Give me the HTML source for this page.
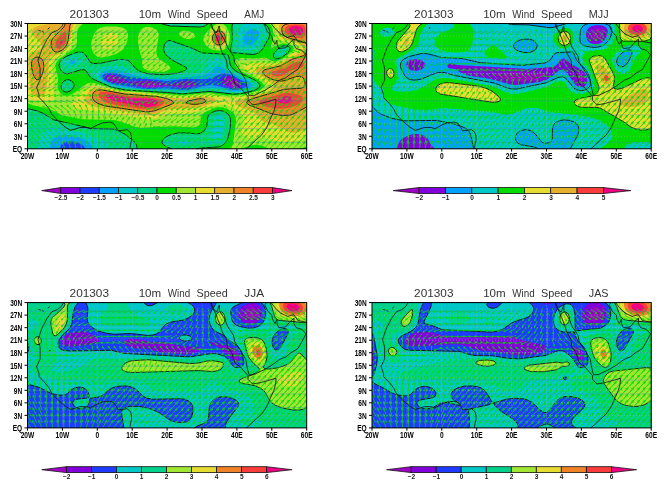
<!DOCTYPE html>
<html><head><meta charset="utf-8"><title>10m Wind Speed</title>
<style>html,body{margin:0;padding:0;background:#fff;}body{width:667px;height:490px;overflow:hidden;font-family:"Liberation Sans",sans-serif;}svg{display:block;}</style></head>
<body>
<svg width="667" height="490" viewBox="0 0 667 490" font-family="'Liberation Sans', sans-serif" shape-rendering="geometricPrecision">
<defs><filter id="gs" x="-5%" y="-5%" width="110%" height="110%" color-interpolation-filters="sRGB"><feColorMatrix type="saturate" values="0"/></filter><clipPath id="clip"><rect x="0" y="0" width="279.2" height="125.3"/></clipPath></defs>
<rect width="667" height="490" fill="#fff"/>
<g transform="translate(27.5,23.5)">
<rect x="0" y="0" width="279.2" height="125.3" fill="#a000c8"/>
<path fill="#8200dc" fill-rule="evenodd" d="M0 125.3L279.2 125.3L279.2 0L0 0L0 125.3ZM83.8 57L82 56.3L80.4 54.3L82 53.4L83.8 53.1L87.2 53.5L89.6 54.3L91.8 56.4L90.7 57.2L89 57.7L85.5 57.5L83.8 57ZM116.9 62.7L113.6 60.6L116.9 59.4L122.1 59L129.1 60.1L131 60.6L130.1 62.6L122.1 63.2L116.9 62.7ZM204.2 63.1L202.4 62.6L199.4 60.6L198.2 58.5L198.4 56.4L198.9 55.8L200.7 54.7L202.4 54.6L205.9 55.8L209.5 58.5L210.7 60.6L209.4 62.7L207.7 63.2L205.9 63.3L204.2 63.1Z"/>
<path fill="#1e3cff" fill-rule="evenodd" d="M0 125.3L279.2 125.3L279.2 0L0 0L0 125.3ZM155.3 64.8L143.2 62.6L141.3 61.8L140.2 62.6L125.6 64.6L116.9 64.2L109.1 62.6L104.7 60.8L103.5 60.6L103 59.8L101.2 59.2L92.5 59.9L87.2 59.5L83.4 58.5L79.2 56.4L77.4 54.3L78.5 52.1L80.3 51.5L83.8 51.1L87.2 51.5L94.9 54.3L98.7 56.4L99.5 57.2L101.2 58L120.4 57.1L132.6 58.7L139.6 60.3L143.1 60.4L155.3 57.7L162.3 57.6L167.5 58.5L170 60.6L167.5 62.7L158.7 64.7L155.3 64.8ZM204.2 64.8L198.1 62.6L195.2 60.6L193.8 58.5L193.9 56.4L195.4 54.1L197.2 52.9L198.9 52.3L200.7 52.2L204.2 53.1L210.1 56.4L212.9 58.6L214.6 60.6L214.4 62.6L211.1 64.4L209.4 64.9L205.9 65L204.2 64.8Z"/>
<path fill="#00a0ff" fill-rule="evenodd" d="M0 125.3L32.6 125.3L32.8 123.2L33.9 121.1L36.6 119L40.1 118L45.4 118L50.6 119.3L54.3 121.1L56.6 123.2L57.9 125.3L279.2 125.3L279.2 0L0 0L0 125.3ZM111.7 64.8L85.5 60.4L80.2 58.5L76.7 56.4L74.9 54.3L74.8 52.2L76.8 50.5L80.3 49.5L85.5 49.3L94.2 51.2L103 53.8L139.6 57.5L158.8 55.2L178 55.8L183.2 54.7L194.2 50.1L197.2 49.7L200.7 50.2L205.9 52.2L217 58.5L219.4 60.6L219.4 62.6L216.1 64.7L211.1 66.2L207.7 66.5L202.4 65.9L188.5 61.9L183.2 61.6L178 62.3L160.5 66.2L153.6 66.3L139.6 64.8L120.4 65.6L111.7 64.8Z"/>
<path fill="#00c8c8" fill-rule="evenodd" d="M0 125.3L21.9 125.3L22.7 121L24.7 116.9L26.5 114.9L29.7 112.8L33.2 111.7L38.4 111.3L48.9 112.9L55.8 115.3L59.3 117.2L61.7 119L63.4 121.1L64.6 123.7L64.9 125.3L279.2 125.3L279.2 0L0 0L0 125.3ZM41.9 39.8L41.7 39.7L42.1 37.6L43.6 36.9L45.4 36.7L47.1 37.2L47.6 37.6L47 39.7L45.4 40.4L43.6 40.5L41.9 39.8ZM144.8 66.8L109.9 65.7L89 62.6L80.3 59.8L74.3 56.4L72.3 54.3L71.6 52.2L72.5 50.1L75 48.4L80.3 46.8L87.2 46.2L92.5 47.1L108.4 52.2L137.9 55.4L176.2 52L180.9 50.1L183.5 48L187.3 43.9L188.5 43.1L190.2 42.7L191.9 43.1L221.9 58.5L224.1 60.6L224.2 62.6L221.6 64.8L214.6 67L209.4 67.8L204.2 67.7L186.7 64.5L174.5 65.2L158.8 67.7L144.8 66.8ZM219.9 21.4L218.1 20.9L215.9 18.8L215.2 16.7L215.4 14.6L216.4 11.9L219.1 8.4L222.3 6.3L225.1 5.6L226.9 5.7L228.9 6.3L230.3 7.3L231.2 8.4L231.9 10.4L231.5 12.5L230.3 15.2L227.6 18.8L224.6 20.9L223.4 21.3L221.6 21.5L219.9 21.4Z"/>
<path fill="#00d28c" fill-rule="evenodd" d="M0 125.3L8.8 125.3L14.4 112.8L15.7 110.5L17.4 108.4L20.9 106.3L26.2 105.1L34.9 105.1L55.8 109.4L79.6 119L81.2 121.1L79 123.2L76.8 124.5L76 125.3L279.2 125.3L279.2 0L226.8 0L232.5 2.1L235.7 4.2L237.4 6.3L238 8.4L238.1 10.4L236.8 14.6L232.1 21.7L230.3 23.7L228.6 25.1L226.8 26.1L223.4 27L218.1 26.9L212.9 25.5L211.1 24.6L209.4 23L208.5 20.9L208.3 16.7L209.4 9.9L211.1 6.2L212.9 3.8L214.6 2L216.4 0.6L217.6 0L167.5 0.1L151.8 0.2L0 0L0 125.3ZM38.4 43.9L36.6 42.6L36.1 41.8L35.8 39.7L36.7 37.6L39 35.5L41.9 34L45.4 33.1L48.9 33.2L50.6 33.7L52.8 35.5L53.5 37.6L53 39.7L50.6 42.2L47.1 43.9L43.6 44.6L40.1 44.5L38.4 43.9ZM153.6 121.1L151.8 119L153.6 116.9L155.3 116.4L157 116.3L161.1 116.9L163.3 119L161.2 121.1L157 121.7L153.6 121.1ZM186.7 117.1L185 116.6L183.2 114.8L183.2 112.5L185.9 102.3L186.5 96.1L187.3 94L188.5 92.8L190.2 91.9L192.7 91.9L193.7 92.2L195.9 94L196.9 96.1L197.2 98.2L196.9 104.4L195.4 110.7L193.7 113.8L191.9 115.7L190.2 116.7L188.5 117.1L186.7 117.1ZM251.3 31.5L250.9 31.3L250.9 29.2L252.4 27.1L254.8 25.6L256.6 25.1L258.3 26.3L258.5 27.1L256.5 29.6L253 31.6L251.3 31.5ZM151.8 69L92.5 64.6L83.8 62.5L76.8 59.6L71.4 56.4L69.1 54.3L67.8 52.2L67.6 50.1L68.4 48L71.5 45.5L80.3 42.6L87.2 41.5L92.5 41.9L96 43L106.4 48.7L110 50.1L134.4 53.3L167.6 50.1L172.8 48.7L174.5 47.8L176.4 45.9L177.4 43.9L178.8 39.7L180.3 37.6L184.1 35.5L188.5 34.8L191.9 35.1L193.7 35.7L195.9 37.6L200.1 43.9L202.4 46L209.4 50.6L223.4 56.7L226.2 58.5L228.2 60.6L228.5 62.6L226.5 64.7L221.6 66.8L211.1 69.1L202.4 68.9L185 66.4L155.3 69.1L151.8 69Z"/>
<path fill="#00dc00" fill-rule="evenodd" d="M109.4 125.3L144.1 125.3L138.5 123.2L135.7 121.1L134.6 119L134.8 116.9L136.5 114.9L139.6 112.8L144.8 110.6L151.8 109.3L160.5 109.5L169.3 110.3L172.8 109.8L175.1 108.6L177.2 106.5L178.4 104.4L179.3 102.3L179.8 98.2L180.1 94L181 91.9L183.2 89.6L187.4 87.7L191.9 87.1L196 87.7L199.8 89.8L201.6 91.9L202.6 94L203.1 96.1L202.8 104.4L200.4 114.9L198.1 119L195.4 121.6L191.9 123.3L172.8 124.6L169.3 125.3L279.2 125.3L279.2 0L235.3 0L239.1 2.2L240.9 4.2L241.9 6.3L242.3 8.4L242.3 10.4L241.4 14.6L235.2 25.1L233.7 27.1L231.3 29.2L228.6 30.4L225.1 31L204.9 29.2L204.2 28.9L203.2 27.1L204.8 14.6L204.4 4.2L204.6 2.1L205.2 0L180.6 0L177.9 2.1L176.2 2.9L172.8 3.5L143.1 2.5L136.1 0.9L133.7 0L0 0L0 85L10.7 87.7L15.7 89.9L26.2 96.3L64.6 105.1L85.5 105.6L90.7 107.1L97.7 110.9L105.4 116.9L107.4 119L108.8 121.1L109.4 123.2L109.4 125.3ZM139.6 69L97.7 66.5L83.8 63.6L66.3 56L63.7 54.3L61.7 52.2L59.2 48L57.6 46.6L55.8 46.2L52.3 46.6L40.1 50.4L38.4 50.1L36.6 49.6L34.6 48L32.8 45.9L31.9 43.9L31.6 41.8L31.9 39.7L33.2 37.3L34.9 35.4L38.4 33.1L45.4 30.1L50.6 28.6L52.3 28.4L54.1 28.5L55.8 29.3L58 31.3L62.8 38.7L64.6 39.7L66.3 40.1L73.3 39.6L90.7 36.1L96 35.8L99.5 36.5L101.5 37.6L104.7 40.8L107.1 43.9L109.9 46.3L113.4 48.3L120.4 50.3L136.1 51.3L147 50.1L155.3 48L159.4 45.9L158.8 43.9L146.5 37.6L140.5 33.4L137.9 30.5L137.1 29.2L136.4 27.1L136.1 25L136.4 23L137.1 20.9L138.4 18.8L139.6 17.8L141.3 17.1L143.1 17.1L165.8 25.2L174.5 29.4L198.9 30.8L200.3 31.3L200.7 31.7L201.3 33.4L202.4 39.8L203.1 41.8L204.4 43.9L206.3 45.9L209.4 48.3L227.1 56.4L230.3 58.7L232 60.6L232.5 62.6L230.9 64.7L226.9 66.9L214.6 70L205.9 70.6L181.5 67.9L155.3 70.4L139.6 69ZM246 33.6L246 31.1L246.9 29.2L250.5 25.1L254.8 22.7L256.5 22.3L258.3 22.3L261 23L261.8 23.7L262.6 25.1L261.8 27.4L260 29.5L254.8 33.4L251.3 34.9L249.5 35.2L247.8 34.9L246 33.6ZM36.6 68L34.9 66.7L33.8 64.7L33.6 62.6L34.2 60.6L34.9 59.3L36.6 57.4L38.4 56.5L40.1 56.1L41.9 56.4L43.6 57.2L45.4 58.7L46.5 60.6L46.5 62.6L45.4 64.9L43.6 66.8L41.9 67.8L40.1 68.4L38.4 68.5L36.6 68Z"/>
<path fill="#a0e632" fill-rule="evenodd" d="M201.9 125.3L213.9 125.3L219.9 122.7L225.1 121.4L230.3 121.4L235.6 122.5L241.4 125.3L273.5 125.3L279.2 122.3L279.2 0L241 0L243.6 2.1L244.8 4.2L245.7 8.4L245.8 12.5L245.2 16.7L243.5 23L244.3 24.4L253 20.7L256.5 20.1L260 20.3L262.3 20.9L265.5 23L266.2 25.1L265.2 27.1L260 31.8L253 36.2L249 37.6L246 37.8L244.3 37.4L240.5 35.5L239.1 34.4L237.3 34L226.8 35.1L214.6 34.6L211.1 35L209.4 35.8L207.9 37.6L207.4 39.7L207.8 41.8L209.4 44.4L211.1 46.1L214.6 48.3L228.6 54.9L233.9 58.5L235.8 60.6L236.5 62.6L235.2 64.7L231.9 66.8L219.9 70.5L209.4 72.1L198.9 71.8L181.5 69.6L153.6 71.7L92.5 66.7L66.3 59.6L62.8 59.3L61.1 59.5L57.6 60.9L47.1 69.2L41.9 71.6L38.4 72.1L36.6 71.8L34.8 71L33.2 69.9L31 66.8L30.2 64.7L30 62.6L30.6 54.3L28.5 45.9L28.1 43.9L28.1 41.8L28.5 39.7L29.7 37.5L31.4 35.5L45.4 26.4L47.1 24.9L48.5 23L49.2 20.9L49.5 16.7L49.4 10.4L50.6 5.5L52.3 2.9L55.8 0L0 0L0 79.7L5.2 81.8L22.7 85.7L35.3 91.9L54.1 95.7L85.5 96.5L94.2 98.2L106.4 103.1L113.4 104.2L146.6 102.7L165.8 103.9L169.3 103.2L171.1 102.3L172.8 100.1L173.1 98.2L173.4 94L174.2 91.9L176.2 89.6L179.7 87.4L186.7 84.9L191.9 84.1L195.4 84.3L200.7 85.9L204.2 88L206.1 89.8L207.7 92.5L208.2 94L208.5 98.2L205.6 119L203.9 123.2L201.9 125.3ZM122.9 48L132.6 48.6L138.3 48L142.8 45.9L142.9 43.9L141 41.8L131.8 35.5L130 33.4L129.1 30.8L128.9 27.1L131.2 12.5L131.2 10.4L130.6 8.4L128.9 6.3L125 4.2L122.1 3.5L118.7 3.5L116.1 4.2L113.2 6.3L111.7 8.9L110.7 12.5L110.5 18.8L111.9 27.1L114.5 35.5L114.6 37.6L114.5 41.8L115.4 43.9L117.5 45.9L122.9 48ZM70.6 33.4L73.3 33.9L78.5 33.4L87.2 31L91.2 29.2L94.2 27.1L96.2 25.1L98.6 20.9L100 16.7L100.5 12.5L100.4 10.4L99.5 7.8L98.5 6.3L95.4 4.2L89 2.9L78.5 3L73 4.2L71.5 4.9L69.6 6.3L67.8 8.4L65.6 12.5L64.2 16.7L63.6 20.9L63.7 23L64.8 27.1L66.3 29.9L68.1 31.9L70.6 33.4ZM188.8 27.1L193.7 27.1L195.4 26.6L197.2 25.8L198.9 24.3L201.1 20.9L201.8 18.8L202.4 14.1L202.1 10.4L201.6 8.4L200.6 6.3L198.9 3.6L197.2 1.7L195.4 0.3L190.2 0L188.5 0.7L183.2 4.5L179.4 8.4L176.5 12.5L175.8 14.6L175.9 16.7L176.6 18.8L178 21.2L179.7 23.2L182.1 25.1L185 26.3L188.8 27.1ZM156.1 14.6L158.8 15.4L162.3 15.6L166.4 14.6L167.9 12.5L166.9 10.4L164 8.4L158.8 7.2L155.3 7.3L152.1 8.4L151.4 10.4L152.8 12.5L156.1 14.6Z"/>
<path fill="#e6dc32" fill-rule="evenodd" d="M247.8 116.9L253 118.4L258.3 118.9L267 118L274 115.9L277.5 114.1L279.2 112.8L279.2 0L246.6 0L247.8 2.4L249.8 14.6L251.3 16.8L253 17.5L262.3 18.8L267.4 20.9L269.8 23L270.6 25.1L269.6 27.1L253 38.1L247.8 39.8L244.3 40L235.6 39L219.2 39.7L218.1 39.9L216.4 40.9L215.6 41.8L216.1 43.9L218.1 46L237.9 58.5L240.1 60.6L241 62.6L239.9 64.7L236.9 66.8L226.9 70.5L209.4 73.9L198.9 74.2L181.5 71.2L171 71.5L155.3 73.1L94.2 68L69.8 62.5L66.3 62.4L62.8 63.1L59.3 65L52.3 71.8L47.9 75.2L45.8 77.3L44.5 79.4L44.5 81.4L46.5 83.5L52.3 85.8L101.2 92.5L115.2 95.7L122.1 96L127.4 95.2L141.3 90.4L146.6 89.8L158.8 90.6L167.5 88.7L188.5 81.7L193.7 80.9L198.9 81.6L205.9 84.6L211.1 87.8L213.7 89.8L215.3 91.9L215.9 94L215.9 96.1L214.5 104.4L214.6 109.2L215 110.7L216.4 113.2L218.1 114.2L221.6 114.7L237.3 114.6L242.6 115.3L247.8 116.9ZM4.3 77.3L8.7 78.5L15.7 79L20.9 78.6L25 77.3L26.7 75.2L26.9 73.1L25.4 64.7L25.2 50.1L24.6 43.9L25 39.7L26.2 37.1L27.9 35.3L40.1 27.1L42.4 25.1L43.7 23L44.6 20.9L46.2 8.4L47.3 4.2L49.7 0L0 0L0 73.5L1.7 75.7L4.3 77.3ZM76.4 25.1L78.5 25.6L82 25.4L83.8 24.9L87.2 22.9L89.1 20.9L90.1 18.8L90.7 16.7L90.7 14.5L90.2 12.5L88.6 10.4L87.2 9.7L85.5 9.3L83.8 9.3L79.5 10.4L76.8 12.5L75 15L74.2 16.7L73.7 18.8L73.6 20.9L74.2 23L75 24L76.4 25.1ZM184.9 23L186.7 24.1L188.5 24.7L191.9 24.9L193.7 24.7L195.4 24L197.2 22.7L198.9 20.6L199.9 18.8L200.5 16.7L200.6 12.5L200.2 10.4L198.9 7.9L197.2 5.8L195.4 4.6L193.7 3.9L191.9 3.6L190.2 3.8L186.7 5.2L185 6.6L183.2 8.5L182 10.4L181.2 12.5L180.9 14.6L181 16.7L181.6 18.8L183.2 21.4L184.9 23Z"/>
<path fill="#e6af2d" fill-rule="evenodd" d="M261.9 108.6L265.2 109.2L268.7 109.2L272.2 108.4L275.9 106.5L279.2 103.2L279.2 0L253 0L251.6 2.1L251.4 4.2L251.6 8.4L252.1 10.4L253 12.7L254.8 14.6L258.3 16L268.7 18.9L272.9 20.9L274.9 23L275.5 25.1L274.9 27.1L273 29.2L260 35.9L253 40.1L247.8 41.8L233.8 42.8L230 43.9L228.6 45L227.8 45.9L228.3 48L230.3 50.3L246 60.8L247.4 62.6L246 64.7L242.6 66.9L226.8 72.3L208.2 77.3L207.2 79.4L209.4 81.5L216.4 85L223.8 87.7L227.7 89.8L230.3 92.2L233.8 96.7L236 98.2L246 100.8L260 108L261.9 108.6ZM108.8 89.8L116.9 91.3L122.1 91.4L127.4 90.5L143.1 85.4L167.5 84.7L176.2 82.8L185.3 79.4L188.3 77.3L187.4 75.2L179.7 73L169.3 73.2L155.3 74.9L144.8 74.2L87.2 67.6L71.5 64.6L67.3 64.7L64.6 65.7L62.7 66.8L60.9 68.9L58.5 73.1L57.6 75.6L57.6 77.4L58.7 79.4L61.8 81.4L73.3 85L108.8 89.8ZM8 73.1L10.5 73.5L14.1 73.1L15.7 72.2L17 71L18.1 68.9L20.8 50.1L21 37.6L21.4 35.5L22.7 33.4L24.4 32.6L29.7 31.3L34.9 28.6L39.3 25.1L40.7 23L42.3 18.8L44.2 6.3L45.5 2.1L46.6 0L24.4 0L10.5 2.4L6.5 4.2L5.1 6.3L4.7 8.4L5.2 10.9L6.2 12.5L12.6 18.8L13.8 20.9L14.3 23L13.6 25.1L12.2 26L8.7 27.3L5.2 28.1L3 29.2L1.6 31.3L1 37.6L2.7 64.7L3.6 68.9L5.2 71.4L7 72.7L8 73.1ZM190.1 23L192.3 23L193.7 22.7L195.4 21.8L197.2 20.2L198.1 18.8L198.9 16.7L199.2 14.6L198.9 12L198.4 10.4L197.1 8.4L195.4 6.9L193.7 6.1L191.9 5.8L190.2 5.9L188.5 6.5L185.9 8.4L184.3 10.4L183.5 12.5L183.2 14.7L183.4 16.7L184.2 18.8L185.8 20.9L186.7 21.7L188.5 22.6L190.1 23Z"/>
<path fill="#f08228" fill-rule="evenodd" d="M253.5 91.9L261.8 91.7L265.2 90.8L277.5 84.4L279.2 83.1L279.2 25.3L278.6 29.2L277.3 31.3L275.7 32.3L265.2 35.5L253 42.4L237.3 46.2L235.2 48L235.7 50.1L237.8 52.2L242.6 55L247.8 56.9L253 57.6L256.5 57.3L268.7 53L272.2 52.7L274 53.1L275.7 54.3L276.9 56.4L277.5 58.5L277.5 61.4L277.1 62.6L275.7 63.9L273.9 64.7L256.5 65.8L224.9 75.2L220.2 77.3L219.1 79.4L221.6 81.5L244.3 90.3L253.5 91.9ZM113.4 87.7L120.4 88.4L127.4 87.3L143.1 81.1L146.6 79.4L144.8 77.3L139.6 75.2L129.1 72.9L97.7 70.6L75 66.5L71.5 66.5L69.1 66.8L68.1 67.3L66 68.9L65.2 71L65 73.1L65.3 75.2L66.5 77.3L69.8 79.6L76.8 82.3L113.4 87.7ZM158.2 79.4L164 80.7L169.3 80.8L174.5 79.8L176.2 79.3L178.7 77.3L176.2 75.6L174.5 75.2L171 75.3L161.3 77.3L158.2 79.4ZM7.3 54.3L8.7 56L10.5 56.4L12.2 55.3L14.2 52.2L15.7 47.8L16.2 43.9L16 39.7L15.5 37.6L14 35.1L12.2 34L10.5 33.6L8.7 33.7L7 34.3L5.2 35.8L4.4 37.6L4 39.7L4.1 43.9L5.4 50.1L7.3 54.3ZM25.8 27.1L27.9 28.4L29.7 28.6L31.4 28.2L34.9 26.5L36.6 25L38.4 22.8L39.4 20.9L40.7 16.7L42.4 2.1L43.5 0L37.5 0L37.2 2.1L35.8 4.2L25.4 14.6L24.3 16.7L23.8 18.8L23.7 20.9L23.9 23L24.5 25.1L25.8 27.1ZM189.1 20.9L190.2 21.3L191.9 21.4L193.8 20.9L195.4 19.8L196.4 18.8L197.5 16.7L197.8 14.6L197.6 12.5L196.7 10.4L195.4 8.9L193.7 7.9L191.9 7.5L190.2 7.7L188.5 8.4L186.3 10.4L185.3 12.5L185 14.6L185.3 16.7L186.7 19.2L188.5 20.6L189.1 20.9ZM279 20.9L279.2 22.8L279.2 0L261.8 0L258.3 0.8L255.7 2.1L254.5 4.2L254.3 6.3L254.8 9L255.3 10.4L256.9 12.5L261.8 14.8L277.7 18.8L279 20.9Z"/>
<path fill="#fa3c3c" fill-rule="evenodd" d="M115.6 85.6L122.1 85.8L127.4 84.7L130.9 83.5L134.6 81.4L136.6 79.4L136.1 77.2L132.5 75.2L120.4 73.4L101.2 72.5L80.3 68.6L75 68.4L72.3 68.9L70.7 71L71.5 73.5L73.3 75.6L75.4 77.3L80.3 79.6L89 81.7L115.6 85.6ZM240.6 83.5L247.8 85.1L256.5 85.1L265.2 83.3L270.5 80.9L272.8 79.4L274.6 77.3L275.3 75.2L274.5 73.1L270.5 70.9L263.5 69.4L258.3 69.3L235.5 75.2L231.7 77.3L231.7 79.4L235.6 81.7L240.6 83.5ZM245.5 52.2L249.5 52.9L253 52.6L254.8 52.2L258.8 50.1L263.5 47L274.3 43.9L276.1 41.8L275.9 39.7L274 38.2L272.2 37.9L268.7 38.5L265.2 39.9L258.3 44.5L244.9 48L242.9 50.1L245.5 52.2ZM29.5 25.1L31.4 25.5L33.2 25.1L35.8 23L37.2 20.9L38.7 16.7L39.1 12.5L39 10.4L38.4 8.7L36.6 8.5L33.2 11.3L30.4 14.6L29.2 16.7L28.4 18.8L28 20.9L28.2 23L29.5 25.1ZM188.8 18.8L190.2 19.5L191.9 19.7L194.2 18.8L195.9 16.7L196.4 14.6L196.1 12.5L194.8 10.4L193.7 9.7L191.9 9.2L190.2 9.4L188.4 10.4L187 12.5L186.6 14.6L187.1 16.7L188.8 18.8ZM270.3 14.6L274 14.6L275.7 14L277.1 12.5L277.9 10.4L278.1 6.3L277.5 3.4L276.5 2.1L274 1.2L267 1L260.6 2.1L258 4.2L257.4 6.3L257.7 8.4L258.9 10.4L262 12.5L268.7 14.4L270.3 14.6Z"/>
<path fill="#f00082" fill-rule="evenodd" d="M118.6 83.5L122.1 83.4L125.6 82.6L128.3 81.4L130.6 79.4L130.2 77.3L124.8 75.2L101.2 74.3L85.5 71L80.3 70.8L78.8 71L78.5 73.2L80.9 75.2L85.5 77.3L116.9 83.4L118.6 83.5ZM252.3 79.4L256.5 80L260 79.9L262.1 79.4L265.2 77.1L265.6 75.2L262.8 73.1L260 72.6L256.2 73.1L251.3 75.3L249.4 77.3L252.3 79.4ZM32.4 18.8L33.2 20.7L35.1 18.8L35.5 16.7L34.9 15.3L33.1 16.7L32.4 18.8ZM189.3 16.7L190.2 17.4L191.9 17.7L193.9 16.7L194.7 14.6L194.2 12.5L193.7 11.9L191.9 11.1L190.2 11.5L189.1 12.5L188.5 14.8L189.3 16.7ZM263.7 10.4L267 11.6L270.5 12L272.2 11.7L274.4 10.4L275.5 8.4L275.6 6.3L274.6 4.2L272.2 2.9L268.7 2.5L265.2 3L262.3 4.2L261.1 6.3L261.5 8.4L263.7 10.4Z"/>
<path fill="none" stroke="#111" stroke-width="0.9" d="M144.1 125.3L138.5 123.2L135.7 121.1L134.6 119L134.8 116.9L136.5 114.9L139.6 112.8L144.8 110.6L151.8 109.3L160.5 109.5L169.3 110.3L172.8 109.8L175.1 108.6L177.2 106.5L178.4 104.4L179.3 102.3L179.8 98.2L180.1 94L181 91.9L183.2 89.6L187.4 87.7L191.9 87.1L196 87.7L199.8 89.8L201.6 91.9L202.6 94L203.1 96.1L202.8 104.4L200.4 114.9L198.1 119L195.4 121.6L191.9 123.3L172.8 124.6L168.9 125.3M0 85L10.7 87.7L15.7 89.9L26.2 96.3L64.6 105.1L85.5 105.6L90.7 107.1L97.7 110.9L105.4 116.9L107.4 119L108.8 121.1L109.4 123.2L109.4 125.3M139.6 69L97.7 66.5L83.8 63.6L66.3 56L63.7 54.3L61.7 52.2L59.2 48L57.6 46.6L55.8 46.2L52.3 46.6L40.1 50.4L38.4 50.1L36.6 49.6L34.6 48L32.8 45.9L31.9 43.9L31.6 41.8L31.9 39.7L33.2 37.3L34.9 35.4L38.4 33.1L45.4 30.1L50.6 28.6L52.3 28.4L54.1 28.5L55.8 29.3L58 31.3L62.8 38.7L64.6 39.7L66.3 40.1L73.3 39.6L90.7 36.1L96 35.8L99.5 36.5L101.5 37.6L104.7 40.8L107.1 43.9L109.9 46.3L113.4 48.3L120.4 50.3L136.1 51.3L147 50.1L155.3 48L159.4 45.9L158.8 43.9L146.5 37.6L140.5 33.4L137.9 30.5L137.1 29.2L136.4 27.1L136.1 25L136.4 23L137.1 20.9L138.4 18.8L139.6 17.8L141.3 17.1L143.1 17.1L165.8 25.2L174.5 29.4L198.9 30.8L200.3 31.3L200.7 31.7L201.3 33.4L202.4 39.8L203.1 41.8L204.4 43.9L206.3 45.9L209.4 48.3L227.1 56.4L230.3 58.7L232 60.6L232.5 62.6L230.9 64.7L226.9 66.9L214.6 70L205.9 70.6L181.5 67.9L155.3 70.4L139.6 69M36.6 68L34.9 66.7L33.8 64.7L33.6 62.6L34.2 60.6L34.9 59.3L36.6 57.4L38.4 56.5L40.1 56.1L41.9 56.4L43.6 57.2L45.4 58.7L46.5 60.6L46.5 62.6L45.4 64.9L43.6 66.8L41.9 67.8L40.1 68.4L38.4 68.5L36.6 68M246 33.6L246 31.1L246.9 29.2L250.5 25.1L254.8 22.7L256.5 22.3L258.3 22.3L261 23L261.8 23.7L262.6 25.1L261.8 27.4L260 29.5L254.8 33.4L251.3 34.9L249.5 35.2L247.8 34.9L246 33.6M180.6 0L177.9 2.1L176.2 2.9L172.8 3.5L143.1 2.5L136.1 0.9L133.7 0M235.3 0L239.1 2.2L240.9 4.2L241.9 6.3L242.3 8.4L242.3 10.4L241.4 14.6L235.2 25.1L233.7 27.1L231.3 29.2L228.6 30.4L225.1 31L204.9 29.2L204.2 28.9L203.2 27.1L204.8 14.6L204.4 4.2L204.6 2.1L205.2 0M113.4 87.7L120.4 88.4L127.4 87.3L143.1 81.1L146.6 79.4L144.8 77.3L139.6 75.2L129.1 72.9L97.7 70.6L75 66.5L71.5 66.5L69.1 66.8L68.1 67.3L66 68.9L65.2 71L65 73.1L65.3 75.2L66.5 77.3L69.8 79.6L76.8 82.3L113.4 87.7M158.2 79.4L164 80.7L169.3 80.8L174.5 79.8L176.2 79.3L178.7 77.3L176.2 75.6L174.5 75.2L171 75.3L161.3 77.3L158.2 79.4M7.3 54.3L8.7 56L10.5 56.4L12.2 55.3L14.2 52.2L15.7 47.8L16.2 43.9L16 39.7L15.5 37.6L14 35.1L12.2 34L10.5 33.6L8.7 33.7L7 34.3L5.2 35.8L4.4 37.6L4 39.7L4.1 43.9L5.4 50.1L7.3 54.3M279.2 25.3L278.6 29.2L277.3 31.3L275.7 32.3L265.2 35.5L253 42.4L237.3 46.2L235.2 48L235.7 50.1L237.8 52.2L242.6 55L247.8 56.9L253 57.6L256.5 57.3L268.7 53L272.2 52.7L274 53.1L275.7 54.3L276.9 56.4L277.5 58.5L277.5 61.4L277.1 62.6L275.7 63.9L273.9 64.7L256.5 65.8L224.9 75.2L220.2 77.3L219.1 79.4L221.6 81.5L244.3 90.3L254.8 92L261.8 91.7L265.2 90.8L277.5 84.4L279.2 83.1M189.1 20.9L190.2 21.3L191.9 21.4L193.8 20.9L195.4 19.8L196.4 18.8L197.5 16.7L197.8 14.6L197.6 12.5L196.7 10.4L195.4 8.9L193.7 7.9L191.9 7.5L190.2 7.7L188.5 8.4L186.3 10.4L185.3 12.5L185 14.6L185.3 16.7L186.7 19.2L188.5 20.6L189.1 20.9M37.5 0L37.2 2.1L35.8 4.2L25.4 14.6L24.3 16.7L23.8 18.8L23.7 20.9L23.9 23L24.5 25.1L26.2 27.5L27.9 28.4L29.7 28.6L31.4 28.2L34.9 26.5L36.6 25L38.4 22.8L39.4 20.9L40.7 16.7L42.4 2.1L43.5 0M261.8 0L258.3 0.8L255.7 2.1L254.5 4.2L254.3 6.3L254.8 9L255.3 10.4L256.9 12.5L261.8 14.8L277.7 18.8L279 20.9L279.2 22.8M279.2 0L279.2 0"/>
<path fill="none" stroke="#00dc00" stroke-width="0.8" stroke-opacity="0.92" clip-path="url(#clip)" d="M5.3 124.9l-7.7 -5.5m1.2 2.2l-1.2 -2.2l2.5 0.5M5.3 118.6l-7.7 -5.4m1.3 2.2l-1.3 -2.2l2.5 0.5M5.4 112.2l-7.7 -5.3m1.3 2.2l-1.3 -2.2l2.5 0.4M5.4 105.8l-7.8 -5m1.3 2.1l-1.3 -2.1l2.5 0.3M5.4 99.2l-7.9 -4.4m1.4 2l-1.4 -2l2.4 0.2M5.5 92.3l-8.1 -3.2m1.6 1.7l-1.6 -1.7l2.3 -0.1M5.6 85.1l-8.2 -1.4m1.9 1.3l-1.9 -1.3l2.2 -0.6M5.5 77.6l-8 0.9m2.1 0.7l-2.1 -0.7l1.9 -1.1M5.3 70.4l-7.6 2.9m2.2 0.2l-2.2 -0.2l1.5 -1.6M5 63.4l-7 4.1m2.2 -0.2l-2.2 0.2l1.2 -1.8M4.8 56.8l-6.5 4.9m2.2 -0.4l-2.2 0.4l1 -1.9M4.6 50.2l-6.1 5.3m2.1 -0.6l-2.1 0.6l0.9 -2M4.4 43.8l-5.8 5.6m2.1 -0.7l-2.1 0.7l0.8 -2M4.3 37.4l-5.6 5.8m2 -0.8l-2 0.8l0.7 -2.1M4.3 31.1l-5.5 5.9m2 -0.8l-2 0.8l0.7 -2.1M4.3 24.7l-5.5 5.9m2 -0.8l-2 0.8l0.7 -2.1M4.3 18.5l-5.6 5.9m2 -0.8l-2 0.8l0.7 -2.1M4.3 12.2l-5.7 5.8m2.1 -0.8l-2.1 0.8l0.7 -2.1M4.4 6l-5.9 5.6m2.1 -0.7l-2.1 0.7l0.8 -2M10.9 125.3l-7.1 -6.1m1 2.3l-1 -2.3l2.4 0.7M10.9 118.9l-7.1 -6m1.1 2.3l-1.1 -2.3l2.4 0.7M10.9 112.6l-7.2 -5.9m1.1 2.3l-1.1 -2.3l2.4 0.6M10.9 106.1l-7.3 -5.6m1.1 2.2l-1.1 -2.2l2.4 0.5M11 99.5l-7.4 -5.1m1.2 2.1l-1.2 -2.1l2.4 0.4M11.1 92.7l-7.7 -3.9m1.4 1.8l-1.4 -1.8l2.3 0.1M11.3 85.4l-8 -2m1.7 1.4l-1.7 -1.4l2.2 -0.4M11.3 77.9l-8 0.4m2 0.8l-2 -0.8l1.9 -1M11.1 70.5l-7.5 2.6m2.1 0.2l-2.1 -0.2l1.5 -1.5M10.8 63.5l-7 4m2.2 -0.2l-2.2 0.2l1.2 -1.8M10.5 56.8l-6.5 4.8m2.1 -0.4l-2.1 0.4l1 -1.9M10.3 50.2l-6.1 5.3m2.1 -0.6l-2.1 0.6l0.9 -2M10.2 43.8l-5.8 5.6m2.1 -0.7l-2.1 0.7l0.8 -2M10.1 37.4l-5.6 5.8m2 -0.8l-2 0.8l0.7 -2.1M10.1 31.1l-5.6 5.8m2 -0.8l-2 0.8l0.7 -2.1M10.1 24.8l-5.6 5.8m2 -0.8l-2 0.8l0.7 -2.1M10.2 18.5l-5.7 5.7m2 -0.7l-2 0.7l0.7 -2.1M10.2 12.3l-5.9 5.6m2.1 -0.7l-2.1 0.7l0.8 -2M10.3 6.1l-6.1 5.4m2.1 -0.6l-2.1 0.6l0.9 -2M16.3 125.5l-6.5 -6.7m0.8 2.4l-0.8 -2.4l2.4 0.9M16.4 119.2l-6.5 -6.6m0.8 2.4l-0.8 -2.4l2.3 0.9M16.4 112.8l-6.6 -6.5m0.9 2.3l-0.9 -2.3l2.3 0.8M16.4 106.4l-6.7 -6.2m0.9 2.3l-0.9 -2.3l2.3 0.8M16.5 99.8l-6.9 -5.7m1 2.2l-1 -2.2l2.3 0.6M16.7 93l-7.2 -4.6m1.2 2l-1.2 -2l2.3 0.3M16.9 85.8l-7.7 -2.7m1.6 1.5l-1.6 -1.5l2.2 -0.2M17 78.1l-7.8 -0.1m1.9 0.9l-1.9 -0.9l1.9 -0.9M16.8 70.6l-7.5 2.3m2.1 0.3l-2.1 -0.3l1.6 -1.4M16.6 63.5l-6.9 3.9m2.1 -0.2l-2.1 0.2l1.2 -1.8M16.3 56.8l-6.4 4.8m2.1 -0.4l-2.1 0.4l1 -1.9M16.1 50.2l-6 5.3m2.1 -0.6l-2.1 0.6l0.9 -2M16 43.8l-5.8 5.6m2.1 -0.7l-2.1 0.7l0.8 -2M15.9 37.4l-5.7 5.7m2 -0.8l-2 0.8l0.7 -2M15.9 31.1l-5.6 5.7m2 -0.8l-2 0.8l0.7 -2.1M16 24.9l-5.7 5.7m2 -0.7l-2 0.7l0.7 -2M16 18.6l-5.9 5.6m2.1 -0.7l-2.1 0.7l0.8 -2M16.1 12.4l-6 5.4m2.1 -0.6l-2.1 0.6l0.9 -2M16.2 6.2l-6.3 5.2m2.1 -0.5l-2.1 0.5l0.9 -2M21.8 125.8l-5.8 -7.2m0.6 2.4l-0.6 -2.4l2.2 1.1M21.8 119.5l-5.9 -7.1m0.6 2.4l-0.6 -2.4l2.2 1.1M21.9 113.1l-5.9 -7m0.7 2.4l-0.7 -2.4l2.2 1M21.9 106.7l-6 -6.7m0.7 2.3l-0.7 -2.3l2.2 1M22 100.1l-6.3 -6.2m0.8 2.2l-0.8 -2.2l2.2 0.8M22.2 93.3l-6.7 -5.2m1 2l-1 -2l2.2 0.5M22.5 86.1l-7.3 -3.3m1.4 1.6l-1.4 -1.6l2.2 0M22.7 78.4l-7.7 -0.6m1.8 1l-1.8 -1l1.9 -0.7M22.6 70.7l-7.4 2.1m2.1 0.3l-2.1 -0.3l1.6 -1.4M22.3 63.6l-6.9 3.8m2.1 -0.2l-2.1 0.2l1.2 -1.7M22.1 56.8l-6.4 4.8m2.1 -0.5l-2.1 0.5l1 -1.9M21.9 50.2l-6 5.3m2.1 -0.6l-2.1 0.6l0.9 -2M21.8 43.8l-5.8 5.6m2.1 -0.7l-2.1 0.7l0.8 -2M21.8 37.5l-5.7 5.7m2 -0.7l-2 0.7l0.7 -2M21.8 31.2l-5.7 5.7m2 -0.7l-2 0.7l0.8 -2M21.8 24.9l-5.8 5.6m2.1 -0.7l-2.1 0.7l0.8 -2M21.9 18.7l-6 5.4m2.1 -0.6l-2.1 0.6l0.9 -2M22 12.5l-6.2 5.2m2.1 -0.6l-2.1 0.6l0.9 -2M22.1 6.3l-6.5 4.9m2.1 -0.5l-2.1 0.5l1 -1.9M27.3 126l-5.1 -7.6m0.4 2.4l-0.4 -2.4l2.1 1.3M27.3 119.7l-5.2 -7.5m0.4 2.4l-0.4 -2.4l2.1 1.3M27.3 113.3l-5.2 -7.4m0.4 2.4l-0.4 -2.4l2.1 1.2M27.4 106.9l-5.4 -7.2m0.5 2.4l-0.5 -2.4l2.1 1.2M27.5 100.4l-5.6 -6.7m0.6 2.3l-0.6 -2.3l2.1 1M27.7 93.6l-6.1 -5.8m0.8 2.1l-0.8 -2.1l2.1 0.7M28.1 86.4l-6.8 -3.9m1.2 1.7l-1.2 -1.7l2.1 0.2M28.4 78.6l-7.4 -1m1.7 1.1l-1.7 -1.1l1.9 -0.6M28.3 70.9l-7.3 1.9m2 0.4l-2 -0.4l1.6 -1.3M28.1 63.6l-6.8 3.8m2.1 -0.2l-2.1 0.2l1.2 -1.7M27.8 56.8l-6.3 4.8m2.1 -0.5l-2.1 0.5l1 -1.9M27.7 50.2l-6 5.3m2.1 -0.6l-2.1 0.6l0.9 -2M27.6 43.8l-5.8 5.5m2.1 -0.7l-2.1 0.7l0.8 -2M27.6 37.5l-5.8 5.6m2.1 -0.7l-2.1 0.7l0.8 -2M27.6 31.2l-5.8 5.6m2.1 -0.7l-2.1 0.7l0.8 -2M27.7 25l-6 5.4m2.1 -0.6l-2.1 0.6l0.8 -2M27.8 18.8l-6.2 5.2m2.1 -0.6l-2.1 0.6l0.9 -2M27.9 12.6l-6.4 5m2.1 -0.5l-2.1 0.5l1 -2M28 6.4l-6.6 4.7m2.2 -0.4l-2.2 0.4l1.1 -1.9M32.7 126.2l-4.4 -7.9m0.2 2.4l-0.2 -2.4l2 1.4M32.7 119.8l-4.4 -7.9m0.2 2.4l-0.2 -2.4l2 1.4M32.7 113.5l-4.5 -7.8m0.2 2.4l-0.2 -2.4l2 1.4M32.8 107.1l-4.6 -7.6m0.3 2.4l-0.3 -2.4l2 1.3M32.9 100.6l-4.9 -7.2m0.4 2.3l-0.4 -2.3l2 1.2M33.2 93.8l-5.4 -6.3m0.6 2.2l-0.6 -2.2l2 0.9M33.6 86.6l-6.3 -4.5m1 1.8l-1 -1.8l2.1 0.4M34.1 78.9l-7.1 -1.5m1.6 1.2l-1.6 -1.2l1.9 -0.4M34.1 71l-7.2 1.7m1.9 0.4l-1.9 -0.4l1.6 -1.2M33.8 63.6l-6.7 3.7m2.1 -0.2l-2.1 0.2l1.2 -1.7M33.6 56.8l-6.2 4.8m2.1 -0.5l-2.1 0.5l1 -1.9M33.5 50.2l-5.9 5.3m2.1 -0.6l-2.1 0.6l0.9 -2M33.4 43.8l-5.8 5.5m2.1 -0.7l-2.1 0.7l0.8 -2M33.4 37.5l-5.8 5.5m2.1 -0.7l-2.1 0.7l0.8 -2M33.5 31.3l-6 5.4m2.1 -0.7l-2.1 0.7l0.8 -2M33.6 25.1l-6.1 5.3m2.1 -0.6l-2.1 0.6l0.9 -2M33.7 18.9l-6.3 5.1m2.1 -0.5l-2.1 0.5l1 -2M33.8 12.7l-6.6 4.8m2.2 -0.4l-2.2 0.4l1.1 -1.9M33.9 6.5l-6.8 4.5m2.2 -0.3l-2.2 0.3l1.1 -1.9M38.1 126.3l-3.6 -8.2m-0.1 2.4l0.1 -2.4l1.8 1.6M38.1 120l-3.6 -8.2m0 2.4l0 -2.4l1.8 1.6M38.2 113.6l-3.7 -8.1m0 2.4l0 -2.4l1.8 1.6M38.2 107.2l-3.8 -7.9m0 2.4l0 -2.4l1.8 1.5M38.4 100.8l-4.1 -7.5m0.2 2.3l-0.2 -2.3l1.9 1.4M38.6 94l-4.7 -6.7m0.4 2.2l-0.4 -2.2l1.9 1.1M39.1 86.9l-5.7 -5m0.8 1.9l-0.8 -1.9l2 0.6M39.7 79.1l-6.8 -2m1.4 1.3l-1.4 -1.3l1.9 -0.3M39.8 71.1l-7 1.5m1.9 0.4l-1.9 -0.4l1.5 -1.2M39.6 63.6l-6.6 3.7m2 -0.2l-2 0.2l1.2 -1.7M39.4 56.8l-6.2 4.8m2.1 -0.5l-2.1 0.5l1 -1.9M39.3 50.3l-5.9 5.3m2.1 -0.6l-2.1 0.6l0.9 -2M39.2 43.9l-5.9 5.5m2.1 -0.7l-2.1 0.7l0.8 -2M39.3 37.6l-5.9 5.5m2.1 -0.7l-2.1 0.7l0.8 -2M39.3 31.3l-6.1 5.3m2.1 -0.6l-2.1 0.6l0.9 -2M39.4 25.1l-6.3 5.1m2.1 -0.5l-2.1 0.5l1 -2M39.6 18.9l-6.5 4.9m2.2 -0.5l-2.2 0.5l1 -1.9M39.7 12.8l-6.7 4.6m2.2 -0.4l-2.2 0.4l1.1 -1.9M39.8 6.6l-6.9 4.4m2.2 -0.3l-2.2 0.3l1.2 -1.9M43.5 126.4l-2.8 -8.4m-0.3 2.4l0.3 -2.4l1.6 1.7M43.5 120.1l-2.8 -8.4m-0.3 2.4l0.3 -2.4l1.6 1.7M43.5 113.8l-2.9 -8.3m-0.2 2.4l0.2 -2.4l1.7 1.7M43.6 107.4l-3 -8.1m-0.2 2.3l0.2 -2.3l1.7 1.6M43.8 100.9l-3.3 -7.8m-0.1 2.3l0.1 -2.3l1.7 1.5M44 94.2l-3.9 -7m0.2 2.2l-0.2 -2.2l1.8 1.3M44.6 87.1l-5 -5.5m0.6 1.9l-0.6 -1.9l1.8 0.8M45.4 79.3l-6.6 -2.4m1.3 1.3l-1.3 -1.3l1.9 -0.2M45.5 71.1l-6.9 1.4m1.8 0.5l-1.8 -0.5l1.5 -1.1M45.3 63.7l-6.5 3.7m2 -0.2l-2 0.2l1.2 -1.6M45.2 56.8l-6.1 4.8m2 -0.5l-2 0.5l0.9 -1.9M45.1 50.3l-6 5.3m2.1 -0.6l-2.1 0.6l0.9 -2M45.1 43.9l-5.9 5.4m2.1 -0.6l-2.1 0.6l0.8 -2M45.1 37.6l-6 5.4m2.1 -0.6l-2.1 0.6l0.9 -2M45.2 31.4l-6.2 5.2m2.1 -0.6l-2.1 0.6l0.9 -2M45.3 25.2l-6.4 5m2.1 -0.5l-2.1 0.5l1 -2M45.4 19l-6.6 4.7m2.2 -0.4l-2.2 0.4l1.1 -1.9M45.5 12.9l-6.8 4.5m2.2 -0.3l-2.2 0.3l1.2 -1.9M45.6 6.7l-7 4.2m2.2 -0.2l-2.2 0.2l1.2 -1.8M48.9 126.5l-1.9 -8.5m-0.5 2.3l0.5 -2.3l1.4 1.9M48.9 120.2l-2 -8.5m-0.5 2.3l0.5 -2.3l1.5 1.9M48.9 113.8l-2 -8.4m-0.5 2.3l0.5 -2.3l1.5 1.8M49 107.4l-2.2 -8.3m-0.4 2.3l0.4 -2.3l1.5 1.8M49.1 101l-2.5 -8m-0.3 2.2l0.3 -2.2l1.5 1.7M49.4 94.3l-3.1 -7.3m-0.1 2.1l0.1 -2.1l1.6 1.4M50 87.3l-4.2 -5.9m0.4 1.9l-0.4 -1.9l1.7 1M51.1 79.6l-6.3 -3m1.2 1.5l-1.2 -1.5l1.9 0M51.3 71.2l-6.9 1.3m1.8 0.5l-1.8 -0.5l1.5 -1.1M51.1 63.7l-6.3 3.7m2 -0.2l-2 0.2l1.1 -1.6M50.9 56.8l-6.1 4.8m2 -0.5l-2 0.5l0.9 -1.9M50.9 50.3l-6 5.3m2.1 -0.6l-2.1 0.6l0.9 -2M50.9 43.9l-6 5.4m2.1 -0.6l-2.1 0.6l0.9 -2M51 37.7l-6.2 5.3m2.1 -0.6l-2.1 0.6l0.9 -2M51.1 31.4l-6.3 5.1m2.1 -0.5l-2.1 0.5l1 -2M51.2 25.3l-6.6 4.9m2.2 -0.4l-2.2 0.4l1 -1.9M51.3 19.1l-6.8 4.6m2.2 -0.4l-2.2 0.4l1.1 -1.9M51.4 12.9l-6.9 4.3m2.2 -0.3l-2.2 0.3l1.2 -1.9M51.4 6.7l-7.1 4.1m2.2 -0.2l-2.2 0.2l1.3 -1.8M54.2 126.5l-1 -8.6m-0.7 2.2l0.7 -2.2l1.2 2M54.2 120.2l-1.1 -8.5m-0.7 2.2l0.7 -2.2l1.2 2M54.3 113.8l-1.1 -8.5m-0.7 2.2l0.7 -2.2l1.2 1.9M54.3 107.5l-1.3 -8.3m-0.6 2.2l0.6 -2.2l1.3 1.9M54.5 101l-1.6 -8.1m-0.5 2.2l0.5 -2.2l1.3 1.8M54.8 94.4l-2.2 -7.5m-0.3 2.1l0.3 -2.1l1.4 1.6M55.4 87.5l-3.4 -6.2m0.1 1.9l-0.1 -1.9l1.5 1.1M56.7 79.9l-6 -3.6m1.1 1.6l-1.1 -1.6l1.9 0.2M57.1 71.2l-6.9 1.2m1.8 0.5l-1.8 -0.5l1.5 -1.1M56.8 63.7l-6.2 3.7m1.9 -0.2l-1.9 0.2l1.1 -1.6M56.7 56.8l-6 4.8m2 -0.5l-2 0.5l0.9 -1.9M56.7 50.3l-6 5.2m2.1 -0.6l-2.1 0.6l0.9 -2M56.7 44l-6.1 5.3m2.1 -0.6l-2.1 0.6l0.9 -2M56.8 37.7l-6.3 5.2m2.1 -0.6l-2.1 0.6l0.9 -2M56.9 31.5l-6.5 5m2.1 -0.5l-2.1 0.5l1 -2M57 25.3l-6.7 4.7m2.2 -0.4l-2.2 0.4l1.1 -1.9M57.1 19.2l-6.8 4.5m2.2 -0.3l-2.2 0.3l1.2 -1.9M57.2 13l-7 4.3m2.2 -0.2l-2.2 0.2l1.2 -1.8M57.3 6.8l-7.1 4.1m2.2 -0.2l-2.2 0.2l1.3 -1.8M59.6 126.5l-0.1 -8.5m-0.9 2.1l0.9 -2.1l1 2.1M59.6 120.1l-0.2 -8.5m-0.9 2.1l0.9 -2.1l1 2.1M59.6 113.8l-0.2 -8.4m-0.9 2.1l0.9 -2.1l1 2M59.7 107.5l-0.4 -8.3m-0.9 2.1l0.9 -2.1l1 2M59.8 101l-0.6 -8.1m-0.8 2l0.8 -2l1.1 1.9M60.1 94.5l-1.2 -7.5m-0.6 2l0.6 -2l1.2 1.7M60.7 87.7l-2.5 -6.5m-0.1 1.9l0.1 -1.9l1.4 1.3M62.3 80.2l-5.6 -4.2m0.9 1.7l-0.9 -1.7l1.9 0.4M62.9 71.2l-6.9 1.2m1.8 0.5l-1.8 -0.5l1.5 -1.1M62.5 63.6l-6 3.7m1.9 -0.2l-1.9 0.2l1.1 -1.6M62.5 56.8l-6 4.8m2 -0.5l-2 0.5l0.9 -1.9M62.5 50.3l-6 5.2m2.1 -0.6l-2.1 0.6l0.9 -2M62.6 44l-6.2 5.2m2.1 -0.6l-2.1 0.6l0.9 -2M62.7 37.8l-6.4 5.1m2.1 -0.5l-2.1 0.5l1 -2M62.8 31.6l-6.6 4.9m2.2 -0.4l-2.2 0.4l1 -1.9M62.9 25.4l-6.8 4.6m2.2 -0.4l-2.2 0.4l1.1 -1.9M63 19.2l-6.9 4.4m2.2 -0.3l-2.2 0.3l1.2 -1.9M63 13l-7 4.2m2.2 -0.2l-2.2 0.2l1.2 -1.8M63.1 6.8l-7.1 4m2.2 -0.2l-2.2 0.2l1.3 -1.8M64.9 126.4l0.8 -8.3m-1.1 2l1.1 -2l0.8 2.1M64.9 120.1l0.7 -8.3m-1.1 2l1.1 -2l0.8 2.1M65 113.7l0.7 -8.3m-1.1 1.9l1.1 -1.9l0.8 2.1M65 107.4l0.6 -8.2m-1.1 1.9l1.1 -1.9l0.8 2.1M65.1 101l0.3 -8m-1 1.9l1 -1.9l0.8 2M65.4 94.5l-0.2 -7.5m-0.8 1.9l0.8 -1.9l0.9 1.8M66.1 87.8l-1.5 -6.8m-0.4 1.8l0.4 -1.8l1.2 1.5M67.8 80.5l-5 -4.9m0.7 1.8l-0.7 -1.8l1.8 0.6M68.7 71.1l-6.9 1.3m1.8 0.5l-1.8 -0.5l1.5 -1.1M68.2 63.6l-5.9 3.8m1.9 -0.3l-1.9 0.3l1 -1.6M68.3 56.8l-5.9 4.8m2 -0.5l-2 0.5l0.9 -1.9M68.3 50.3l-6.1 5.2m2.1 -0.6l-2.1 0.6l0.9 -2M68.4 44l-6.2 5.2m2.1 -0.5l-2.1 0.5l0.9 -2M68.5 37.8l-6.4 5m2.1 -0.5l-2.1 0.5l1 -2M68.6 31.6l-6.6 4.8m2.2 -0.4l-2.2 0.4l1.1 -1.9M68.7 25.4l-6.8 4.5m2.2 -0.3l-2.2 0.3l1.2 -1.9M68.8 19.2l-7 4.3m2.2 -0.3l-2.2 0.3l1.2 -1.9M68.8 13l-7.1 4.2m2.2 -0.2l-2.2 0.2l1.3 -1.8M68.9 6.8l-7.1 4.1m2.2 -0.2l-2.2 0.2l1.3 -1.8M70.3 126.2l1.7 -8.1m-1.3 1.8l1.3 -1.8l0.5 2.2M70.3 119.9l1.6 -8.1m-1.3 1.8l1.3 -1.8l0.5 2.2M70.3 113.6l1.6 -8m-1.3 1.8l1.3 -1.8l0.5 2.1M70.4 107.3l1.5 -7.9m-1.3 1.8l1.3 -1.8l0.5 2.1M70.5 100.9l1.2 -7.7m-1.2 1.7l1.2 -1.7l0.6 2M70.7 94.4l0.7 -7.3m-1 1.7l1 -1.7l0.7 1.9M71.3 87.9l-0.4 -7m-0.7 1.8l0.7 -1.8l0.9 1.7M73.2 80.9l-4.3 -5.6m0.4 1.8l-0.4 -1.8l1.7 0.9M74.5 71l-6.8 1.5m1.8 0.4l-1.8 -0.4l1.5 -1.1M74 63.5l-5.8 3.9m1.9 -0.3l-1.9 0.3l1 -1.6M74 56.8l-5.9 4.8m2 -0.5l-2 0.5l0.9 -1.8M74.1 50.4l-6.1 5.1m2.1 -0.6l-2.1 0.6l0.9 -1.9M74.3 44.1l-6.3 5.1m2.1 -0.5l-2.1 0.5l1 -2M74.4 37.9l-6.5 4.9m2.2 -0.5l-2.2 0.5l1 -1.9M74.5 31.7l-6.7 4.7m2.2 -0.4l-2.2 0.4l1.1 -1.9M74.5 25.5l-6.9 4.5m2.2 -0.3l-2.2 0.3l1.2 -1.9M74.6 19.3l-7 4.3m2.2 -0.3l-2.2 0.3l1.2 -1.8M74.6 13l-7 4.2m2.2 -0.2l-2.2 0.2l1.2 -1.8M74.6 6.7l-7.1 4.1m2.2 -0.2l-2.2 0.2l1.3 -1.8M75.6 126l2.6 -7.7m-1.5 1.6l1.5 -1.6l0.3 2.2M75.6 119.7l2.5 -7.7m-1.5 1.6l1.5 -1.6l0.3 2.2M75.7 113.4l2.5 -7.6m-1.5 1.6l1.5 -1.6l0.3 2.2M75.7 107.1l2.4 -7.6m-1.4 1.6l1.4 -1.6l0.3 2.1M75.8 100.7l2.2 -7.4m-1.4 1.6l1.4 -1.6l0.3 2.1M76 94.2l1.7 -7.1m-1.2 1.5l1.2 -1.5l0.4 1.9M76.5 87.9l0.7 -7m-1 1.6l1 -1.6l0.6 1.8M78.5 81.2l-3.2 -6.2m0.1 1.9l-0.1 -1.9l1.5 1.2M80.3 70.9l-6.7 1.9m1.9 0.3l-1.9 -0.3l1.4 -1.2M79.7 63.5l-5.7 4.1m1.9 -0.3l-1.9 0.3l0.9 -1.6M79.8 56.8l-5.8 4.8m2 -0.5l-2 0.5l0.9 -1.8M80 50.4l-6.1 5m2.1 -0.5l-2.1 0.5l0.9 -1.9M80.1 44.1l-6.4 5m2.1 -0.5l-2.1 0.5l1 -1.9M80.2 37.9l-6.6 4.8m2.2 -0.4l-2.2 0.4l1.1 -1.9M80.3 31.7l-6.8 4.6m2.2 -0.4l-2.2 0.4l1.1 -1.9M80.3 25.5l-6.9 4.4m2.2 -0.3l-2.2 0.3l1.2 -1.9M80.4 19.3l-7 4.3m2.2 -0.3l-2.2 0.3l1.2 -1.8M80.4 13l-7 4.2m2.2 -0.2l-2.2 0.2l1.2 -1.8M80.4 6.7l-7 4.2m2.2 -0.2l-2.2 0.2l1.2 -1.8M81 125.8l3.4 -7.2m-1.7 1.4l1.7 -1.4l0 2.1M81 119.5l3.4 -7.2m-1.6 1.4l1.6 -1.4l0 2.1M81 113.2l3.3 -7.1m-1.6 1.4l1.6 -1.4l0 2.1M81.1 106.8l3.2 -7.1m-1.6 1.4l1.6 -1.4l0 2.1M81.2 100.5l3.1 -6.9m-1.5 1.3l1.5 -1.3l0 2M81.4 94l2.7 -6.6m-1.4 1.3l1.4 -1.3l0.1 1.9M81.7 87.8l1.9 -6.7m-1.2 1.4l1.2 -1.4l0.3 1.9M83.6 81.5l-1.8 -6.8m-0.3 1.9l0.3 -1.9l1.2 1.5M86 70.5l-6.5 2.5m1.9 0.1l-1.9 -0.1l1.3 -1.4M85.5 63.4l-5.6 4.2m1.8 -0.4l-1.8 0.4l0.9 -1.7M85.6 56.8l-5.8 4.8m2 -0.5l-2 0.5l0.9 -1.8M85.8 50.4l-6.1 5m2.1 -0.5l-2.1 0.5l0.9 -1.9M85.9 44.1l-6.4 4.9m2.1 -0.5l-2.1 0.5l1 -1.9M86 37.9l-6.6 4.7m2.2 -0.4l-2.2 0.4l1.1 -1.9M86.1 31.7l-6.8 4.5m2.2 -0.3l-2.2 0.3l1.1 -1.9M86.1 25.5l-6.9 4.4m2.2 -0.3l-2.2 0.3l1.2 -1.9M86.2 19.2l-6.9 4.3m2.2 -0.3l-2.2 0.3l1.2 -1.8M86.2 12.9l-6.9 4.3m2.2 -0.3l-2.2 0.3l1.2 -1.8M86.2 6.6l-6.9 4.4m2.2 -0.3l-2.2 0.3l1.2 -1.9M86.4 125.5l4.1 -6.6m-1.8 1.1l1.8 -1.1l-0.3 2.1M86.4 119.2l4.1 -6.6m-1.8 1.1l1.8 -1.1l-0.3 2.1M86.5 112.9l4.1 -6.5m-1.7 1.1l1.7 -1.1l-0.3 2.1M86.5 106.5l4 -6.5m-1.7 1.1l1.7 -1.1l-0.2 2M86.6 100.2l3.8 -6.3m-1.7 1.1l1.7 -1.1l-0.2 2M86.7 93.7l3.5 -6.1m-1.6 1.1l1.6 -1.1l-0.2 1.9M86.9 87.5l3.1 -6.3m-1.5 1.2l1.5 -1.2l0 1.9M88.5 81.6l0.1 -7m-0.8 1.7l0.8 -1.7l0.8 1.7M91.6 70.1l-6.1 3.4m1.9 -0.1l-1.9 0.1l1.1 -1.5M91.2 63.3l-5.4 4.4m1.8 -0.5l-1.8 0.5l0.8 -1.7M91.4 56.8l-5.7 4.8m2 -0.5l-2 0.5l0.9 -1.8M91.6 50.4l-6.2 4.9m2.1 -0.5l-2.1 0.5l0.9 -1.9M91.7 44.2l-6.5 4.8m2.1 -0.4l-2.1 0.4l1 -1.9M91.8 38l-6.7 4.7m2.2 -0.4l-2.2 0.4l1.1 -1.9M91.9 31.7l-6.8 4.5m2.2 -0.3l-2.2 0.3l1.1 -1.9M91.9 25.5l-6.9 4.4m2.2 -0.3l-2.2 0.3l1.2 -1.9M91.9 19.2l-6.9 4.4m2.2 -0.3l-2.2 0.3l1.2 -1.9M91.9 12.9l-6.9 4.4m2.2 -0.3l-2.2 0.3l1.2 -1.9M91.9 6.5l-6.8 4.5m2.2 -0.3l-2.2 0.3l1.1 -1.9M92.3 125.4l4 -6.4m-1.7 1.1l1.7 -1.1l-0.3 2M92.3 119.1l4 -6.4m-1.7 1.1l1.7 -1.1l-0.3 2M92.3 112.8l4 -6.3m-1.7 1.1l1.7 -1.1l-0.3 2M92.3 106.4l3.9 -6.3m-1.7 1.1l1.7 -1.1l-0.2 2M92.4 100.1l3.8 -6.1m-1.6 1.1l1.6 -1.1l-0.2 1.9M92.5 93.7l3.5 -6m-1.6 1.1l1.6 -1.1l-0.2 1.9M92.7 87.5l3.1 -6.3m-1.5 1.2l1.5 -1.2l0 1.9M94.5 81.6l-0.5 -7m-0.7 1.8l0.7 -1.8l0.9 1.7M97.3 70l-6 3.5m1.9 -0.2l-1.9 0.2l1.1 -1.6M97 63.3l-5.5 4.4m1.8 -0.5l-1.8 0.5l0.8 -1.7M97.2 56.8l-5.8 4.7m2 -0.5l-2 0.5l0.9 -1.8M97.4 50.5l-6.2 4.8m2.1 -0.5l-2.1 0.5l1 -1.9M97.6 44.2l-6.5 4.7m2.1 -0.4l-2.1 0.4l1.1 -1.9M97.6 38l-6.7 4.6m2.2 -0.4l-2.2 0.4l1.1 -1.9M97.7 31.8l-6.8 4.5m2.2 -0.3l-2.2 0.3l1.1 -1.9M97.7 25.5l-6.8 4.4m2.2 -0.3l-2.2 0.3l1.2 -1.9M97.7 19.2l-6.8 4.5m2.2 -0.3l-2.2 0.3l1.2 -1.9M97.7 12.8l-6.8 4.6m2.2 -0.3l-2.2 0.3l1.1 -1.9M97.6 6.4l-6.7 4.7m2.2 -0.4l-2.2 0.4l1.1 -1.9M98.2 125.3l3.9 -6.2m-1.7 1.1l1.7 -1.1l-0.2 2M98.2 119l3.9 -6.2m-1.6 1.1l1.6 -1.1l-0.2 1.9M98.2 112.7l3.8 -6.1m-1.6 1.1l1.6 -1.1l-0.2 1.9M98.2 106.3l3.7 -6m-1.6 1.1l1.6 -1.1l-0.2 1.9M98.3 100l3.6 -6m-1.6 1l1.6 -1l-0.2 1.9M98.4 93.7l3.5 -6.1m-1.5 1.1l1.5 -1.1l-0.2 1.9M98.6 87.6l3 -6.3m-1.5 1.2l1.5 -1.2l0 1.9M101.3 81.4l-2.5 -6.6m-0.1 1.9l0.1 -1.9l1.3 1.3M103.1 69.9l-5.9 3.7m1.9 -0.2l-1.9 0.2l1 -1.6M102.8 63.3l-5.5 4.4m1.8 -0.4l-1.8 0.4l0.8 -1.7M103 56.9l-5.9 4.7m2 -0.5l-2 0.5l0.9 -1.8M103.2 50.5l-6.3 4.8m2.1 -0.4l-2.1 0.4l1 -1.9M103.4 44.3l-6.5 4.7m2.1 -0.4l-2.1 0.4l1.1 -1.9M103.4 38l-6.7 4.6m2.2 -0.4l-2.2 0.4l1.1 -1.9M103.5 31.8l-6.8 4.5m2.2 -0.3l-2.2 0.3l1.1 -1.9M103.5 25.5l-6.8 4.5m2.2 -0.3l-2.2 0.3l1.1 -1.9M103.5 19.1l-6.7 4.6m2.2 -0.3l-2.2 0.3l1.1 -1.9M103.4 12.7l-6.7 4.7m2.2 -0.4l-2.2 0.4l1.1 -1.9M103.4 6.3l-6.5 4.9m2.2 -0.5l-2.2 0.5l1 -1.9M104.1 125.2l3.7 -6m-1.6 1l1.6 -1l-0.2 1.9M104.1 118.9l3.7 -6m-1.6 1l1.6 -1l-0.2 1.9M104.1 112.6l3.6 -6m-1.6 1l1.6 -1l-0.2 1.9M104.1 106.3l3.6 -6m-1.6 1.1l1.6 -1.1l-0.2 1.9M104.1 100l3.6 -6m-1.6 1.1l1.6 -1.1l-0.2 1.9M104.2 93.8l3.4 -6.1m-1.5 1.1l1.5 -1.1l-0.1 1.9M104.6 87.7l2.6 -6.5m-1.4 1.3l1.4 -1.3l0.1 1.9M109 79.7l-6.3 -3.1m1.2 1.5l-1.2 -1.5l1.9 0M108.8 69.9l-5.8 3.9m1.9 -0.3l-1.9 0.3l1 -1.6M108.7 63.3l-5.5 4.3m1.8 -0.4l-1.8 0.4l0.9 -1.7M108.9 56.9l-6 4.6m2 -0.5l-2 0.5l0.9 -1.8M109.1 50.6l-6.4 4.7m2.1 -0.4l-2.1 0.4l1 -1.9M109.2 44.3l-6.6 4.6m2.1 -0.4l-2.1 0.4l1.1 -1.9M109.3 38l-6.7 4.5m2.2 -0.3l-2.2 0.3l1.1 -1.9M109.3 31.7l-6.7 4.5m2.2 -0.3l-2.2 0.3l1.1 -1.9M109.3 25.4l-6.7 4.6m2.2 -0.4l-2.2 0.4l1.1 -1.9M109.2 19l-6.7 4.7m2.2 -0.4l-2.2 0.4l1.1 -1.9M109.2 12.7l-6.5 4.9m2.2 -0.5l-2.2 0.5l1 -1.9M109.1 6.2l-6.4 5.1m2.1 -0.5l-2.1 0.5l1 -2M109.9 125.2l3.5 -6.1m-1.5 1.1l1.5 -1.1l-0.2 1.9M110 118.9l3.5 -6.1m-1.5 1.1l1.5 -1.1l-0.2 1.9M110 112.6l3.5 -6.1m-1.5 1.1l1.5 -1.1l-0.2 1.9M110 106.4l3.4 -6.1m-1.5 1.1l1.5 -1.1l-0.1 1.9M110 100.1l3.3 -6.2m-1.5 1.1l1.5 -1.1l-0.1 1.9M110.2 93.9l2.9 -6.4m-1.4 1.2l1.4 -1.2l0 1.9M111.2 87.9l1.1 -6.9m-1.1 1.6l1.1 -1.6l0.5 1.8M115.1 77.4l-6.8 1.5m1.8 0.4l-1.8 -0.4l1.5 -1.1M114.6 69.8l-5.7 4m1.9 -0.3l-1.9 0.3l0.9 -1.6M114.5 63.4l-5.5 4.3m1.8 -0.4l-1.8 0.4l0.9 -1.7M114.7 56.9l-6.1 4.6m2 -0.4l-2 0.4l1 -1.8M114.9 50.6l-6.4 4.6m2.1 -0.4l-2.1 0.4l1 -1.9M115 44.3l-6.6 4.6m2.1 -0.4l-2.1 0.4l1.1 -1.9M115.1 38l-6.7 4.5m2.2 -0.3l-2.2 0.3l1.1 -1.9M115.1 31.7l-6.7 4.6m2.2 -0.4l-2.2 0.4l1.1 -1.9M115 25.4l-6.7 4.7m2.2 -0.4l-2.2 0.4l1.1 -1.9M115 19l-6.6 4.9m2.2 -0.4l-2.2 0.4l1 -1.9M114.9 12.6l-6.4 5.1m2.1 -0.5l-2.1 0.5l1 -2M114.8 6.1l-6.2 5.3m2.1 -0.6l-2.1 0.6l0.9 -2M116 125.4l3 -6.3m-1.5 1.2l1.5 -1.2l0 1.9M116 119.1l3 -6.3m-1.5 1.2l1.5 -1.2l0 1.9M116 112.8l3 -6.3m-1.4 1.2l1.4 -1.2l0 1.9M116.1 106.5l2.8 -6.4m-1.4 1.2l1.4 -1.2l0 1.9M116.2 100.3l2.5 -6.5m-1.4 1.3l1.4 -1.3l0.1 1.9M116.8 94.1l1.4 -6.9m-1.1 1.5l1.1 -1.5l0.4 1.8M120.3 86.5l-5.5 -4.3m0.9 1.7l-0.9 -1.7l1.8 0.4M120.6 76.5l-6.2 3.2m1.9 -0.1l-1.9 0.1l1.2 -1.5M120.3 69.7l-5.7 4.1m1.9 -0.4l-1.9 0.4l0.9 -1.7M120.3 63.3l-5.7 4.3m1.9 -0.4l-1.9 0.4l0.9 -1.7M120.6 56.9l-6.2 4.6m2 -0.4l-2 0.4l1 -1.8M120.7 50.6l-6.5 4.6m2.1 -0.4l-2.1 0.4l1.1 -1.9M120.8 44.3l-6.7 4.6m2.1 -0.4l-2.1 0.4l1.1 -1.9M120.8 38l-6.7 4.6m2.2 -0.4l-2.2 0.4l1.1 -1.9M120.8 31.7l-6.7 4.7m2.2 -0.4l-2.2 0.4l1.1 -1.9M120.8 25.3l-6.6 4.8m2.2 -0.4l-2.2 0.4l1.1 -1.9M120.7 18.9l-6.4 5m2.1 -0.5l-2.1 0.5l1 -2M120.6 12.5l-6.3 5.3m2.1 -0.6l-2.1 0.6l0.9 -2M120.5 6l-6 5.5m2.1 -0.7l-2.1 0.7l0.9 -2M122.8 125.7l1 -6.9m-1 1.6l1 -1.6l0.5 1.8M122.8 119.4l0.9 -6.9m-1 1.6l1 -1.6l0.6 1.8M123 113.1l0.6 -7m-1 1.6l1 -1.6l0.6 1.8M123.3 106.8l0 -7m-0.8 1.7l0.8 -1.7l0.8 1.7M124.3 100.4l-2 -6.7m-0.3 1.9l0.3 -1.9l1.3 1.4M126.5 92.1l-6.4 -2.9m1.2 1.4l-1.2 -1.4l1.9 0M126.6 83.2l-6.6 2.3m1.9 0.2l-1.9 -0.2l1.3 -1.3M126.2 76.2l-5.9 3.8m1.9 -0.3l-1.9 0.3l1 -1.6M126.1 69.7l-5.6 4.1m1.9 -0.4l-1.9 0.4l0.9 -1.7M126.2 63.3l-5.9 4.4m1.9 -0.4l-1.9 0.4l0.9 -1.7M126.5 56.9l-6.3 4.5m2.1 -0.4l-2.1 0.4l1 -1.8M126.6 50.6l-6.6 4.6m2.1 -0.4l-2.1 0.4l1.1 -1.9M126.6 44.3l-6.7 4.6m2.2 -0.4l-2.2 0.4l1.1 -1.9M126.6 38l-6.7 4.6m2.2 -0.4l-2.2 0.4l1.1 -1.9M126.6 31.6l-6.6 4.8m2.2 -0.4l-2.2 0.4l1.1 -1.9M126.6 25.2l-6.5 4.9m2.2 -0.5l-2.2 0.5l1 -2M126.5 18.8l-6.3 5.2m2.1 -0.5l-2.1 0.5l1 -2M126.4 12.4l-6.1 5.4m2.1 -0.6l-2.1 0.6l0.9 -2M126.2 6l-5.9 5.7m2.1 -0.7l-2.1 0.7l0.8 -2.1M132.6 122.6l-7 -0.7m1.6 1l-1.6 -1l1.8 -0.6M132.6 116.1l-7 -0.5m1.7 0.9l-1.7 -0.9l1.8 -0.7M132.6 109.6l-7 0m1.7 0.8l-1.7 -0.8l1.7 -0.8M132.6 102.9l-7 0.8m1.8 0.6l-1.8 -0.6l1.6 -1M132.5 96.1l-6.8 1.8m1.9 0.3l-1.9 -0.3l1.4 -1.2M132.3 89.3l-6.4 2.9m1.9 0l-1.9 0l1.2 -1.4M132.1 82.6l-6 3.6m1.9 -0.2l-1.9 0.2l1.1 -1.6M132 76.1l-5.7 4m1.9 -0.3l-1.9 0.3l0.9 -1.6M131.9 69.7l-5.7 4.1m1.9 -0.4l-1.9 0.4l0.9 -1.7M132.2 63.3l-6.1 4.4m2 -0.4l-2 0.4l1 -1.8M132.3 56.9l-6.5 4.5m2.1 -0.4l-2.1 0.4l1.1 -1.8M132.4 50.6l-6.6 4.5m2.1 -0.4l-2.1 0.4l1.1 -1.9M132.4 44.3l-6.7 4.6m2.2 -0.4l-2.2 0.4l1.1 -1.9M132.4 38l-6.7 4.7m2.2 -0.4l-2.2 0.4l1.1 -1.9M132.4 31.6l-6.6 4.9m2.2 -0.4l-2.2 0.4l1.1 -1.9M132.3 25.2l-6.4 5.1m2.1 -0.5l-2.1 0.5l1 -2M132.2 18.7l-6.2 5.3m2.1 -0.6l-2.1 0.6l0.9 -2M132.1 12.3l-6 5.6m2.1 -0.7l-2.1 0.7l0.8 -2.1M132 5.9l-5.7 5.8m2.1 -0.8l-2.1 0.8l0.7 -2.1M138 120.6l-6.2 3.2m1.9 -0.1l-1.9 0.1l1.2 -1.5M138 114.3l-6.2 3.2m1.9 -0.1l-1.9 0.1l1.2 -1.5M138 108l-6.2 3.3m1.9 -0.1l-1.9 0.1l1.1 -1.5M138 101.6l-6.1 3.4m1.9 -0.1l-1.9 0.1l1.1 -1.5M137.9 95.2l-6 3.6m1.9 -0.2l-1.9 0.2l1.1 -1.6M137.9 88.8l-5.9 3.8m1.9 -0.2l-1.9 0.2l1 -1.6M137.8 82.4l-5.8 3.9m1.9 -0.3l-1.9 0.3l1 -1.6M137.8 76.1l-5.7 4.1m1.9 -0.3l-1.9 0.3l0.9 -1.6M137.9 69.7l-5.9 4.2m1.9 -0.4l-1.9 0.4l1 -1.7M138.1 63.3l-6.3 4.4m2.1 -0.4l-2.1 0.4l1 -1.8M138.2 56.9l-6.6 4.5m2.1 -0.4l-2.1 0.4l1.1 -1.9M138.2 50.6l-6.7 4.5m2.2 -0.3l-2.2 0.3l1.1 -1.9M138.3 44.3l-6.7 4.6m2.2 -0.4l-2.2 0.4l1.1 -1.9M138.2 37.9l-6.6 4.8m2.2 -0.4l-2.2 0.4l1.1 -1.9M138.1 31.5l-6.5 5m2.2 -0.5l-2.2 0.5l1 -2M138.1 25.1l-6.3 5.2m2.1 -0.6l-2.1 0.6l1 -2M137.9 18.7l-6.1 5.5m2.1 -0.6l-2.1 0.6l0.9 -2M137.8 12.2l-5.9 5.7m2.1 -0.7l-2.1 0.7l0.8 -2.1M137.7 5.8l-5.6 6m2.1 -0.8l-2.1 0.8l0.7 -2.1M143.6 120.3l-5.9 3.8m1.9 -0.3l-1.9 0.3l1 -1.6M143.6 114l-5.9 3.8m1.9 -0.3l-1.9 0.3l1 -1.6M143.6 107.7l-5.9 3.8m1.9 -0.3l-1.9 0.3l1 -1.6M143.6 101.4l-5.8 3.9m1.9 -0.3l-1.9 0.3l1 -1.6M143.6 95.1l-5.8 3.9m1.9 -0.3l-1.9 0.3l1 -1.6M143.6 88.7l-5.8 3.9m1.9 -0.3l-1.9 0.3l1 -1.6M143.6 82.4l-5.7 4m1.9 -0.3l-1.9 0.3l1 -1.6M143.6 76.1l-5.8 4.1m1.9 -0.3l-1.9 0.3l1 -1.7M143.8 69.6l-6.2 4.3m2 -0.3l-2 0.3l1 -1.8M144 63.3l-6.5 4.4m2.1 -0.3l-2.1 0.3l1.1 -1.8M144 57l-6.7 4.5m2.1 -0.3l-2.1 0.3l1.1 -1.9M144.1 50.6l-6.7 4.5m2.2 -0.3l-2.2 0.3l1.1 -1.9M144.1 44.3l-6.7 4.7m2.2 -0.4l-2.2 0.4l1.1 -1.9M144 37.9l-6.6 4.9m2.2 -0.4l-2.2 0.4l1.1 -1.9M143.9 31.5l-6.4 5.1m2.2 -0.5l-2.2 0.5l1 -2M143.8 25l-6.2 5.3m2.1 -0.6l-2.1 0.6l0.9 -2M143.7 18.6l-6 5.6m2.1 -0.7l-2.1 0.7l0.8 -2.1M143.6 12.2l-5.7 5.8m2.1 -0.8l-2.1 0.8l0.7 -2.1M143.5 5.8l-5.5 6m2 -0.9l-2 0.9l0.7 -2.1M149.4 120.3l-5.8 3.9m1.9 -0.3l-1.9 0.3l1 -1.6M149.4 114l-5.8 3.9m1.9 -0.3l-1.9 0.3l1 -1.6M149.4 107.6l-5.8 3.9m1.9 -0.3l-1.9 0.3l1 -1.6M149.4 101.3l-5.8 3.9m1.9 -0.3l-1.9 0.3l1 -1.6M149.4 95l-5.8 3.9m1.9 -0.3l-1.9 0.3l1 -1.6M149.4 88.7l-5.8 3.9m1.9 -0.3l-1.9 0.3l1 -1.6M149.5 82.4l-6 4.1m1.9 -0.3l-1.9 0.3l1 -1.7M149.6 76l-6.2 4.2m2 -0.3l-2 0.3l1 -1.7M149.7 69.6l-6.5 4.3m2.1 -0.3l-2.1 0.3l1.1 -1.8M149.8 63.3l-6.7 4.4m2.1 -0.3l-2.1 0.3l1.1 -1.8M149.9 57l-6.8 4.5m2.2 -0.3l-2.2 0.3l1.1 -1.9M149.9 50.6l-6.8 4.6m2.2 -0.3l-2.2 0.3l1.1 -1.9M149.8 44.2l-6.7 4.7m2.2 -0.4l-2.2 0.4l1.1 -1.9M149.8 37.8l-6.5 4.9m2.2 -0.5l-2.2 0.5l1 -2M149.7 31.4l-6.3 5.2m2.1 -0.5l-2.1 0.5l1 -2M149.6 25l-6.1 5.5m2.1 -0.6l-2.1 0.6l0.9 -2M149.4 18.5l-5.9 5.7m2.1 -0.7l-2.1 0.7l0.8 -2.1M149.3 12.1l-5.6 5.9m2.1 -0.8l-2.1 0.8l0.7 -2.1M149.2 5.7l-5.4 6.1m2 -0.9l-2 0.9l0.6 -2.1M155.4 120.2l-6.1 4m1.9 -0.3l-1.9 0.3l1 -1.7M155.4 113.9l-6.1 4m1.9 -0.3l-1.9 0.3l1 -1.7M155.4 107.6l-6.1 4m2 -0.3l-2 0.3l1 -1.7M155.4 101.3l-6.1 4m2 -0.3l-2 0.3l1 -1.7M155.4 95l-6.2 4m2 -0.3l-2 0.3l1 -1.7M155.4 88.7l-6.2 4.1m2 -0.3l-2 0.3l1.1 -1.7M155.5 82.3l-6.4 4.1m2 -0.3l-2 0.3l1.1 -1.7M155.6 76l-6.5 4.2m2.1 -0.3l-2.1 0.3l1.1 -1.8M155.6 69.7l-6.7 4.3m2.1 -0.3l-2.1 0.3l1.1 -1.8M155.7 63.3l-6.8 4.3m2.2 -0.3l-2.2 0.3l1.2 -1.8M155.7 57l-6.8 4.4m2.2 -0.3l-2.2 0.3l1.2 -1.9M155.7 50.6l-6.8 4.6m2.2 -0.3l-2.2 0.3l1.1 -1.9M155.6 44.2l-6.6 4.8m2.2 -0.4l-2.2 0.4l1.1 -1.9M155.5 37.8l-6.5 5m2.2 -0.5l-2.2 0.5l1 -2M155.4 31.3l-6.2 5.3m2.1 -0.6l-2.1 0.6l0.9 -2M155.3 24.9l-6 5.6m2.1 -0.7l-2.1 0.7l0.8 -2M155.2 18.5l-5.8 5.8m2.1 -0.8l-2.1 0.8l0.7 -2.1M155.1 12.1l-5.5 6m2 -0.8l-2 0.8l0.7 -2.1M155 5.7l-5.4 6.1m2 -0.9l-2 0.9l0.6 -2.1M161.4 120.2l-6.5 4m2.1 -0.2l-2.1 0.2l1.1 -1.7M161.4 113.9l-6.5 4m2.1 -0.2l-2.1 0.2l1.1 -1.7M161.4 107.6l-6.5 4m2.1 -0.2l-2.1 0.2l1.1 -1.7M161.4 101.3l-6.5 4m2.1 -0.2l-2.1 0.2l1.1 -1.7M161.4 95l-6.6 4.1m2.1 -0.2l-2.1 0.2l1.1 -1.7M161.4 88.7l-6.6 4.1m2.1 -0.2l-2.1 0.2l1.2 -1.8M161.4 82.4l-6.7 4.1m2.1 -0.2l-2.1 0.2l1.2 -1.8M161.5 76l-6.8 4.1m2.1 -0.2l-2.1 0.2l1.2 -1.8M161.5 69.7l-6.9 4.2m2.2 -0.2l-2.2 0.2l1.2 -1.8M161.6 63.4l-6.9 4.3m2.2 -0.3l-2.2 0.3l1.2 -1.8M161.5 57l-6.9 4.4m2.2 -0.3l-2.2 0.3l1.2 -1.9M161.5 50.6l-6.8 4.6m2.2 -0.4l-2.2 0.4l1.1 -1.9M161.4 44.2l-6.6 4.9m2.2 -0.4l-2.2 0.4l1.1 -1.9M161.3 37.7l-6.4 5.1m2.1 -0.5l-2.1 0.5l1 -2M161.2 31.3l-6.1 5.4m2.1 -0.6l-2.1 0.6l0.9 -2M161 24.9l-5.9 5.6m2.1 -0.7l-2.1 0.7l0.8 -2.1M160.9 18.5l-5.7 5.9m2.1 -0.8l-2.1 0.8l0.7 -2.1M160.8 12.1l-5.5 6m2 -0.8l-2 0.8l0.7 -2.1M160.8 5.7l-5.3 6.1m2 -0.9l-2 0.9l0.6 -2.1M167.3 120.2l-6.8 3.9m2.1 -0.2l-2.1 0.2l1.2 -1.7M167.3 113.9l-6.8 3.9m2.1 -0.2l-2.1 0.2l1.2 -1.7M167.3 107.6l-6.8 3.9m2.1 -0.2l-2.1 0.2l1.2 -1.7M167.3 101.3l-6.9 3.9m2.1 -0.2l-2.1 0.2l1.2 -1.7M167.3 95l-6.9 3.9m2.1 -0.2l-2.1 0.2l1.2 -1.7M167.3 88.7l-6.9 4m2.1 -0.2l-2.1 0.2l1.2 -1.8M167.4 82.4l-6.9 4m2.1 -0.2l-2.1 0.2l1.2 -1.8M167.4 76.1l-7 4m2.2 -0.2l-2.2 0.2l1.3 -1.8M167.4 69.8l-7 4.1m2.2 -0.2l-2.2 0.2l1.2 -1.8M167.4 63.4l-7 4.2m2.2 -0.2l-2.2 0.2l1.2 -1.8M167.3 57l-6.9 4.4m2.2 -0.3l-2.2 0.3l1.2 -1.9M167.3 50.6l-6.7 4.7m2.2 -0.4l-2.2 0.4l1.1 -1.9M167.2 44.1l-6.5 4.9m2.2 -0.5l-2.2 0.5l1 -2M167 37.7l-6.3 5.2m2.1 -0.6l-2.1 0.6l0.9 -2M166.9 31.3l-6 5.5m2.1 -0.7l-2.1 0.7l0.9 -2M166.8 24.8l-5.8 5.7m2.1 -0.7l-2.1 0.7l0.8 -2.1M166.7 18.5l-5.6 5.9m2 -0.8l-2 0.8l0.7 -2.1M166.6 12.1l-5.4 6m2 -0.9l-2 0.9l0.6 -2.1M166.6 5.7l-5.3 6.1m2 -0.9l-2 0.9l0.6 -2.1M173.2 120.4l-7.1 3.7m2.1 -0.1l-2.1 0.1l1.3 -1.7M173.2 114.1l-7.1 3.7m2.1 -0.1l-2.1 0.1l1.3 -1.7M173.2 107.7l-7.1 3.7m2.2 -0.1l-2.2 0.1l1.3 -1.7M173.2 101.4l-7.1 3.7m2.2 -0.1l-2.2 0.1l1.3 -1.7M173.2 95.1l-7.1 3.7m2.2 -0.1l-2.2 0.1l1.3 -1.7M173.2 88.8l-7.1 3.7m2.2 -0.1l-2.2 0.1l1.3 -1.7M173.2 82.5l-7.1 3.7m2.2 -0.1l-2.2 0.1l1.3 -1.7M173.3 76.2l-7.1 3.8m2.2 -0.1l-2.2 0.1l1.3 -1.7M173.2 69.8l-7.1 3.9m2.2 -0.2l-2.2 0.2l1.3 -1.8M173.2 63.4l-7 4.1m2.2 -0.2l-2.2 0.2l1.2 -1.8M173.1 57l-6.9 4.4m2.2 -0.3l-2.2 0.3l1.2 -1.9M173 50.6l-6.7 4.7m2.2 -0.4l-2.2 0.4l1.1 -1.9M172.9 44.1l-6.4 5m2.1 -0.5l-2.1 0.5l1 -2M172.8 37.7l-6.2 5.3m2.1 -0.6l-2.1 0.6l0.9 -2M172.7 31.2l-5.9 5.5m2.1 -0.7l-2.1 0.7l0.8 -2M172.5 24.8l-5.7 5.8m2.1 -0.8l-2.1 0.8l0.7 -2.1M172.5 18.4l-5.5 5.9m2 -0.8l-2 0.8l0.7 -2.1M172.4 12.1l-5.4 6m2 -0.9l-2 0.9l0.6 -2.1M172.3 5.7l-5.1 6.2m2 -0.9l-2 0.9l0.6 -2.1M179.1 120.5l-7.1 3.3m2.1 0l-2.1 0l1.4 -1.6M179.1 114.2l-7.1 3.3m2.1 0l-2.1 0l1.4 -1.6M179.1 107.9l-7.1 3.3m2.1 0l-2.1 0l1.4 -1.6M179.1 101.6l-7.1 3.3m2.1 0l-2.1 0l1.4 -1.6M179.1 95.3l-7.1 3.3m2.1 0l-2.1 0l1.4 -1.6M179.1 89l-7.1 3.4m2.1 0l-2.1 0l1.4 -1.6M179.1 82.7l-7.1 3.4m2.1 0l-2.1 0l1.4 -1.7M179.1 76.3l-7.1 3.5m2.1 -0.1l-2.1 0.1l1.3 -1.7M179 69.9l-7.1 3.7m2.2 -0.1l-2.2 0.1l1.3 -1.7M179 63.5l-6.9 4m2.2 -0.2l-2.2 0.2l1.2 -1.8M178.9 57l-6.8 4.3m2.1 -0.3l-2.1 0.3l1.2 -1.8M178.8 50.6l-6.5 4.7m2.1 -0.4l-2.1 0.4l1.1 -1.9M178.6 44.1l-6.3 5m2.1 -0.5l-2.1 0.5l1 -1.9M178.5 37.6l-6 5.3m2.1 -0.6l-2.1 0.6l0.9 -2M178.4 31.2l-5.8 5.6m2.1 -0.7l-2.1 0.7l0.8 -2M178.3 24.8l-5.6 5.8m2 -0.8l-2 0.8l0.7 -2.1M178.1 18.4l-5.3 6m2 -0.9l-2 0.9l0.6 -2.1M177.9 12l-4.8 6.3m1.9 -1l-1.9 1l0.5 -2.1M177.5 5.5l-4 6.7m1.7 -1.2l-1.7 1.2l0.2 -2.1M184.8 120.9l-7 2.7m2 0.1l-2 -0.1l1.4 -1.5M184.8 114.5l-7 2.7m2 0.1l-2 -0.1l1.4 -1.5M184.8 108.2l-7 2.7m2 0.1l-2 -0.1l1.4 -1.5M184.8 101.9l-7 2.7m2 0.1l-2 -0.1l1.4 -1.5M184.8 95.6l-7 2.8m2 0.1l-2 -0.1l1.4 -1.5M184.8 89.3l-7 2.8m2 0.1l-2 -0.1l1.4 -1.5M184.8 82.9l-7 2.9m2.1 0.1l-2.1 -0.1l1.4 -1.5M184.8 76.5l-7 3.1m2.1 0l-2.1 0l1.4 -1.6M184.8 70.1l-6.9 3.4m2.1 0l-2.1 0l1.3 -1.6M184.7 63.6l-6.8 3.8m2.1 -0.1l-2.1 0.1l1.2 -1.7M184.6 57.1l-6.6 4.2m2.1 -0.3l-2.1 0.3l1.1 -1.8M184.5 50.6l-6.4 4.6m2.1 -0.4l-2.1 0.4l1 -1.9M184.3 44.1l-6.1 5m2.1 -0.5l-2.1 0.5l0.9 -1.9M184.2 37.6l-5.8 5.3m2 -0.6l-2 0.6l0.8 -2M184.1 31.2l-5.5 5.7m2 -0.8l-2 0.8l0.7 -2M183.8 24.7l-5 6m1.9 -0.9l-1.9 0.9l0.5 -2M183.4 18.1l-4.1 6.5m1.8 -1.1l-1.8 1.1l0.3 -2.1M182.7 11.6l-2.8 7.1m1.5 -1.4l-1.5 1.4l-0.1 -2.1M182 5.1l-1.5 7.5m1.2 -1.7l-1.2 1.7l-0.5 -2M190.5 121.4l-6.8 1.7m1.9 0.4l-1.9 -0.4l1.5 -1.2M190.5 115.1l-6.8 1.7m1.9 0.4l-1.9 -0.4l1.5 -1.2M190.5 108.8l-6.8 1.7m1.9 0.4l-1.9 -0.4l1.5 -1.2M190.5 102.4l-6.8 1.7m1.9 0.4l-1.9 -0.4l1.5 -1.2M190.5 96.1l-6.8 1.8m1.9 0.3l-1.9 -0.3l1.5 -1.2M190.5 89.8l-6.7 1.9m1.9 0.3l-1.9 -0.3l1.4 -1.2M190.5 83.4l-6.7 2.1m1.9 0.3l-1.9 -0.3l1.4 -1.3M190.5 76.9l-6.7 2.4m1.9 0.2l-1.9 -0.2l1.4 -1.3M190.4 70.4l-6.6 2.8m1.9 0.1l-1.9 -0.1l1.3 -1.4M190.3 63.8l-6.5 3.4m2 -0.1l-2 0.1l1.2 -1.6M190.3 57.2l-6.3 3.9m2 -0.2l-2 0.2l1.1 -1.7M190.1 50.7l-6.1 4.4m2 -0.4l-2 0.4l1 -1.8M190 44.1l-5.7 4.9m2 -0.6l-2 0.6l0.8 -1.9M189.7 37.6l-5.2 5.5m1.9 -0.7l-1.9 0.7l0.7 -1.9M189.3 30.9l-4.4 6.1m1.8 -1l-1.8 1l0.4 -2M188.6 24.3l-3 6.9m1.5 -1.3l-1.5 1.3l0 -2M187.9 17.7l-1.5 7.4m1.2 -1.6l-1.2 1.6l-0.5 -2M187.3 11.3l-0.4 7.7m1 -1.8l-1 1.8l-0.8 -1.9M187.1 4.9l0.1 7.7m0.9 -1.9l-0.9 1.9l-0.9 -1.9M196.4 122.6l-7 -0.8m1.6 1l-1.6 -1l1.8 -0.6M196.4 116.3l-7 -0.7m1.6 1l-1.6 -1l1.8 -0.6M196.4 109.9l-7 -0.7m1.6 1l-1.6 -1l1.8 -0.6M196.4 103.6l-7 -0.6m1.6 0.9l-1.6 -0.9l1.8 -0.7M196.4 97.2l-7 -0.4m1.7 0.9l-1.7 -0.9l1.8 -0.7M196.4 90.8l-7 -0.1m1.7 0.8l-1.7 -0.8l1.7 -0.8M196.4 84.2l-7 0.3m1.7 0.7l-1.7 -0.7l1.7 -0.9M196.4 77.6l-6.9 1m1.8 0.5l-1.8 -0.5l1.6 -1M196.3 70.9l-6.8 1.8m1.9 0.3l-1.9 -0.3l1.4 -1.2M196.1 64.1l-6.5 2.7m1.9 0.1l-1.9 -0.1l1.3 -1.4M195.9 57.4l-6 3.5m1.9 -0.2l-1.9 0.2l1.1 -1.6M195.6 50.7l-5.5 4.4m1.8 -0.5l-1.8 0.5l0.8 -1.7M195.2 43.9l-4.5 5.4m1.7 -0.8l-1.7 0.8l0.5 -1.8M194.4 37.1l-3.1 6.3m1.5 -1.2l-1.5 1.2l0 -1.9M193.6 30.4l-1.5 7.1m1.2 -1.6l-1.2 1.6l-0.4 -1.9M193 23.9l-0.3 7.5m0.9 -1.8l-0.9 1.8l-0.8 -1.9M192.7 17.5l0.3 7.7m0.8 -1.9l-0.8 1.9l-1 -1.8M192.7 11.2l0.4 7.7m0.8 -1.9l-0.8 1.9l-1 -1.9M193 5l-0.2 7.7m0.9 -1.9l-0.9 1.9l-0.8 -1.9M199.8 125.5l-2.2 -6.6m-0.2 1.9l0.2 -1.9l1.3 1.4M199.8 119.2l-2.3 -6.6m-0.2 1.9l0.2 -1.9l1.3 1.4M199.9 112.9l-2.4 -6.6m-0.2 1.9l0.2 -1.9l1.3 1.3M200 106.6l-2.5 -6.5m-0.1 1.9l0.1 -1.9l1.4 1.3M200.1 100.2l-2.8 -6.4m0 1.9l0 -1.9l1.4 1.3M200.3 93.8l-3.3 -6.2m0.1 1.9l-0.1 -1.9l1.5 1.1M200.8 87.2l-4.1 -5.7m0.4 1.9l-0.4 -1.9l1.7 0.9M201.4 80.4l-5.4 -4.5m0.8 1.7l-0.8 -1.7l1.8 0.5M202 72.9l-6.6 -2.3m1.4 1.3l-1.4 -1.3l1.9 -0.2M202.2 65l-6.9 1m1.8 0.6l-1.8 -0.6l1.6 -1M201.5 57.1l-5.6 4.2m1.8 -0.4l-1.8 0.4l0.9 -1.7M200.2 49.8l-3.1 6.3m1.5 -1.2l-1.5 1.2l0 -1.9M199.2 43.1l-0.9 6.9m1 -1.6l-1 1.6l-0.6 -1.8M198.6 36.8l0.3 7.1m0.7 -1.8l-0.7 1.8l-0.9 -1.7M198.3 30.3l0.8 7.4m0.6 -1.9l-0.6 1.9l-1 -1.7M198.2 23.9l0.9 7.6m0.6 -2l-0.6 2l-1.1 -1.8M198.5 17.6l0.5 7.7m0.8 -1.9l-0.8 1.9l-1 -1.8M198.9 11.3l-0.5 7.6m1 -1.8l-1 1.8l-0.8 -1.9M199.7 5.2l-1.9 7.3m1.3 -1.6l-1.3 1.6l-0.4 -2M203.1 125.5l2.8 -6.6m-1.4 1.3l1.4 -1.3l0.1 1.9M203.1 119.2l2.8 -6.6m-1.4 1.3l1.4 -1.3l0.1 1.9M203.1 112.9l2.7 -6.6m-1.4 1.3l1.4 -1.3l0.1 1.9M203.2 106.6l2.7 -6.6m-1.4 1.3l1.4 -1.3l0.1 1.9M203.2 100.3l2.6 -6.6m-1.4 1.3l1.4 -1.3l0.1 1.9M203.3 94l2.5 -6.5m-1.4 1.3l1.4 -1.3l0.1 1.9M203.3 87.7l2.3 -6.6m-1.3 1.3l1.3 -1.3l0.2 1.9M203.4 81.4l2.2 -6.7m-1.3 1.4l1.3 -1.4l0.2 1.9M203.3 75.1l2.3 -6.6m-1.3 1.3l1.3 -1.3l0.2 1.9M201.8 67.7l5.5 -4.3m-1.8 0.4l1.8 -0.4l-0.9 1.7M202.6 56.3l3.9 5.8m-0.3 -1.9l0.3 1.9l-1.6 -1M203.2 49.7l2.6 6.5m0.1 -1.9l-0.1 1.9l-1.4 -1.3M203.4 43.3l2.3 6.6m0.2 -1.9l-0.2 1.9l-1.3 -1.4M203.5 36.9l2 6.9m0.3 -1.9l-0.3 1.9l-1.3 -1.4M203.7 30.4l1.6 7.1m0.4 -1.9l-0.4 1.9l-1.2 -1.6M204.1 24l0.7 7.3m0.7 -1.9l-0.7 1.9l-1 -1.7M204.8 17.7l-0.6 7.3m1 -1.7l-1 1.7l-0.7 -1.9M205.6 11.6l-2.1 7.1m1.3 -1.5l-1.3 1.5l-0.3 -2M206.2 5.4l-3.3 6.8m1.6 -1.3l-1.6 1.3l0 -2M207.9 125.8l4.8 -7.1m-2 1.2l2 -1.2l-0.4 2.3M207.9 119.5l4.8 -7.1m-2 1.2l2 -1.2l-0.4 2.3M207.9 113.2l4.7 -7.1m-2 1.2l2 -1.2l-0.3 2.3M207.9 106.9l4.7 -7.1m-2 1.2l2 -1.2l-0.3 2.3M208 100.5l4.7 -7.1m-2 1.2l2 -1.2l-0.3 2.3M208 94.2l4.6 -7m-1.9 1.2l1.9 -1.2l-0.3 2.2M208 87.8l4.6 -6.8m-1.9 1.1l1.9 -1.1l-0.3 2.2M208 81.2l4.7 -6.2m-1.9 1l1.9 -1l-0.4 2M207.6 74l5.4 -4.4m-1.8 0.5l1.8 -0.5l-0.8 1.7M206.8 65.7l7 -0.5m-1.8 -0.7l1.8 0.7l-1.7 0.9M207.3 57.5l6.1 3.4m-1.1 -1.5l1.1 1.5l-1.9 -0.1M207.8 50.4l4.9 5m-0.6 -1.8l0.6 1.8l-1.8 -0.6M208.2 43.8l4.2 5.6m-0.4 -1.9l0.4 1.9l-1.7 -0.9M208.6 37.2l3.3 6.1m-0.1 -1.9l0.1 1.9l-1.5 -1.1M209.3 30.6l2 6.7m0.3 -1.9l-0.3 1.9l-1.3 -1.4M210.2 24.2l0.2 7m0.8 -1.7l-0.8 1.7l-0.8 -1.7M211 18l-1.3 6.9m1.1 -1.5l-1.1 1.5l-0.5 -1.8M211.4 11.6l-2.2 6.9m1.3 -1.4l-1.3 1.4l-0.3 -1.9M211.6 5.3l-2.7 7m1.5 -1.4l-1.5 1.4l-0.1 -2M213.2 126l5.9 -7.6m-2.3 1.2l2.3 -1.2l-0.6 2.5M213.2 119.7l5.9 -7.6m-2.3 1.2l2.3 -1.2l-0.6 2.5M213.2 113.4l5.9 -7.6m-2.3 1.2l2.3 -1.2l-0.6 2.5M213.2 107.1l5.9 -7.6m-2.3 1.2l2.3 -1.2l-0.6 2.5M213.2 100.8l5.8 -7.5m-2.3 1.2l2.3 -1.2l-0.6 2.5M213.2 94.4l5.8 -7.4m-2.3 1.1l2.3 -1.1l-0.6 2.5M213.1 87.8l5.9 -6.9m-2.2 1l2.2 -1l-0.7 2.4M213 80.9l6.2 -5.5m-2.2 0.6l2.2 -0.6l-0.9 2.1M212.7 73.4l6.8 -3.1m-2 0l2 0l-1.3 1.5M212.6 65.8l7 -0.5m-1.8 -0.7l1.8 0.7l-1.6 0.9M212.6 58.7l6.9 0.9m-1.6 -1l1.6 1l-1.8 0.6M212.7 52.3l6.9 1.3m-1.5 -1.1l1.5 1.1l-1.8 0.5M212.6 46.1l6.9 1.1m-1.6 -1l1.6 1l-1.8 0.5M212.7 39.6l6.8 1.5m-1.5 -1.1l1.5 1.1l-1.8 0.4M213.3 31.8l5.5 4.3m-0.9 -1.7l0.9 1.7l-1.8 -0.4M215.1 24.4l2.1 6.7m0.3 -1.9l-0.3 1.9l-1.3 -1.4M216 17.9l0.3 7m0.7 -1.7l-0.7 1.7l-0.9 -1.7M216.3 11.5l-0.5 7.2m0.9 -1.7l-0.9 1.7l-0.7 -1.8M216.6 5l-0.9 7.5m1.1 -1.7l-1.1 1.7l-0.6 -1.9M218.6 126.1l6.5 -7.9m-2.4 1.2l2.4 -1.2l-0.7 2.6M218.6 119.8l6.5 -7.9m-2.4 1.2l2.4 -1.2l-0.7 2.6M218.6 113.5l6.5 -7.9m-2.4 1.2l2.4 -1.2l-0.7 2.6M218.6 107.2l6.5 -7.9m-2.4 1.2l2.4 -1.2l-0.7 2.6M218.6 100.9l6.5 -7.8m-2.4 1.1l2.4 -1.1l-0.7 2.6M218.6 94.4l6.5 -7.4m-2.4 1.1l2.4 -1.1l-0.8 2.6M218.6 87.7l6.7 -6.5m-2.4 0.8l2.4 -0.8l-0.9 2.4M218.4 80.6l6.9 -5.1m-2.3 0.4l2.3 -0.4l-1.1 2M218.3 73.6l7.2 -3.6m-2.2 0.1l2.2 -0.1l-1.3 1.7M218.3 67l7.2 -3m-2.1 -0.1l2.1 0.1l-1.4 1.6M218.4 60.9l7 -3.4m-2.1 0l2.1 0l-1.3 1.6M218.6 55l6.6 -4.2m-2.1 0.3l2.1 -0.3l-1.1 1.8M218.8 48.8l6.2 -4.5m-2 0.4l2 -0.4l-1 1.8M218.8 42.1l6.1 -3.6m-1.9 0.2l1.9 -0.2l-1.1 1.6M218.4 34.3l7 -0.7m-1.8 -0.6l1.8 0.6l-1.6 1M219.3 25.4l5.2 4.7m-0.7 -1.7l0.7 1.7l-1.8 -0.5M220.6 18.1l2.6 6.5m0.1 -1.9l-0.1 1.9l-1.4 -1.3M221.2 11.4l1.4 7.3m0.5 -2l-0.5 2l-1.2 -1.6M221.5 4.9l0.8 7.8m0.7 -2l-0.7 2l-1.1 -1.8M224.3 126.2l6.9 -8m-2.5 1.1l2.5 -1.1l-0.7 2.6M224.3 119.9l6.9 -8m-2.5 1.1l2.5 -1.1l-0.7 2.6M224.3 113.6l6.9 -8m-2.5 1.1l2.5 -1.1l-0.7 2.6M224.3 107.3l6.9 -8m-2.5 1.1l2.5 -1.1l-0.7 2.6M224.3 100.9l6.9 -7.8m-2.5 1.1l2.5 -1.1l-0.8 2.6M224.2 94.3l6.9 -7.3m-2.5 1l2.5 -1l-0.9 2.6M224.2 87.7l7 -6.5m-2.5 0.8l2.5 -0.8l-1 2.4M224.1 81l7.1 -5.8m-2.4 0.6l2.4 -0.6l-1.1 2.2M224.1 74.6l7.1 -5.6m-2.4 0.5l2.4 -0.5l-1.1 2.2M224.2 68.5l7 -5.9m-2.4 0.7l2.4 -0.7l-1 2.2M224.3 62.4l6.8 -6.4m-2.4 0.8l2.4 -0.8l-0.9 2.3M224.4 56.2l6.6 -6.5m-2.4 0.9l2.4 -0.9l-0.9 2.3M224.5 49.6l6.4 -6m-2.3 0.7l2.3 -0.7l-0.9 2.2M224.4 42.6l6.5 -4.6m-2.1 0.4l2.1 -0.4l-1.1 1.9M224.3 34.8l6.8 -1.7m-1.9 -0.4l1.9 0.4l-1.5 1.2M224.6 26.1l6.3 3.1m-1.2 -1.5l1.2 1.5l-1.9 0M225.7 18.4l4.1 5.9m-0.3 -1.9l0.3 1.9l-1.7 -1M226.3 11.5l2.8 7.2m0.1 -2.1l-0.1 2.1l-1.5 -1.4M226.6 4.8l2.2 7.9m0.4 -2.2l-0.4 2.2l-1.4 -1.7M230 126.3l7.1 -8.1m-2.5 1.1l2.5 -1.1l-0.7 2.6M230 120l7.1 -8.1m-2.5 1.1l2.5 -1.1l-0.7 2.6M230 113.6l7.1 -8.1m-2.5 1.1l2.5 -1.1l-0.8 2.6M230 107.3l7.1 -8m-2.5 1.1l2.5 -1.1l-0.8 2.6M230 100.9l7.1 -7.7m-2.5 1l2.5 -1l-0.8 2.6M229.9 94.4l7.1 -7.4m-2.5 1l2.5 -1l-0.9 2.6M229.9 88l7.1 -7.1m-2.5 0.9l2.5 -0.9l-0.9 2.5M229.9 81.6l7.1 -7.1m-2.5 0.9l2.5 -0.9l-0.9 2.5M230 75.4l7.1 -7.3m-2.5 1l2.5 -1l-0.9 2.6M230 69.2l7 -7.5m-2.5 1l2.5 -1l-0.8 2.6M230.1 62.9l6.9 -7.5m-2.5 1l2.5 -1l-0.8 2.6M230.1 56.5l6.8 -7.1m-2.5 1l2.5 -1l-0.9 2.5M230.1 49.8l6.8 -6.4m-2.4 0.8l2.4 -0.8l-0.9 2.3M230.1 42.7l6.9 -4.8m-2.2 0.4l2.2 -0.4l-1.1 2M229.9 35l7.2 -1.9m-2 -0.4l2 0.4l-1.6 1.3M230.2 26.4l6.6 2.5m-1.3 -1.4l1.3 1.4l-1.9 0.1M231.1 18.6l4.9 5.7m-0.5 -2l0.5 2l-1.8 -0.8M231.7 11.5l3.7 7.2m-0.1 -2.2l0.1 2.2l-1.7 -1.3M232 4.8l3 8m0.2 -2.3l-0.2 2.3l-1.6 -1.6M235.7 126.3l7.2 -8.2m-2.5 1.1l2.5 -1.1l-0.8 2.6M235.7 120l7.2 -8.1m-2.5 1.1l2.5 -1.1l-0.8 2.6M235.7 113.6l7.2 -8.1m-2.5 1.1l2.5 -1.1l-0.8 2.6M235.7 107.3l7.2 -8m-2.5 1.1l2.5 -1.1l-0.8 2.6M235.7 100.9l7.2 -7.9m-2.5 1l2.5 -1l-0.8 2.6M235.7 94.6l7.2 -7.8m-2.5 1l2.5 -1l-0.8 2.6M235.7 88.3l7.2 -7.8m-2.5 1l2.5 -1l-0.8 2.6M235.7 82l7.2 -7.9m-2.5 1l2.5 -1l-0.8 2.6M235.7 75.8l7.1 -7.9m-2.5 1.1l2.5 -1.1l-0.8 2.6M235.8 69.4l7.1 -7.9m-2.5 1.1l2.5 -1.1l-0.8 2.6M235.8 63l7 -7.7m-2.5 1l2.5 -1l-0.8 2.6M235.8 56.5l7 -7.3m-2.5 1l2.5 -1l-0.9 2.6M235.8 49.8l7 -6.5m-2.4 0.8l2.4 -0.8l-1 2.4M235.7 42.7l7.2 -4.9m-2.3 0.4l2.3 -0.4l-1.2 2M235.6 35l7.5 -1.9m-2.1 -0.4l2.1 0.4l-1.6 1.3M235.8 26.5l6.9 2.4m-1.4 -1.4l1.4 1.4l-2 0.2M236.6 18.6l5.3 5.6m-0.7 -2l0.7 2l-1.9 -0.8M237.2 11.5l4.2 7.2m-0.2 -2.2l0.2 2.2l-1.8 -1.3M237.5 4.8l3.5 8m0 -2.4l0 2.4l-1.8 -1.6M241.5 126.3l7.2 -8.1m-2.5 1.1l2.5 -1.1l-0.8 2.6M241.5 120l7.3 -8.1m-2.5 1.1l2.5 -1.1l-0.8 2.6M241.5 113.6l7.3 -8.1m-2.5 1.1l2.5 -1.1l-0.8 2.6M241.5 107.3l7.3 -8.1m-2.5 1.1l2.5 -1.1l-0.8 2.6M241.5 101l7.3 -8.1m-2.5 1.1l2.5 -1.1l-0.8 2.6M241.5 94.7l7.2 -8.1m-2.5 1.1l2.5 -1.1l-0.8 2.6M241.5 88.4l7.2 -8.1m-2.5 1.1l2.5 -1.1l-0.8 2.6M241.5 82.1l7.2 -8.1m-2.5 1.1l2.5 -1.1l-0.8 2.6M241.5 75.8l7.2 -8m-2.5 1.1l2.5 -1.1l-0.8 2.6M241.5 69.5l7.2 -7.9m-2.5 1l2.5 -1l-0.8 2.6M241.5 63.1l7.1 -7.7m-2.5 1l2.5 -1l-0.8 2.6M241.5 56.6l7.1 -7.3m-2.5 1l2.5 -1l-0.9 2.5M241.5 49.8l7.1 -6.5m-2.5 0.8l2.5 -0.8l-1 2.4M241.4 42.7l7.3 -4.9m-2.3 0.4l2.3 -0.4l-1.2 2M241.3 34.9l7.7 -1.9m-2.1 -0.4l2.1 0.4l-1.7 1.3M241.5 26.5l7.1 2.5m-1.5 -1.4l1.5 1.4l-2 0.2M242.3 18.6l5.6 5.6m-0.7 -2l0.7 2l-2 -0.7M242.9 11.5l4.5 7.2m-0.3 -2.3l0.3 2.3l-1.9 -1.3M243.2 4.8l3.9 8.1m0 -2.4l0 2.4l-1.9 -1.5M247.3 126.3l7.3 -8.1m-2.5 1.1l2.5 -1.1l-0.8 2.6M247.3 120l7.3 -8.1m-2.5 1.1l2.5 -1.1l-0.8 2.6M247.3 113.7l7.3 -8.1m-2.5 1.1l2.5 -1.1l-0.8 2.6M247.3 107.4l7.3 -8.1m-2.5 1.1l2.5 -1.1l-0.8 2.6M247.3 101.1l7.3 -8.1m-2.5 1.1l2.5 -1.1l-0.8 2.6M247.3 94.8l7.3 -8.1m-2.5 1.1l2.5 -1.1l-0.8 2.6M247.3 88.5l7.3 -8.1m-2.5 1.1l2.5 -1.1l-0.8 2.6M247.3 82.1l7.3 -8.1m-2.5 1.1l2.5 -1.1l-0.8 2.6M247.3 75.8l7.3 -8m-2.5 1.1l2.5 -1.1l-0.8 2.6M247.3 69.5l7.2 -7.9m-2.5 1l2.5 -1l-0.8 2.6M247.3 63.1l7.2 -7.7m-2.5 1l2.5 -1l-0.8 2.6M247.3 56.6l7.2 -7.3m-2.5 0.9l2.5 -0.9l-0.9 2.5M247.3 49.8l7.2 -6.5m-2.5 0.8l2.5 -0.8l-1 2.4M247.2 42.7l7.4 -4.9m-2.4 0.3l2.4 -0.3l-1.3 2M247 34.9l7.8 -1.8m-2.1 -0.4l2.1 0.4l-1.7 1.3M247.3 26.4l7.2 2.5m-1.5 -1.4l1.5 1.4l-2.1 0.2M248 18.6l5.8 5.6m-0.8 -2l0.8 2l-2.1 -0.7M248.6 11.5l4.7 7.3m-0.3 -2.3l0.3 2.3l-2 -1.2M248.9 4.7l4.1 8.1m-0.1 -2.5l0.1 2.5l-1.9 -1.5M253 126.3l7.3 -8.1m-2.5 1.1l2.5 -1.1l-0.8 2.6M253 120l7.3 -8.1m-2.5 1.1l2.5 -1.1l-0.8 2.6M253 113.7l7.3 -8.1m-2.5 1.1l2.5 -1.1l-0.8 2.6M253 107.4l7.3 -8.1m-2.5 1.1l2.5 -1.1l-0.8 2.6M253 101.1l7.3 -8.1m-2.5 1.1l2.5 -1.1l-0.8 2.6M253 94.8l7.3 -8.1m-2.5 1.1l2.5 -1.1l-0.8 2.6M253 88.5l7.3 -8.1m-2.5 1.1l2.5 -1.1l-0.8 2.6M253 82.1l7.3 -8.1m-2.5 1l2.5 -1l-0.8 2.6M253 75.8l7.3 -8m-2.5 1l2.5 -1l-0.8 2.6M253.1 69.5l7.3 -7.9m-2.5 1l2.5 -1l-0.8 2.6M253.1 63.1l7.3 -7.7m-2.5 1l2.5 -1l-0.8 2.6M253.1 56.6l7.3 -7.3m-2.5 0.9l2.5 -0.9l-0.9 2.5M253 49.8l7.3 -6.5m-2.5 0.7l2.5 -0.7l-1.1 2.4M252.9 42.7l7.5 -4.8m-2.4 0.3l2.4 -0.3l-1.3 2M252.8 34.9l7.8 -1.7m-2.1 -0.5l2.1 0.5l-1.7 1.3M253.1 26.4l7.3 2.6m-1.5 -1.5l1.5 1.5l-2.1 0.2M253.8 18.6l5.9 5.7m-0.8 -2.1l0.8 2.1l-2.1 -0.7M254.3 11.5l4.8 7.3m-0.3 -2.3l0.3 2.3l-2 -1.2M254.6 4.7l4.2 8.2m-0.1 -2.5l0.1 2.5l-2 -1.5M258.8 126.3l7.4 -8.1m-2.5 1l2.5 -1l-0.8 2.6M258.8 120l7.4 -8.1m-2.5 1l2.5 -1l-0.8 2.6M258.8 113.7l7.4 -8.1m-2.5 1l2.5 -1l-0.8 2.6M258.8 107.4l7.4 -8.1m-2.5 1l2.5 -1l-0.8 2.6M258.8 101.1l7.4 -8.1m-2.5 1l2.5 -1l-0.8 2.6M258.8 94.8l7.4 -8.1m-2.5 1l2.5 -1l-0.8 2.6M258.8 88.4l7.4 -8.1m-2.5 1l2.5 -1l-0.8 2.6M258.8 82.1l7.3 -8.1m-2.5 1l2.5 -1l-0.8 2.6M258.8 75.8l7.3 -8m-2.5 1l2.5 -1l-0.8 2.6M258.8 69.5l7.3 -7.9m-2.5 1l2.5 -1l-0.8 2.6M258.8 63.1l7.3 -7.7m-2.5 1l2.5 -1l-0.9 2.6M258.8 56.6l7.3 -7.3m-2.5 0.9l2.5 -0.9l-0.9 2.5M258.8 49.8l7.4 -6.5m-2.5 0.7l2.5 -0.7l-1.1 2.4M258.7 42.7l7.6 -4.8m-2.4 0.3l2.4 -0.3l-1.3 2M258.5 34.8l7.9 -1.6m-2.1 -0.5l2.1 0.5l-1.7 1.3M258.8 26.4l7.3 2.6m-1.5 -1.5l1.5 1.5l-2.1 0.2M259.5 18.5l5.9 5.7m-0.8 -2.1l0.8 2.1l-2.1 -0.7M260.1 11.4l4.9 7.3m-0.4 -2.3l0.4 2.3l-2 -1.2M260.3 4.7l4.3 8.2m-0.1 -2.5l0.1 2.5l-2 -1.5M264.6 126.3l7.4 -8.1m-2.5 1l2.5 -1l-0.8 2.6M264.6 120l7.4 -8.1m-2.5 1l2.5 -1l-0.8 2.6M264.6 113.7l7.4 -8.1m-2.5 1l2.5 -1l-0.8 2.6M264.6 107.4l7.4 -8.1m-2.5 1l2.5 -1l-0.8 2.6M264.6 101l7.4 -8.1m-2.5 1l2.5 -1l-0.8 2.6M264.6 94.7l7.4 -8.1m-2.5 1l2.5 -1l-0.8 2.6M264.6 88.4l7.4 -8.1m-2.5 1l2.5 -1l-0.8 2.6M264.6 82.1l7.4 -8.1m-2.5 1l2.5 -1l-0.8 2.6M264.6 75.8l7.4 -8m-2.5 1l2.5 -1l-0.8 2.6M264.6 69.5l7.4 -7.9m-2.5 1l2.5 -1l-0.8 2.6M264.6 63.1l7.3 -7.7m-2.5 1l2.5 -1l-0.9 2.6M264.6 56.5l7.3 -7.3m-2.5 0.9l2.5 -0.9l-0.9 2.5M264.6 49.8l7.4 -6.4m-2.5 0.7l2.5 -0.7l-1.1 2.4M264.5 42.7l7.6 -4.7m-2.4 0.3l2.4 -0.3l-1.3 2M264.3 34.8l7.9 -1.6m-2.1 -0.5l2.1 0.5l-1.8 1.3M264.6 26.4l7.4 2.7m-1.5 -1.5l1.5 1.5l-2.1 0.2M265.3 18.5l6 5.7m-0.8 -2.1l0.8 2.1l-2.1 -0.7M265.8 11.4l5 7.3m-0.4 -2.4l0.4 2.4l-2 -1.2M266.1 4.7l4.4 8.2m-0.1 -2.5l0.1 2.5l-2 -1.5M270.4 126.2l7.4 -8.1m-2.5 1l2.5 -1l-0.8 2.6M270.4 119.9l7.4 -8.1m-2.5 1l2.5 -1l-0.8 2.6M270.4 113.6l7.4 -8.1m-2.5 1l2.5 -1l-0.8 2.6M270.4 107.3l7.4 -8.1m-2.5 1l2.5 -1l-0.8 2.6M270.4 101l7.4 -8.1m-2.5 1l2.5 -1l-0.8 2.6M270.4 94.7l7.4 -8.1m-2.5 1l2.5 -1l-0.8 2.6M270.4 88.4l7.4 -8.1m-2.5 1l2.5 -1l-0.8 2.6M270.4 82.1l7.4 -8m-2.5 1l2.5 -1l-0.8 2.6M270.4 75.8l7.4 -8m-2.5 1l2.5 -1l-0.8 2.6M270.4 69.4l7.4 -7.9m-2.5 1l2.5 -1l-0.8 2.6M270.4 63l7.4 -7.7m-2.5 1l2.5 -1l-0.9 2.6M270.4 56.5l7.4 -7.3m-2.5 0.9l2.5 -0.9l-0.9 2.5M270.4 49.8l7.4 -6.4m-2.6 0.7l2.6 -0.7l-1.1 2.4M270.3 42.7l7.7 -4.7m-2.4 0.3l2.4 -0.3l-1.3 2M270.1 34.8l8 -1.6m-2.1 -0.5l2.1 0.5l-1.8 1.3M270.4 26.3l7.4 2.7m-1.5 -1.5l1.5 1.5l-2.1 0.2M271.1 18.5l6 5.7m-0.8 -2.1l0.8 2.1l-2.1 -0.7M271.6 11.4l5 7.4m-0.4 -2.4l0.4 2.4l-2.1 -1.2M271.9 4.7l4.4 8.2m-0.1 -2.5l0.1 2.5l-2 -1.5M276.2 126.2l7.4 -8.1m-2.5 1l2.5 -1l-0.8 2.6M276.2 119.9l7.4 -8.1m-2.5 1l2.5 -1l-0.8 2.6M276.2 113.6l7.4 -8.1m-2.5 1l2.5 -1l-0.8 2.6M276.2 107.3l7.4 -8.1m-2.5 1l2.5 -1l-0.8 2.6M276.2 101l7.4 -8.1m-2.5 1l2.5 -1l-0.8 2.6M276.2 94.7l7.4 -8.1m-2.5 1l2.5 -1l-0.8 2.6M276.2 88.4l7.4 -8.1m-2.5 1l2.5 -1l-0.8 2.6M276.2 82.1l7.4 -8m-2.5 1l2.5 -1l-0.8 2.6M276.2 75.8l7.4 -8m-2.5 1l2.5 -1l-0.8 2.6M276.2 69.4l7.4 -7.9m-2.5 1l2.5 -1l-0.8 2.6M276.2 63l7.4 -7.7m-2.5 1l2.5 -1l-0.9 2.6M276.2 56.5l7.4 -7.3m-2.5 0.9l2.5 -0.9l-0.9 2.5M276.2 49.8l7.5 -6.4m-2.6 0.7l2.6 -0.7l-1.1 2.4M276.1 42.6l7.7 -4.7m-2.4 0.3l2.4 -0.3l-1.3 2M275.9 34.8l8 -1.5m-2.1 -0.5l2.1 0.5l-1.8 1.3M276.2 26.3l7.4 2.7m-1.5 -1.5l1.5 1.5l-2.1 0.2M276.9 18.5l6 5.8m-0.8 -2.1l0.8 2.1l-2.1 -0.7M277.4 11.4l5 7.4m-0.4 -2.4l0.4 2.4l-2.1 -1.2M277.7 4.7l4.4 8.2m-0.1 -2.5l0.1 2.5l-2 -1.5"/><path fill="none" stroke="#5070ff" stroke-opacity="0.35" stroke-width="0.8" d="M0 118.8H279.2M0 105H279.2M0 91.3H279.2M0 77.5H279.2M0 63.7H279.2M0 49.9H279.2M0 36.1H279.2M0 22.3H279.2M0 8.6H279.2"/>
<path fill="none" stroke="#b8b8b8" stroke-opacity="0.75" stroke-width="0.6" stroke-dasharray="1 2" d="M34.9 0V125.3M69.8 0V125.3M104.7 0V125.3M139.6 0V125.3M174.5 0V125.3M209.4 0V125.3M244.3 0V125.3M0 112.8H279.2M0 100.2H279.2M0 87.7H279.2M0 75.2H279.2M0 62.6H279.2M0 50.1H279.2M0 37.6H279.2M0 25.1H279.2M0 12.5H279.2"/>
<path fill="none" stroke="#111" stroke-width="0.8" stroke-linejoin="round" d="M35.9 0L34.2 3.3L29.7 7.1L24.4 9.2L19.5 15.9L14.7 25.1L10.5 36.8L12.6 44.7L12.6 56.4L9.1 63.9L11.5 71L11.5 73.9L16.8 79.4L21.6 85.2L24.1 90.6L29.7 96.5L37.7 103.6L43.3 106.9L52.3 104L59.3 104L62.8 105.3L69.8 101.5L75 99.4L82 98.6L85.9 99.8L88.6 103.6L90.7 107.3L94.9 106.9L99.5 106.1L103 109L104 112.8L104 116.9L103 121.1L102.3 125.3M10.8 6.7L13.3 7.5M14.7 7.9L16.4 8.8M20.2 5.8L22.3 3.8M183.2 0L183.9 3.3L187.1 8.8L189.5 14.6L193 23.8L194.7 29.2L198.9 36.8L200 44.7L204.2 50.1L207.3 60.1L212.9 64.3L218.1 70.2L220.6 73.1L220.6 76.9L225.1 81.4L232.1 80.2L240.1 78.1L248.5 75.6L248.1 81.4L246.4 87.7L242.6 96.1L239.1 104.4L233.8 111.9L228.9 116.1L222.3 122.4L218.8 125.3M183.6 0L185.7 5.8L189.2 9.6L191.6 2.5M191.9 2.5L191.9 7.9L197.5 17.1L200.3 24.2L205.9 32.6L207.3 39.3L212.9 47.6L218.1 56.4L219.9 66L221.6 72.3L226.8 71.8L237.3 66.8L244.3 62.6L252 56.8L258.3 54.3L263.5 50.1L270.5 45.9L274 39.7L278.5 31.3L274.3 26.7L268.7 25.1L266.3 20.9L266.6 15.5L262.4 19.2L258.3 24.2L251.3 25.1L249.5 20.9L249.5 16.7L247.4 20.9L245 16.7L244.3 12.5L240.1 8.4L237.3 2.1L239.1 0M243.6 0L247.1 4.6L253 10.4L260 13.8L266.3 12.1L270.5 18L279.2 19.6"/>
<rect x="0" y="0" width="279.2" height="125.3" fill="none" stroke="#000" stroke-width="1"/>
</g>
<g filter="url(#gs)"><path d="M27.5 148.8h-3" stroke="#000" stroke-width="1"/>
<text transform="translate(12.75 152.10) scale(0.727 1)" font-size="9" font-weight="bold" fill="#000">EQ</text>
<path d="M27.5 136.27h-3" stroke="#000" stroke-width="1"/>
<text transform="translate(13.84 139.57) scale(0.727 1)" font-size="9" font-weight="bold" fill="#000">3N</text>
<path d="M27.5 123.74h-3" stroke="#000" stroke-width="1"/>
<text transform="translate(13.84 127.04) scale(0.727 1)" font-size="9" font-weight="bold" fill="#000">6N</text>
<path d="M27.5 111.21h-3" stroke="#000" stroke-width="1"/>
<text transform="translate(13.84 114.51) scale(0.727 1)" font-size="9" font-weight="bold" fill="#000">9N</text>
<path d="M27.5 98.68h-3" stroke="#000" stroke-width="1"/>
<text transform="translate(10.20 101.98) scale(0.727 1)" font-size="9" font-weight="bold" fill="#000">12N</text>
<path d="M27.5 86.15h-3" stroke="#000" stroke-width="1"/>
<text transform="translate(10.20 89.45) scale(0.727 1)" font-size="9" font-weight="bold" fill="#000">15N</text>
<path d="M27.5 73.62h-3" stroke="#000" stroke-width="1"/>
<text transform="translate(10.20 76.92) scale(0.727 1)" font-size="9" font-weight="bold" fill="#000">18N</text>
<path d="M27.5 61.09h-3" stroke="#000" stroke-width="1"/>
<text transform="translate(10.20 64.39) scale(0.727 1)" font-size="9" font-weight="bold" fill="#000">21N</text>
<path d="M27.5 48.56h-3" stroke="#000" stroke-width="1"/>
<text transform="translate(10.20 51.86) scale(0.727 1)" font-size="9" font-weight="bold" fill="#000">24N</text>
<path d="M27.5 36.03h-3" stroke="#000" stroke-width="1"/>
<text transform="translate(10.20 39.33) scale(0.727 1)" font-size="9" font-weight="bold" fill="#000">27N</text>
<path d="M27.5 23.5h-3" stroke="#000" stroke-width="1"/>
<text transform="translate(10.20 26.80) scale(0.727 1)" font-size="9" font-weight="bold" fill="#000">30N</text>
<path d="M27.5 148.8v2.8" stroke="#000" stroke-width="1"/>
<text transform="translate(20.70 158.90) scale(0.735 1)" font-size="9" font-weight="bold" fill="#000">20W</text>
<path d="M62.4 148.8v2.8" stroke="#000" stroke-width="1"/>
<text transform="translate(55.60 158.90) scale(0.735 1)" font-size="9" font-weight="bold" fill="#000">10W</text>
<path d="M97.3 148.8v2.8" stroke="#000" stroke-width="1"/>
<text transform="translate(95.46 158.90) scale(0.735 1)" font-size="9" font-weight="bold" fill="#000">0</text>
<path d="M132.2 148.8v2.8" stroke="#000" stroke-width="1"/>
<text transform="translate(126.32 158.90) scale(0.735 1)" font-size="9" font-weight="bold" fill="#000">10E</text>
<path d="M167.1 148.8v2.8" stroke="#000" stroke-width="1"/>
<text transform="translate(161.22 158.90) scale(0.735 1)" font-size="9" font-weight="bold" fill="#000">20E</text>
<path d="M202 148.8v2.8" stroke="#000" stroke-width="1"/>
<text transform="translate(196.12 158.90) scale(0.735 1)" font-size="9" font-weight="bold" fill="#000">30E</text>
<path d="M236.9 148.8v2.8" stroke="#000" stroke-width="1"/>
<text transform="translate(231.02 158.90) scale(0.735 1)" font-size="9" font-weight="bold" fill="#000">40E</text>
<path d="M271.8 148.8v2.8" stroke="#000" stroke-width="1"/>
<text transform="translate(265.92 158.90) scale(0.735 1)" font-size="9" font-weight="bold" fill="#000">50E</text>
<path d="M306.7 148.8v2.8" stroke="#000" stroke-width="1"/>
<text transform="translate(300.82 158.90) scale(0.735 1)" font-size="9" font-weight="bold" fill="#000">60E</text>
<text transform="translate(69.60 17.70) scale(1.074 1)" font-size="11" font-weight="normal" fill="#333">201303</text>
<text transform="translate(138.70 17.70) scale(1.052 1)" font-size="11" font-weight="normal" fill="#333">10m</text>
<text transform="translate(167.80 17.70) scale(0.894 1)" font-size="11" font-weight="normal" fill="#333">Wind</text>
<text transform="translate(196.50 17.70) scale(0.984 1)" font-size="11" font-weight="normal" fill="#333">Speed</text>
<text transform="translate(244.30 17.70) scale(0.900 1)" font-size="11" font-weight="normal" fill="#333">AMJ</text></g>
<path d="M60.7 187.6L41.8 190.6L60.7 193.5Z" fill="#a000c8" stroke="#111" stroke-width="0.8" stroke-linejoin="miter"/>
<path d="M272.5 187.6L291.9 190.6L272.5 193.5Z" fill="#f00082" stroke="#111" stroke-width="0.8" stroke-linejoin="miter"/>
<rect x="60.7" y="187.6" width="19.3" height="5.9" fill="#8200dc" stroke="#111" stroke-width="0.8"/>
<rect x="80.0" y="187.6" width="19.3" height="5.9" fill="#1e3cff" stroke="#111" stroke-width="0.8"/>
<rect x="99.2" y="187.6" width="19.3" height="5.9" fill="#00a0ff" stroke="#111" stroke-width="0.8"/>
<rect x="118.5" y="187.6" width="19.3" height="5.9" fill="#00c8c8" stroke="#111" stroke-width="0.8"/>
<rect x="137.7" y="187.6" width="19.3" height="5.9" fill="#00d28c" stroke="#111" stroke-width="0.8"/>
<rect x="157.0" y="187.6" width="19.3" height="5.9" fill="#00dc00" stroke="#111" stroke-width="0.8"/>
<rect x="176.2" y="187.6" width="19.3" height="5.9" fill="#a0e632" stroke="#111" stroke-width="0.8"/>
<rect x="195.5" y="187.6" width="19.3" height="5.9" fill="#e6dc32" stroke="#111" stroke-width="0.8"/>
<rect x="214.7" y="187.6" width="19.3" height="5.9" fill="#e6af2d" stroke="#111" stroke-width="0.8"/>
<rect x="234.0" y="187.6" width="19.3" height="5.9" fill="#f08228" stroke="#111" stroke-width="0.8"/>
<rect x="253.2" y="187.6" width="19.3" height="5.9" fill="#fa3c3c" stroke="#111" stroke-width="0.8"/>
<g filter="url(#gs)">
<text transform="translate(54.48 199.80) scale(1.000 1)" font-size="6.5" font-weight="bold" fill="#1a1a1a">−2.5</text>
<text transform="translate(76.45 199.80) scale(1.000 1)" font-size="6.5" font-weight="bold" fill="#1a1a1a">−2</text>
<text transform="translate(92.99 199.80) scale(1.000 1)" font-size="6.5" font-weight="bold" fill="#1a1a1a">−1.5</text>
<text transform="translate(114.96 199.80) scale(1.000 1)" font-size="6.5" font-weight="bold" fill="#1a1a1a">−1</text>
<text transform="translate(131.50 199.80) scale(1.000 1)" font-size="6.5" font-weight="bold" fill="#1a1a1a">−0.5</text>
<text transform="translate(155.37 199.80) scale(1.000 1)" font-size="6.5" font-weight="bold" fill="#1a1a1a">0</text>
<text transform="translate(171.91 199.80) scale(1.000 1)" font-size="6.5" font-weight="bold" fill="#1a1a1a">0.5</text>
<text transform="translate(193.87 199.80) scale(1.000 1)" font-size="6.5" font-weight="bold" fill="#1a1a1a">1</text>
<text transform="translate(210.42 199.80) scale(1.000 1)" font-size="6.5" font-weight="bold" fill="#1a1a1a">1.5</text>
<text transform="translate(232.38 199.80) scale(1.000 1)" font-size="6.5" font-weight="bold" fill="#1a1a1a">2</text>
<text transform="translate(248.93 199.80) scale(1.000 1)" font-size="6.5" font-weight="bold" fill="#1a1a1a">2.5</text>
<text transform="translate(270.89 199.80) scale(1.000 1)" font-size="6.5" font-weight="bold" fill="#1a1a1a">3</text>
</g>
<g transform="translate(372,23.5)">
<rect x="0" y="0" width="279.2" height="125.3" fill="#a000c8"/>
<path fill="#8200dc" fill-rule="evenodd" d="M0 125.3L279.2 125.3L279.2 0L0 0L0 125.3ZM136.1 56.5L125.6 52.7L123.9 52.2L122.1 50.9L119.6 50.1L141.3 48.7L169.3 48.9L171 49.2L173.1 50.1L172.5 52.2L169.3 54.6L165.1 56.4L150.1 58.2L141.3 57.7L136.1 56.5ZM207.7 58.6L205.9 57.5L203.7 54.3L203.2 52.2L203.8 50.1L205.9 49.5L208 50.1L209.4 51.3L210.1 52.2L211 54.3L211 56.4L209.4 58.7L207.7 58.6ZM223.4 17L221.6 16.3L219.8 14.6L219.1 12.5L219 10.4L219.9 8L221.6 6L223.4 5.2L225.1 4.7L226.8 4.7L228.6 5.2L230.4 6.3L231.4 8.4L231.4 10.4L230.3 13.3L228.6 15.4L226.4 16.7L225.1 17L223.4 17Z"/>
<path fill="#00a0ff" fill-rule="evenodd" d="M0 125.3L24.4 125.2L27 119L28.4 116.9L30.5 114.9L34.9 112.4L41.9 110.6L45.4 110.4L48.9 110.9L53.1 112.8L55.8 115.3L59.3 121.4L62.5 125.3L279.2 125.3L279.2 0L0 0L0 125.3ZM38.4 46.2L36.6 45.2L34.9 43.3L34.2 41.8L34.3 39.7L35.9 37.6L38.4 36.3L43.8 35.5L47.1 36L50.7 37.6L52.8 39.7L53.2 41.8L52.1 43.9L48.9 46.2L45.4 47.2L41.9 47.2L40.1 46.9L38.4 46.2ZM205.9 63L204.2 61.9L202.4 60.2L195.4 50.1L193.5 48L191.9 46.9L190.2 46.4L188.5 46.4L186.7 46.9L180.7 52.2L174 56.4L167.5 58.6L144.8 61.5L139.6 61.2L118.7 55.6L97.3 52.2L90.7 50.1L86.8 48L85.5 46.9L83.8 45.7L82 45.3L78.5 45.1L76.8 44.4L76 43.9L75.2 41.8L76.8 40.2L78.5 39.6L80.3 39.7L83.8 41.2L85.5 41.6L155.3 45.4L179.7 43.5L181.5 43.2L183.2 42.6L185 41L187.3 37.6L190.2 35.3L191.9 35.1L194.2 35.5L195.4 36.3L198.9 40L201.3 41.8L207.7 44.9L209.4 46L211.7 48L213.2 50.1L214.9 54.3L215.2 56.4L215.2 58.5L214.6 60.6L212.9 62.7L211.1 63.5L209.4 63.8L207.7 63.6L205.9 63ZM218.1 19.2L216.4 17.8L215.4 16.7L214.5 14.6L214.1 12.5L214.1 10.4L214.6 7.8L215.3 6.3L216.9 4.2L219.9 2.5L223.4 1.7L228.6 1.7L230.6 2.1L234.3 4.2L235.6 6.5L235.9 8.4L235.6 10.7L235 12.5L233.8 14.8L232.1 17L229.9 18.8L226.8 20.2L223.4 20.7L219.9 20L218.1 19.2Z"/>
<path fill="#00c8c8" fill-rule="evenodd" d="M101.2 123.2L102.1 125.3L165.8 125.3L164 123.9L148.3 121.1L145.1 119L143.8 116.9L143.4 114.9L143.6 112.8L144.8 110.2L146.6 108.4L148.3 107.4L151.8 106.4L155.3 106.3L158.8 107.2L162.3 109.5L165.8 113.4L169.3 118.2L171 119.3L172.8 119.7L174.5 119.7L177.4 119L178 118.7L179.7 116.9L180.4 114.9L180.4 106.5L180.6 104.4L181.5 101.8L182.4 100.2L185.1 98.2L188.5 96.9L191.9 96.4L197.2 96.8L201.4 98.2L204.5 100.2L206 102.3L206.7 104.4L206.8 106.5L205.9 110.8L201.9 119L199.4 123.2L198.6 125.3L279.2 125.3L279.2 0L232.3 0L235.6 1.1L237.4 2.1L239.1 4.4L239.6 6.3L239.7 8.4L238.9 12.5L236.8 16.7L233.8 20L230.3 22.2L226.8 23.4L221.6 23.9L214.6 22.9L211.1 21.8L209.4 20.7L208.3 18.8L207.8 14.6L208.3 8.4L208.8 6.3L209.7 4.2L211.4 2.1L214.6 0.5L216.4 0L194.7 0L181.5 3.8L178 4.3L157 1.4L139.6 1.1L135.3 0L0 0L0 82.9L5.2 88L8.7 90.5L19.2 94.7L31.4 97.3L64.6 96.9L82 100.5L90.7 103.4L94.2 105.2L96 106.7L97.7 109.1L99.1 112.8L101.2 123.2ZM207.7 67.1L204.2 66.1L202 64.7L195.3 56.4L193.7 54.9L191.9 53.9L190.2 53.4L188.5 53.4L185 54.4L174.5 59.2L144.8 65.5L139.6 65.5L134.4 64.1L122.2 59.5L83.5 52.2L73.3 49.3L69.8 48.8L66.3 49L59.3 51.3L50.6 55.1L45.4 56.4L41.9 56.6L38.4 56.1L36.6 55.4L34.8 54.3L32.8 52.2L29.3 45.9L28.7 43.9L28.4 41.8L28.7 39.7L29.9 37.6L32.1 35.5L36.6 33.1L48.9 30.2L52.3 30L55.8 30.3L69.8 34L89 34.8L108.2 39.2L150.1 41.8L172.8 39.5L176.8 37.6L178.9 35.5L181.7 31.3L183.2 29.9L185 29.1L198.9 28.5L200.7 28.7L201.4 29.2L202.6 31.3L204.2 35.8L205.2 37.6L213.7 45.9L216.4 50.3L218.3 56.4L218.5 58.5L218.4 60.6L217.8 62.6L216.2 64.7L214.6 65.8L211.1 67L207.7 67.1ZM246 41.9L244.9 39.7L244.6 37.6L245.1 35.5L246.2 33.4L247.9 31.3L251.3 28.5L254.8 26.7L256.5 26.3L258.3 26.5L259.4 27.1L260 29.3L259.6 31.3L256.5 37.7L254.8 40.2L253 42L251.3 43L249.5 43.4L247.8 43.1L246 41.9ZM57.6 5.1L57.4 4.2L57.6 4L58 4.2L57.6 5.1ZM146.6 27.6L144.8 26.7L142.6 25.1L141.5 23L141.8 20.9L143.4 18.8L148.3 16.4L153.6 15.6L157 15.7L160.6 16.7L162.3 17.7L164 19.4L164.9 20.9L165.1 23L164.3 25.1L162 27.1L158.8 28.6L155.3 29.2L151.8 29L146.6 27.6Z"/>
<path fill="#00dc00" fill-rule="evenodd" d="M226.8 125.3L252 125.3L253 122.9L254.9 121.1L261.8 118.9L272.2 118.5L279.2 119.7L279.2 0L240.8 0.1L242.6 2.2L243.2 4.2L243.5 8.4L243 12.5L241.7 16.7L240.7 18.8L239.1 21.1L235.6 24.1L232.1 25.7L216.4 28.3L213.7 29.2L211.1 31.4L210.3 33.4L210.4 35.5L211.1 37.6L217.1 45.9L219.9 52.2L221.6 58.5L221.9 60.6L221.6 63.4L221.2 64.7L219.5 66.8L218.1 67.9L214.6 69.5L209.4 70.4L204.2 70.2L202.4 69.8L200.4 68.9L198.9 67.8L196.7 64.7L193.7 60.1L191.7 58.5L190.2 57.8L188.5 57.6L183.2 58.8L172.8 63.7L148.3 70.1L143.1 70.7L137.9 70.2L130.9 67.6L120.4 62.5L75 54.5L69.8 54.4L64.6 55.6L57.6 59.2L50.6 63.8L45.4 66.2L38.4 67.8L27.9 68.2L22.7 67.4L20.8 66.8L19.2 64.7L22.8 60.6L24.8 56.4L25.4 52.2L25 48L22.6 39.7L22.7 37.4L24.4 35.4L40.1 27.1L43.6 24.6L45.4 22.7L46.4 20.9L47.9 12.5L49.4 8.4L54.1 1.7L56.5 0L0 0L0 25.1L1.7 26.3L2.2 27.1L2.6 29.2L1.2 50.1L1.7 55.2L3.5 59.5L5.2 61.7L8.7 64.3L9.8 64.7L12 66.8L11.6 71L11.8 73.1L12.7 75.2L14.6 77.3L17.5 79.4L22.7 81.8L41.9 86L54.1 86.4L71.5 84.4L116.9 87.9L132.6 90.9L137.9 90.9L143.1 89.3L151.8 85.5L157 84.4L164 84.6L169.3 85.7L176.2 88.3L216.4 93.1L226.9 96.5L233.8 100.8L235.6 102.3L237.5 104.4L239.7 108.6L240.2 110.7L240.3 112.8L239.9 114.9L238.8 116.9L236.8 119L226.8 125.3ZM251.3 50.2L249.5 50L247.8 49.4L244.3 46.8L242.2 43.9L240.5 39.7L240.1 37.6L240.2 35.5L240.8 33.3L242.6 30.4L247.8 26L253.1 23L256.5 21.8L260 21.5L263.5 21.9L267 23L269.9 25.1L269.8 27.1L265.2 31.9L261.4 37.6L258.3 46.1L256.5 48.5L254.8 49.6L251.3 50.2ZM10.5 12.6L8.7 11.2L8.2 10.4L8.1 8.4L9.6 6.3L12.2 4.8L15.7 4.3L19.2 4.8L21.8 6.3L22.7 8.4L21.7 10.4L19.2 12.1L15.7 13.2L12.2 13.2L10.5 12.6ZM116.4 33.4L129.1 34.9L132.6 34.8L134.4 34.2L135.2 33.4L134.4 32.8L125.6 24.1L123.9 22.8L122.1 22.1L120.4 22L117.9 23L115.2 25.2L113.4 27.4L112.5 29.2L112.9 31.3L116.4 33.4ZM70.4 27.1L76.8 28.6L87.2 28.9L92.5 28.2L96 26.9L98.2 25.1L100 20.9L101.7 12.5L101.9 8.4L101.2 5.9L98.9 2.1L98 0L81.6 0L82.2 2.1L81 4.2L76.8 6.4L69.8 9.3L67.8 10.4L65.4 12.5L64 14.6L63.1 16.7L62.8 19.1L63.1 20.9L64.6 23.4L66.3 25.1L70.4 27.1ZM185.7 23L188.5 24.4L191.9 25L193.7 24.9L195.4 24.5L198.2 23L200.1 20.9L201.1 18.8L201.7 16.7L202 12.5L201.6 10.4L200.7 8.1L198.9 6L197.2 5L195.4 4.5L191.9 4.5L190.2 4.9L186.7 6.8L185 8.4L183.2 10.9L182.4 12.5L182 14.6L182 16.7L182.5 18.8L183.6 20.9L185.7 23Z"/>
<path fill="#e6dc32" fill-rule="evenodd" d="M268.1 106.5L274 106.5L277.5 105.3L279.2 104.1L279.2 55.1L277.5 54.5L274 54.3L270.5 55.1L249.5 65.1L246 65.7L244.3 65.7L242.6 65.2L241.8 64.7L241.1 62.6L242.2 58.5L242.4 54.3L242.1 52.2L240.3 48L233.3 35.5L232.1 34L230.3 32.8L228.6 32.3L225.1 32.1L221.6 32.7L219.7 33.4L217.6 35.5L217.3 37.6L226.8 63.1L227.1 64.7L226.6 66.8L225.1 69.1L222.9 71L219.9 72.5L205.9 75.4L202.8 77.3L202.2 79.4L203.3 81.4L205.9 82.9L209.4 83.8L225.1 83.9L228.6 84.8L251.5 98.2L258.3 103.1L261.8 104.9L268.1 106.5ZM110.5 77.3L120.4 78.7L123.9 78.6L127.4 77.7L128.1 77.3L128.3 75.2L126.6 73.1L121.6 68.9L118.4 66.8L113.4 64.5L106.4 62.6L76.8 59.1L71.5 59.5L68 60.6L65.2 62.6L63.9 64.7L63.8 66.8L65.1 68.9L68.1 70.5L110.5 77.3ZM17.5 54.3L19.2 54.7L20.9 53.6L21.6 52.2L21.9 50.1L21.6 48L20.9 46.6L19.2 45.1L17.4 45L15.7 46.3L14.7 48L14.7 50.1L15.7 52.5L17.5 54.3ZM25.9 27.1L27.9 28.3L29.7 28.4L31.4 27.9L34.9 26.1L36.6 24.8L38.4 22.9L40.7 18.8L44.4 6.3L45.6 4.2L47.4 2.1L50.2 0L37.4 0L38 2.1L37.3 4.2L26.2 16.9L25 18.8L24.4 23.2L24.7 25.1L25.9 27.1ZM189 20.9L190.2 21.5L191.9 21.9L193.7 21.8L195.7 20.9L197.5 18.8L198.4 16.7L198.6 14.6L198.4 12.5L197.2 10L195.1 8.4L193.7 7.9L191.9 7.9L190.2 8.5L187.9 10.4L186.7 12.5L186.2 14.6L186.4 16.7L187.1 18.8L189 20.9ZM249.5 16.7L251.3 17.6L270.5 17.8L274 17.3L277.5 16.1L279.2 14.2L279.2 0L247.5 0L248 12.5L248.4 14.6L249.5 16.7Z"/>
<path fill="#e6af2d" fill-rule="evenodd" d="M249.9 81.4L253 82.7L256.5 83.4L261.8 83.3L267 82.2L270.5 80.7L272.5 79.4L274.4 77.3L275.7 74.3L276.2 71L276.1 68.9L275.3 66.8L274 65.7L272.2 65.2L270.5 65.4L266.6 66.8L251.3 75.3L248.7 77.3L248.2 79.4L249.9 81.4ZM233.2 60.6L233.8 60.8L235.8 60.6L237.3 59.7L238.3 58.5L239.2 56.4L239.3 54.3L238.8 52.2L237.3 49.4L232.1 43.6L229.8 41.8L228.6 41.1L226.8 40.9L225.5 41.8L225.1 42.5L224.8 43.9L225.2 48L226.8 52.7L228.8 56.4L230.3 58.6L232.1 60.1L233.2 60.6ZM31.4 20.9L33.2 21.8L34.9 20.7L36.6 17.8L37 16.7L37.1 14.6L36.6 13.9L34.8 14.6L32.9 16.7L31.9 18.8L31.4 20.9ZM190.1 16.7L191.9 18.2L193.7 17.9L194.8 16.7L195.4 14.6L194.3 12.5L193.7 12L191.9 11.9L190.9 12.5L190.2 13.5L189.8 14.6L190.1 16.7ZM255.5 12.5L258.3 13.6L265.2 14.5L270.5 14.1L272.2 13.7L274.5 12.5L275.7 11.5L276.6 10.4L277.5 8.4L277.9 6.3L277.5 1.5L276.9 0L253.7 0L252.3 2.1L251.8 4.2L251.9 6.3L252.3 8.4L253.3 10.4L255.5 12.5Z"/>
<path fill="#fa3c3c" fill-rule="evenodd" d="M232.7 56.4L233.8 57.4L235.6 57.4L236.5 56.4L236.8 54.3L235.6 52.1L233.8 51.5L232.6 52.2L231.9 54.3L232.7 56.4ZM259.9 10.4L263.5 11.5L267 11.7L270.5 11.1L272.2 10.3L274.1 8.4L274.8 6.3L274.7 4.2L273.8 2.1L272.2 0.7L270.5 0L259.9 0L258.3 0.9L256.8 2.1L255.9 4.2L256.1 6.3L257.2 8.4L258.3 9.4L259.9 10.4Z"/>
<path fill="#f00082" fill-rule="evenodd" d="M263.1 8.4L265.2 8.9L267 8.9L269.1 8.4L270.5 7.2L271.1 6.3L270.9 4.2L268.3 2.1L265.2 1.6L262.6 2.1L261.8 2.6L260.3 4.2L260.5 6.3L261.8 7.5L263.1 8.4Z"/>
<path fill="none" stroke="#111" stroke-width="0.9" d="M165.8 125.3L164 123.9L148.3 121.1L145.1 119L143.8 116.9L143.4 114.9L143.6 112.8L144.8 110.2L146.6 108.4L148.3 107.4L151.8 106.4L155.3 106.3L158.8 107.2L162.3 109.5L165.8 113.4L169.3 118.2L171 119.3L172.8 119.7L174.5 119.7L177.4 119L178 118.7L179.7 116.9L180.4 114.9L180.4 106.5L180.6 104.4L181.5 101.8L182.4 100.2L185.1 98.2L188.5 96.9L191.9 96.4L197.2 96.8L201.4 98.2L204.5 100.2L206 102.3L206.7 104.4L206.8 106.5L205.9 110.8L201.9 119L199.4 123.2L198.6 125.3M0 82.9L5.2 88L8.7 90.5L19.2 94.7L31.4 97.3L64.6 96.9L82 100.5L90.7 103.4L94.2 105.2L96 106.7L97.7 109.1L99.1 112.8L101.2 123.2L102.1 125.3M207.7 67.1L204.2 66.1L202 64.7L195.3 56.4L193.7 54.9L191.9 53.9L190.2 53.4L188.5 53.4L185 54.4L174.5 59.2L144.8 65.5L139.6 65.5L134.4 64.1L122.2 59.5L83.5 52.2L73.3 49.3L69.8 48.8L66.3 49L59.3 51.3L50.6 55.1L45.4 56.4L41.9 56.6L38.4 56.1L36.6 55.4L34.8 54.3L32.8 52.2L29.3 45.9L28.7 43.9L28.4 41.8L28.7 39.7L29.9 37.6L32.1 35.5L36.6 33.1L48.9 30.2L52.3 30L55.8 30.3L69.8 34L89 34.8L108.2 39.2L150.1 41.8L172.8 39.5L176.8 37.6L178.9 35.5L181.7 31.3L183.2 29.9L185 29.1L198.9 28.5L200.7 28.7L201.4 29.2L202.6 31.3L204.2 35.8L205.2 37.6L213.7 45.9L216.4 50.3L218.3 56.4L218.5 58.5L218.4 60.6L217.8 62.6L216.2 64.7L214.6 65.8L211.1 67L207.7 67.1M246 41.9L244.9 39.7L244.6 37.6L245.1 35.5L246.2 33.4L247.9 31.3L251.3 28.5L254.8 26.7L256.5 26.3L258.3 26.5L259.4 27.1L260 29.3L259.6 31.3L256.5 37.7L254.8 40.2L253 42L251.3 43L249.5 43.4L247.8 43.1L246 41.9M146.6 27.6L144.8 26.7L142.6 25.1L141.5 23L141.8 20.9L143.4 18.8L148.3 16.4L153.6 15.6L157 15.7L160.6 16.7L162.3 17.7L164 19.4L164.9 20.9L165.1 23L164.3 25.1L162 27.1L158.8 28.6L155.3 29.2L151.8 29L146.6 27.6M57.6 5.1L57.4 4.2L57.6 4L58 4.2L57.6 5.1M194.7 0L181.5 3.8L178 4.3L157 1.4L139.6 1.1L135.3 0M232.3 0L235.6 1.1L237.4 2.1L239.1 4.4L239.6 6.3L239.7 8.4L238.9 12.5L236.8 16.7L233.8 20L230.3 22.2L226.8 23.4L221.6 23.9L214.6 22.9L211.1 21.8L209.4 20.7L208.3 18.8L207.8 14.6L208.3 8.4L208.8 6.3L209.7 4.2L211.4 2.1L214.6 0.5L216.6 0M110.5 77.3L120.4 78.7L123.9 78.6L127.4 77.7L128.1 77.3L128.3 75.2L126.6 73.1L121.6 68.9L118.4 66.8L113.4 64.5L106.4 62.6L76.8 59.1L71.5 59.5L68 60.6L65.2 62.6L63.9 64.7L63.8 66.8L65.1 68.9L68.1 70.5L110.5 77.3M17.5 54.3L19.2 54.7L20.9 53.6L21.6 52.2L21.9 50.1L21.6 48L20.9 46.6L19.2 45.1L17.4 45L15.7 46.3L14.7 48L14.7 50.1L15.7 52.5L17.5 54.3M279.2 55.1L277.5 54.5L274 54.3L270.5 55.1L249.5 65.1L246 65.7L244.3 65.7L242.6 65.2L241.8 64.7L241.1 62.6L242.2 58.5L242.4 54.3L242.1 52.2L240.3 48L233.3 35.5L232.1 34L230.3 32.8L228.6 32.3L225.1 32.1L221.6 32.7L219.7 33.4L217.6 35.5L217.3 37.6L226.8 63.1L227.1 64.7L226.6 66.8L225.1 69.1L222.9 71L219.9 72.5L205.9 75.4L202.8 77.3L202.2 79.4L203.3 81.4L205.9 82.9L209.4 83.8L225.1 83.9L228.6 84.8L251.5 98.2L258.3 103.1L261.8 104.9L268.7 106.6L274 106.5L277.5 105.3L279.2 104.1M189 20.9L190.2 21.5L191.9 21.9L193.7 21.8L195.7 20.9L197.5 18.8L198.4 16.7L198.6 14.6L198.4 12.5L197.2 10L195.1 8.4L193.7 7.9L191.9 7.9L190.2 8.5L187.9 10.4L186.7 12.5L186.2 14.6L186.4 16.7L187.1 18.8L189 20.9M37.4 0L38 2.1L37.3 4.2L26.2 16.9L25 18.8L24.4 23.2L24.7 25.1L26.2 27.4L27.9 28.3L29.7 28.4L31.4 27.9L34.9 26.1L36.6 24.8L38.4 22.9L40.7 18.8L44.4 6.3L45.6 4.2L47.4 2.1L50.2 0M247.5 0L248 12.5L248.4 14.6L249.5 16.8L251.3 17.6L270.5 17.8L274 17.3L277.5 16.1L279.2 14.2"/>
<path fill="none" stroke="#00dc00" stroke-width="0.8" stroke-opacity="0.92" clip-path="url(#clip)" d="M4 126.2l-4.9 -8m0.3 2.5l-0.3 -2.5l2.1 1.4M3.9 119.9l-4.8 -8m0.3 2.5l-0.3 -2.5l2.1 1.4M3.8 113.6l-4.7 -8m0.2 2.5l-0.2 -2.5l2.1 1.4M3.7 107.3l-4.4 -8m0.2 2.5l-0.2 -2.5l2 1.5M3.4 101l-3.8 -8.1m0 2.4l0 -2.4l1.8 1.5M2.8 94.7l-2.6 -8.1m-0.3 2.3l0.3 -2.3l1.6 1.7M1.9 88.3l-0.9 -7.9m-0.7 2l0.7 -2l1.1 1.8M1 81.7l1.1 -7.2m-1.1 1.6l1.1 -1.6l0.6 1.9M0.2 75l2.6 -6.5m-1.4 1.3l1.4 -1.3l0.1 1.9M-0.4 68.5l3.7 -5.9m-1.6 1l1.6 -1l-0.2 1.9M-1 61.6l5.1 -4.8m-1.8 0.6l1.8 -0.6l-0.7 1.8M0.3 49.6l2.5 6.5m0.1 -1.9l-0.1 1.9l-1.4 -1.3M2.3 43.2l-1.6 6.8m1.2 -1.5l-1.2 1.5l-0.4 -1.8M2.6 37l-2.1 6.7m1.3 -1.4l-1.3 1.4l-0.2 -1.9M2.7 30.7l-2.4 6.6m1.3 -1.3l-1.3 1.3l-0.2 -1.9M2.8 24.4l-2.6 6.5m1.4 -1.3l-1.4 1.3l-0.1 -1.9M2.9 18.2l-2.9 6.4m1.4 -1.2l-1.4 1.2l0 -1.9M3.1 12l-3.3 6.2m1.5 -1.1l-1.5 1.1l0.1 -1.9M3.4 5.8l-3.8 5.9m1.6 -1l-1.6 1l0.2 -1.9M9.4 126.4l-4.2 -8.5m0.1 2.6l-0.1 -2.6l2 1.6M9.4 120.1l-4.1 -8.5m0 2.5l0 -2.5l2 1.6M9.3 113.8l-4 -8.5m0 2.5l0 -2.5l1.9 1.6M9.2 107.5l-3.7 -8.5m-0.1 2.5l0.1 -2.5l1.9 1.6M8.9 101.2l-3.2 -8.4m-0.2 2.4l0.2 -2.4l1.7 1.7M8.4 94.9l-2.2 -8.3m-0.4 2.3l0.4 -2.3l1.5 1.8M7.6 88.4l-0.6 -8m-0.8 2l0.8 -2l1.1 1.9M6.6 81.7l1.3 -7.2m-1.1 1.6l1.1 -1.6l0.5 1.9M5.9 75l2.9 -6.4m-1.4 1.2l1.4 -1.2l0 1.9M5.2 68.3l4.2 -5.6m-1.7 0.9l1.7 -0.9l-0.4 1.8M4.3 61l6 -3.6m-1.9 0.2l1.9 -0.2l-1.1 1.6M5.5 49.9l3.6 6m-0.2 -1.9l0.2 1.9l-1.6 -1.1M7.7 43.1l-0.7 7m1 -1.6l-1 1.6l-0.6 -1.8M8.1 36.9l-1.7 6.8m1.2 -1.5l-1.2 1.5l-0.4 -1.9M8.4 30.7l-2.1 6.7m1.3 -1.4l-1.3 1.4l-0.2 -1.9M8.6 24.4l-2.5 6.5m1.4 -1.3l-1.4 1.3l-0.1 -1.9M8.8 18.2l-2.9 6.4m1.4 -1.2l-1.4 1.2l0 -1.9M9 12l-3.4 6.1m1.5 -1.1l-1.5 1.1l0.1 -1.9M9.3 5.9l-4 5.8m1.6 -1l-1.6 1l0.3 -1.9M14.8 126.6l-3.5 -8.9m-0.2 2.6l0.2 -2.6l1.9 1.8M14.8 120.3l-3.4 -8.9m-0.2 2.6l0.2 -2.6l1.8 1.8M14.7 114l-3.3 -8.8m-0.2 2.5l0.2 -2.5l1.8 1.8M14.6 107.7l-3 -8.8m-0.3 2.5l0.3 -2.5l1.7 1.8M14.4 101.4l-2.5 -8.7m-0.4 2.4l0.4 -2.4l1.6 1.9M13.9 95l-1.6 -8.6m-0.6 2.3l0.6 -2.3l1.4 1.9M13.2 88.5l-0.2 -8.2m-0.9 2l0.9 -2l1 2M12.3 81.8l1.5 -7.3m-1.2 1.6l1.2 -1.6l0.5 2M11.5 74.9l3.1 -6.3m-1.5 1.2l1.5 -1.2l0 1.9M10.8 68.1l4.6 -5.3m-1.7 0.8l1.7 -0.8l-0.5 1.8M9.9 60.5l6.5 -2.7m-1.9 -0.1l1.9 0.1l-1.3 1.4M11.1 50l4 5.7m-0.3 -1.9l0.3 1.9l-1.6 -0.9M13.2 43.1l-0.2 7m0.8 -1.7l-0.8 1.7l-0.8 -1.7M13.8 36.9l-1.4 6.9m1.1 -1.5l-1.1 1.5l-0.4 -1.8M14.1 30.7l-2.1 6.7m1.3 -1.4l-1.3 1.4l-0.3 -1.9M14.4 24.4l-2.6 6.5m1.4 -1.3l-1.4 1.3l-0.1 -1.9M14.6 18.3l-3.1 6.3m1.5 -1.2l-1.5 1.2l0 -1.9M14.9 12.1l-3.7 6m1.6 -1l-1.6 1l0.2 -1.9M15.2 6l-4.3 5.5m1.7 -0.9l-1.7 0.9l0.4 -1.8M20.2 126.8l-2.7 -9.2m-0.4 2.6l0.4 -2.6l1.7 1.9M20.2 120.5l-2.6 -9.2m-0.4 2.5l0.4 -2.5l1.7 1.9M20.2 114.2l-2.5 -9.2m-0.4 2.5l0.4 -2.5l1.7 2M20.1 107.9l-2.3 -9.1m-0.5 2.5l0.5 -2.5l1.6 2M19.8 101.5l-1.9 -9m-0.6 2.4l0.6 -2.4l1.5 2M19.5 95.1l-1.1 -8.8m-0.7 2.3l0.7 -2.3l1.3 2M18.8 88.6l0.2 -8.3m-1 2l1 -2l0.9 2.1M18 81.8l1.8 -7.4m-1.3 1.6l1.3 -1.6l0.4 2M17.3 74.9l3.3 -6.2m-1.5 1.1l1.5 -1.1l-0.1 1.9M16.5 68l4.8 -5m-1.8 0.7l1.8 -0.7l-0.6 1.8M15.6 60.2l6.7 -2.1m-1.9 -0.3l1.9 0.3l-1.4 1.3M16.8 50.1l4.3 5.6m-0.4 -1.8l0.4 1.8l-1.7 -0.9M18.8 43.1l0.1 7m0.8 -1.7l-0.8 1.7l-0.8 -1.7M19.6 36.9l-1.3 6.9m1.1 -1.5l-1.1 1.5l-0.5 -1.8M20 30.7l-2.1 6.7m1.3 -1.4l-1.3 1.4l-0.2 -1.9M20.3 24.5l-2.7 6.4m1.4 -1.3l-1.4 1.3l-0.1 -1.9M20.6 18.3l-3.4 6.1m1.5 -1.1l-1.5 1.1l0.1 -1.9M20.9 12.2l-4 5.8m1.6 -1l-1.6 1l0.3 -1.9M21.2 6.2l-4.6 5.3m1.7 -0.8l-1.7 0.8l0.5 -1.8M25.6 126.9l-1.9 -9.5m-0.6 2.5l0.6 -2.5l1.5 2.1M25.6 120.6l-1.9 -9.4m-0.6 2.5l0.6 -2.5l1.5 2.1M25.6 114.3l-1.8 -9.4m-0.6 2.5l0.6 -2.5l1.5 2.1M25.5 108l-1.6 -9.4m-0.7 2.5l0.7 -2.5l1.5 2.1M25.3 101.6l-1.2 -9.3m-0.8 2.4l0.8 -2.4l1.4 2.1M25 95.2l-0.5 -9m-0.9 2.3l0.9 -2.3l1.2 2.1M24.4 88.6l0.6 -8.5m-1.1 2l1.1 -2l0.8 2.1M23.7 81.8l2 -7.5m-1.3 1.6l1.3 -1.6l0.4 2.1M23 74.9l3.4 -6.1m-1.5 1.1l1.5 -1.1l-0.1 1.9M22.2 68l5 -4.9m-1.8 0.6l1.8 -0.6l-0.7 1.8M21.3 60.1l6.8 -1.8m-1.9 -0.3l1.9 0.3l-1.5 1.2M22.5 50.2l4.4 5.4m-0.5 -1.8l0.5 1.8l-1.7 -0.8M24.6 43.1l0.3 7m0.7 -1.7l-0.7 1.7l-0.9 -1.7M25.4 36.9l-1.4 6.9m1.1 -1.5l-1.1 1.5l-0.4 -1.8M25.9 30.7l-2.3 6.6m1.3 -1.4l-1.3 1.4l-0.2 -1.9M26.2 24.5l-3 6.3m1.5 -1.2l-1.5 1.2l0 -1.9M26.6 18.4l-3.7 5.9m1.6 -1l-1.6 1l0.2 -1.9M26.9 12.4l-4.4 5.5m1.7 -0.8l-1.7 0.8l0.4 -1.8M27.2 6.3l-5 4.9m1.8 -0.6l-1.8 0.6l0.6 -1.8M31 127l-1.1 -9.7m-0.8 2.5l0.8 -2.5l1.4 2.2M31 120.7l-1.1 -9.6m-0.8 2.5l0.8 -2.5l1.4 2.2M31 114.4l-1 -9.6m-0.9 2.5l0.9 -2.5l1.3 2.2M30.9 108.1l-0.8 -9.6m-0.9 2.4l0.9 -2.4l1.3 2.2M30.8 101.7l-0.5 -9.4m-0.9 2.4l0.9 -2.4l1.2 2.2M30.5 95.3l0.1 -9.2m-1.1 2.2l1.1 -2.2l1 2.2M30 88.7l1 -8.6m-1.2 2l1.2 -2l0.7 2.2M29.4 81.9l2.3 -7.6m-1.4 1.6l1.4 -1.6l0.3 2.1M28.8 74.8l3.5 -6.1m-1.5 1.1l1.5 -1.1l-0.2 1.9M28 67.9l5 -4.9m-1.8 0.6l1.8 -0.6l-0.7 1.8M27.1 60.1l6.8 -1.8m-1.9 -0.3l1.9 0.3l-1.5 1.2M28.2 50.2l4.5 5.3m-0.5 -1.8l0.5 1.8l-1.7 -0.8M30.4 43.1l0.2 7m0.8 -1.7l-0.8 1.7l-0.8 -1.7M31.3 36.9l-1.6 6.8m1.2 -1.5l-1.2 1.5l-0.4 -1.9M31.8 30.8l-2.6 6.5m1.4 -1.3l-1.4 1.3l-0.1 -1.9M32.2 24.6l-3.4 6.1m1.5 -1.1l-1.5 1.1l0.1 -1.9M32.6 18.6l-4.1 5.7m1.7 -0.9l-1.7 0.9l0.4 -1.9M32.9 12.5l-4.8 5.1m1.8 -0.7l-1.8 0.7l0.6 -1.8M33.2 6.5l-5.3 4.6m1.8 -0.5l-1.8 0.5l0.8 -1.7M36.4 127.1l-0.3 -9.8m-1 2.4l1 -2.4l1.2 2.4M36.4 120.8l-0.3 -9.8m-1.1 2.4l1.1 -2.4l1.2 2.4M36.4 114.5l-0.2 -9.8m-1.1 2.4l1.1 -2.4l1.2 2.4M36.3 108.1l-0.1 -9.7m-1.1 2.4l1.1 -2.4l1.1 2.4M36.2 101.8l0.2 -9.6m-1.1 2.3l1.1 -2.3l1 2.4M36 95.3l0.7 -9.3m-1.2 2.2l1.2 -2.2l0.9 2.3M35.6 88.8l1.5 -8.7m-1.4 2l1.4 -2l0.6 2.3M35 81.9l2.5 -7.7m-1.5 1.6l1.5 -1.6l0.3 2.2M34.5 74.9l3.6 -6.1m-1.6 1.1l1.6 -1.1l-0.2 1.9M33.8 67.9l5 -4.9m-1.8 0.6l1.8 -0.6l-0.7 1.8M32.9 60.2l6.7 -2m-1.9 -0.3l1.9 0.3l-1.4 1.3M34 50.3l4.6 5.2m-0.5 -1.8l0.5 1.8l-1.7 -0.8M36.3 43.1l-0.1 7m0.8 -1.7l-0.8 1.7l-0.8 -1.7M37.3 36.9l-2 6.7m1.3 -1.4l-1.3 1.4l-0.3 -1.9M37.9 30.9l-3.1 6.3m1.5 -1.2l-1.5 1.2l0 -1.9M38.3 24.8l-3.9 5.8m1.6 -1l-1.6 1l0.3 -1.9M38.6 18.8l-4.6 5.3m1.7 -0.8l-1.7 0.8l0.5 -1.8M38.9 12.8l-5.2 4.7m1.8 -0.6l-1.8 0.6l0.7 -1.7M39.1 6.7l-5.7 4.1m1.9 -0.4l-1.9 0.4l0.9 -1.7M41.8 127.1l0.5 -9.9m-1.3 2.4l1.3 -2.4l1 2.5M41.8 120.8l0.5 -9.9m-1.3 2.4l1.3 -2.4l1 2.5M41.8 114.5l0.6 -9.8m-1.3 2.3l1.3 -2.3l1 2.5M41.8 108.2l0.7 -9.8m-1.3 2.3l1.3 -2.3l0.9 2.5M41.7 101.8l0.9 -9.6m-1.3 2.3l1.3 -2.3l0.9 2.5M41.5 95.4l1.3 -9.3m-1.4 2.1l1.4 -2.1l0.8 2.4M41.1 88.8l1.9 -8.8m-1.5 1.9l1.5 -1.9l0.5 2.4M40.7 82l2.8 -7.8m-1.6 1.6l1.6 -1.6l0.2 2.2M40.3 74.9l3.7 -6.2m-1.6 1.1l1.6 -1.1l-0.2 1.9M39.7 68l4.9 -5m-1.8 0.7l1.8 -0.7l-0.6 1.8M38.8 60.4l6.6 -2.4m-1.9 -0.2l1.9 0.2l-1.3 1.3M39.7 50.3l4.8 5.1m-0.6 -1.8l0.6 1.8l-1.8 -0.7M42.4 43.1l-0.6 7m0.9 -1.6l-0.9 1.6l-0.6 -1.8M43.4 37.1l-2.6 6.5m1.4 -1.3l-1.4 1.3l-0.1 -1.9M43.9 31l-3.7 6m1.6 -1l-1.6 1l0.2 -1.9M44.3 25l-4.5 5.4m1.7 -0.8l-1.7 0.8l0.5 -1.8M44.6 19l-5.1 4.8m1.8 -0.6l-1.8 0.6l0.7 -1.8M44.9 13l-5.6 4.2m1.9 -0.4l-1.9 0.4l0.9 -1.7M45.1 7l-6 3.6m1.9 -0.2l-1.9 0.2l1.1 -1.6M47.3 127.1l1.3 -9.9m-1.4 2.3l1.4 -2.3l0.8 2.6M47.2 120.8l1.3 -9.9m-1.4 2.3l1.4 -2.3l0.8 2.6M47.2 114.5l1.3 -9.8m-1.5 2.3l1.5 -2.3l0.8 2.6M47.2 108.2l1.4 -9.8m-1.5 2.2l1.5 -2.2l0.8 2.6M47.1 101.8l1.6 -9.6m-1.5 2.2l1.5 -2.2l0.7 2.5M47 95.4l1.9 -9.4m-1.5 2.1l1.5 -2.1l0.6 2.5M46.7 88.8l2.4 -8.8m-1.6 1.9l1.6 -1.9l0.4 2.4M46.4 82l3.1 -7.9m-1.7 1.6l1.7 -1.6l0.1 2.3M46 75l3.8 -6.4m-1.6 1.1l1.6 -1.1l-0.2 2M45.5 68.1l4.7 -5.2m-1.7 0.7l1.7 -0.7l-0.6 1.8M44.8 60.7l6.3 -3.1m-1.9 0l1.9 0l-1.2 1.5M45.4 50.4l4.9 5m-0.6 -1.8l0.6 1.8l-1.8 -0.7M48.6 43.2l-1.4 6.9m1.1 -1.5l-1.1 1.5l-0.4 -1.8M49.6 37.2l-3.3 6.2m1.5 -1.1l-1.5 1.1l0.1 -1.9M50.1 31.2l-4.3 5.5m1.7 -0.9l-1.7 0.9l0.4 -1.8M50.4 25.3l-5 4.9m1.8 -0.6l-1.8 0.6l0.7 -1.8M50.7 19.3l-5.6 4.2m1.8 -0.4l-1.8 0.4l0.9 -1.7M50.9 13.3l-6 3.6m1.9 -0.2l-1.9 0.2l1 -1.6M51 7.2l-6.3 3.1m1.9 0l-1.9 0l1.2 -1.5M52.7 127.1l2.1 -9.8m-1.6 2.2l1.6 -2.2l0.6 2.6M52.7 120.8l2.1 -9.8m-1.6 2.2l1.6 -2.2l0.6 2.6M52.7 114.5l2.1 -9.8m-1.6 2.2l1.6 -2.2l0.6 2.6M52.6 108.2l2.2 -9.7m-1.6 2.1l1.6 -2.1l0.6 2.6M52.6 101.8l2.3 -9.6m-1.7 2.1l1.7 -2.1l0.5 2.6M52.5 95.4l2.5 -9.4m-1.7 2l1.7 -2l0.5 2.6M52.3 88.8l2.9 -8.9m-1.7 1.8l1.7 -1.8l0.3 2.5M52 82.1l3.4 -7.9m-1.7 1.6l1.7 -1.6l0.1 2.3M51.8 75.1l3.8 -6.5m-1.7 1.2l1.7 -1.2l-0.2 2M51.4 68.2l4.5 -5.3m-1.7 0.8l1.7 -0.8l-0.5 1.8M50.8 61.1l5.9 -3.8m-1.9 0.3l1.9 -0.3l-1 1.6M51.1 50.6l5.2 4.7m-0.7 -1.7l0.7 1.7l-1.8 -0.5M55 43.3l-2.5 6.5m1.4 -1.3l-1.4 1.3l-0.1 -1.9M55.8 37.5l-4.2 5.6m1.7 -0.9l-1.7 0.9l0.4 -1.9M56.2 31.6l-5 4.9m1.8 -0.6l-1.8 0.6l0.7 -1.8M56.5 25.6l-5.6 4.2m1.8 -0.4l-1.8 0.4l0.9 -1.7M56.7 19.6l-6 3.6m1.9 -0.2l-1.9 0.2l1.1 -1.6M56.8 13.6l-6.3 3.1m1.9 0l-1.9 0l1.2 -1.5M56.9 7.5l-6.5 2.6m1.9 0.1l-1.9 -0.1l1.3 -1.4M58.1 127.1l2.8 -9.7m-1.8 2l1.8 -2l0.4 2.7M58.1 120.8l2.8 -9.7m-1.8 2l1.8 -2l0.4 2.7M58.1 114.4l2.8 -9.7m-1.8 2l1.8 -2l0.4 2.7M58.1 108.1l2.9 -9.6m-1.8 2l1.8 -2l0.4 2.7M58 101.8l3 -9.5m-1.8 2l1.8 -2l0.4 2.7M57.9 95.3l3.1 -9.3m-1.8 1.9l1.8 -1.9l0.3 2.6M57.8 88.8l3.4 -8.8m-1.8 1.8l1.8 -1.8l0.2 2.5M57.6 82.1l3.7 -8m-1.8 1.5l1.8 -1.5l0 2.4M57.5 75.1l4 -6.6m-1.7 1.2l1.7 -1.2l-0.2 2.1M57.3 68.2l4.4 -5.5m-1.7 0.8l1.7 -0.8l-0.4 1.8M56.8 61.5l5.4 -4.5m-1.8 0.5l1.8 -0.5l-0.8 1.7M56.6 51l5.9 3.8m-1 -1.6l1 1.6l-1.9 -0.3M61.5 43.7l-4 5.8m1.6 -1l-1.6 1l0.3 -1.9M62 37.9l-5.1 4.8m1.8 -0.6l-1.8 0.6l0.7 -1.8M62.3 31.9l-5.6 4.2m1.9 -0.4l-1.9 0.4l0.9 -1.7M62.5 25.9l-6 3.5m1.9 -0.2l-1.9 0.2l1.1 -1.6M62.7 19.9l-6.3 3m1.9 0l-1.9 0l1.2 -1.5M62.8 13.8l-6.5 2.5m1.9 0.1l-1.9 -0.1l1.3 -1.4M62.8 7.7l-6.6 2.2m1.9 0.2l-1.9 -0.2l1.4 -1.3M63.5 127l3.5 -9.5m-1.9 1.9l1.9 -1.9l0.2 2.7M63.5 120.7l3.5 -9.5m-1.9 1.9l1.9 -1.9l0.2 2.7M63.5 114.4l3.5 -9.5m-1.9 1.9l1.9 -1.9l0.2 2.7M63.5 108l3.6 -9.5m-1.9 1.9l1.9 -1.9l0.2 2.7M63.5 101.7l3.6 -9.4m-1.9 1.9l1.9 -1.9l0.2 2.7M63.4 95.3l3.7 -9.2m-2 1.8l2 -1.8l0.1 2.7M63.4 88.8l3.9 -8.7m-1.9 1.7l1.9 -1.7l0.1 2.6M63.3 82.1l4 -8m-1.9 1.5l1.9 -1.5l-0.1 2.4M63.3 75.2l4.1 -6.7m-1.8 1.2l1.8 -1.2l-0.2 2.1M63.2 68.3l4.2 -5.6m-1.7 0.9l1.7 -0.9l-0.4 1.9M62.9 61.8l4.7 -5.2m-1.7 0.7l1.7 -0.7l-0.6 1.8M62.3 54.7l6.1 -3.5m-1.9 0.2l1.9 -0.2l-1.1 1.6M68 44.4l-5.4 4.4m1.8 -0.5l-1.8 0.5l0.8 -1.7M68.2 38.4l-5.8 3.9m1.9 -0.3l-1.9 0.3l1 -1.6M68.4 32.3l-6.1 3.3m1.9 -0.1l-1.9 0.1l1.1 -1.5M68.5 26.3l-6.4 2.8m1.9 0l-1.9 0l1.2 -1.4M68.6 20.2l-6.6 2.4m1.9 0.2l-1.9 -0.2l1.3 -1.3M68.6 14.1l-6.7 2.1m1.9 0.3l-1.9 -0.3l1.4 -1.3M68.7 7.9l-6.7 1.9m1.9 0.3l-1.9 -0.3l1.4 -1.2M69 126.9l4.2 -9.3m-2 1.8l2 -1.8l0 2.7M69 120.5l4.2 -9.3m-2.1 1.8l2.1 -1.8l0 2.7M69 114.2l4.2 -9.3m-2.1 1.8l2.1 -1.8l0 2.7M69 107.9l4.2 -9.2m-2.1 1.7l2.1 -1.7l0 2.7M69 101.6l4.3 -9.1m-2.1 1.7l2.1 -1.7l0 2.7M68.9 95.2l4.3 -9m-2.1 1.7l2.1 -1.7l0 2.7M68.9 88.7l4.4 -8.6m-2 1.6l2 -1.6l-0.1 2.6M68.9 82.1l4.4 -7.9m-2 1.4l2 -1.4l-0.2 2.4M69 75.2l4.2 -6.8m-1.8 1.2l1.8 -1.2l-0.3 2.1M69.1 68.4l4 -5.7m-1.6 0.9l1.6 -0.9l-0.3 1.9M69.1 62.1l4 -5.7m-1.6 0.9l1.6 -0.9l-0.3 1.9M72.1 56.3l-2 -6.7m-0.3 1.9l0.3 -1.9l1.3 1.4M74.3 45.2l-6.4 2.7m1.9 0.1l-1.9 -0.1l1.3 -1.4M74.3 38.9l-6.4 2.8m1.9 0l-1.9 0l1.2 -1.4M74.4 32.7l-6.5 2.5m1.9 0.1l-1.9 -0.1l1.3 -1.4M74.4 26.6l-6.7 2.2m1.9 0.2l-1.9 -0.2l1.4 -1.3M74.5 20.5l-6.7 1.9m1.9 0.3l-1.9 -0.3l1.4 -1.2M74.5 14.3l-6.8 1.7m1.9 0.4l-1.9 -0.4l1.5 -1.2M74.5 8l-6.8 1.6m1.9 0.4l-1.9 -0.4l1.5 -1.2M74.5 126.7l4.9 -9m-2.2 1.6l2.2 -1.6l-0.2 2.7M74.5 120.4l4.9 -9m-2.2 1.6l2.2 -1.6l-0.2 2.7M74.5 114.1l4.9 -9m-2.2 1.6l2.2 -1.6l-0.2 2.7M74.5 107.8l4.9 -8.9m-2.2 1.6l2.2 -1.6l-0.2 2.7M74.5 101.4l4.9 -8.9m-2.2 1.6l2.2 -1.6l-0.2 2.7M74.5 95.1l4.9 -8.7m-2.2 1.6l2.2 -1.6l-0.2 2.7M74.5 88.6l4.8 -8.4m-2.1 1.5l2.1 -1.5l-0.2 2.6M74.5 82l4.7 -7.8m-2 1.4l2 -1.4l-0.3 2.4M74.7 75.2l4.4 -6.8m-1.8 1.2l1.8 -1.2l-0.3 2.2M75 68.4l3.9 -5.8m-1.6 1l1.6 -1l-0.3 1.9M75.2 62.3l3.4 -6.1m-1.5 1.1l1.5 -1.1l-0.1 1.9M78.5 56l-3.2 -6.2m0.1 1.9l-0.1 -1.9l1.5 1.2M80.4 46l-6.9 1.1m1.8 0.5l-1.8 -0.5l1.6 -1.1M80.3 39.4l-6.7 1.9m1.9 0.3l-1.9 -0.3l1.4 -1.2M80.3 33.1l-6.8 1.8m1.9 0.3l-1.9 -0.3l1.4 -1.2M80.3 26.9l-6.8 1.6m1.9 0.4l-1.9 -0.4l1.5 -1.2M80.3 20.7l-6.8 1.5m1.8 0.4l-1.8 -0.4l1.5 -1.1M80.3 14.4l-6.9 1.4m1.8 0.4l-1.8 -0.4l1.5 -1.1M80.3 8.1l-6.8 1.5m1.8 0.4l-1.8 -0.4l1.5 -1.1M80 126.5l5.5 -8.7m-2.3 1.5l2.3 -1.5l-0.3 2.7M80 120.2l5.5 -8.7m-2.3 1.5l2.3 -1.5l-0.3 2.7M80 113.9l5.5 -8.6m-2.3 1.5l2.3 -1.5l-0.3 2.7M80 107.6l5.5 -8.6m-2.3 1.5l2.3 -1.5l-0.4 2.7M80 101.3l5.5 -8.5m-2.3 1.4l2.3 -1.4l-0.4 2.7M80 94.9l5.4 -8.4m-2.3 1.4l2.3 -1.4l-0.4 2.7M80 88.5l5.3 -8.1m-2.2 1.4l2.2 -1.4l-0.4 2.6M80.2 81.9l5.1 -7.6m-2.1 1.3l2.1 -1.3l-0.4 2.4M80.4 75.2l4.6 -6.7m-1.9 1.1l1.9 -1.1l-0.3 2.2M80.8 68.4l3.8 -5.9m-1.6 1l1.6 -1l-0.3 1.9M81.3 62.4l2.9 -6.4m-1.4 1.2l1.4 -1.2l0 1.9M84.5 55.9l-3.6 -6m0.2 1.9l-0.2 -1.9l1.6 1.1M86.2 46.7l-7 -0.1m1.7 0.8l-1.7 -0.8l1.7 -0.8M86.2 39.8l-6.9 1.1m1.8 0.5l-1.8 -0.5l1.6 -1M86.1 33.4l-6.9 1.2m1.8 0.5l-1.8 -0.5l1.5 -1.1M86.1 27.1l-6.9 1.2m1.8 0.5l-1.8 -0.5l1.6 -1.1M86.2 20.8l-6.9 1.2m1.8 0.5l-1.8 -0.5l1.6 -1.1M86.1 14.5l-6.9 1.2m1.8 0.5l-1.8 -0.5l1.5 -1.1M86.1 8.1l-6.9 1.4m1.8 0.4l-1.8 -0.4l1.5 -1.1M85.5 126.3l6.1 -8.3m-2.4 1.3l2.4 -1.3l-0.5 2.6M85.5 120l6.1 -8.3m-2.4 1.3l2.4 -1.3l-0.5 2.6M85.5 113.7l6 -8.2m-2.4 1.3l2.4 -1.3l-0.5 2.6M85.5 107.4l6 -8.2m-2.4 1.3l2.4 -1.3l-0.5 2.6M85.5 101.1l6 -8.2m-2.4 1.3l2.4 -1.3l-0.5 2.6M85.5 94.7l5.9 -8.1m-2.4 1.3l2.4 -1.3l-0.5 2.6M85.6 88.3l5.8 -7.8m-2.3 1.3l2.3 -1.3l-0.5 2.6M85.8 81.8l5.4 -7.4m-2.2 1.2l2.2 -1.2l-0.5 2.4M86.1 75.1l4.7 -6.6m-1.9 1.1l1.9 -1.1l-0.4 2.2M86.6 68.5l3.8 -5.9m-1.6 1l1.6 -1l-0.2 1.9M87.3 62.5l2.4 -6.6m-1.3 1.3l1.3 -1.3l0.2 1.9M90.4 55.8l-3.8 -5.9m0.3 1.9l-0.3 -1.9l1.6 1M92 47.1l-6.9 -1m1.6 1l-1.6 -1l1.8 -0.6M92 40.1l-7 0.4m1.8 0.7l-1.8 -0.7l1.7 -0.9M92 33.6l-7 0.8m1.8 0.6l-1.8 -0.6l1.6 -1M92 27.3l-6.9 0.9m1.8 0.6l-1.8 -0.6l1.6 -1M92 20.9l-6.9 1m1.8 0.5l-1.8 -0.5l1.6 -1M91.9 14.5l-6.9 1.2m1.8 0.5l-1.8 -0.5l1.6 -1.1M91.9 8l-6.8 1.5m1.8 0.4l-1.8 -0.4l1.5 -1.1M91.3 126.3l6 -8.3m-2.4 1.3l2.4 -1.3l-0.5 2.7M91.3 120l6 -8.3m-2.4 1.3l2.4 -1.3l-0.5 2.7M91.3 113.7l6 -8.3m-2.4 1.3l2.4 -1.3l-0.5 2.7M91.3 107.4l6 -8.2m-2.4 1.3l2.4 -1.3l-0.5 2.7M91.3 101.1l5.9 -8.2m-2.4 1.3l2.4 -1.3l-0.5 2.7M91.4 94.7l5.8 -8.1m-2.4 1.3l2.4 -1.3l-0.5 2.6M91.5 88.3l5.7 -7.9m-2.3 1.3l2.3 -1.3l-0.5 2.6M91.7 81.8l5.3 -7.4m-2.1 1.2l2.1 -1.2l-0.4 2.4M92 75.2l4.6 -6.7m-1.9 1.1l1.9 -1.1l-0.4 2.2M92.6 68.5l3.5 -6.1m-1.5 1.1l1.5 -1.1l-0.2 1.9M93.4 62.6l1.8 -6.8m-1.2 1.4l1.2 -1.4l0.3 1.9M96.3 55.8l-4 -5.8m0.3 1.9l-0.3 -1.9l1.6 1M97.7 47.4l-6.8 -1.6m1.5 1.2l-1.5 -1.2l1.8 -0.4M97.8 40.3l-7 -0.1m1.7 0.8l-1.7 -0.8l1.7 -0.8M97.8 33.8l-7 0.5m1.8 0.7l-1.8 -0.7l1.7 -0.9M97.8 27.3l-7 0.7m1.8 0.6l-1.8 -0.6l1.6 -1M97.8 20.9l-6.9 1m1.8 0.6l-1.8 -0.6l1.6 -1M97.7 14.5l-6.9 1.3m1.8 0.5l-1.8 -0.5l1.5 -1.1M97.7 8l-6.8 1.7m1.9 0.4l-1.9 -0.4l1.5 -1.2M97.1 126.3l5.9 -8.3m-2.4 1.3l2.4 -1.3l-0.5 2.7M97.1 120l5.9 -8.3m-2.4 1.3l2.4 -1.3l-0.5 2.7M97.1 113.7l5.9 -8.3m-2.4 1.3l2.4 -1.3l-0.5 2.7M97.2 107.4l5.9 -8.2m-2.4 1.3l2.4 -1.3l-0.5 2.7M97.2 101.1l5.9 -8.2m-2.4 1.3l2.4 -1.3l-0.5 2.7M97.2 94.7l5.8 -8.1m-2.3 1.3l2.3 -1.3l-0.5 2.6M97.3 88.3l5.6 -7.9m-2.3 1.3l2.3 -1.3l-0.5 2.6M97.5 81.8l5.2 -7.5m-2.1 1.2l2.1 -1.2l-0.4 2.4M97.9 75.2l4.4 -6.8m-1.9 1.2l1.9 -1.2l-0.3 2.2M98.5 68.6l3.3 -6.2m-1.5 1.1l1.5 -1.1l-0.1 1.9M99.5 62.6l1.3 -6.9m-1.1 1.5l1.1 -1.5l0.5 1.8M102.1 55.7l-4.1 -5.7m0.4 1.9l-0.4 -1.9l1.7 0.9M103.5 47.6l-6.7 -1.9m1.4 1.2l-1.4 -1.2l1.9 -0.3M103.6 40.5l-7 -0.4m1.7 0.9l-1.7 -0.9l1.8 -0.7M103.6 33.9l-7 0.3m1.7 0.7l-1.7 -0.7l1.7 -0.9M103.6 27.4l-7 0.7m1.8 0.6l-1.8 -0.6l1.6 -1M103.6 20.9l-6.9 1m1.8 0.5l-1.8 -0.5l1.6 -1M103.5 14.4l-6.8 1.5m1.8 0.4l-1.8 -0.4l1.5 -1.1M103.5 7.8l-6.7 2m1.9 0.3l-1.9 -0.3l1.4 -1.2M103 126.3l5.9 -8.3m-2.3 1.3l2.3 -1.3l-0.5 2.7M103 120l5.9 -8.2m-2.3 1.3l2.3 -1.3l-0.5 2.7M103 113.7l5.9 -8.2m-2.3 1.3l2.3 -1.3l-0.5 2.7M103 107.4l5.8 -8.2m-2.3 1.3l2.3 -1.3l-0.5 2.7M103 101.1l5.8 -8.1m-2.3 1.3l2.3 -1.3l-0.5 2.7M103.1 94.7l5.7 -8m-2.3 1.3l2.3 -1.3l-0.5 2.6M103.2 88.3l5.5 -7.8m-2.2 1.3l2.2 -1.3l-0.4 2.5M103.4 81.8l5.1 -7.4m-2.1 1.2l2.1 -1.2l-0.4 2.4M103.8 75.2l4.3 -6.8m-1.8 1.2l1.8 -1.2l-0.3 2.1M104.4 68.7l3 -6.3m-1.5 1.2l1.5 -1.2l0 1.9M105.5 62.7l0.9 -6.9m-1 1.6l1 -1.6l0.6 1.8M108 55.7l-4.2 -5.6m0.4 1.8l-0.4 -1.8l1.7 0.9M109.2 47.7l-6.7 -2.1m1.4 1.3l-1.4 -1.3l1.9 -0.2M109.4 40.6l-7 -0.5m1.6 0.9l-1.6 -0.9l1.8 -0.7M109.4 33.9l-7 0.2m1.7 0.7l-1.7 -0.7l1.7 -0.9M109.4 27.3l-7 0.8m1.8 0.6l-1.8 -0.6l1.6 -1M109.3 20.8l-6.9 1.2m1.8 0.5l-1.8 -0.5l1.5 -1.1M109.3 14.2l-6.8 1.7m1.9 0.3l-1.9 -0.3l1.5 -1.2M109.2 7.6l-6.6 2.3m1.9 0.2l-1.9 -0.2l1.3 -1.3M108.8 126.3l5.8 -8.2m-2.3 1.3l2.3 -1.3l-0.5 2.7M108.8 120l5.8 -8.2m-2.3 1.3l2.3 -1.3l-0.5 2.7M108.8 113.7l5.8 -8.2m-2.3 1.3l2.3 -1.3l-0.5 2.7M108.8 107.4l5.8 -8.1m-2.3 1.3l2.3 -1.3l-0.5 2.7M108.8 101l5.7 -8.1m-2.3 1.3l2.3 -1.3l-0.5 2.6M108.9 94.7l5.6 -8m-2.3 1.3l2.3 -1.3l-0.5 2.6M109 88.3l5.4 -7.8m-2.2 1.3l2.2 -1.3l-0.4 2.5M109.2 81.8l4.9 -7.4m-2.1 1.2l2.1 -1.2l-0.4 2.4M109.6 75.2l4.1 -6.8m-1.8 1.2l1.8 -1.2l-0.2 2.1M110.3 68.7l2.9 -6.4m-1.4 1.2l1.4 -1.2l0 1.9M111.4 62.7l0.6 -7m-0.9 1.6l0.9 -1.6l0.7 1.8M113.8 55.7l-4.3 -5.5m0.4 1.8l-0.4 -1.8l1.7 0.9M115 47.7l-6.6 -2.2m1.4 1.3l-1.4 -1.3l1.9 -0.2M115.2 40.6l-7 -0.5m1.6 0.9l-1.6 -0.9l1.8 -0.7M115.2 33.8l-7 0.3m1.7 0.7l-1.7 -0.7l1.7 -0.9M115.2 27.2l-6.9 1m1.8 0.6l-1.8 -0.6l1.6 -1M115.1 20.6l-6.8 1.5m1.8 0.4l-1.8 -0.4l1.5 -1.2M115 14l-6.7 2.1m1.9 0.2l-1.9 -0.2l1.4 -1.3M114.9 7.4l-6.4 2.8m1.9 0.1l-1.9 -0.1l1.3 -1.4M114.6 126.3l5.8 -8.1m-2.3 1.3l2.3 -1.3l-0.5 2.6M114.6 120l5.8 -8.1m-2.3 1.3l2.3 -1.3l-0.5 2.6M114.6 113.6l5.8 -8.1m-2.3 1.3l2.3 -1.3l-0.5 2.6M114.6 107.3l5.7 -8.1m-2.3 1.3l2.3 -1.3l-0.5 2.6M114.7 101l5.7 -8m-2.3 1.3l2.3 -1.3l-0.5 2.6M114.7 94.6l5.6 -7.9m-2.3 1.3l2.3 -1.3l-0.5 2.6M114.8 88.2l5.3 -7.6m-2.2 1.3l2.2 -1.3l-0.4 2.5M115.1 81.7l4.8 -7.3m-2 1.2l2 -1.2l-0.4 2.3M115.5 75.1l4 -6.7m-1.7 1.2l1.7 -1.2l-0.2 2.1M116.1 68.7l2.8 -6.4m-1.4 1.3l1.4 -1.3l0.1 1.9M117.3 62.7l0.4 -7m-0.9 1.7l0.9 -1.7l0.7 1.8M119.7 55.6l-4.4 -5.5m0.4 1.8l-0.4 -1.8l1.7 0.8M120.8 47.7l-6.6 -2.2m1.4 1.3l-1.4 -1.3l1.9 -0.2M121 40.5l-7 -0.4m1.7 0.9l-1.7 -0.9l1.8 -0.7M121 33.7l-7 0.6m1.8 0.7l-1.8 -0.7l1.6 -0.9M120.9 27.1l-6.9 1.3m1.8 0.5l-1.8 -0.5l1.5 -1.1M120.9 20.4l-6.7 2m1.9 0.3l-1.9 -0.3l1.4 -1.2M120.7 13.8l-6.5 2.6m1.9 0.1l-1.9 -0.1l1.3 -1.4M120.6 7.1l-6.2 3.3m1.9 -0.1l-1.9 0.1l1.1 -1.5M120.4 126.2l5.8 -8m-2.3 1.3l2.3 -1.3l-0.5 2.6M120.4 119.9l5.8 -8m-2.3 1.3l2.3 -1.3l-0.5 2.6M120.4 113.6l5.8 -8m-2.3 1.3l2.3 -1.3l-0.5 2.6M120.4 107.3l5.7 -7.9m-2.3 1.3l2.3 -1.3l-0.5 2.6M120.5 100.9l5.7 -7.8m-2.3 1.3l2.3 -1.3l-0.5 2.6M120.5 94.6l5.5 -7.7m-2.2 1.3l2.2 -1.3l-0.5 2.5M120.7 88.1l5.3 -7.5m-2.1 1.2l2.1 -1.2l-0.4 2.4M120.9 81.7l4.8 -7.1m-2 1.2l2 -1.2l-0.4 2.3M121.3 75.1l3.9 -6.5m-1.7 1.2l1.7 -1.2l-0.2 2M121.9 68.7l2.7 -6.4m-1.4 1.3l1.4 -1.3l0.1 1.9M123.2 62.7l0.3 -7m-0.9 1.7l0.9 -1.7l0.7 1.7M125.5 55.6l-4.5 -5.4m0.5 1.8l-0.5 -1.8l1.7 0.8M126.6 47.6l-6.7 -2.1m1.4 1.3l-1.4 -1.3l1.9 -0.3M126.8 40.4l-7 -0.2m1.7 0.8l-1.7 -0.8l1.7 -0.8M126.8 33.5l-6.9 0.9m1.8 0.6l-1.8 -0.6l1.6 -1M126.7 26.8l-6.8 1.7m1.9 0.3l-1.9 -0.3l1.5 -1.2M126.6 20.2l-6.5 2.5m1.9 0.1l-1.9 -0.1l1.3 -1.4M126.4 13.5l-6.2 3.2m1.9 -0.1l-1.9 0.1l1.2 -1.5M126.2 6.9l-5.8 3.9m1.9 -0.3l-1.9 0.3l1 -1.6M126.2 126.1l5.8 -7.8m-2.3 1.2l2.3 -1.2l-0.5 2.6M126.2 119.8l5.8 -7.8m-2.3 1.2l2.3 -1.2l-0.5 2.6M126.2 113.5l5.8 -7.8m-2.3 1.2l2.3 -1.2l-0.5 2.6M126.2 107.2l5.8 -7.7m-2.3 1.2l2.3 -1.2l-0.5 2.5M126.3 100.8l5.7 -7.6m-2.3 1.2l2.3 -1.2l-0.5 2.5M126.3 94.5l5.5 -7.5m-2.2 1.2l2.2 -1.2l-0.5 2.5M126.5 88l5.3 -7.3m-2.1 1.2l2.1 -1.2l-0.5 2.4M126.7 81.6l4.8 -6.9m-2 1.1l2 -1.1l-0.4 2.2M127.2 75l3.9 -6.4m-1.7 1.1l1.7 -1.1l-0.2 2M127.7 68.7l2.8 -6.4m-1.4 1.3l1.4 -1.3l0.1 1.9M129 62.7l0.3 -7m-0.9 1.7l0.9 -1.7l0.7 1.7M131.4 55.6l-4.5 -5.3m0.5 1.8l-0.5 -1.8l1.7 0.8M132.5 47.5l-6.8 -1.8m1.5 1.2l-1.5 -1.2l1.9 -0.3M132.6 40.2l-7 0.2m1.7 0.7l-1.7 -0.7l1.7 -0.9M132.5 33.3l-6.9 1.4m1.8 0.4l-1.8 -0.4l1.5 -1.1M132.4 26.5l-6.6 2.3m1.9 0.2l-1.9 -0.2l1.4 -1.3M132.2 19.9l-6.3 3.1m1.9 0l-1.9 0l1.2 -1.5M132 13.2l-5.9 3.8m1.9 -0.3l-1.9 0.3l1 -1.6M131.8 6.6l-5.4 4.5m1.8 -0.5l-1.8 0.5l0.8 -1.7M131.9 126l5.9 -7.6m-2.3 1.2l2.3 -1.2l-0.6 2.5M131.9 119.7l5.9 -7.6m-2.3 1.2l2.3 -1.2l-0.6 2.5M131.9 113.4l5.9 -7.5m-2.3 1.2l2.3 -1.2l-0.6 2.5M132 107l5.9 -7.5m-2.3 1.2l2.3 -1.2l-0.6 2.5M132 100.7l5.8 -7.4m-2.3 1.2l2.3 -1.2l-0.6 2.5M132.1 94.3l5.6 -7.3m-2.2 1.1l2.2 -1.1l-0.5 2.4M132.2 87.9l5.3 -7m-2.1 1.1l2.1 -1.1l-0.5 2.3M132.5 81.4l4.8 -6.7m-1.9 1.1l1.9 -1.1l-0.4 2.2M132.9 74.9l3.9 -6.2m-1.7 1.1l1.7 -1.1l-0.3 2M133.4 68.7l2.9 -6.4m-1.4 1.2l1.4 -1.2l0 1.9M134.7 62.7l0.5 -7m-0.9 1.7l0.9 -1.7l0.7 1.8M137.2 55.5l-4.6 -5.3m0.5 1.8l-0.5 -1.8l1.7 0.8M138.3 47.3l-6.9 -1.3m1.5 1.1l-1.5 -1.1l1.8 -0.5M138.4 39.9l-7 0.8m1.8 0.6l-1.8 -0.6l1.6 -1M138.2 33l-6.7 2.1m1.9 0.3l-1.9 -0.3l1.4 -1.3M138.1 26.2l-6.3 3m1.9 0l-1.9 0l1.2 -1.5M137.9 19.5l-5.9 3.8m1.9 -0.2l-1.9 0.2l1 -1.6M137.6 12.9l-5.4 4.4m1.8 -0.5l-1.8 0.5l0.8 -1.7M137.3 6.3l-4.9 5m1.8 -0.7l-1.8 0.7l0.6 -1.8M137.7 125.8l6.1 -7.3m-2.3 1.1l2.3 -1.1l-0.7 2.5M137.7 119.5l6.1 -7.3m-2.3 1.1l2.3 -1.1l-0.7 2.5M137.7 113.2l6.1 -7.2m-2.3 1.1l2.3 -1.1l-0.7 2.5M137.7 106.9l6 -7.2m-2.3 1.1l2.3 -1.1l-0.7 2.4M137.7 100.6l5.9 -7.1m-2.3 1.1l2.3 -1.1l-0.6 2.4M137.8 94.2l5.8 -7m-2.2 1.1l2.2 -1.1l-0.6 2.4M138 87.8l5.4 -6.7m-2.1 1l2.1 -1l-0.6 2.3M138.2 81.3l4.9 -6.4m-1.9 1l1.9 -1l-0.5 2.1M138.7 74.8l4.1 -5.9m-1.7 1l1.7 -1l-0.3 1.9M139.1 68.6l3.2 -6.2m-1.5 1.2l1.5 -1.2l-0.1 1.9M140.3 62.7l0.8 -7m-1 1.6l1 -1.6l0.6 1.8M143 55.5l-4.7 -5.2m0.5 1.8l-0.5 -1.8l1.7 0.7M144.2 47l-7 -0.7m1.6 1l-1.6 -1l1.8 -0.6M144.1 39.5l-6.8 1.6m1.8 0.4l-1.8 -0.4l1.5 -1.2M143.9 32.6l-6.4 2.8m1.9 0l-1.9 0l1.2 -1.4M143.7 25.8l-5.9 3.7m1.9 -0.2l-1.9 0.2l1 -1.6M143.4 19.2l-5.4 4.4m1.8 -0.5l-1.8 0.5l0.8 -1.7M143.1 12.6l-4.9 5m1.8 -0.7l-1.8 0.7l0.6 -1.8M142.9 6l-4.3 5.5m1.7 -0.9l-1.7 0.9l0.4 -1.8M143.3 125.7l6.3 -7m-2.3 1l2.3 -1l-0.7 2.4M143.4 119.4l6.3 -6.9m-2.3 1l2.3 -1l-0.7 2.4M143.4 113.1l6.3 -6.9m-2.3 1l2.3 -1l-0.7 2.4M143.4 106.7l6.2 -6.9m-2.3 1l2.3 -1l-0.7 2.4M143.4 100.4l6.1 -6.8m-2.3 1l2.3 -1l-0.7 2.4M143.5 94l5.9 -6.7m-2.2 1l2.2 -1l-0.7 2.3M143.7 87.6l5.6 -6.4m-2.1 0.9l2.1 -0.9l-0.6 2.2M144 81.2l5.1 -6.1m-1.9 0.9l1.9 -0.9l-0.5 2.1M144.4 74.6l4.2 -5.7m-1.7 0.9l1.7 -0.9l-0.4 1.9M144.7 68.5l3.5 -6.1m-1.5 1.1l1.5 -1.1l-0.2 1.9M145.8 62.6l1.4 -6.9m-1.1 1.5l1.1 -1.5l0.4 1.8M148.9 55.5l-4.7 -5.1m0.6 1.8l-0.6 -1.8l1.7 0.7M150 46.5l-7 0.2m1.7 0.7l-1.7 -0.7l1.7 -0.9M149.8 39.1l-6.5 2.5m1.9 0.1l-1.9 -0.1l1.3 -1.4M149.5 32.2l-6 3.6m1.9 -0.2l-1.9 0.2l1 -1.6M149.2 25.5l-5.4 4.5m1.8 -0.5l-1.8 0.5l0.8 -1.7M148.9 18.9l-4.8 5.1m1.8 -0.7l-1.8 0.7l0.6 -1.8M148.6 12.3l-4.3 5.6m1.7 -0.9l-1.7 0.9l0.4 -1.8M148.4 5.8l-3.8 5.9m1.6 -1l-1.6 1l0.2 -1.9M149 125.5l6.5 -6.6m-2.4 0.9l2.4 -0.9l-0.8 2.4M149 119.2l6.5 -6.6m-2.4 0.9l2.4 -0.9l-0.8 2.4M149 112.9l6.5 -6.6m-2.3 0.9l2.3 -0.9l-0.8 2.4M149.1 106.6l6.4 -6.5m-2.3 0.9l2.3 -0.9l-0.8 2.3M149.1 100.2l6.3 -6.5m-2.3 0.9l2.3 -0.9l-0.8 2.3M149.2 93.9l6.2 -6.3m-2.2 0.9l2.2 -0.9l-0.8 2.3M149.4 87.5l5.8 -6.1m-2.1 0.8l2.1 -0.8l-0.7 2.2M149.7 81l5.3 -5.8m-2 0.8l2 -0.8l-0.6 2M150.1 74.5l4.5 -5.4m-1.7 0.8l1.7 -0.8l-0.5 1.8M150.3 68.4l3.9 -5.8m-1.6 1l1.6 -1l-0.3 1.9M151.2 62.5l2.2 -6.7m-1.3 1.4l1.3 -1.4l0.2 1.9M154.7 55.4l-4.8 -5.1m0.6 1.8l-0.6 -1.8l1.8 0.7M155.7 45.9l-6.8 1.5m1.8 0.4l-1.8 -0.4l1.5 -1.1M155.3 38.6l-6.1 3.5m1.9 -0.2l-1.9 0.2l1.1 -1.5M155 31.8l-5.4 4.5m1.8 -0.5l-1.8 0.5l0.8 -1.7M154.7 25.1l-4.8 5.1m1.7 -0.7l-1.7 0.7l0.6 -1.8M154.4 18.6l-4.2 5.6m1.7 -0.9l-1.7 0.9l0.4 -1.9M154.1 12.1l-3.6 6m1.6 -1l-1.6 1l0.2 -1.9M153.9 5.7l-3.2 6.2m1.5 -1.2l-1.5 1.2l0.1 -1.9M154.7 125.4l6.8 -6.3m-2.4 0.8l2.4 -0.8l-0.9 2.3M154.7 119.1l6.8 -6.3m-2.4 0.8l2.4 -0.8l-0.9 2.3M154.7 112.7l6.7 -6.3m-2.4 0.8l2.4 -0.8l-0.9 2.3M154.8 106.4l6.7 -6.2m-2.3 0.8l2.3 -0.8l-0.9 2.3M154.8 100.1l6.6 -6.2m-2.3 0.8l2.3 -0.8l-0.9 2.3M154.9 93.7l6.4 -6m-2.2 0.8l2.2 -0.8l-0.9 2.2M155.1 87.3l6 -5.8m-2.1 0.7l2.1 -0.7l-0.8 2.1M155.3 80.9l5.5 -5.5m-2 0.7l2 -0.7l-0.7 2M155.7 74.4l4.8 -5.1m-1.8 0.7l1.8 -0.7l-0.6 1.8M155.9 68.2l4.4 -5.5m-1.7 0.8l1.7 -0.8l-0.4 1.8M156.5 62.3l3.1 -6.3m-1.5 1.2l1.5 -1.2l-0.1 1.9M160.5 55.5l-4.7 -5.2m0.6 1.8l-0.6 -1.8l1.7 0.7M161.3 45.1l-6.3 3m1.9 0l-1.9 0l1.2 -1.5M160.8 38l-5.4 4.5m1.8 -0.5l-1.8 0.5l0.8 -1.7M160.4 31.4l-4.7 5.2m1.7 -0.7l-1.7 0.7l0.5 -1.8M160.1 24.8l-4 5.7m1.6 -0.9l-1.6 0.9l0.3 -1.9M159.8 18.4l-3.5 6.1m1.5 -1.1l-1.5 1.1l0.2 -1.9M159.6 12l-3.1 6.3m1.5 -1.2l-1.5 1.2l0 -1.9M159.5 5.6l-2.7 6.4m1.4 -1.3l-1.4 1.3l-0.1 -1.9M160.4 125.2l7 -6.1m-2.4 0.7l2.4 -0.7l-1 2.3M160.4 118.9l7 -6m-2.4 0.7l2.4 -0.7l-1 2.3M160.4 112.6l7 -6m-2.4 0.7l2.4 -0.7l-1 2.3M160.5 106.3l6.9 -6m-2.4 0.7l2.4 -0.7l-1 2.2M160.5 100l6.8 -5.9m-2.3 0.7l2.3 -0.7l-1 2.2M160.6 93.6l6.6 -5.8m-2.3 0.7l2.3 -0.7l-1 2.2M160.8 87.2l6.3 -5.6m-2.2 0.7l2.2 -0.7l-0.9 2.1M161 80.7l5.7 -5.3m-2 0.6l2 -0.6l-0.8 1.9M161.4 74.2l5 -4.9m-1.8 0.6l1.8 -0.6l-0.7 1.8M161.5 68.1l4.8 -5.1m-1.8 0.7l1.8 -0.7l-0.6 1.8M161.8 62l4.2 -5.6m-1.7 0.9l1.7 -0.9l-0.4 1.9M165.6 56l-3.4 -6.1m0.1 1.9l-0.1 -1.9l1.5 1.1M166.5 44.3l-5.2 4.6m1.8 -0.5l-1.8 0.5l0.8 -1.7M166.1 37.6l-4.4 5.4m1.7 -0.8l-1.7 0.8l0.5 -1.8M165.8 31.1l-3.8 5.9m1.6 -1l-1.6 1l0.3 -1.9M165.6 24.6l-3.3 6.2m1.5 -1.1l-1.5 1.1l0.1 -1.9M165.3 18.2l-2.9 6.4m1.4 -1.2l-1.4 1.2l0 -1.9M165.2 11.8l-2.5 6.5m1.4 -1.3l-1.4 1.3l-0.1 -1.9M165.1 5.5l-2.3 6.6m1.3 -1.4l-1.3 1.4l-0.2 -1.9M166.1 125.1l7.2 -5.9m-2.4 0.6l2.4 -0.6l-1.1 2.3M166.1 118.8l7.2 -5.9m-2.4 0.6l2.4 -0.6l-1.1 2.3M166.1 112.5l7.2 -5.8m-2.4 0.6l2.4 -0.6l-1.1 2.2M166.1 106.2l7.1 -5.8m-2.4 0.6l2.4 -0.6l-1.1 2.2M166.2 99.9l7 -5.7m-2.4 0.6l2.4 -0.6l-1.1 2.2M166.3 93.5l6.8 -5.6m-2.3 0.6l2.3 -0.6l-1 2.2M166.5 87.1l6.5 -5.4m-2.2 0.6l2.2 -0.6l-1 2.1M166.7 80.7l6 -5.1m-2 0.6l2 -0.6l-0.9 1.9M167.1 74.1l5.2 -4.7m-1.8 0.5l1.8 -0.5l-0.8 1.7M167.1 67.9l5.1 -4.8m-1.8 0.6l1.8 -0.6l-0.7 1.8M167.2 61.6l5.1 -4.8m-1.8 0.6l1.8 -0.6l-0.7 1.8M166.4 54.1l6.6 -2.4m-1.9 -0.2l1.9 0.2l-1.3 1.3M171.5 43.6l-3.6 6m1.6 -1.1l-1.6 1.1l0.2 -1.9M171.4 37.2l-3.4 6.1m1.5 -1.1l-1.5 1.1l0.1 -1.9M171.2 30.8l-3 6.3m1.5 -1.2l-1.5 1.2l0 -1.9M171 24.4l-2.6 6.5m1.4 -1.3l-1.4 1.3l-0.1 -1.9M170.8 18.1l-2.3 6.6m1.3 -1.4l-1.3 1.4l-0.2 -1.9M170.7 11.7l-2 6.7m1.3 -1.4l-1.3 1.4l-0.3 -1.9M170.5 5.4l-1.7 6.8m1.2 -1.5l-1.2 1.5l-0.4 -1.9M171.8 125.1l7.4 -5.8m-2.5 0.6l2.5 -0.6l-1.1 2.3M171.8 118.8l7.4 -5.8m-2.5 0.6l2.5 -0.6l-1.1 2.3M171.8 112.5l7.3 -5.8m-2.5 0.6l2.5 -0.6l-1.1 2.3M171.9 106.2l7.3 -5.8m-2.4 0.6l2.4 -0.6l-1.1 2.2M171.9 99.8l7.2 -5.7m-2.4 0.6l2.4 -0.6l-1.1 2.2M172 93.5l7 -5.6m-2.3 0.6l2.3 -0.6l-1.1 2.2M172.2 87.1l6.7 -5.4m-2.2 0.6l2.2 -0.6l-1 2.1M172.4 80.6l6.2 -5.1m-2.1 0.5l2.1 -0.5l-0.9 1.9M172.7 74.1l5.5 -4.6m-1.9 0.5l1.9 -0.5l-0.8 1.8M172.8 67.7l5.4 -4.5m-1.8 0.5l1.8 -0.5l-0.8 1.7M172.7 61.3l5.6 -4.2m-1.9 0.4l1.9 -0.4l-0.9 1.7M172 53.1l7 -0.4m-1.8 -0.7l1.8 0.7l-1.7 0.9M176.1 43.1l-1.2 6.9m1.1 -1.6l-1.1 1.6l-0.5 -1.8M176.6 37l-2.1 6.7m1.3 -1.4l-1.3 1.4l-0.2 -1.9M176.5 30.7l-2.1 6.7m1.3 -1.4l-1.3 1.4l-0.3 -1.9M176.4 24.3l-1.8 6.8m1.2 -1.4l-1.2 1.4l-0.3 -1.9M176.2 18l-1.4 6.9m1.1 -1.5l-1.1 1.5l-0.4 -1.8M175.9 11.6l-0.8 7m1 -1.6l-1 1.6l-0.6 -1.8M175.4 5.3l0.1 7m0.8 -1.7l-0.8 1.7l-0.8 -1.7M177.5 125.2l7.6 -6m-2.5 0.6l2.5 -0.6l-1.2 2.3M177.5 118.9l7.6 -6m-2.5 0.6l2.5 -0.6l-1.2 2.3M177.5 112.6l7.5 -5.9m-2.5 0.6l2.5 -0.6l-1.2 2.3M177.6 106.3l7.5 -5.9m-2.5 0.6l2.5 -0.6l-1.2 2.3M177.6 99.9l7.4 -5.8m-2.5 0.6l2.5 -0.6l-1.1 2.3M177.7 93.6l7.2 -5.7m-2.4 0.6l2.4 -0.6l-1.1 2.2M177.9 87.2l6.9 -5.5m-2.3 0.6l2.3 -0.6l-1.1 2.1M178.1 80.7l6.4 -5.2m-2.2 0.5l2.2 -0.5l-1 2M178.4 74.2l5.8 -4.7m-2 0.5l2 -0.5l-0.9 1.8M178.5 67.7l5.5 -4.3m-1.8 0.4l1.8 -0.4l-0.9 1.7M178.4 61.1l5.8 -3.9m-1.9 0.3l1.9 -0.3l-1 1.6M177.9 53.5l6.9 -1.2m-1.8 -0.5l1.8 0.5l-1.5 1.1M180.1 43.3l2.4 6.6m0.2 -1.9l-0.2 1.9l-1.3 -1.3M181.5 36.8l-0.4 7m0.9 -1.7l-0.9 1.7l-0.7 -1.8M181.7 30.5l-0.7 7m1 -1.6l-1 1.6l-0.6 -1.8M181.5 24.2l-0.3 7m0.9 -1.7l-0.9 1.7l-0.7 -1.7M181.1 17.9l0.5 7m0.7 -1.8l-0.7 1.8l-0.9 -1.7M180.7 11.7l1.3 6.9m0.5 -1.8l-0.5 1.8l-1.1 -1.5M180.4 5.4l1.9 6.7m0.3 -1.9l-0.3 1.9l-1.2 -1.4M183.2 125.4l7.8 -6.3m-2.6 0.7l2.6 -0.7l-1.2 2.4M183.2 119.1l7.8 -6.3m-2.6 0.7l2.6 -0.7l-1.2 2.4M183.2 112.8l7.7 -6.3m-2.6 0.7l2.6 -0.7l-1.2 2.4M183.3 106.4l7.7 -6.3m-2.6 0.7l2.6 -0.7l-1.2 2.4M183.3 100.1l7.6 -6.2m-2.6 0.7l2.6 -0.7l-1.1 2.4M183.4 93.8l7.4 -6.1m-2.5 0.7l2.5 -0.7l-1.1 2.3M183.5 87.4l7.2 -5.9m-2.4 0.6l2.4 -0.6l-1.1 2.3M183.7 80.9l6.8 -5.6m-2.3 0.6l2.3 -0.6l-1 2.1M184 74.4l6.2 -5.1m-2.1 0.5l2.1 -0.5l-0.9 2M184.3 67.7l5.5 -4.4m-1.9 0.4l1.9 -0.4l-0.9 1.7M184.2 61.2l5.8 -3.9m-1.9 0.3l1.9 -0.3l-1 1.6M183.8 54l6.6 -2.3m-1.9 -0.2l1.9 0.2l-1.4 1.3M184.1 44.8l6 3.6m-1 -1.6l1 1.6l-1.9 -0.2M185.9 37l2.4 6.6m0.2 -1.9l-0.2 1.9l-1.3 -1.3M186.3 30.6l1.7 6.8m0.4 -1.9l-0.4 1.9l-1.2 -1.5M186.1 24.3l1.9 6.7m0.3 -1.9l-0.3 1.9l-1.2 -1.4M186 18.1l2.2 6.6m0.2 -1.9l-0.2 1.9l-1.3 -1.4M185.9 11.8l2.5 6.7m0.2 -1.9l-0.2 1.9l-1.4 -1.4M185.8 5.4l2.6 6.8m0.1 -2l-0.1 2l-1.4 -1.4M188.9 125.7l8 -7m-2.6 0.7l2.6 -0.7l-1.1 2.5M188.9 119.4l8 -7m-2.6 0.7l2.6 -0.7l-1.1 2.5M188.9 113.1l8 -7m-2.6 0.7l2.6 -0.7l-1.1 2.5M188.9 106.8l7.9 -6.9m-2.6 0.7l2.6 -0.7l-1.1 2.5M189 100.4l7.9 -6.9m-2.6 0.8l2.6 -0.8l-1.1 2.5M189 94.1l7.7 -6.8m-2.6 0.8l2.6 -0.8l-1.1 2.5M189.1 87.7l7.5 -6.6m-2.6 0.8l2.6 -0.8l-1.1 2.5M189.3 81.3l7.2 -6.3m-2.5 0.7l2.5 -0.7l-1 2.4M189.6 74.7l6.7 -5.8m-2.3 0.7l2.3 -0.7l-1 2.2M189.8 68.1l6.1 -5.1m-2.1 0.6l2.1 -0.6l-0.9 1.9M190.1 61.2l5.7 -4.1m-1.9 0.4l1.9 -0.4l-0.9 1.6M189.6 54.2l6.5 -2.6m-1.9 -0.1l1.9 0.1l-1.3 1.4M189.6 45.5l6.6 2.3m-1.4 -1.3l1.4 1.3l-1.9 0.2M190.8 37.5l4.3 5.5m-0.4 -1.8l0.4 1.8l-1.7 -0.9M191.3 30.9l3.3 6.2m-0.1 -1.9l0.1 1.9l-1.5 -1.1M191.4 24.5l3 6.4m0 -1.9l0 1.9l-1.5 -1.2M191.4 18.1l3 6.7m0 -2l0 2l-1.5 -1.3M191.4 11.7l2.9 6.8m0.1 -2l-0.1 2l-1.5 -1.3M191.6 5.5l2.7 6.7m0.1 -1.9l-0.1 1.9l-1.4 -1.3M194.5 126.1l8.3 -7.8m-2.6 0.8l2.6 -0.8l-1 2.5M194.6 119.8l8.3 -7.8m-2.6 0.8l2.6 -0.8l-1 2.5M194.6 113.5l8.3 -7.8m-2.6 0.8l2.6 -0.8l-1 2.5M194.6 107.2l8.2 -7.7m-2.6 0.8l2.6 -0.8l-1 2.5M194.6 100.8l8.2 -7.7m-2.6 0.8l2.6 -0.8l-1 2.5M194.7 94.5l8.1 -7.6m-2.6 0.8l2.6 -0.8l-1 2.5M194.7 88.1l7.9 -7.5m-2.6 0.8l2.6 -0.8l-1 2.5M194.9 81.7l7.7 -7.2m-2.6 0.8l2.6 -0.8l-1 2.5M195.1 75.2l7.3 -6.7m-2.6 0.8l2.6 -0.8l-1 2.5M195.3 68.4l6.9 -5.8m-2.3 0.6l2.3 -0.6l-1 2.2M195.4 61.2l6.6 -4.1m-2.1 0.2l2.1 -0.2l-1.1 1.7M195.2 53.3l7 -0.8m-1.8 -0.6l1.8 0.6l-1.6 1M195.7 44.9l6.1 3.5m-1.1 -1.5l1.1 1.5l-1.9 -0.2M196.4 37.6l4.6 5.3m-0.5 -1.8l0.5 1.8l-1.7 -0.8M196.7 31l3.9 6.1m-0.3 -1.9l0.3 1.9l-1.7 -1M196.9 24.5l3.6 6.4m-0.2 -2l0.2 2l-1.6 -1.2M197 18.1l3.4 6.5m-0.1 -2l0.1 2l-1.6 -1.2M197.2 11.9l3 6.4m0 -1.9l0 1.9l-1.5 -1.2M197.4 5.5l2.5 6.5m0.1 -1.9l-0.1 1.9l-1.4 -1.3M200.2 126.5l8.6 -8.6m-2.5 0.9l2.5 -0.9l-0.9 2.5M200.2 120.2l8.6 -8.6m-2.5 0.9l2.5 -0.9l-0.9 2.5M200.2 113.9l8.6 -8.6m-2.5 0.9l2.5 -0.9l-0.9 2.5M200.2 107.6l8.6 -8.5m-2.5 0.9l2.5 -0.9l-0.9 2.5M200.2 101.3l8.5 -8.5m-2.5 0.9l2.5 -0.9l-0.9 2.5M200.3 94.9l8.5 -8.4m-2.5 0.9l2.5 -0.9l-0.9 2.5M200.3 88.6l8.4 -8.3m-2.5 0.9l2.5 -0.9l-0.9 2.5M200.4 82.1l8.2 -8m-2.5 0.9l2.5 -0.9l-0.9 2.5M200.5 75.4l7.9 -7.2m-2.6 0.8l2.6 -0.8l-1 2.5M200.6 68.2l7.7 -5.4m-2.5 0.4l2.5 -0.4l-1.3 2.2M200.7 60.3l7.6 -2.2m-2.1 -0.3l2.1 0.3l-1.6 1.4M201 52.2l7.1 1.5m-1.6 -1.2l1.6 1.2l-1.9 0.4M201.5 44.6l6 3.9m-1 -1.6l1 1.6l-1.9 -0.3M201.9 37.8l5.3 5.1m-0.7 -1.8l0.7 1.8l-1.9 -0.6M202.1 31.2l4.7 5.5m-0.5 -1.9l0.5 1.9l-1.8 -0.8M202.4 24.9l4.3 5.7m-0.4 -1.9l0.4 1.9l-1.7 -0.9M202.5 18.5l3.9 5.8m-0.3 -1.9l0.3 1.9l-1.6 -1M202.7 12.1l3.6 6m-0.2 -1.9l0.2 1.9l-1.6 -1.1M203 5.7l3.1 6.3m0 -1.9l0 1.9l-1.5 -1.2M205.9 126.8l8.9 -9.2m-2.5 1l2.5 -1l-0.9 2.6M205.9 120.5l8.9 -9.2m-2.5 1l2.5 -1l-0.9 2.6M205.9 114.2l8.8 -9.2m-2.5 1l2.5 -1l-0.9 2.6M205.9 107.9l8.8 -9.2m-2.5 1l2.5 -1l-0.9 2.6M205.9 101.6l8.8 -9.2m-2.5 1l2.5 -1l-0.9 2.6M205.9 95.2l8.8 -9.1m-2.5 1l2.5 -1l-0.9 2.6M206 88.8l8.7 -8.9m-2.5 1l2.5 -1l-0.9 2.5M206 82.2l8.6 -8.2m-2.6 0.9l2.6 -0.9l-1 2.5M206.1 75l8.4 -6.4m-2.6 0.6l2.6 -0.6l-1.3 2.4M206.1 67.3l8.3 -3.6m-2.4 -0.1l2.4 0.1l-1.6 1.8M206.3 59.5l8.1 -0.6m-2 -0.8l2 0.8l-1.9 1.1M206.5 52.2l7.5 1.5m-1.7 -1.2l1.7 1.2l-2 0.5M206.8 45.4l7.1 2.5m-1.5 -1.4l1.5 1.4l-2 0.2M206.9 38.9l6.7 2.8m-1.3 -1.4l1.3 1.4l-2 0.1M207.1 32.6l6.4 2.9m-1.3 -1.4l1.3 1.4l-1.9 0M207.2 26.1l6.2 3.2m-1.2 -1.5l1.2 1.5l-1.9 -0.1M207.4 19.4l5.8 4m-1 -1.6l1 1.6l-1.9 -0.3M207.8 12.7l5 4.9m-0.7 -1.8l0.7 1.8l-1.8 -0.6M208.1 6.1l4.4 5.5m-0.4 -1.8l0.4 1.8l-1.7 -0.8M211.6 127l9 -9.6m-2.5 1l2.5 -1l-0.8 2.6M211.6 120.7l9 -9.6m-2.5 1l2.5 -1l-0.8 2.6M211.6 114.4l9 -9.6m-2.5 1l2.5 -1l-0.8 2.6M211.6 108.1l9 -9.6m-2.5 1l2.5 -1l-0.8 2.6M211.6 101.8l9 -9.6m-2.5 1l2.5 -1l-0.8 2.6M211.6 95.4l9 -9.4m-2.5 1l2.5 -1l-0.9 2.6M211.6 88.8l8.9 -8.9m-2.5 0.9l2.5 -0.9l-0.9 2.5M211.7 81.8l8.8 -7.5m-2.6 0.7l2.6 -0.7l-1.1 2.5M211.8 74.4l8.7 -5.2m-2.7 0.3l2.7 -0.3l-1.5 2.2M211.8 67l8.6 -3m-2.4 -0.2l2.4 0.2l-1.8 1.7M211.9 60.1l8.4 -1.8m-2.3 -0.5l2.3 0.5l-1.9 1.4M211.9 53.8l8.3 -1.8m-2.2 -0.5l2.2 0.5l-1.8 1.4M212 47.8l8.2 -2.3m-2.3 -0.4l2.3 0.4l-1.7 1.5M212.1 41.6l8 -2.7m-2.3 -0.3l2.3 0.3l-1.6 1.6M212.2 35l7.7 -2m-2.1 -0.4l2.1 0.4l-1.7 1.4M212.4 27.8l7.4 -0.1m-1.8 -0.8l1.8 0.8l-1.8 0.9M212.8 20.3l6.7 2.2m-1.4 -1.3l1.4 1.3l-1.9 0.2M213.2 13.2l5.8 3.9m-1 -1.6l1 1.6l-1.9 -0.3M213.6 6.4l5.1 4.8m-0.7 -1.8l0.7 1.8l-1.8 -0.6M217.3 127.1l9.2 -9.9m-2.5 1l2.5 -1l-0.8 2.6M217.3 120.8l9.1 -9.9m-2.5 1l2.5 -1l-0.8 2.6M217.3 114.5l9.1 -9.9m-2.5 1l2.5 -1l-0.8 2.6M217.3 108.2l9.1 -9.9m-2.5 1l2.5 -1l-0.8 2.6M217.3 101.9l9.1 -9.7m-2.5 1l2.5 -1l-0.8 2.6M217.4 95.4l9.1 -9.4m-2.5 1l2.5 -1l-0.9 2.6M217.4 88.6l9 -8.4m-2.6 0.8l2.6 -0.8l-1 2.5M217.4 81.5l8.9 -6.9m-2.6 0.6l2.6 -0.6l-1.2 2.4M217.5 74.5l8.8 -5.5m-2.7 0.3l2.7 -0.3l-1.5 2.3M217.5 68l8.8 -4.9m-2.7 0.2l2.7 -0.2l-1.6 2.2M217.5 61.9l8.7 -5.4m-2.7 0.3l2.7 -0.3l-1.5 2.3M217.6 56l8.6 -6.2m-2.7 0.5l2.7 -0.5l-1.3 2.4M217.7 49.9l8.4 -6.5m-2.6 0.6l2.6 -0.6l-1.2 2.4M217.8 43.2l8.3 -5.8m-2.7 0.5l2.7 -0.5l-1.3 2.3M217.8 36l8.2 -4m-2.5 0l2.5 0l-1.6 1.9M217.9 28.3l8.1 -1.2m-2.1 -0.6l2.1 0.6l-1.8 1.2M218.2 20.5l7.5 1.8m-1.6 -1.3l1.6 1.3l-2 0.4M218.6 13.2l6.5 3.8m-1.2 -1.7l1.2 1.7l-2 -0.2M219 6.3l5.8 4.9m-0.9 -1.9l0.9 1.9l-2 -0.5M223.1 127.2l9.2 -10m-2.5 1l2.5 -1l-0.8 2.6M223.1 120.9l9.2 -10m-2.5 1l2.5 -1l-0.8 2.6M223.1 114.6l9.2 -10m-2.5 1l2.5 -1l-0.8 2.6M223.1 108.3l9.2 -9.9m-2.5 1l2.5 -1l-0.8 2.6M223.1 101.9l9.2 -9.7m-2.5 1l2.5 -1l-0.9 2.6M223.1 95.3l9.1 -9.2m-2.5 0.9l2.5 -0.9l-0.9 2.5M223.2 88.6l9.1 -8.3m-2.6 0.8l2.6 -0.8l-1 2.5M223.2 81.9l9 -7.6m-2.6 0.7l2.6 -0.7l-1.1 2.4M223.2 75.5l9 -7.4m-2.6 0.7l2.6 -0.7l-1.2 2.4M223.2 69.4l8.9 -7.8m-2.6 0.7l2.6 -0.7l-1.1 2.5M223.2 63.4l8.9 -8.4m-2.6 0.8l2.6 -0.8l-1 2.5M223.3 57.2l8.8 -8.5m-2.6 0.9l2.6 -0.9l-1 2.5M223.3 50.6l8.7 -8m-2.6 0.8l2.6 -0.8l-1 2.5M223.4 43.7l8.6 -6.7m-2.6 0.6l2.6 -0.6l-1.2 2.4M223.4 36.2l8.6 -4.5m-2.6 0.1l2.6 -0.1l-1.6 2.1M223.4 28.4l8.5 -1.4m-2.2 -0.6l2.2 0.6l-1.9 1.3M223.7 20.5l7.9 1.7m-1.7 -1.3l1.7 1.3l-2.1 0.5M224.2 13.1l7 3.9m-1.3 -1.8l1.3 1.8l-2.2 -0.2M224.6 6.2l6.3 5.2m-0.9 -2l0.9 2l-2.1 -0.5M228.9 127.3l9.2 -10.1m-2.5 1l2.5 -1l-0.8 2.6M228.9 120.9l9.2 -10.1m-2.5 1l2.5 -1l-0.8 2.6M228.9 114.6l9.2 -10.1m-2.5 1l2.5 -1l-0.8 2.6M228.9 108.3l9.2 -9.9m-2.5 1l2.5 -1l-0.8 2.6M228.9 101.8l9.2 -9.7m-2.5 1l2.5 -1l-0.9 2.6M228.9 95.4l9.2 -9.3m-2.5 0.9l2.5 -0.9l-0.9 2.5M228.9 88.9l9.1 -9m-2.5 0.9l2.5 -0.9l-0.9 2.5M228.9 82.6l9.1 -9m-2.5 0.9l2.5 -0.9l-0.9 2.5M228.9 76.4l9.1 -9.2m-2.5 0.9l2.5 -0.9l-0.9 2.5M228.9 70.2l9.1 -9.5m-2.5 1l2.5 -1l-0.9 2.6M229 63.9l9.1 -9.5m-2.5 1l2.5 -1l-0.9 2.6M229 57.5l9 -9.2m-2.5 0.9l2.5 -0.9l-0.9 2.5M229 50.8l8.9 -8.4m-2.6 0.8l2.6 -0.8l-1 2.5M229.1 43.8l8.8 -6.9m-2.6 0.6l2.6 -0.6l-1.2 2.4M229.1 36.3l8.9 -4.6m-2.7 0.1l2.7 -0.1l-1.6 2.1M229.1 28.4l8.8 -1.4m-2.3 -0.7l2.3 0.7l-2 1.3M229.4 20.5l8.2 1.9m-1.8 -1.4l1.8 1.4l-2.2 0.5M229.9 13l7.3 4.1m-1.3 -1.8l1.3 1.8l-2.3 -0.2M230.2 6.1l6.5 5.4m-1 -2.1l1 2.1l-2.2 -0.6M234.7 127.3l9.2 -10.2m-2.5 1l2.5 -1l-0.8 2.6M234.7 121l9.2 -10.1m-2.5 1l2.5 -1l-0.8 2.6M234.7 114.6l9.2 -10.1m-2.5 1l2.5 -1l-0.8 2.6M234.7 108.3l9.2 -10m-2.5 1l2.5 -1l-0.8 2.6M234.7 101.9l9.2 -9.8m-2.5 1l2.5 -1l-0.8 2.6M234.7 95.6l9.2 -9.8m-2.5 1l2.5 -1l-0.8 2.6M234.7 89.3l9.2 -9.8m-2.5 1l2.5 -1l-0.8 2.6M234.7 83l9.2 -9.9m-2.5 1l2.5 -1l-0.8 2.6M234.7 76.8l9.2 -9.9m-2.5 1l2.5 -1l-0.8 2.6M234.7 70.4l9.2 -9.9m-2.5 1l2.5 -1l-0.8 2.6M234.7 64.1l9.1 -9.7m-2.5 1l2.5 -1l-0.8 2.6M234.8 57.6l9.1 -9.3m-2.5 1l2.5 -1l-0.9 2.5M234.8 50.9l9 -8.5m-2.6 0.9l2.6 -0.9l-1 2.5M234.8 43.8l9 -7m-2.6 0.6l2.6 -0.6l-1.2 2.4M234.8 36.3l9 -4.6m-2.7 0.1l2.7 -0.1l-1.7 2.1M234.8 28.4l9 -1.3m-2.3 -0.7l2.3 0.7l-2 1.3M235.1 20.4l8.4 2m-1.8 -1.4l1.8 1.4l-2.3 0.5M235.6 12.9l7.4 4.3m-1.3 -1.9l1.3 1.9l-2.3 -0.2M236 6l6.7 5.6m-1 -2.1l1 2.1l-2.3 -0.6M240.5 127.3l9.2 -10.2m-2.5 1l2.5 -1l-0.8 2.6M240.5 121l9.2 -10.1m-2.5 1l2.5 -1l-0.8 2.6M240.5 114.7l9.2 -10.1m-2.5 1l2.5 -1l-0.8 2.6M240.5 108.3l9.2 -10.1m-2.5 1l2.5 -1l-0.8 2.6M240.5 102l9.2 -10.1m-2.5 1l2.5 -1l-0.8 2.6M240.5 95.7l9.2 -10.1m-2.5 1l2.5 -1l-0.8 2.6M240.5 89.5l9.2 -10.1m-2.5 1l2.5 -1l-0.8 2.6M240.5 83.2l9.2 -10.1m-2.5 1l2.5 -1l-0.8 2.6M240.5 76.8l9.2 -10.1m-2.5 1l2.5 -1l-0.8 2.6M240.5 70.5l9.2 -10m-2.5 1l2.5 -1l-0.8 2.6M240.5 64.1l9.2 -9.8m-2.5 1l2.5 -1l-0.8 2.6M240.5 57.6l9.1 -9.4m-2.5 1l2.5 -1l-0.9 2.6M240.6 50.9l9.1 -8.6m-2.6 0.9l2.6 -0.9l-1 2.5M240.6 43.8l9.1 -7.1m-2.6 0.6l2.6 -0.6l-1.2 2.4M240.5 36.3l9.1 -4.6m-2.7 0.1l2.7 -0.1l-1.7 2.1M240.6 28.3l9.1 -1.2m-2.4 -0.7l2.4 0.7l-2.1 1.3M240.9 20.3l8.4 2.2m-1.8 -1.5l1.8 1.5l-2.3 0.4M241.4 12.9l7.5 4.4m-1.3 -1.9l1.3 1.9l-2.3 -0.2M241.7 5.9l6.8 5.7m-1 -2.2l1 2.2l-2.3 -0.6M246.3 127.3l9.2 -10.2m-2.5 1l2.5 -1l-0.8 2.6M246.3 121l9.2 -10.2m-2.5 1l2.5 -1l-0.8 2.6M246.3 114.7l9.2 -10.2m-2.5 1l2.5 -1l-0.8 2.6M246.3 108.4l9.2 -10.2m-2.5 1l2.5 -1l-0.8 2.6M246.3 102.1l9.2 -10.2m-2.5 1l2.5 -1l-0.8 2.6M246.3 95.8l9.2 -10.2m-2.5 1l2.5 -1l-0.8 2.6M246.3 89.5l9.2 -10.2m-2.5 1l2.5 -1l-0.8 2.6M246.3 83.2l9.2 -10.2m-2.5 1l2.5 -1l-0.8 2.6M246.3 76.9l9.2 -10.1m-2.5 1l2.5 -1l-0.8 2.6M246.3 70.5l9.2 -10m-2.5 1l2.5 -1l-0.8 2.6M246.3 64.1l9.2 -9.8m-2.5 1l2.5 -1l-0.8 2.6M246.3 57.6l9.1 -9.4m-2.5 1l2.5 -1l-0.9 2.6M246.4 50.9l9.1 -8.6m-2.6 0.9l2.6 -0.9l-1 2.5M246.3 43.8l9.1 -7.1m-2.6 0.6l2.6 -0.6l-1.2 2.4M246.3 36.3l9.2 -4.6m-2.7 0.1l2.7 -0.1l-1.7 2.1M246.3 28.3l9.1 -1.1m-2.4 -0.8l2.4 0.8l-2.1 1.3M246.7 20.3l8.5 2.3m-1.8 -1.5l1.8 1.5l-2.3 0.4M247.1 12.8l7.5 4.5m-1.3 -2l1.3 2l-2.4 -0.2M247.5 5.9l6.8 5.8m-1 -2.2l1 2.2l-2.3 -0.6M252.1 127.3l9.2 -10.2m-2.5 1.1l2.5 -1.1l-0.8 2.6M252.1 121l9.2 -10.2m-2.5 1.1l2.5 -1.1l-0.8 2.6M252.1 114.7l9.2 -10.2m-2.5 1.1l2.5 -1.1l-0.8 2.6M252.1 108.4l9.2 -10.2m-2.5 1.1l2.5 -1.1l-0.8 2.6M252.1 102.1l9.2 -10.2m-2.5 1.1l2.5 -1.1l-0.8 2.6M252.1 95.8l9.2 -10.2m-2.5 1.1l2.5 -1.1l-0.8 2.6M252.1 89.5l9.2 -10.2m-2.5 1l2.5 -1l-0.8 2.6M252.1 83.2l9.2 -10.2m-2.5 1l2.5 -1l-0.8 2.6M252.1 76.9l9.2 -10.1m-2.5 1l2.5 -1l-0.8 2.6M252.1 70.5l9.2 -10m-2.5 1l2.5 -1l-0.8 2.6M252.1 64.1l9.2 -9.8m-2.5 1l2.5 -1l-0.8 2.6M252.1 57.6l9.1 -9.4m-2.5 1l2.5 -1l-0.9 2.6M252.1 50.9l9.1 -8.6m-2.6 0.9l2.6 -0.9l-1 2.5M252.1 43.8l9.1 -7.1m-2.6 0.6l2.6 -0.6l-1.2 2.4M252.1 36.3l9.2 -4.5m-2.7 0.1l2.7 -0.1l-1.7 2.1M252.1 28.2l9.2 -1.1m-2.4 -0.8l2.4 0.8l-2.1 1.3M252.4 20.2l8.5 2.3m-1.8 -1.5l1.8 1.5l-2.3 0.4M252.9 12.8l7.6 4.6m-1.3 -2l1.3 2l-2.4 -0.3M253.3 5.9l6.9 5.9m-1 -2.2l1 2.2l-2.4 -0.6M257.9 127.3l9.2 -10.2m-2.5 1.1l2.5 -1.1l-0.8 2.6M257.9 121l9.2 -10.2m-2.5 1.1l2.5 -1.1l-0.8 2.6M257.9 114.7l9.2 -10.2m-2.5 1.1l2.5 -1.1l-0.8 2.6M257.9 108.4l9.2 -10.2m-2.5 1.1l2.5 -1.1l-0.8 2.6M257.9 102.1l9.2 -10.2m-2.5 1.1l2.5 -1.1l-0.8 2.6M257.9 95.8l9.2 -10.2m-2.5 1.1l2.5 -1.1l-0.8 2.6M257.9 89.5l9.2 -10.2m-2.5 1l2.5 -1l-0.8 2.6M257.9 83.2l9.2 -10.2m-2.5 1l2.5 -1l-0.8 2.6M257.9 76.9l9.2 -10.1m-2.5 1l2.5 -1l-0.8 2.6M257.9 70.5l9.2 -10m-2.5 1l2.5 -1l-0.8 2.6M257.9 64.1l9.2 -9.9m-2.5 1l2.5 -1l-0.8 2.6M257.9 57.6l9.2 -9.5m-2.5 1l2.5 -1l-0.9 2.6M257.9 50.9l9.1 -8.6m-2.6 0.9l2.6 -0.9l-1 2.5M257.9 43.8l9.2 -7.1m-2.6 0.6l2.6 -0.6l-1.2 2.4M257.9 36.3l9.3 -4.5m-2.7 0l2.7 0l-1.7 2.1M257.9 28.2l9.2 -1m-2.4 -0.8l2.4 0.8l-2.1 1.3M258.2 20.2l8.5 2.4m-1.8 -1.6l1.8 1.6l-2.4 0.4M258.7 12.8l7.6 4.6m-1.3 -2l1.3 2l-2.4 -0.3M259 5.9l6.9 5.9m-1 -2.2l1 2.2l-2.4 -0.7M263.7 127.3l9.2 -10.2m-2.5 1.1l2.5 -1.1l-0.8 2.6M263.7 121l9.2 -10.2m-2.5 1.1l2.5 -1.1l-0.8 2.6M263.7 114.7l9.2 -10.2m-2.5 1.1l2.5 -1.1l-0.8 2.6M263.7 108.4l9.2 -10.2m-2.5 1.1l2.5 -1.1l-0.8 2.6M263.7 102.1l9.2 -10.2m-2.5 1.1l2.5 -1.1l-0.8 2.6M263.7 95.8l9.2 -10.2m-2.5 1l2.5 -1l-0.8 2.6M263.7 89.5l9.2 -10.2m-2.5 1l2.5 -1l-0.8 2.6M263.7 83.2l9.2 -10.2m-2.5 1l2.5 -1l-0.8 2.6M263.7 76.9l9.2 -10.1m-2.5 1l2.5 -1l-0.8 2.6M263.7 70.5l9.2 -10m-2.5 1l2.5 -1l-0.8 2.6M263.7 64.1l9.2 -9.9m-2.5 1l2.5 -1l-0.8 2.6M263.7 57.6l9.2 -9.5m-2.5 1l2.5 -1l-0.9 2.6M263.7 50.9l9.2 -8.6m-2.6 0.8l2.6 -0.8l-1 2.5M263.7 43.8l9.2 -7.1m-2.6 0.6l2.6 -0.6l-1.2 2.4M263.7 36.3l9.3 -4.5m-2.7 0l2.7 0l-1.7 2.1M263.7 28.2l9.2 -1m-2.4 -0.8l2.4 0.8l-2.1 1.3M264 20.2l8.6 2.4m-1.8 -1.6l1.8 1.6l-2.4 0.4M264.5 12.8l7.6 4.7m-1.3 -2l1.3 2l-2.4 -0.3M264.8 5.8l6.9 5.9m-1 -2.2l1 2.2l-2.4 -0.7M269.5 127.3l9.2 -10.2m-2.5 1l2.5 -1l-0.8 2.6M269.5 121l9.2 -10.2m-2.5 1l2.5 -1l-0.8 2.6M269.5 114.7l9.2 -10.2m-2.5 1l2.5 -1l-0.8 2.6M269.5 108.4l9.2 -10.2m-2.5 1l2.5 -1l-0.8 2.6M269.5 102.1l9.2 -10.2m-2.5 1l2.5 -1l-0.8 2.6M269.5 95.8l9.2 -10.2m-2.5 1l2.5 -1l-0.8 2.6M269.5 89.5l9.2 -10.2m-2.5 1l2.5 -1l-0.8 2.6M269.5 83.2l9.2 -10.2m-2.5 1l2.5 -1l-0.8 2.6M269.5 76.9l9.2 -10.1m-2.5 1l2.5 -1l-0.8 2.6M269.5 70.5l9.2 -10m-2.5 1l2.5 -1l-0.8 2.6M269.5 64.1l9.2 -9.9m-2.5 1l2.5 -1l-0.8 2.6M269.5 57.6l9.2 -9.5m-2.5 1l2.5 -1l-0.9 2.5M269.5 50.9l9.2 -8.6m-2.6 0.8l2.6 -0.8l-1 2.5M269.5 43.8l9.2 -7.1m-2.6 0.6l2.6 -0.6l-1.2 2.4M269.4 36.2l9.3 -4.5m-2.7 0l2.7 0l-1.7 2.1M269.5 28.2l9.3 -1m-2.4 -0.8l2.4 0.8l-2.2 1.3M269.8 20.2l8.6 2.4m-1.8 -1.6l1.8 1.6l-2.4 0.4M270.3 12.8l7.6 4.7m-1.3 -2l1.3 2l-2.4 -0.3M270.6 5.8l7 5.9m-1 -2.2l1 2.2l-2.4 -0.7M275.3 127.3l9.3 -10.2m-2.5 1l2.5 -1l-0.8 2.6M275.3 121l9.3 -10.2m-2.5 1l2.5 -1l-0.8 2.6M275.3 114.7l9.3 -10.2m-2.5 1l2.5 -1l-0.8 2.6M275.3 108.4l9.3 -10.2m-2.5 1l2.5 -1l-0.8 2.6M275.3 102.1l9.3 -10.2m-2.5 1l2.5 -1l-0.8 2.6M275.3 95.8l9.3 -10.2m-2.5 1l2.5 -1l-0.8 2.6M275.3 89.5l9.3 -10.2m-2.5 1l2.5 -1l-0.8 2.6M275.3 83.2l9.3 -10.2m-2.5 1l2.5 -1l-0.8 2.6M275.3 76.9l9.3 -10.1m-2.5 1l2.5 -1l-0.8 2.6M275.3 70.5l9.2 -10m-2.5 1l2.5 -1l-0.8 2.6M275.3 64.1l9.2 -9.8m-2.5 1l2.5 -1l-0.8 2.6M275.3 57.6l9.2 -9.4m-2.5 1l2.5 -1l-0.9 2.5M275.3 50.9l9.2 -8.6m-2.6 0.8l2.6 -0.8l-1 2.5M275.3 43.8l9.2 -7.1m-2.6 0.6l2.6 -0.6l-1.3 2.4M275.2 36.2l9.3 -4.5m-2.7 0l2.7 0l-1.7 2.1M275.3 28.2l9.3 -0.9m-2.4 -0.8l2.4 0.8l-2.2 1.3M275.6 20.2l8.6 2.5m-1.8 -1.6l1.8 1.6l-2.4 0.4M276.1 12.7l7.7 4.7m-1.3 -2l1.3 2l-2.4 -0.3M276.4 5.8l7 5.9m-1 -2.3l1 2.3l-2.4 -0.7"/><path fill="none" stroke="#5070ff" stroke-opacity="0.35" stroke-width="0.8" d="M0 118.8H279.2M0 105H279.2M0 91.3H279.2M0 77.5H279.2M0 63.7H279.2M0 49.9H279.2M0 36.1H279.2M0 22.3H279.2M0 8.6H279.2"/>
<path fill="none" stroke="#b8b8b8" stroke-opacity="0.75" stroke-width="0.6" stroke-dasharray="1 2" d="M34.9 0V125.3M69.8 0V125.3M104.7 0V125.3M139.6 0V125.3M174.5 0V125.3M209.4 0V125.3M244.3 0V125.3M0 112.8H279.2M0 100.2H279.2M0 87.7H279.2M0 75.2H279.2M0 62.6H279.2M0 50.1H279.2M0 37.6H279.2M0 25.1H279.2M0 12.5H279.2"/>
<path fill="none" stroke="#111" stroke-width="0.8" stroke-linejoin="round" d="M35.9 0L34.2 3.3L29.7 7.1L24.4 9.2L19.5 15.9L14.7 25.1L10.5 36.8L12.6 44.7L12.6 56.4L9.1 63.9L11.5 71L11.5 73.9L16.8 79.4L21.6 85.2L24.1 90.6L29.7 96.5L37.7 103.6L43.3 106.9L52.3 104L59.3 104L62.8 105.3L69.8 101.5L75 99.4L82 98.6L85.9 99.8L88.6 103.6L90.7 107.3L94.9 106.9L99.5 106.1L103 109L104 112.8L104 116.9L103 121.1L102.3 125.3M10.8 6.7L13.3 7.5M14.7 7.9L16.4 8.8M20.2 5.8L22.3 3.8M183.2 0L183.9 3.3L187.1 8.8L189.5 14.6L193 23.8L194.7 29.2L198.9 36.8L200 44.7L204.2 50.1L207.3 60.1L212.9 64.3L218.1 70.2L220.6 73.1L220.6 76.9L225.1 81.4L232.1 80.2L240.1 78.1L248.5 75.6L248.1 81.4L246.4 87.7L242.6 96.1L239.1 104.4L233.8 111.9L228.9 116.1L222.3 122.4L218.8 125.3M183.6 0L185.7 5.8L189.2 9.6L191.6 2.5M191.9 2.5L191.9 7.9L197.5 17.1L200.3 24.2L205.9 32.6L207.3 39.3L212.9 47.6L218.1 56.4L219.9 66L221.6 72.3L226.8 71.8L237.3 66.8L244.3 62.6L252 56.8L258.3 54.3L263.5 50.1L270.5 45.9L274 39.7L278.5 31.3L274.3 26.7L268.7 25.1L266.3 20.9L266.6 15.5L262.4 19.2L258.3 24.2L251.3 25.1L249.5 20.9L249.5 16.7L247.4 20.9L245 16.7L244.3 12.5L240.1 8.4L237.3 2.1L239.1 0M243.6 0L247.1 4.6L253 10.4L260 13.8L266.3 12.1L270.5 18L279.2 19.6"/>
<rect x="0" y="0" width="279.2" height="125.3" fill="none" stroke="#000" stroke-width="1"/>
</g>
<g filter="url(#gs)"><path d="M372 148.8h-3" stroke="#000" stroke-width="1"/>
<text transform="translate(357.25 152.10) scale(0.727 1)" font-size="9" font-weight="bold" fill="#000">EQ</text>
<path d="M372 136.27h-3" stroke="#000" stroke-width="1"/>
<text transform="translate(358.34 139.57) scale(0.727 1)" font-size="9" font-weight="bold" fill="#000">3N</text>
<path d="M372 123.74h-3" stroke="#000" stroke-width="1"/>
<text transform="translate(358.34 127.04) scale(0.727 1)" font-size="9" font-weight="bold" fill="#000">6N</text>
<path d="M372 111.21h-3" stroke="#000" stroke-width="1"/>
<text transform="translate(358.34 114.51) scale(0.727 1)" font-size="9" font-weight="bold" fill="#000">9N</text>
<path d="M372 98.68h-3" stroke="#000" stroke-width="1"/>
<text transform="translate(354.70 101.98) scale(0.727 1)" font-size="9" font-weight="bold" fill="#000">12N</text>
<path d="M372 86.15h-3" stroke="#000" stroke-width="1"/>
<text transform="translate(354.70 89.45) scale(0.727 1)" font-size="9" font-weight="bold" fill="#000">15N</text>
<path d="M372 73.62h-3" stroke="#000" stroke-width="1"/>
<text transform="translate(354.70 76.92) scale(0.727 1)" font-size="9" font-weight="bold" fill="#000">18N</text>
<path d="M372 61.09h-3" stroke="#000" stroke-width="1"/>
<text transform="translate(354.70 64.39) scale(0.727 1)" font-size="9" font-weight="bold" fill="#000">21N</text>
<path d="M372 48.56h-3" stroke="#000" stroke-width="1"/>
<text transform="translate(354.70 51.86) scale(0.727 1)" font-size="9" font-weight="bold" fill="#000">24N</text>
<path d="M372 36.03h-3" stroke="#000" stroke-width="1"/>
<text transform="translate(354.70 39.33) scale(0.727 1)" font-size="9" font-weight="bold" fill="#000">27N</text>
<path d="M372 23.5h-3" stroke="#000" stroke-width="1"/>
<text transform="translate(354.70 26.80) scale(0.727 1)" font-size="9" font-weight="bold" fill="#000">30N</text>
<path d="M372 148.8v2.8" stroke="#000" stroke-width="1"/>
<text transform="translate(365.20 158.90) scale(0.735 1)" font-size="9" font-weight="bold" fill="#000">20W</text>
<path d="M406.9 148.8v2.8" stroke="#000" stroke-width="1"/>
<text transform="translate(400.10 158.90) scale(0.735 1)" font-size="9" font-weight="bold" fill="#000">10W</text>
<path d="M441.8 148.8v2.8" stroke="#000" stroke-width="1"/>
<text transform="translate(439.96 158.90) scale(0.735 1)" font-size="9" font-weight="bold" fill="#000">0</text>
<path d="M476.7 148.8v2.8" stroke="#000" stroke-width="1"/>
<text transform="translate(470.82 158.90) scale(0.735 1)" font-size="9" font-weight="bold" fill="#000">10E</text>
<path d="M511.6 148.8v2.8" stroke="#000" stroke-width="1"/>
<text transform="translate(505.72 158.90) scale(0.735 1)" font-size="9" font-weight="bold" fill="#000">20E</text>
<path d="M546.5 148.8v2.8" stroke="#000" stroke-width="1"/>
<text transform="translate(540.62 158.90) scale(0.735 1)" font-size="9" font-weight="bold" fill="#000">30E</text>
<path d="M581.4 148.8v2.8" stroke="#000" stroke-width="1"/>
<text transform="translate(575.52 158.90) scale(0.735 1)" font-size="9" font-weight="bold" fill="#000">40E</text>
<path d="M616.3 148.8v2.8" stroke="#000" stroke-width="1"/>
<text transform="translate(610.42 158.90) scale(0.735 1)" font-size="9" font-weight="bold" fill="#000">50E</text>
<path d="M651.2 148.8v2.8" stroke="#000" stroke-width="1"/>
<text transform="translate(645.32 158.90) scale(0.735 1)" font-size="9" font-weight="bold" fill="#000">60E</text>
<text transform="translate(414.10 17.70) scale(1.074 1)" font-size="11" font-weight="normal" fill="#333">201303</text>
<text transform="translate(483.20 17.70) scale(1.052 1)" font-size="11" font-weight="normal" fill="#333">10m</text>
<text transform="translate(512.30 17.70) scale(0.894 1)" font-size="11" font-weight="normal" fill="#333">Wind</text>
<text transform="translate(541.00 17.70) scale(0.984 1)" font-size="11" font-weight="normal" fill="#333">Speed</text>
<text transform="translate(588.80 17.70) scale(0.982 1)" font-size="11" font-weight="normal" fill="#333">MJJ</text></g>
<path d="M419.1 187.6L393.2 190.6L419.1 193.5Z" fill="#a000c8" stroke="#111" stroke-width="0.8" stroke-linejoin="miter"/>
<path d="M603.4 187.6L630.9 190.6L603.4 193.5Z" fill="#f00082" stroke="#111" stroke-width="0.8" stroke-linejoin="miter"/>
<rect x="419.1" y="187.6" width="26.3" height="5.9" fill="#8200dc" stroke="#111" stroke-width="0.8"/>
<rect x="445.4" y="187.6" width="26.3" height="5.9" fill="#00a0ff" stroke="#111" stroke-width="0.8"/>
<rect x="471.8" y="187.6" width="26.3" height="5.9" fill="#00c8c8" stroke="#111" stroke-width="0.8"/>
<rect x="498.1" y="187.6" width="26.3" height="5.9" fill="#00dc00" stroke="#111" stroke-width="0.8"/>
<rect x="524.4" y="187.6" width="26.3" height="5.9" fill="#e6dc32" stroke="#111" stroke-width="0.8"/>
<rect x="550.7" y="187.6" width="26.3" height="5.9" fill="#e6af2d" stroke="#111" stroke-width="0.8"/>
<rect x="577.1" y="187.6" width="26.3" height="5.9" fill="#fa3c3c" stroke="#111" stroke-width="0.8"/>
<g filter="url(#gs)">
<text transform="translate(415.59 199.80) scale(1.000 1)" font-size="6.5" font-weight="bold" fill="#1a1a1a">−2</text>
<text transform="translate(441.92 199.80) scale(1.000 1)" font-size="6.5" font-weight="bold" fill="#1a1a1a">−1</text>
<text transform="translate(470.15 199.80) scale(1.000 1)" font-size="6.5" font-weight="bold" fill="#1a1a1a">0</text>
<text transform="translate(496.48 199.80) scale(1.000 1)" font-size="6.5" font-weight="bold" fill="#1a1a1a">1</text>
<text transform="translate(522.81 199.80) scale(1.000 1)" font-size="6.5" font-weight="bold" fill="#1a1a1a">2</text>
<text transform="translate(549.14 199.80) scale(1.000 1)" font-size="6.5" font-weight="bold" fill="#1a1a1a">3</text>
<text transform="translate(575.46 199.80) scale(1.000 1)" font-size="6.5" font-weight="bold" fill="#1a1a1a">4</text>
<text transform="translate(601.79 199.80) scale(1.000 1)" font-size="6.5" font-weight="bold" fill="#1a1a1a">5</text>
</g>
<g transform="translate(27.5,302.6)">
<rect x="0" y="0" width="279.2" height="125.3" fill="#a000c8"/>
<path fill="#8200dc" fill-rule="evenodd" d="M0 125.3L279.2 125.3L279.2 0L0 0L0 125.3ZM221.6 17.2L219.9 16.3L218.1 14.5L217.3 12.5L217.2 10.4L218.1 7.9L219.9 5.9L221.6 4.9L223.4 4.4L225.1 4.2L226.8 4.7L228.9 6.3L229.9 8.4L230.1 10.4L229.8 12.5L228.6 14.9L226.7 16.7L225.1 17.3L223.4 17.5L221.6 17.2Z"/>
<path fill="#1e3cff" fill-rule="evenodd" d="M0 125.3L279.2 125.3L279.2 0L178.5 0L176.2 0.9L174.5 0.9L171 0L0 0L0 125.3ZM41.9 44L38.4 43.6L36.6 43.1L34.6 41.8L33.9 39.7L34.2 37.6L35.4 35.5L38.4 32.7L41.9 30.6L43.6 30.1L54.1 28.6L57.9 29.2L66.7 33.4L70.3 35.5L72.3 37.6L70.8 39.7L62.8 42L45.4 44L41.9 44ZM134.4 50.2L125.6 47.7L122.1 46.4L118.7 45.8L108.2 45.9L104.7 45.2L101.2 43.8L97.7 41.7L95.6 39.7L96.6 37.6L103 36.2L109.9 36.3L117.5 37.6L120.4 38.9L123.9 39.5L136.1 39.3L153.6 43.5L171 44.9L172.8 45.3L173.9 45.9L172.6 48L168.9 50.1L158.8 51.9L134.4 50.2ZM207.7 59.2L205.9 58.2L200.7 53L197 50.1L194.8 48L193.7 46.5L193 45.9L191.9 44.6L188.5 43.1L182.9 41.8L184.3 39.7L186.7 39.3L188.8 39.7L191.9 41.4L204.2 44.4L207.7 46.1L209.8 48L211.1 50.3L211.7 52.2L212 54.3L211.8 56.4L211 58.5L209.4 59.4L207.7 59.2ZM219.9 21.4L216.4 20L214.5 18.8L212.4 16.7L211.1 14.3L210.7 12.5L210.6 10.4L211.2 8.4L212.9 5.7L214.6 4L218.1 1.9L221.6 0.8L225.1 0.4L228.6 1L230.8 2.1L232.9 4.2L234 6.3L234.4 8.4L234.5 10.4L233.6 14.6L232.1 17.4L230.3 19.3L226.9 21.2L223.4 21.8L219.9 21.4ZM50.6 12.1L49.2 10.4L50.6 6.5L52.3 5.5L52.7 6.3L52.4 9.1L50.6 12.1Z"/>
<path fill="#00c8c8" fill-rule="evenodd" d="M95.9 123.2L96.4 125.3L167.1 125.3L169.3 123.6L176.2 121L179.1 119L180.5 116.9L181 114.9L181.9 104.4L182.4 102.3L183.4 100.2L185 98.2L188.5 95.6L191.9 94.4L195.4 94L200.7 94.6L205.9 96.1L209.4 98.2L210.9 100.2L211.1 102.3L210.3 104.4L202.1 114.9L199.5 119L198.5 121.1L197.9 123.2L198 125.3L279.2 125.3L279.2 0L233.4 0L235.8 2.1L237.3 5L238.1 8.4L238.1 12.5L237.1 16.7L235.6 19.7L233.8 21.7L232.1 23.1L228.6 24.7L225.1 25.4L219.9 25.4L212.9 24.1L209.4 22.8L206.5 20.9L205.1 18.8L204.2 16.4L203.3 10.4L203.3 8.4L204.2 6L206 4.2L214.3 0L188.9 0L187.9 2.1L183.8 8.4L182.2 12.5L181.8 16.7L182.3 20.9L184.1 25.1L186.7 27.9L190.2 30L195.4 32.3L197.2 33.5L202.4 38.3L209.4 43L212 45.9L213.3 48L214.9 52.2L216.2 58.5L216.3 60.6L215.6 62.6L214.6 63.6L212.4 64.7L209.4 65L207.7 64.7L205.9 63.8L204.2 62.1L202.1 58.5L200.5 56.4L197.2 53.9L190.2 51.5L186.7 51L181.5 51.3L162.3 54.3L97.7 50.9L83.8 47.7L41.9 48.4L36.6 47.8L34.9 47.4L33.2 46.6L31.4 44.7L30.6 41.8L30.7 39.7L31.4 37.4L34.9 32.6L40.8 27.1L42.6 25.1L44.3 20.9L45.6 10.4L47.6 4.2L49 2.1L51.1 0L0 0L0 39.7L1.2 43.9L1.3 45.9L1 48L0 50.4L0 82.5L3.5 82.4L12.2 85L22.7 90.4L29.7 92.3L34.9 92.6L36.6 92.4L38.4 91.8L40.1 90.8L43.6 87.3L47.1 85.3L50.6 84.5L54.1 84.7L56.7 85.6L59.4 87.7L60.7 89.8L61.4 91.9L61.7 94L61.1 95.2L48.9 96.7L47.1 97.3L45.9 98.2L45.2 100.2L45.9 102.3L47.9 104.4L50.6 105.6L52.3 105.9L54.1 105.9L55.8 105.5L58.3 104.4L60.4 102.3L61.5 100.2L62.3 96.1L62.8 95.7L72 94L75 92.7L82 87L84.1 85.6L89 83.9L96 83.2L101.2 83.7L104.7 84.7L106.8 85.6L109.9 88L115.2 93.2L118.7 95.3L123.9 96.6L154 96.1L157 96.6L160.8 98.2L163.3 100.2L164.7 102.3L165.3 104.4L165.5 108.6L164.7 112.8L163.9 114.9L162.3 117.4L160.5 118.6L158.8 119.3L153.6 119.9L148.3 119.5L144.8 118.5L141.3 116.7L130.9 109.6L122.1 106L111.7 103.8L103 103.7L99 104.4L96 105.9L95.3 106.5L94.2 108.9L94.1 110.7L95.9 123.2ZM247.8 47.2L246 45.5L244.7 41.8L244.5 39.7L244.6 37.6L245.2 35.5L246.2 33.4L247.8 31.1L249.5 29.2L253 26.8L254.8 26.2L256.5 25.9L258.3 26.2L260 27.1L260.7 29.2L260.4 31.3L253 45L251.3 46.8L249.5 47.6L247.8 47.2ZM153.6 37.6L157 38.4L160.5 38.3L163.3 37.6L164.6 35.5L162.3 33.3L158.8 32.4L155.3 32.5L152.9 33.4L151.7 35.5L153.6 37.6ZM82.5 31.3L104.7 31L120.4 32.8L125.6 32.4L129.1 31.2L131.9 29.2L136.8 23L139.6 20.9L144.8 19.2L155.3 17.5L160.5 15.6L164.9 12.5L166.5 10.4L167.1 8.4L167.1 6.3L165.8 3.8L164 2L160.4 0L130.1 0L125.6 2.3L123.9 2.9L122.1 3.2L120.4 3L118.4 2.1L116.4 0L58.4 0L60 4.2L60.4 6.3L59.7 16.7L60.1 18.8L61.1 20.9L62.8 23.2L64.9 25.1L69.8 27.9L78.5 30.6L82.5 31.3Z"/>
<path fill="#00d28c" fill-rule="evenodd" d="M221 123.2L225.1 123.2L226.7 121.1L226.3 116.9L225.1 115.8L223.4 115.4L219.9 115.5L215.3 116.9L213.2 119L213.5 121.1L216.4 122.4L221 123.2ZM226.8 125.3L279.2 125.3L279.2 0L238.2 0L239.8 2.1L241.3 6.3L242.1 12.5L241.8 20.9L241.2 25.1L242.6 26.7L253 22.5L256.5 21.9L260 21.9L264.4 23L268.8 25.1L271.1 27.1L270.9 29.2L265.2 34.4L262.8 37.6L261.7 39.7L260.4 43.9L259.2 50.1L258.3 52.3L256.5 54.6L253 56.9L249.5 57.7L247.8 57.7L246 57L244.3 55.1L240.4 39.7L239.8 33.4L239.9 29.2L239.1 28.4L212.9 30.1L211.1 30.5L209.1 31.3L207.8 33.4L208.1 35.5L209.4 37.6L212.9 41.8L215.2 45.9L220 58.5L221.7 62.6L221.6 64.7L219.9 66.9L214.6 69.2L209.4 70L205.9 69.7L203.9 68.9L202.4 67.7L201.1 64.7L200.1 60.6L198.9 58.2L196.6 56.4L186.7 54.5L158.8 56.6L71.5 55.8L66.3 56.5L62 58.5L57.6 62.7L36.6 69.7L31.4 70.6L27.9 70.4L26.2 69.8L25.4 68.9L24.7 66.8L24.8 64.7L25.5 62.6L29.5 56.4L29.7 54.1L27.9 45.9L28.1 39.7L28.7 37.6L29.9 35.5L39.4 25.1L40.6 23L41.9 18.5L43.6 5.4L45.4 1.5L46.5 0L0 0L0 20.8L1.7 17.8L3.5 16.5L5.2 16.2L7.4 16.7L8.7 17.7L9.6 18.8L10.2 20.9L9.8 23L7.7 25.1L3.4 27.1L1.6 29.2L1.2 31.3L1.7 35.8L5.3 48L7.5 54.3L7.5 56.4L6.7 58.5L4.3 62.7L3.8 64.7L4.3 66.8L5.9 68.9L11.2 73.1L14 74.1L20.9 73.8L22.7 74.1L26.2 76.2L27.9 77.5L31.4 78.9L33.2 79.2L48.9 77.3L57.6 77.7L69.8 81.1L73.3 80.9L85.5 78.2L104.7 78L113.4 79.5L118.7 81.8L123.9 85.8L127.7 87.7L134.4 88.8L160.5 87.8L169.3 88.6L172.8 88.3L174.5 87.7L176.7 85.6L178.2 83.5L180.2 81.4L183.2 80L186.8 79.4L188.5 79.5L190.2 80.1L198 85.6L218.9 91.9L222.1 94L223.8 96.1L225.3 100.2L226.8 112.8L227.5 114.9L228.6 115.6L232.1 117L235.2 119L234.3 121.1L226.9 123.2L226.8 125.3ZM115.8 121.1L118.7 121.6L121.6 121.1L121.5 119L118.7 118.2L116.9 118.2L114.8 119L115.8 121.1ZM190.1 25.1L191.9 25.9L193.7 26.1L195.4 25.9L197.2 25L198.9 22.8L199.6 20.9L200 16.7L199.5 12.5L197.9 8.4L197.2 7.3L195.4 5.8L193.7 5.3L191.9 5.5L190.2 6.5L188.2 8.4L186.7 10.9L186.1 12.5L185.7 14.6L185.6 16.7L185.9 18.8L186.7 21.1L188.5 23.8L190.1 25.1ZM78.2 23L83.8 23.9L103 22.3L115.2 24.6L116.9 24.7L118.7 24.6L120.4 23.9L121.8 23L122.6 20.9L122 18.8L118.7 16.6L111.7 14L108.2 12L101.9 6.3L100.6 4.2L100.2 2.1L100.7 0L77.5 0L79.6 2.1L80.4 4.2L79.4 6.3L75 10.4L73.3 12.9L72.6 14.6L72.3 16.7L72.8 18.8L74.3 20.9L78.2 23ZM141.6 10.4L146.6 11.3L151.8 10.9L153.8 10.4L155.3 9.6L157 8.2L157.7 6.3L156.8 4.2L153.6 2.5L151.8 2L146.6 1.8L144.3 2.1L141.3 3.3L140 4.2L138.7 6.3L138.9 8.4L139.6 9.2L141.6 10.4Z"/>
<path fill="#a0e632" fill-rule="evenodd" d="M259.2 106.5L268.7 107.5L274 107.1L277.5 106L279.2 105.1L279.2 57.4L274 51.9L272.2 50.5L270.5 50.7L268.7 52.5L264.2 58.5L261.8 60.6L258.2 62.6L249.5 65.4L240.8 66.5L237.3 66.1L235.7 64.7L237.9 60.6L239.2 56.4L239.6 52.2L238.8 45.9L237.3 41.3L235.6 38.4L233.8 36.7L230.3 35.3L225.1 34.8L221.6 35.1L219.9 35.5L218.1 36.6L217.3 37.6L217 39.7L219.4 50.1L221.6 55.3L225.1 59.8L230.3 64.6L230.8 64.7L232.1 66.8L230.3 68.9L225.1 72.1L216.2 75.2L212 77.3L211.8 79.4L214.6 80.8L226.8 83L233 85.6L235.9 87.7L237.8 89.8L242.6 98.3L244.3 100.2L247.8 102.7L254.8 105.4L259.2 106.5ZM97.5 68.9L103 70L171 68L185 68.9L188.5 68.5L191.9 67.4L193.7 66.3L195.4 64.2L196 62.6L195.8 60.6L195.4 60.2L193.7 59.5L185 58.1L179.2 58.5L171 60.4L162.3 60.9L120.4 57.1L104.7 58.1L102.5 58.5L97.7 60.7L95.7 62.6L94.3 64.7L94.4 66.8L96 68.1L97.5 68.9ZM22 48L22.7 48.2L22.7 47.7L22 48ZM9.4 41.8L10.5 42.1L12.2 41.5L13.6 39.7L13.9 37.6L13.1 35.5L12.2 34.7L10.5 34.2L8.7 34.5L7.4 35.5L6.7 37.6L7.3 39.7L8.7 41.5L9.4 41.8ZM25.4 31.3L26.2 32.8L27.9 33.2L29.7 32.2L35.1 27.1L36.8 25.1L39 20.9L39.9 16.7L40.1 8.2L39.8 4.2L40.4 2.1L42.1 0L36.4 0L37.5 2.1L36.5 4.2L29.7 10.8L25.2 14.6L24 16.7L23.4 18.8L23.4 23L25.4 31.3ZM189.7 20.9L190.2 21.4L191.9 22.4L193.7 22.5L195.4 21.6L196 20.9L197.2 18.5L197.5 16.7L197.2 13.7L196.8 12.5L195.4 10.2L193.7 9.2L191.9 9.2L190 10.4L188.5 13.1L188.1 14.6L188 16.7L188.5 18.8L189.7 20.9ZM263.4 18.8L279.2 20.2L279.2 0L242.7 0L244.3 4.2L246.7 12.5L247.8 14.9L249.5 16.9L251.3 17.7L263.4 18.8Z"/>
<path fill="#e6dc32" fill-rule="evenodd" d="M261.6 83.5L267 83.5L270.5 82.5L272.4 81.4L274.2 79.4L275 77.3L275.3 75.2L275.3 73.1L274.5 71L274 70.5L272.2 69.8L268.7 69.7L261.8 71.1L254.8 73.3L251.2 75.2L249.9 77.3L250.9 79.4L254.8 81.8L260 83.3L261.6 83.5ZM228.3 58.5L230.3 59.5L232.1 59.7L233.8 59.1L235.6 57.2L236.8 54.3L237.3 50.1L236.6 45.9L235.6 43.5L233.8 41.1L232.1 40L230.3 39.4L226.1 39.7L225.1 40L223.4 40.9L222.6 41.8L221.6 44L221.5 45.9L221.6 48L222.1 50.1L224.2 54.3L226.8 57.4L228.3 58.5ZM28.5 27.1L29.7 28.2L31.4 27.7L33.2 26.3L35.7 23L36.7 20.9L37.5 16.7L37.5 14.6L36.6 11.9L34.9 11.8L33.2 13.1L30.3 16.7L29.2 18.8L28.4 20.9L28 23L27.9 25.1L28.5 27.1ZM191.9 18.8L193.7 18.7L194.8 16.7L194.7 14.6L193.7 12.9L191.9 12.8L190.7 14.6L190.6 16.7L191.9 18.8ZM256.9 14.6L267 16.1L272.2 16L275.7 15.3L279.2 13.8L279.2 0L247.3 0L248.7 6.3L249.6 8.4L251.3 11.2L253 12.8L254.8 13.9L256.9 14.6Z"/>
<path fill="#f08228" fill-rule="evenodd" d="M230.2 56.4L232.1 56.6L233.8 55.3L234.5 54.3L235.2 52.2L235.4 50.1L235.1 48L233.8 44.9L232.1 43.3L230.3 42.8L228.6 43.1L226.8 44L225.4 45.9L225 48L225.2 50.1L226 52.2L227.5 54.3L228.6 55.4L230.2 56.4ZM260.8 12.5L267 13.4L270.5 13.3L274 12.4L275.7 11.6L277.5 10.2L278.7 8.4L279.2 6.3L279.2 4.1L278.6 2.1L276.7 0L252.2 0L251.6 2.1L251.8 4.2L253 7.2L254.8 9.4L256.5 10.8L260.8 12.5Z"/>
<path fill="#fa3c3c" fill-rule="evenodd" d="M229.6 52.2L230.3 52.9L232.1 52.9L232.6 52.2L233.1 50.1L232.6 48L232.1 47.2L230.3 46.7L228.8 48L228.6 50.4L229.6 52.2ZM262.5 10.4L267 11.1L271.4 10.4L274 9L274.7 8.4L275.7 6.2L275.6 4.2L274 1.8L270.9 0L257.3 0L255.5 2.1L255.3 4.2L256.5 6.7L258.3 8.5L262.5 10.4Z"/>
<path fill="#f00082" fill-rule="evenodd" d="M263.9 8.4L267 8.7L269.1 8.4L270.5 7.6L271.8 6.3L271.8 4.2L269.7 2.1L267 1.2L263.5 0.9L261.8 1.2L259.8 2.1L259.1 4.2L260.1 6.3L261.8 7.4L263.9 8.4Z"/>
<path fill="none" stroke="#111" stroke-width="0.9" d="M167.1 125.3L169.3 123.6L176.2 121L179.1 119L180.5 116.9L181 114.9L181.9 104.4L182.4 102.3L183.4 100.2L185 98.2L188.5 95.6L191.9 94.4L195.4 94L200.7 94.6L205.9 96.1L209.4 98.2L210.9 100.2L211.1 102.3L210.3 104.4L202.1 114.9L199.5 119L198.5 121.1L197.9 123.2L198 125.3M0 82.5L3.5 82.4L12.2 85L22.7 90.4L29.7 92.3L34.9 92.6L36.6 92.4L38.4 91.8L40.1 90.8L43.6 87.3L47.1 85.3L50.6 84.5L54.1 84.7L56.7 85.6L59.4 87.7L60.7 89.8L61.4 91.9L61.7 94L61.1 95.2L48.9 96.7L47.1 97.3L45.9 98.2L45.2 100.2L45.9 102.3L47.9 104.4L50.6 105.6L52.3 105.9L54.1 105.9L55.8 105.5L58.3 104.4L60.4 102.3L61.5 100.2L62.3 96.1L62.8 95.7L72 94L75 92.7L82 87L84.1 85.6L89 83.9L96 83.2L101.2 83.7L104.7 84.7L106.8 85.6L109.9 88L115.2 93.2L118.7 95.3L123.9 96.6L154 96.1L157 96.6L160.8 98.2L163.3 100.2L164.7 102.3L165.3 104.4L165.5 108.6L164.7 112.8L163.9 114.9L162.3 117.4L160.5 118.6L158.8 119.3L153.6 119.9L148.3 119.5L144.8 118.5L141.3 116.7L130.9 109.6L122.1 106L111.7 103.8L103 103.7L99 104.4L96 105.9L95.3 106.5L94.2 108.9L94.1 110.7L96.4 125.3M247.8 47.2L246 45.5L244.7 41.8L244.5 39.7L244.6 37.6L245.2 35.5L246.2 33.4L247.8 31.1L249.5 29.2L253 26.8L254.8 26.2L256.5 25.9L258.3 26.2L260 27.1L260.7 29.2L260.4 31.3L253 45L251.3 46.8L249.5 47.6L247.8 47.2M0 39.6L0.8 41.8L1.2 43.9L1.3 45.9L1 48L0 50.4M153.6 37.6L157 38.4L160.5 38.3L163.3 37.6L164.6 35.5L162.3 33.3L158.8 32.4L155.3 32.5L152.9 33.4L151.7 35.5L153.6 37.6M58.4 0L60 4.2L60.4 6.3L59.7 16.7L60.1 18.8L61.1 20.9L62.8 23.2L64.9 25.1L69.8 27.9L78.5 30.6L87.2 31.7L103 30.9L120.4 32.8L125.6 32.4L129.1 31.2L131.9 29.2L136.8 23L139.6 20.9L144.8 19.2L155.3 17.5L160.5 15.6L164.9 12.5L166.5 10.4L167.1 8.4L167.1 6.3L165.8 3.8L164 2L160.4 0M130.1 0L125.6 2.3L123.9 2.9L122.1 3.2L120.4 3L118.4 2.1L116.4 0M188.9 0L187.9 2.1L183.8 8.4L182.2 12.5L181.8 16.7L182.3 20.9L184.1 25.1L186.7 27.9L190.2 30L195.4 32.3L197.2 33.5L202.4 38.3L209.4 43L212 45.9L213.3 48L214.9 52.2L216.2 58.5L216.3 60.6L215.6 62.6L214.6 63.6L212.4 64.7L209.4 65L207.7 64.7L205.9 63.8L204.2 62.1L202.1 58.5L200.5 56.4L197.2 53.9L190.2 51.5L186.7 51L181.5 51.3L162.3 54.3L97.7 50.9L83.8 47.7L41.9 48.4L36.6 47.8L34.9 47.4L33.2 46.6L31.4 44.7L30.6 41.8L30.7 39.7L31.4 37.4L34.9 32.6L40.8 27.1L42.6 25.1L44.3 20.9L45.6 10.4L47.6 4.2L49 2.1L51.1 0M233.4 0L235.8 2.1L237.3 5L238.1 8.4L238.1 12.5L237.1 16.7L235.6 19.7L233.8 21.7L232.1 23.1L228.6 24.7L225.1 25.4L219.9 25.4L212.9 24.1L209.4 22.8L206.5 20.9L205.1 18.8L204.2 16.4L203.3 10.4L203.3 8.4L204.2 6L206 4.2L214.3 0M97.5 68.9L103 70L171 68L185 68.9L188.5 68.5L191.9 67.4L193.7 66.3L195.4 64.2L196 62.6L195.8 60.6L195.4 60.2L193.7 59.5L185 58.1L179.2 58.5L171 60.4L162.3 60.9L120.4 57.1L104.7 58.1L102.5 58.5L97.7 60.7L95.7 62.6L94.3 64.7L94.4 66.8L96 68.1L97.5 68.9M279.2 57.4L274 51.9L272.2 50.5L270.5 50.7L268.7 52.5L264.2 58.5L261.8 60.6L258.2 62.6L249.5 65.4L240.8 66.5L237.3 66.1L235.7 64.7L237.9 60.6L239.2 56.4L239.6 52.2L238.8 45.9L237.3 41.3L235.6 38.4L233.8 36.7L230.3 35.3L225.1 34.8L221.6 35.1L219.9 35.5L218.1 36.6L217.3 37.6L217 39.7L219.4 50.1L221.6 55.3L225.1 59.8L230.3 64.6L230.8 64.7L232.1 66.8L230.3 68.9L225.1 72.1L216.2 75.2L212 77.3L211.8 79.4L214.6 80.8L226.8 83L233 85.6L235.9 87.7L237.8 89.8L242.6 98.3L244.3 100.2L247.8 102.7L254.8 105.4L265.2 107.4L272.2 107.4L276.2 106.5L279.2 105.1M22 48L22.7 48.2L22.7 47.7L22 48M9.4 41.8L10.5 42.1L12.2 41.5L13.6 39.7L13.9 37.6L13.1 35.5L12.2 34.7L10.5 34.2L8.7 34.5L7.4 35.5L6.7 37.6L7.3 39.7L8.7 41.5L9.4 41.8M189.7 20.9L190.2 21.4L191.9 22.4L193.7 22.5L195.4 21.6L196 20.9L197.2 18.5L197.5 16.7L197.2 13.7L196.8 12.5L195.4 10.2L193.7 9.2L191.9 9.2L190 10.4L188.5 13.1L188.1 14.6L188 16.7L188.5 18.8L189.7 20.9M36.4 0L37.5 2.1L36.5 4.2L29.7 10.8L25.2 14.6L24 16.7L23.4 18.8L23.4 23L25.4 31.3L26.2 32.8L27.9 33.2L29.7 32.2L35.1 27.1L36.8 25.1L39 20.9L39.9 16.7L40.1 8.2L39.8 4.2L40.4 2.1L42.1 0M242.7 0L244.3 4.2L246.7 12.5L247.8 14.9L249.5 16.9L251.3 17.7L279.2 20.2"/>
<path fill="none" stroke="#00dc00" stroke-width="0.8" stroke-opacity="0.92" clip-path="url(#clip)" d="M4 126.3l-5 -8.2m0.3 2.6l-0.3 -2.6l2.2 1.4M4 120l-4.9 -8.2m0.3 2.6l-0.3 -2.6l2.1 1.4M3.9 113.7l-4.7 -8.2m0.2 2.6l-0.2 -2.6l2.1 1.5M3.7 107.4l-4.4 -8.3m0.1 2.5l-0.1 -2.5l2 1.5M3.4 101.2l-3.8 -8.3m0 2.5l0 -2.5l1.9 1.6M2.8 94.9l-2.5 -8.4m-0.3 2.3l0.3 -2.3l1.6 1.8M1.8 88.5l-0.6 -8.3m-0.8 2.1l0.8 -2.1l1.1 2M0.7 82l1.6 -7.7m-1.3 1.7l1.3 -1.7l0.5 2.1M-0.1 75.1l3.3 -6.7m-1.6 1.3l1.6 -1.3l0 2M-0.6 68.3l4.1 -5.7m-1.7 0.9l1.7 -0.9l-0.4 1.9M-0.9 61.7l4.9 -5m-1.8 0.7l1.8 -0.7l-0.6 1.8M-1.6 54.6l6.1 -3.4m-1.9 0.1l1.9 -0.1l-1.1 1.5M-0.8 44l4.7 5.2m-0.6 -1.8l0.6 1.8l-1.7 -0.7M1.8 36.8l-0.5 7m0.9 -1.7l-0.9 1.7l-0.7 -1.8M2.4 30.6l-1.7 6.8m1.2 -1.5l-1.2 1.5l-0.4 -1.9M2.6 24.4l-2.2 6.6m1.3 -1.4l-1.3 1.4l-0.2 -1.9M2.8 18.2l-2.7 6.5m1.4 -1.3l-1.4 1.3l-0.1 -1.9M3.1 12l-3.1 6.3m1.5 -1.2l-1.5 1.2l0.1 -1.9M3.3 5.8l-3.7 5.9m1.6 -1l-1.6 1l0.2 -1.9M9.4 126.5l-4.3 -8.7m0.1 2.6l-0.1 -2.6l2 1.6M9.4 120.2l-4.2 -8.7m0 2.6l0 -2.6l2 1.6M9.3 113.9l-4 -8.7m0 2.6l0 -2.6l2 1.7M9.2 107.6l-3.7 -8.7m-0.1 2.6l0.1 -2.6l1.9 1.7M8.9 101.3l-3.2 -8.7m-0.2 2.5l0.2 -2.5l1.8 1.8M8.3 95l-2.1 -8.6m-0.5 2.4l0.5 -2.4l1.5 1.9M7.5 88.6l-0.3 -8.4m-0.9 2.1l0.9 -2.1l1 2M6.4 82l1.8 -7.8m-1.3 1.7l1.3 -1.7l0.4 2.1M5.6 75.1l3.5 -6.6m-1.6 1.2l1.6 -1.2l-0.1 2M5.1 68.2l4.4 -5.5m-1.7 0.8l1.7 -0.8l-0.5 1.8M4.6 61.5l5.3 -4.6m-1.8 0.5l1.8 -0.5l-0.8 1.7M4 54.1l6.6 -2.4m-1.9 -0.2l1.9 0.2l-1.3 1.3M4.9 44.1l4.8 5.1m-0.6 -1.8l0.6 1.8l-1.8 -0.7M7.2 36.8l0.1 7m0.8 -1.7l-0.8 1.7l-0.8 -1.7M8 30.6l-1.4 6.9m1.1 -1.5l-1.1 1.5l-0.4 -1.8M8.4 24.4l-2.1 6.7m1.3 -1.4l-1.3 1.4l-0.2 -1.9M8.7 18.2l-2.7 6.5m1.4 -1.3l-1.4 1.3l-0.1 -1.9M9 12l-3.3 6.2m1.5 -1.1l-1.5 1.1l0.1 -1.9M9.3 5.9l-3.9 5.8m1.6 -1l-1.6 1l0.3 -1.9M14.8 126.7l-3.5 -9.1m-0.2 2.6l0.2 -2.6l1.9 1.8M14.8 120.4l-3.4 -9.1m-0.2 2.6l0.2 -2.6l1.9 1.8M14.8 114.1l-3.3 -9.1m-0.2 2.6l0.2 -2.6l1.8 1.8M14.6 107.8l-3 -9m-0.3 2.6l0.3 -2.6l1.8 1.9M14.4 101.5l-2.5 -9m-0.4 2.5l0.4 -2.5l1.6 1.9M13.9 95.1l-1.6 -8.9m-0.6 2.4l0.6 -2.4l1.4 2M13.1 88.7l0 -8.6m-1 2.1l1 -2.1l1 2.1M12.1 82l2 -7.8m-1.4 1.7l1.4 -1.7l0.4 2.1M11.3 75.1l3.7 -6.6m-1.7 1.2l1.7 -1.2l-0.1 2M10.8 68.1l4.6 -5.3m-1.7 0.8l1.7 -0.8l-0.5 1.8M10.3 61.3l5.6 -4.2m-1.9 0.4l1.9 -0.4l-0.9 1.7M9.7 53.7l6.8 -1.6m-1.9 -0.4l1.9 0.4l-1.5 1.2M10.7 44.1l4.9 5m-0.6 -1.8l0.6 1.8l-1.8 -0.7M12.9 36.8l0.5 7m0.7 -1.8l-0.7 1.8l-0.9 -1.7M13.7 30.6l-1.3 6.9m1.1 -1.5l-1.1 1.5l-0.5 -1.8M14.2 24.4l-2.2 6.7m1.3 -1.4l-1.3 1.4l-0.2 -1.9M14.5 18.2l-2.9 6.4m1.4 -1.2l-1.4 1.2l0 -1.9M14.9 12.1l-3.5 6m1.6 -1.1l-1.6 1.1l0.2 -1.9M15.2 6l-4.2 5.6m1.7 -0.9l-1.7 0.9l0.4 -1.8M20.3 126.9l-2.7 -9.4m-0.4 2.6l0.4 -2.6l1.7 2M20.2 120.6l-2.7 -9.4m-0.4 2.6l0.4 -2.6l1.7 2M20.2 114.3l-2.5 -9.4m-0.4 2.6l0.4 -2.6l1.7 2M20.1 108l-2.3 -9.3m-0.5 2.6l0.5 -2.6l1.6 2M19.8 101.6l-1.9 -9.3m-0.6 2.5l0.6 -2.5l1.5 2.1M19.4 95.3l-1 -9.1m-0.8 2.3l0.8 -2.3l1.3 2.1M18.7 88.8l0.4 -8.7m-1.1 2.1l1.1 -2.1l0.9 2.2M17.8 82.1l2.2 -7.9m-1.4 1.7l1.4 -1.7l0.4 2.2M17 75.1l3.8 -6.6m-1.7 1.2l1.7 -1.2l-0.2 2.1M16.5 68.1l4.8 -5.1m-1.7 0.7l1.7 -0.7l-0.6 1.8M16 61.2l5.8 -3.9m-1.9 0.3l1.9 -0.3l-1 1.6M15.4 53.5l6.9 -1.1m-1.8 -0.5l1.8 0.5l-1.6 1.1M16.5 44.1l4.9 5m-0.6 -1.8l0.6 1.8l-1.8 -0.7M18.6 36.8l0.6 7m0.6 -1.8l-0.6 1.8l-0.9 -1.6M19.6 30.6l-1.3 6.9m1.1 -1.5l-1.1 1.5l-0.5 -1.8M20.1 24.4l-2.4 6.6m1.3 -1.3l-1.3 1.3l-0.2 -1.9M20.5 18.3l-3.2 6.2m1.5 -1.2l-1.5 1.2l0.1 -1.9M20.8 12.2l-3.9 5.8m1.6 -1l-1.6 1l0.3 -1.9M21.2 6.1l-4.5 5.3m1.7 -0.8l-1.7 0.8l0.5 -1.8M25.6 127l-1.9 -9.7m-0.6 2.6l0.6 -2.6l1.6 2.2M25.6 120.7l-1.9 -9.7m-0.6 2.6l0.6 -2.6l1.6 2.2M25.6 114.4l-1.8 -9.6m-0.7 2.6l0.7 -2.6l1.5 2.2M25.5 108.1l-1.6 -9.6m-0.7 2.5l0.7 -2.5l1.5 2.2M25.3 101.8l-1.2 -9.5m-0.8 2.5l0.8 -2.5l1.4 2.2M24.9 95.3l-0.4 -9.3m-1 2.3l1 -2.3l1.2 2.2M24.3 88.8l0.8 -8.9m-1.2 2.1l1.2 -2.1l0.8 2.3M23.5 82.1l2.4 -8m-1.5 1.7l1.5 -1.7l0.3 2.2M22.7 75.1l3.9 -6.6m-1.7 1.2l1.7 -1.2l-0.2 2.1M22.3 68l4.8 -5.1m-1.8 0.7l1.8 -0.7l-0.6 1.8M21.7 61.1l5.9 -3.7m-1.9 0.2l1.9 -0.2l-1 1.6M21.2 53.3l6.9 -0.9m-1.8 -0.6l1.8 0.6l-1.6 1M22.2 44.1l4.9 5m-0.6 -1.8l0.6 1.8l-1.8 -0.7M24.4 36.8l0.5 7m0.7 -1.8l-0.7 1.8l-0.9 -1.6M25.5 30.6l-1.5 6.8m1.2 -1.5l-1.2 1.5l-0.4 -1.8M26 24.5l-2.7 6.5m1.4 -1.3l-1.4 1.3l-0.1 -1.9M26.5 18.4l-3.5 6m1.6 -1.1l-1.6 1.1l0.2 -1.9M26.8 12.3l-4.3 5.5m1.7 -0.9l-1.7 0.9l0.4 -1.8M27.2 6.3l-4.9 5m1.8 -0.7l-1.8 0.7l0.6 -1.8M31 127.1l-1.1 -9.9m-0.9 2.5l0.9 -2.5l1.4 2.3M31 120.8l-1 -9.9m-0.9 2.5l0.9 -2.5l1.4 2.3M31 114.5l-1 -9.8m-0.9 2.5l0.9 -2.5l1.4 2.3M30.9 108.2l-0.8 -9.8m-0.9 2.5l0.9 -2.5l1.3 2.3M30.7 101.8l-0.5 -9.7m-1 2.4l1 -2.4l1.2 2.3M30.4 95.4l0.2 -9.5m-1.1 2.3l1.1 -2.3l1 2.3M29.9 88.9l1.2 -9m-1.3 2.1l1.3 -2.1l0.7 2.3M29.2 82.1l2.7 -8.1m-1.6 1.7l1.6 -1.7l0.3 2.3M28.5 75.2l4 -6.7m-1.8 1.2l1.8 -1.2l-0.2 2.1M28.1 68l4.8 -5.1m-1.8 0.7l1.8 -0.7l-0.6 1.8M27.5 61.1l5.9 -3.7m-1.9 0.2l1.9 -0.2l-1 1.6M27 53.4l6.9 -0.9m-1.8 -0.6l1.8 0.6l-1.6 1M28 44.1l4.9 5m-0.6 -1.8l0.6 1.8l-1.8 -0.7M30.4 36.8l0.3 7m0.7 -1.7l-0.7 1.7l-0.9 -1.7M31.5 30.6l-1.9 6.7m1.2 -1.4l-1.2 1.4l-0.3 -1.9M32.1 24.6l-3.1 6.3m1.5 -1.2l-1.5 1.2l0 -1.9M32.5 18.5l-4 5.8m1.6 -1l-1.6 1l0.3 -1.9M32.9 12.5l-4.7 5.2m1.7 -0.7l-1.7 0.7l0.6 -1.8M33.2 6.5l-5.3 4.6m1.8 -0.5l-1.8 0.5l0.8 -1.7M36.4 127.2l-0.3 -10m-1.1 2.5l1.1 -2.5l1.2 2.4M36.4 120.9l-0.2 -10m-1.1 2.5l1.1 -2.5l1.2 2.4M36.4 114.6l-0.2 -10m-1.1 2.5l1.1 -2.5l1.2 2.4M36.3 108.3l0 -9.9m-1.1 2.4l1.1 -2.4l1.1 2.4M36.2 101.9l0.2 -9.8m-1.2 2.4l1.2 -2.4l1.1 2.4M35.9 95.5l0.8 -9.6m-1.3 2.3l1.3 -2.3l0.9 2.4M35.5 88.9l1.7 -9.1m-1.4 2l1.4 -2l0.6 2.4M34.8 82.2l2.9 -8.2m-1.6 1.7l1.6 -1.7l0.2 2.3M34.2 75.2l4.1 -6.8m-1.8 1.2l1.8 -1.2l-0.2 2.1M33.9 68.1l4.9 -5.2m-1.8 0.7l1.8 -0.7l-0.6 1.8M33.4 61.1l5.9 -3.8m-1.9 0.3l1.9 -0.3l-1 1.6M32.8 53.5l6.9 -1.1m-1.8 -0.5l1.8 0.5l-1.6 1.1M33.8 44.1l4.9 5m-0.6 -1.8l0.6 1.8l-1.8 -0.7M36.4 36.8l-0.2 7m0.8 -1.7l-0.8 1.7l-0.8 -1.7M37.5 30.7l-2.5 6.6m1.3 -1.3l-1.3 1.3l-0.1 -1.9M38.1 24.7l-3.7 6m1.6 -1l-1.6 1l0.2 -1.9M38.6 18.7l-4.5 5.4m1.7 -0.8l-1.7 0.8l0.5 -1.8M38.9 12.7l-5.2 4.7m1.8 -0.6l-1.8 0.6l0.7 -1.7M39.1 6.8l-5.7 4.1m1.9 -0.4l-1.9 0.4l0.9 -1.7M41.8 127.2l0.6 -10.1m-1.3 2.4l1.3 -2.4l1 2.5M41.8 120.9l0.6 -10.1m-1.3 2.4l1.3 -2.4l1 2.5M41.8 114.6l0.6 -10.1m-1.3 2.4l1.3 -2.4l1 2.5M41.7 108.3l0.7 -10m-1.3 2.4l1.3 -2.4l1 2.5M41.6 101.9l1 -9.9m-1.4 2.3l1.4 -2.3l0.9 2.5M41.4 95.5l1.4 -9.6m-1.4 2.2l1.4 -2.2l0.8 2.5M41 89l2.1 -9.2m-1.6 2l1.6 -2l0.5 2.5M40.5 82.2l3.2 -8.3m-1.7 1.7l1.7 -1.7l0.2 2.4M40 75.3l4.2 -7m-1.8 1.2l1.8 -1.2l-0.2 2.2M39.7 68.2l4.8 -5.3m-1.8 0.7l1.8 -0.7l-0.6 1.9M39.2 61.2l5.7 -4m-1.9 0.3l1.9 -0.3l-0.9 1.6M38.7 53.7l6.8 -1.6m-1.8 -0.4l1.8 0.4l-1.5 1.2M39.6 44.1l5 4.9m-0.7 -1.8l0.7 1.8l-1.8 -0.6M42.6 36.8l-0.9 6.9m1 -1.6l-1 1.6l-0.6 -1.8M43.7 30.9l-3.2 6.2m1.5 -1.2l-1.5 1.2l0.1 -1.9M44.2 24.9l-4.3 5.5m1.7 -0.9l-1.7 0.9l0.4 -1.8M44.6 19l-5.1 4.8m1.8 -0.6l-1.8 0.6l0.7 -1.8M44.9 13l-5.6 4.2m1.9 -0.4l-1.9 0.4l0.9 -1.7M45.1 7l-6 3.6m1.9 -0.2l-1.9 0.2l1.1 -1.6M47.2 127.3l1.4 -10.1m-1.5 2.3l1.5 -2.3l0.8 2.6M47.2 120.9l1.4 -10.1m-1.5 2.3l1.5 -2.3l0.8 2.6M47.2 114.6l1.4 -10.1m-1.5 2.3l1.5 -2.3l0.8 2.6M47.2 108.3l1.5 -10m-1.5 2.3l1.5 -2.3l0.8 2.6M47.1 101.9l1.7 -9.9m-1.5 2.2l1.5 -2.2l0.7 2.6M46.9 95.5l2 -9.7m-1.6 2.1l1.6 -2.1l0.6 2.6M46.6 89l2.6 -9.2m-1.7 2l1.7 -2l0.4 2.6M46.2 82.3l3.4 -8.4m-1.8 1.7l1.8 -1.7l0.1 2.4M45.8 75.4l4.3 -7.1m-1.9 1.2l1.9 -1.2l-0.2 2.2M45.5 68.2l4.8 -5.5m-1.8 0.8l1.8 -0.8l-0.5 1.9M45.1 61.3l5.5 -4.3m-1.8 0.4l1.8 -0.4l-0.9 1.7M44.6 54l6.6 -2.2m-1.9 -0.2l1.9 0.2l-1.4 1.3M45.4 44.2l5.1 4.8m-0.7 -1.8l0.7 1.8l-1.8 -0.6M48.9 36.9l-2 6.7m1.2 -1.4l-1.2 1.4l-0.3 -1.9M49.9 31.1l-4 5.7m1.6 -0.9l-1.6 0.9l0.3 -1.9M50.4 25.2l-5 4.9m1.8 -0.6l-1.8 0.6l0.7 -1.8M50.7 19.3l-5.6 4.2m1.8 -0.4l-1.8 0.4l0.9 -1.7M50.9 13.3l-6 3.6m1.9 -0.2l-1.9 0.2l1.1 -1.6M51 7.3l-6.3 3.1m1.9 0l-1.9 0l1.2 -1.5M52.6 127.2l2.1 -10m-1.6 2.2l1.6 -2.2l0.6 2.6M52.6 120.9l2.1 -10m-1.6 2.2l1.6 -2.2l0.6 2.6M52.6 114.6l2.2 -10m-1.6 2.1l1.6 -2.1l0.6 2.6M52.6 108.3l2.2 -10m-1.7 2.1l1.7 -2.1l0.6 2.6M52.5 101.9l2.4 -9.9m-1.7 2.1l1.7 -2.1l0.5 2.6M52.4 95.5l2.6 -9.6m-1.7 2.1l1.7 -2.1l0.5 2.7M52.2 89l3.1 -9.2m-1.8 1.9l1.8 -1.9l0.3 2.6M51.8 82.3l3.7 -8.4m-1.9 1.6l1.9 -1.6l0.1 2.5M51.5 75.4l4.4 -7.2m-1.9 1.3l1.9 -1.3l-0.2 2.3M51.3 68.4l4.7 -5.7m-1.8 0.9l1.8 -0.9l-0.5 1.9M51.1 61.5l5.3 -4.6m-1.8 0.5l1.8 -0.5l-0.8 1.7M50.6 54.5l6.3 -3.1m-1.9 0l1.9 0l-1.2 1.5M51.1 44.3l5.3 4.6m-0.8 -1.7l0.8 1.7l-1.8 -0.5M55.4 37.2l-3.4 6.1m1.5 -1.1l-1.5 1.1l0.1 -1.9M56.2 31.5l-4.9 5m1.8 -0.7l-1.8 0.7l0.6 -1.8M56.5 25.6l-5.6 4.2m1.8 -0.4l-1.8 0.4l0.9 -1.7M56.7 19.6l-6 3.5m1.9 -0.2l-1.9 0.2l1.1 -1.6M56.9 13.6l-6.3 3m1.9 0l-1.9 0l1.2 -1.5M57 7.5l-6.5 2.5m1.9 0.1l-1.9 -0.1l1.3 -1.4M58.1 127.2l2.9 -9.9m-1.8 2l1.8 -2l0.4 2.7M58 120.9l2.9 -9.9m-1.8 2l1.8 -2l0.4 2.7M58 114.6l2.9 -9.9m-1.8 2l1.8 -2l0.4 2.7M58 108.2l3 -9.9m-1.8 2l1.8 -2l0.4 2.7M58 101.9l3.1 -9.8m-1.8 2l1.8 -2l0.4 2.7M57.9 95.5l3.3 -9.6m-1.9 1.9l1.9 -1.9l0.3 2.7M57.7 89l3.6 -9.2m-1.9 1.8l1.9 -1.8l0.2 2.7M57.5 82.3l4 -8.5m-2 1.6l2 -1.6l0 2.5M57.3 75.5l4.5 -7.4m-1.9 1.3l1.9 -1.3l-0.3 2.3M57.2 68.5l4.6 -5.9m-1.8 0.9l1.8 -0.9l-0.5 2M57 61.7l5 -4.9m-1.8 0.6l1.8 -0.6l-0.7 1.8M56.7 54.9l5.7 -4.1m-1.9 0.4l1.9 -0.4l-0.9 1.6M56.5 44.8l6.1 3.5m-1.1 -1.5l1.1 1.5l-1.9 -0.2M62 37.8l-5 4.9m1.8 -0.6l-1.8 0.6l0.7 -1.8M62.4 32l-5.7 4m1.9 -0.3l-1.9 0.3l0.9 -1.6M62.6 26l-6.1 3.4m1.9 -0.1l-1.9 0.1l1.1 -1.5M62.7 20l-6.4 2.8m1.9 0l-1.9 0l1.2 -1.4M62.8 13.9l-6.6 2.4m1.9 0.2l-1.9 -0.2l1.3 -1.3M62.8 7.8l-6.7 2.1m1.9 0.3l-1.9 -0.3l1.4 -1.3M63.5 127.1l3.6 -9.8m-1.9 1.9l1.9 -1.9l0.2 2.7M63.5 120.8l3.6 -9.7m-1.9 1.9l1.9 -1.9l0.2 2.7M63.5 114.5l3.6 -9.7m-1.9 1.9l1.9 -1.9l0.2 2.7M63.5 108.1l3.7 -9.7m-1.9 1.9l1.9 -1.9l0.2 2.7M63.4 101.8l3.7 -9.6m-2 1.9l2 -1.9l0.2 2.7M63.4 95.4l3.9 -9.4m-2 1.8l2 -1.8l0.1 2.7M63.3 88.9l4.1 -9.1m-2 1.8l2 -1.8l0 2.7M63.1 82.3l4.4 -8.5m-2 1.6l2 -1.6l-0.1 2.6M63 75.5l4.6 -7.4m-2 1.3l2 -1.3l-0.3 2.3M63 68.6l4.6 -6.1m-1.8 1l1.8 -1l-0.4 2M63 61.8l4.6 -5.3m-1.7 0.8l1.7 -0.8l-0.5 1.8M62.9 55.4l4.9 -5m-1.8 0.7l1.8 -0.7l-0.6 1.8M65.7 50.1l-0.8 -7m-0.6 1.8l0.6 -1.8l1 1.6M68.4 38.7l-6.2 3.2m1.9 -0.1l-1.9 0.1l1.2 -1.5M68.5 32.5l-6.4 2.9m1.9 0l-1.9 0l1.2 -1.4M68.6 26.4l-6.5 2.6m1.9 0.1l-1.9 -0.1l1.3 -1.4M68.6 20.3l-6.7 2.2m1.9 0.2l-1.9 -0.2l1.4 -1.3M68.7 14.2l-6.7 1.9m1.9 0.3l-1.9 -0.3l1.4 -1.2M68.7 7.9l-6.8 1.7m1.9 0.4l-1.9 -0.4l1.5 -1.2M68.9 127l4.3 -9.5m-2.1 1.8l2.1 -1.8l0 2.7M68.9 120.7l4.3 -9.5m-2.1 1.8l2.1 -1.8l0 2.7M68.9 114.3l4.3 -9.5m-2.1 1.8l2.1 -1.8l0 2.7M68.9 108l4.4 -9.5m-2.1 1.7l2.1 -1.7l0 2.7M68.9 101.7l4.4 -9.4m-2.1 1.7l2.1 -1.7l0 2.7M68.9 95.3l4.5 -9.2m-2.1 1.7l2.1 -1.7l0 2.7M68.8 88.9l4.6 -8.9m-2.1 1.7l2.1 -1.7l-0.1 2.7M68.7 82.3l4.7 -8.4m-2.1 1.5l2.1 -1.5l-0.2 2.6M68.7 75.5l4.8 -7.5m-2 1.3l2 -1.3l-0.3 2.4M68.8 68.6l4.5 -6.3m-1.8 1l1.8 -1l-0.4 2.1M69 62l4.3 -5.5m-1.7 0.9l1.7 -0.9l-0.4 1.8M69.1 55.8l3.9 -5.8m-1.6 1l1.6 -1l-0.3 1.9M72.9 49.6l-3.6 -6m0.2 1.9l-0.2 -1.9l1.6 1.1M74.5 39.6l-6.9 1.4m1.8 0.4l-1.8 -0.4l1.5 -1.1M74.5 33.1l-6.7 1.9m1.9 0.3l-1.9 -0.3l1.4 -1.2M74.5 26.8l-6.8 1.8m1.9 0.3l-1.9 -0.3l1.5 -1.2M74.5 20.6l-6.8 1.6m1.9 0.4l-1.9 -0.4l1.5 -1.2M74.5 14.4l-6.8 1.5m1.8 0.4l-1.8 -0.4l1.5 -1.1M74.5 8.1l-6.9 1.4m1.8 0.4l-1.8 -0.4l1.5 -1.1M74.4 126.8l5 -9.2m-2.2 1.6l2.2 -1.6l-0.2 2.7M74.4 120.5l5 -9.2m-2.2 1.6l2.2 -1.6l-0.2 2.7M74.4 114.2l5 -9.2m-2.2 1.6l2.2 -1.6l-0.2 2.7M74.4 107.9l5 -9.2m-2.2 1.6l2.2 -1.6l-0.2 2.7M74.4 101.6l5 -9.1m-2.2 1.6l2.2 -1.6l-0.2 2.7M74.4 95.2l5 -9m-2.2 1.6l2.2 -1.6l-0.2 2.7M74.4 88.8l5.1 -8.7m-2.2 1.5l2.2 -1.5l-0.2 2.7M74.4 82.2l5.1 -8.3m-2.2 1.4l2.2 -1.4l-0.3 2.6M74.4 75.5l4.9 -7.5m-2.1 1.3l2.1 -1.3l-0.4 2.4M74.7 68.7l4.5 -6.4m-1.8 1.1l1.8 -1.1l-0.4 2.1M74.9 62.1l4 -5.8m-1.6 1l1.6 -1l-0.3 1.9M75.4 56.1l3 -6.3m-1.5 1.2l1.5 -1.2l0 1.9M78.9 49.5l-4 -5.8m0.3 1.9l-0.3 -1.9l1.6 1M80.4 40.3l-7 0m1.7 0.8l-1.7 -0.8l1.7 -0.8M80.4 33.5l-6.9 1m1.8 0.5l-1.8 -0.5l1.6 -1M80.4 27.1l-6.9 1.2m1.8 0.5l-1.8 -0.5l1.6 -1.1M80.4 20.8l-6.9 1.1m1.8 0.5l-1.8 -0.5l1.6 -1.1M80.4 14.5l-6.9 1.2m1.8 0.5l-1.8 -0.5l1.6 -1.1M80.3 8.2l-6.9 1.3m1.8 0.5l-1.8 -0.5l1.5 -1.1M79.9 126.6l5.6 -8.9m-2.3 1.5l2.3 -1.5l-0.3 2.7M79.9 120.3l5.6 -8.9m-2.3 1.5l2.3 -1.5l-0.3 2.7M79.9 114l5.6 -8.8m-2.3 1.5l2.3 -1.5l-0.4 2.7M79.9 107.7l5.6 -8.8m-2.3 1.4l2.3 -1.4l-0.4 2.7M79.9 101.4l5.6 -8.8m-2.3 1.4l2.3 -1.4l-0.4 2.7M79.9 95l5.6 -8.7m-2.3 1.4l2.3 -1.4l-0.4 2.7M79.9 88.6l5.6 -8.5m-2.3 1.4l2.3 -1.4l-0.4 2.7M80 82.1l5.4 -8.1m-2.3 1.4l2.3 -1.4l-0.4 2.6M80.1 75.5l5.1 -7.4m-2.1 1.2l2.1 -1.2l-0.4 2.4M80.5 68.7l4.5 -6.5m-1.8 1.1l1.8 -1.1l-0.4 2.1M80.8 62.2l3.7 -5.9m-1.6 1l1.6 -1l-0.2 1.9M81.6 56.2l2.2 -6.6m-1.3 1.4l1.3 -1.4l0.2 1.9M84.8 49.4l-4.1 -5.6m0.4 1.9l-0.4 -1.9l1.7 0.9M86.2 40.8l-6.9 -1m1.6 1l-1.6 -1l1.8 -0.5M86.2 33.8l-7 0.3m1.7 0.7l-1.7 -0.7l1.7 -0.9M86.2 27.4l-7 0.7m1.8 0.6l-1.8 -0.6l1.6 -1M86.2 21l-7 0.8m1.8 0.6l-1.8 -0.6l1.6 -1M86.2 14.6l-6.9 1m1.8 0.5l-1.8 -0.5l1.6 -1M86.1 8.2l-6.9 1.2m1.8 0.5l-1.8 -0.5l1.5 -1.1M85.4 126.4l6.2 -8.5m-2.4 1.3l2.4 -1.3l-0.5 2.6M85.4 120.1l6.2 -8.5m-2.4 1.3l2.4 -1.3l-0.5 2.6M85.4 113.8l6.2 -8.5m-2.4 1.3l2.4 -1.3l-0.5 2.6M85.4 107.5l6.2 -8.4m-2.4 1.3l2.4 -1.3l-0.5 2.6M85.4 101.2l6.2 -8.4m-2.4 1.3l2.4 -1.3l-0.5 2.6M85.4 94.9l6.1 -8.3m-2.4 1.3l2.4 -1.3l-0.5 2.6M85.5 88.5l6 -8.2m-2.4 1.3l2.4 -1.3l-0.5 2.6M85.6 82l5.8 -7.9m-2.3 1.3l2.3 -1.3l-0.5 2.6M85.8 75.5l5.3 -7.3m-2.1 1.2l2.1 -1.2l-0.5 2.4M86.3 68.8l4.5 -6.5m-1.8 1.1l1.8 -1.1l-0.4 2.1M86.8 62.2l3.5 -6.1m-1.5 1.1l1.5 -1.1l-0.2 1.9M87.7 56.3l1.6 -6.8m-1.2 1.5l1.2 -1.5l0.4 1.8M90.6 49.4l-4.2 -5.6m0.4 1.8l-0.4 -1.8l1.7 0.9M91.9 41.1l-6.8 -1.7m1.5 1.2l-1.5 -1.2l1.9 -0.4M92 34.1l-7 -0.2m1.7 0.8l-1.7 -0.8l1.7 -0.8M92 27.5l-7 0.3m1.8 0.7l-1.8 -0.7l1.7 -0.9M92 21.1l-7 0.7m1.8 0.6l-1.8 -0.6l1.6 -1M92 14.6l-6.9 0.9m1.8 0.6l-1.8 -0.6l1.6 -1M91.9 8.1l-6.9 1.3m1.8 0.5l-1.8 -0.5l1.5 -1.1M91.2 126.4l6.1 -8.5m-2.4 1.3l2.4 -1.3l-0.5 2.7M91.2 120.1l6.1 -8.5m-2.4 1.3l2.4 -1.3l-0.5 2.7M91.2 113.8l6.1 -8.5m-2.4 1.3l2.4 -1.3l-0.5 2.7M91.2 107.5l6.1 -8.5m-2.4 1.3l2.4 -1.3l-0.5 2.7M91.3 101.2l6.1 -8.4m-2.4 1.3l2.4 -1.3l-0.5 2.7M91.3 94.9l6 -8.3m-2.4 1.3l2.4 -1.3l-0.5 2.7M91.3 88.5l5.9 -8.2m-2.4 1.3l2.4 -1.3l-0.5 2.7M91.5 82.1l5.7 -7.9m-2.3 1.3l2.3 -1.3l-0.5 2.6M91.7 75.5l5.2 -7.4m-2.1 1.2l2.1 -1.2l-0.4 2.4M92.2 68.8l4.3 -6.6m-1.8 1.1l1.8 -1.1l-0.3 2.1M92.7 62.3l3.1 -6.3m-1.5 1.2l1.5 -1.2l-0.1 1.9M93.8 56.4l0.9 -6.9m-1 1.6l1 -1.6l0.6 1.8M96.4 49.4l-4.3 -5.5m0.4 1.8l-0.4 -1.8l1.7 0.9M97.6 41.3l-6.7 -2.1m1.4 1.3l-1.4 -1.3l1.9 -0.3M97.8 34.3l-7 -0.5m1.6 0.9l-1.6 -0.9l1.8 -0.7M97.8 27.6l-7 0.2m1.7 0.8l-1.7 -0.8l1.7 -0.8M97.8 21.1l-7 0.6m1.8 0.6l-1.8 -0.6l1.6 -0.9M97.8 14.6l-6.9 1m1.8 0.5l-1.8 -0.5l1.6 -1M97.7 8.1l-6.8 1.5m1.8 0.4l-1.8 -0.4l1.5 -1.1M97.1 126.4l6.1 -8.5m-2.4 1.3l2.4 -1.3l-0.5 2.7M97.1 120.1l6.1 -8.5m-2.4 1.3l2.4 -1.3l-0.5 2.7M97.1 113.8l6.1 -8.5m-2.4 1.3l2.4 -1.3l-0.5 2.7M97.1 107.5l6.1 -8.5m-2.4 1.3l2.4 -1.3l-0.5 2.7M97.1 101.2l6 -8.4m-2.4 1.3l2.4 -1.3l-0.5 2.7M97.1 94.9l6 -8.3m-2.4 1.3l2.4 -1.3l-0.5 2.7M97.2 88.5l5.8 -8.2m-2.3 1.3l2.3 -1.3l-0.5 2.7M97.3 82.1l5.6 -7.9m-2.3 1.3l2.3 -1.3l-0.5 2.6M97.6 75.5l5 -7.4m-2.1 1.2l2.1 -1.2l-0.4 2.4M98 68.9l4.1 -6.7m-1.8 1.2l1.8 -1.2l-0.2 2.1M98.7 62.4l2.9 -6.4m-1.4 1.2l1.4 -1.2l0 1.9M99.9 56.4l0.5 -7m-0.9 1.7l0.9 -1.7l0.7 1.8M102.3 49.4l-4.3 -5.5m0.4 1.8l-0.4 -1.8l1.7 0.9M103.4 41.5l-6.6 -2.3m1.4 1.3l-1.4 -1.3l1.9 -0.2M103.6 34.3l-7 -0.7m1.6 1l-1.6 -1l1.8 -0.6M103.6 27.6l-7 0.1m1.7 0.8l-1.7 -0.8l1.7 -0.8M103.6 21.1l-7 0.7m1.8 0.6l-1.8 -0.6l1.6 -1M103.5 14.5l-6.9 1.2m1.8 0.5l-1.8 -0.5l1.5 -1.1M103.5 7.9l-6.8 1.8m1.9 0.3l-1.9 -0.3l1.5 -1.2M102.9 126.4l6 -8.5m-2.3 1.3l2.3 -1.3l-0.5 2.7M102.9 120.1l6 -8.5m-2.3 1.3l2.3 -1.3l-0.5 2.7M102.9 113.8l6 -8.5m-2.3 1.3l2.3 -1.3l-0.5 2.7M102.9 107.5l6 -8.4m-2.3 1.3l2.3 -1.3l-0.5 2.7M102.9 101.2l6 -8.4m-2.3 1.3l2.3 -1.3l-0.5 2.7M102.9 94.9l5.9 -8.3m-2.3 1.3l2.3 -1.3l-0.5 2.7M103 88.5l5.8 -8.2m-2.3 1.3l2.3 -1.3l-0.5 2.7M103.2 82.1l5.5 -7.9m-2.2 1.3l2.2 -1.3l-0.4 2.6M103.4 75.5l4.9 -7.5m-2.1 1.3l2.1 -1.3l-0.4 2.4M103.9 68.9l4 -6.8m-1.7 1.2l1.7 -1.2l-0.2 2.1M104.6 62.4l2.6 -6.5m-1.4 1.3l1.4 -1.3l0.1 1.9M105.8 56.4l0.2 -7m-0.8 1.7l0.8 -1.7l0.8 1.7M108.1 49.3l-4.4 -5.5m0.4 1.8l-0.4 -1.8l1.7 0.8M109.2 41.5l-6.6 -2.4m1.3 1.3l-1.3 -1.3l1.9 -0.2M109.4 34.4l-7 -0.7m1.6 1l-1.6 -1l1.8 -0.6M109.4 27.6l-7 0.2m1.7 0.7l-1.7 -0.7l1.7 -0.8M109.4 21l-6.9 0.9m1.8 0.6l-1.8 -0.6l1.6 -1M109.3 14.3l-6.8 1.5m1.8 0.4l-1.8 -0.4l1.5 -1.1M109.2 7.7l-6.7 2.2m1.9 0.2l-1.9 -0.2l1.4 -1.3M108.7 126.4l6 -8.4m-2.3 1.3l2.3 -1.3l-0.5 2.7M108.7 120.1l6 -8.4m-2.3 1.3l2.3 -1.3l-0.5 2.7M108.7 113.8l6 -8.4m-2.3 1.3l2.3 -1.3l-0.5 2.7M108.7 107.5l6 -8.4m-2.3 1.3l2.3 -1.3l-0.5 2.7M108.7 101.2l5.9 -8.3m-2.3 1.3l2.3 -1.3l-0.5 2.7M108.8 94.8l5.8 -8.3m-2.3 1.3l2.3 -1.3l-0.5 2.7M108.9 88.5l5.7 -8.1m-2.3 1.3l2.3 -1.3l-0.5 2.6M109 82l5.4 -7.9m-2.2 1.3l2.2 -1.3l-0.4 2.5M109.3 75.5l4.8 -7.4m-2 1.3l2 -1.3l-0.3 2.4M109.8 68.9l3.8 -6.8m-1.7 1.2l1.7 -1.2l-0.2 2.1M110.5 62.5l2.5 -6.5m-1.4 1.3l1.4 -1.3l0.1 1.9M111.7 56.4l0 -7m-0.8 1.7l0.8 -1.7l0.8 1.7M113.9 49.3l-4.4 -5.5m0.5 1.8l-0.5 -1.8l1.7 0.8M115 41.5l-6.6 -2.4m1.3 1.3l-1.3 -1.3l1.9 -0.2M115.2 34.3l-7 -0.6m1.6 1l-1.6 -1l1.8 -0.6M115.2 27.5l-7 0.4m1.8 0.7l-1.8 -0.7l1.7 -0.9M115.1 20.8l-6.9 1.2m1.8 0.5l-1.8 -0.5l1.6 -1.1M115.1 14.1l-6.7 1.9m1.9 0.3l-1.9 -0.3l1.4 -1.2M114.9 7.5l-6.5 2.6m1.9 0.1l-1.9 -0.1l1.3 -1.4M114.5 126.4l6 -8.3m-2.4 1.3l2.4 -1.3l-0.5 2.7M114.5 120.1l5.9 -8.3m-2.4 1.3l2.4 -1.3l-0.5 2.7M114.5 113.8l5.9 -8.3m-2.4 1.3l2.4 -1.3l-0.5 2.7M114.5 107.5l5.9 -8.3m-2.3 1.3l2.3 -1.3l-0.5 2.7M114.6 101.1l5.9 -8.3m-2.3 1.3l2.3 -1.3l-0.5 2.7M114.6 94.8l5.8 -8.2m-2.3 1.3l2.3 -1.3l-0.5 2.7M114.7 88.4l5.6 -8m-2.3 1.3l2.3 -1.3l-0.5 2.6M114.8 82l5.3 -7.8m-2.2 1.3l2.2 -1.3l-0.4 2.5M115.1 75.5l4.7 -7.3m-2 1.3l2 -1.3l-0.3 2.3M115.6 68.9l3.8 -6.7m-1.7 1.2l1.7 -1.2l-0.2 2.1M116.3 62.5l2.4 -6.6m-1.3 1.3l1.3 -1.3l0.2 1.9M117.5 56.4l-0.1 -7m-0.8 1.7l0.8 -1.7l0.8 1.7M119.7 49.3l-4.4 -5.4m0.5 1.8l-0.5 -1.8l1.7 0.8M120.8 41.5l-6.6 -2.3m1.3 1.3l-1.3 -1.3l1.9 -0.2M121 34.2l-7 -0.4m1.7 0.9l-1.7 -0.9l1.8 -0.7M121 27.3l-7 0.8m1.8 0.6l-1.8 -0.6l1.6 -1M120.9 20.6l-6.8 1.6m1.9 0.4l-1.9 -0.4l1.5 -1.2M120.8 13.9l-6.6 2.4m1.9 0.2l-1.9 -0.2l1.3 -1.3M120.6 7.2l-6.2 3.2m1.9 -0.1l-1.9 0.1l1.2 -1.5M120.3 126.3l6 -8.2m-2.4 1.3l2.4 -1.3l-0.5 2.7M120.3 120l6 -8.2m-2.4 1.3l2.4 -1.3l-0.5 2.7M120.3 113.7l5.9 -8.2m-2.4 1.3l2.4 -1.3l-0.5 2.7M120.3 107.4l5.9 -8.2m-2.4 1.3l2.4 -1.3l-0.5 2.7M120.4 101.1l5.9 -8.1m-2.4 1.3l2.4 -1.3l-0.5 2.7M120.4 94.7l5.8 -8.1m-2.3 1.3l2.3 -1.3l-0.5 2.6M120.5 88.4l5.6 -7.9m-2.3 1.3l2.3 -1.3l-0.5 2.6M120.6 81.9l5.3 -7.6m-2.2 1.3l2.2 -1.3l-0.4 2.5M120.9 75.4l4.7 -7.2m-2 1.2l2 -1.2l-0.3 2.3M121.4 68.8l3.7 -6.6m-1.7 1.2l1.7 -1.2l-0.2 2M122.1 62.5l2.5 -6.5m-1.4 1.3l1.4 -1.3l0.1 1.9M123.3 56.4l0 -7m-0.8 1.7l0.8 -1.7l0.8 1.7M125.5 49.3l-4.4 -5.4m0.5 1.8l-0.5 -1.8l1.7 0.8M126.6 41.4l-6.7 -2.1m1.4 1.3l-1.4 -1.3l1.9 -0.2M126.8 34l-7 0m1.7 0.8l-1.7 -0.8l1.7 -0.8M126.7 27.1l-6.9 1.2m1.8 0.5l-1.8 -0.5l1.5 -1.1M126.6 20.3l-6.6 2.2m1.9 0.2l-1.9 -0.2l1.4 -1.3M126.5 13.6l-6.3 3m1.9 0l-1.9 0l1.2 -1.5M126.2 6.9l-5.9 3.8m1.9 -0.3l-1.9 0.3l1 -1.6M126.1 126.2l6 -8.1m-2.4 1.3l2.4 -1.3l-0.6 2.6M126.1 119.9l6 -8m-2.4 1.3l2.4 -1.3l-0.6 2.6M126.1 113.6l6 -8m-2.4 1.3l2.4 -1.3l-0.6 2.6M126.1 107.3l6 -8m-2.4 1.3l2.4 -1.3l-0.5 2.6M126.1 101l5.9 -8m-2.4 1.3l2.4 -1.3l-0.5 2.6M126.2 94.6l5.8 -7.9m-2.3 1.3l2.3 -1.3l-0.5 2.6M126.3 88.3l5.7 -7.7m-2.3 1.2l2.3 -1.2l-0.5 2.5M126.4 81.8l5.4 -7.4m-2.2 1.2l2.2 -1.2l-0.5 2.4M126.7 75.3l4.8 -7m-2 1.2l2 -1.2l-0.4 2.3M127.2 68.7l3.8 -6.5m-1.7 1.1l1.7 -1.1l-0.2 2M127.8 62.4l2.6 -6.5m-1.4 1.3l1.4 -1.3l0.1 1.9M129 56.4l0.2 -7m-0.8 1.7l0.8 -1.7l0.8 1.7M131.3 49.3l-4.4 -5.4m0.5 1.8l-0.5 -1.8l1.7 0.8M132.5 41.2l-6.8 -1.8m1.5 1.2l-1.5 -1.2l1.9 -0.3M132.6 33.7l-7 0.5m1.8 0.7l-1.8 -0.7l1.6 -0.9M132.5 26.8l-6.7 1.9m1.9 0.3l-1.9 -0.3l1.4 -1.2M132.3 20l-6.4 2.9m1.9 0l-1.9 0l1.2 -1.4M132.1 13.3l-5.9 3.7m1.9 -0.2l-1.9 0.2l1 -1.6M131.8 6.6l-5.4 4.4m1.8 -0.5l-1.8 0.5l0.8 -1.7M131.8 126.1l6.1 -7.8m-2.4 1.2l2.4 -1.2l-0.6 2.6M131.8 119.8l6.1 -7.8m-2.4 1.2l2.4 -1.2l-0.6 2.6M131.8 113.5l6.1 -7.8m-2.4 1.2l2.4 -1.2l-0.6 2.6M131.9 107.2l6.1 -7.8m-2.4 1.2l2.4 -1.2l-0.6 2.6M131.9 100.9l6 -7.7m-2.4 1.2l2.4 -1.2l-0.6 2.6M131.9 94.5l6 -7.6m-2.3 1.2l2.3 -1.2l-0.6 2.5M132 88.1l5.8 -7.5m-2.3 1.2l2.3 -1.2l-0.6 2.5M132.2 81.7l5.4 -7.2m-2.2 1.1l2.2 -1.1l-0.5 2.4M132.5 75.2l4.9 -6.8m-2 1.1l2 -1.1l-0.4 2.2M132.9 68.6l3.9 -6.3m-1.7 1.1l1.7 -1.1l-0.2 2M133.5 62.4l2.9 -6.4m-1.4 1.2l1.4 -1.2l0 1.9M134.6 56.4l0.5 -7m-0.9 1.6l0.9 -1.6l0.7 1.8M137.1 49.3l-4.4 -5.4m0.5 1.8l-0.5 -1.8l1.7 0.8M138.3 40.9l-6.9 -1.2m1.6 1.1l-1.6 -1.1l1.8 -0.5M138.3 33.4l-6.9 1.3m1.8 0.5l-1.8 -0.5l1.5 -1.1M138.1 26.4l-6.5 2.6m1.9 0.1l-1.9 -0.1l1.3 -1.4M137.9 19.6l-6 3.6m1.9 -0.2l-1.9 0.2l1.1 -1.6M137.6 12.9l-5.5 4.4m1.8 -0.4l-1.8 0.4l0.8 -1.7M137.4 6.3l-4.9 5m1.8 -0.7l-1.8 0.7l0.6 -1.8M137.5 126l6.3 -7.5m-2.4 1.1l2.4 -1.1l-0.7 2.6M137.5 119.7l6.3 -7.5m-2.4 1.1l2.4 -1.1l-0.7 2.6M137.6 113.4l6.3 -7.5m-2.4 1.1l2.4 -1.1l-0.7 2.6M137.6 107l6.3 -7.5m-2.4 1.1l2.4 -1.1l-0.7 2.5M137.6 100.7l6.2 -7.4m-2.4 1.1l2.4 -1.1l-0.7 2.5M137.6 94.4l6.1 -7.3m-2.3 1.1l2.3 -1.1l-0.7 2.5M137.7 88l5.9 -7.2m-2.3 1.1l2.3 -1.1l-0.6 2.4M137.9 81.6l5.6 -6.9m-2.2 1.1l2.2 -1.1l-0.6 2.3M138.2 75.1l5 -6.5m-2 1l2 -1l-0.5 2.2M138.6 68.5l4.1 -6m-1.7 1l1.7 -1l-0.3 1.9M139.1 62.3l3.2 -6.2m-1.5 1.2l1.5 -1.2l-0.1 1.9M140.2 56.4l1.1 -6.9m-1 1.6l1 -1.6l0.5 1.8M142.9 49.3l-4.4 -5.4m0.5 1.8l-0.5 -1.8l1.7 0.8M144.2 40.5l-7 -0.3m1.7 0.9l-1.7 -0.9l1.7 -0.7M144 32.9l-6.6 2.2m1.9 0.2l-1.9 -0.2l1.4 -1.3M143.7 26l-6.1 3.5m1.9 -0.2l-1.9 0.2l1.1 -1.5M143.4 19.2l-5.5 4.4m1.8 -0.4l-1.8 0.4l0.8 -1.7M143.1 12.6l-4.9 5m1.8 -0.7l-1.8 0.7l0.6 -1.8M142.9 6l-4.3 5.5m1.7 -0.9l-1.7 0.9l0.4 -1.8M143.2 125.8l6.6 -7.2m-2.4 1l2.4 -1l-0.8 2.5M143.2 119.5l6.5 -7.2m-2.4 1l2.4 -1l-0.8 2.5M143.2 113.2l6.5 -7.2m-2.4 1l2.4 -1l-0.8 2.5M143.3 106.9l6.5 -7.2m-2.4 1l2.4 -1l-0.8 2.5M143.3 100.6l6.4 -7.1m-2.4 1l2.4 -1l-0.8 2.5M143.3 94.2l6.3 -7m-2.4 1l2.4 -1l-0.7 2.4M143.4 87.8l6.1 -6.9m-2.3 1l2.3 -1l-0.7 2.4M143.6 81.4l5.8 -6.6m-2.2 1l2.2 -1l-0.7 2.3M143.9 74.9l5.2 -6.2m-2 0.9l2 -0.9l-0.6 2.1M144.3 68.4l4.4 -5.8m-1.7 0.9l1.7 -0.9l-0.4 1.9M144.7 62.2l3.6 -6m-1.6 1.1l1.6 -1.1l-0.2 1.9M145.6 56.3l1.8 -6.8m-1.2 1.4l1.2 -1.4l0.3 1.9M148.7 49.4l-4.3 -5.5m0.4 1.8l-0.4 -1.8l1.7 0.9M150 39.9l-6.9 0.9m1.8 0.6l-1.8 -0.6l1.6 -1M149.6 32.4l-6.2 3.3m1.9 -0.1l-1.9 0.1l1.1 -1.5M149.2 25.5l-5.5 4.4m1.8 -0.4l-1.8 0.4l0.8 -1.7M148.9 18.9l-4.8 5.1m1.8 -0.7l-1.8 0.7l0.6 -1.8M148.6 12.3l-4.2 5.6m1.7 -0.9l-1.7 0.9l0.4 -1.8M148.3 5.8l-3.7 5.9m1.6 -1l-1.6 1l0.2 -1.9M148.9 125.6l6.8 -6.9m-2.5 0.9l2.5 -0.9l-0.9 2.5M148.9 119.3l6.8 -6.9m-2.4 0.9l2.4 -0.9l-0.9 2.5M148.9 113l6.8 -6.9m-2.4 0.9l2.4 -0.9l-0.9 2.5M148.9 106.7l6.7 -6.8m-2.4 0.9l2.4 -0.9l-0.9 2.4M149 100.4l6.7 -6.8m-2.4 0.9l2.4 -0.9l-0.9 2.4M149 94.1l6.6 -6.7m-2.4 0.9l2.4 -0.9l-0.8 2.4M149.1 87.7l6.4 -6.6m-2.3 0.9l2.3 -0.9l-0.8 2.3M149.3 81.3l6 -6.3m-2.2 0.9l2.2 -0.9l-0.8 2.2M149.6 74.8l5.5 -6m-2 0.8l2 -0.8l-0.7 2.1M150 68.2l4.7 -5.5m-1.8 0.8l1.8 -0.8l-0.5 1.9M150.3 62l4.1 -5.7m-1.6 0.9l1.6 -0.9l-0.3 1.9M150.9 56.1l2.8 -6.4m-1.4 1.3l1.4 -1.3l0.1 1.9M154.3 49.5l-4.1 -5.7m0.3 1.9l-0.3 -1.9l1.6 0.9M155.6 39l-6.5 2.6m1.9 0.1l-1.9 -0.1l1.3 -1.4M155 31.8l-5.5 4.4m1.8 -0.5l-1.8 0.5l0.8 -1.7M154.7 25.1l-4.7 5.2m1.7 -0.7l-1.7 0.7l0.6 -1.8M154.3 18.6l-4.1 5.7m1.6 -0.9l-1.6 0.9l0.3 -1.9M154.1 12.1l-3.5 6m1.6 -1.1l-1.6 1.1l0.2 -1.9M153.9 5.7l-3.1 6.3m1.5 -1.2l-1.5 1.2l0 -1.9M154.6 125.5l7.1 -6.6m-2.5 0.8l2.5 -0.8l-1 2.4M154.6 119.2l7.1 -6.6m-2.5 0.8l2.5 -0.8l-1 2.4M154.6 112.9l7 -6.5m-2.5 0.8l2.5 -0.8l-1 2.4M154.6 106.6l7 -6.5m-2.5 0.8l2.5 -0.8l-1 2.4M154.6 100.2l6.9 -6.5m-2.4 0.8l2.4 -0.8l-1 2.4M154.7 93.9l6.8 -6.4m-2.4 0.8l2.4 -0.8l-0.9 2.3M154.8 87.5l6.6 -6.3m-2.3 0.8l2.3 -0.8l-0.9 2.3M155 81.1l6.3 -6m-2.2 0.8l2.2 -0.8l-0.9 2.2M155.2 74.6l5.7 -5.7m-2.1 0.7l2.1 -0.7l-0.8 2M155.6 68.1l4.9 -5.2m-1.8 0.7l1.8 -0.7l-0.6 1.8M155.8 61.9l4.6 -5.3m-1.7 0.8l1.7 -0.8l-0.5 1.8M156.2 55.8l3.9 -5.8m-1.6 1l1.6 -1l-0.3 1.9M159.4 49.8l-2.7 -6.5m-0.1 1.9l0.1 -1.9l1.4 1.3M160.8 38.1l-5.4 4.4m1.8 -0.5l-1.8 0.5l0.8 -1.7M160.3 31.3l-4.5 5.4m1.7 -0.8l-1.7 0.8l0.5 -1.8M160 24.8l-3.9 5.8m1.6 -1l-1.6 1l0.3 -1.9M159.8 18.3l-3.3 6.2m1.5 -1.1l-1.5 1.1l0.1 -1.9M159.6 11.9l-2.9 6.4m1.4 -1.2l-1.4 1.2l0 -1.9M159.4 5.5l-2.6 6.5m1.4 -1.3l-1.4 1.3l-0.1 -1.9M160.2 125.4l7.3 -6.3m-2.5 0.7l2.5 -0.7l-1.1 2.4M160.2 119.1l7.3 -6.3m-2.5 0.7l2.5 -0.7l-1.1 2.4M160.3 112.7l7.3 -6.3m-2.5 0.7l2.5 -0.7l-1.1 2.4M160.3 106.4l7.2 -6.3m-2.5 0.7l2.5 -0.7l-1.1 2.4M160.3 100.1l7.2 -6.2m-2.5 0.7l2.5 -0.7l-1 2.3M160.4 93.8l7.1 -6.1m-2.4 0.7l2.4 -0.7l-1 2.3M160.5 87.4l6.9 -6m-2.4 0.7l2.4 -0.7l-1 2.3M160.6 81l6.5 -5.8m-2.3 0.7l2.3 -0.7l-0.9 2.2M160.9 74.5l6 -5.4m-2.1 0.6l2.1 -0.6l-0.8 2M161.3 68l5.2 -4.9m-1.8 0.6l1.8 -0.6l-0.7 1.8M161.4 61.7l5 -4.9m-1.8 0.6l1.8 -0.6l-0.7 1.8M161.5 55.4l4.9 -5m-1.8 0.7l1.8 -0.7l-0.6 1.8M160.8 48.3l6.1 -3.4m-1.9 0.1l1.9 -0.1l-1.1 1.5M165.7 37.3l-3.6 6m1.6 -1.1l-1.6 1.1l0.2 -1.9M165.6 30.9l-3.4 6.1m1.5 -1.1l-1.5 1.1l0.1 -1.9M165.4 24.5l-3 6.3m1.5 -1.2l-1.5 1.2l0 -1.9M165.2 18.2l-2.6 6.5m1.4 -1.3l-1.4 1.3l-0.1 -1.9M165.1 11.8l-2.3 6.6m1.3 -1.3l-1.3 1.3l-0.2 -1.9M165 5.5l-2.1 6.7m1.3 -1.4l-1.3 1.4l-0.2 -1.9M165.9 125.3l7.5 -6.1m-2.5 0.6l2.5 -0.6l-1.1 2.4M165.9 119l7.5 -6.1m-2.5 0.6l2.5 -0.6l-1.1 2.4M165.9 112.7l7.5 -6.1m-2.5 0.6l2.5 -0.6l-1.1 2.4M166 106.3l7.5 -6.1m-2.5 0.6l2.5 -0.6l-1.1 2.3M166 100l7.4 -6.1m-2.5 0.6l2.5 -0.6l-1.1 2.3M166.1 93.7l7.3 -6m-2.5 0.6l2.5 -0.6l-1.1 2.3M166.2 87.3l7.1 -5.9m-2.4 0.6l2.4 -0.6l-1.1 2.2M166.3 80.9l6.8 -5.6m-2.3 0.6l2.3 -0.6l-1 2.1M166.6 74.4l6.2 -5.3m-2.1 0.6l2.1 -0.6l-0.9 2M166.9 67.9l5.5 -4.7m-1.9 0.5l1.9 -0.5l-0.8 1.8M167 61.5l5.3 -4.5m-1.8 0.5l1.8 -0.5l-0.8 1.7M166.9 55l5.6 -4.2m-1.9 0.4l1.9 -0.4l-0.9 1.7M166.2 46.2l7 0.8m-1.6 -1l1.6 1l-1.8 0.6M170.4 36.9l-1.4 6.9m1.1 -1.5l-1.1 1.5l-0.4 -1.8M170.8 30.7l-2.2 6.7m1.3 -1.4l-1.3 1.4l-0.2 -1.9M170.8 24.4l-2.1 6.7m1.3 -1.4l-1.3 1.4l-0.2 -1.9M170.7 18l-1.9 6.7m1.2 -1.4l-1.2 1.4l-0.3 -1.9M170.6 11.7l-1.7 6.8m1.2 -1.5l-1.2 1.5l-0.3 -1.9M170.4 5.4l-1.4 6.8m1.1 -1.5l-1.1 1.5l-0.4 -1.8M171.6 125.3l7.8 -6.1m-2.6 0.6l2.6 -0.6l-1.2 2.4M171.6 119l7.7 -6.1m-2.6 0.6l2.6 -0.6l-1.2 2.4M171.6 112.6l7.7 -6.1m-2.6 0.6l2.6 -0.6l-1.2 2.4M171.7 106.3l7.7 -6.1m-2.6 0.6l2.6 -0.6l-1.2 2.4M171.7 100l7.6 -6m-2.6 0.6l2.6 -0.6l-1.2 2.3M171.7 93.7l7.5 -6m-2.5 0.6l2.5 -0.6l-1.2 2.3M171.8 87.3l7.3 -5.8m-2.5 0.6l2.5 -0.6l-1.1 2.3M172 80.9l7 -5.6m-2.4 0.6l2.4 -0.6l-1.1 2.2M172.2 74.4l6.5 -5.2m-2.2 0.5l2.2 -0.5l-1 2M172.6 67.8l5.8 -4.7m-2 0.5l2 -0.5l-0.9 1.8M172.7 61.3l5.6 -4.2m-1.8 0.4l1.8 -0.4l-0.9 1.7M172.5 54.7l6 -3.6m-1.9 0.2l1.9 -0.2l-1.1 1.6M172 46.3l7 0.7m-1.6 -1l1.6 1l-1.8 0.6M175 36.8l0.9 6.9m0.6 -1.8l-0.6 1.8l-1 -1.6M176 30.5l-0.9 6.9m1 -1.6l-1 1.6l-0.6 -1.8M176.1 24.3l-1.2 6.9m1.1 -1.6l-1.1 1.6l-0.5 -1.8M176 17.9l-1 6.9m1 -1.6l-1 1.6l-0.5 -1.8M175.8 11.6l-0.5 7m0.9 -1.6l-0.9 1.6l-0.7 -1.8M175.3 5.3l0.3 7m0.7 -1.7l-0.7 1.7l-0.9 -1.7M177.3 125.4l8 -6.3m-2.6 0.6l2.6 -0.6l-1.2 2.4M177.3 119l8 -6.3m-2.6 0.6l2.6 -0.6l-1.2 2.4M177.3 112.7l7.9 -6.3m-2.6 0.6l2.6 -0.6l-1.2 2.4M177.3 106.4l7.9 -6.3m-2.6 0.6l2.6 -0.6l-1.2 2.4M177.4 100.1l7.9 -6.2m-2.6 0.6l2.6 -0.6l-1.2 2.4M177.4 93.8l7.7 -6.2m-2.6 0.6l2.6 -0.6l-1.2 2.4M177.5 87.4l7.6 -6m-2.5 0.6l2.5 -0.6l-1.2 2.3M177.7 81l7.3 -5.8m-2.4 0.6l2.4 -0.6l-1.1 2.3M177.9 74.5l6.8 -5.4m-2.3 0.6l2.3 -0.6l-1 2.1M178.2 67.9l6.2 -4.9m-2.1 0.5l2.1 -0.5l-1 1.9M178.5 61.3l5.7 -4.1m-1.9 0.4l1.9 -0.4l-0.9 1.7M178.2 54.6l6.1 -3.4m-1.9 0.1l1.9 -0.1l-1.1 1.5M177.8 46.8l7 -0.3m-1.7 -0.7l1.7 0.7l-1.7 0.9M179.5 37.3l3.6 6m-0.2 -1.9l0.2 1.9l-1.6 -1.1M180.9 30.5l0.8 7m0.6 -1.8l-0.6 1.8l-1 -1.6M181.1 24.2l0.4 7m0.7 -1.8l-0.7 1.8l-0.9 -1.7M180.9 17.9l0.9 6.9m0.6 -1.8l-0.6 1.8l-1 -1.6M180.5 11.7l1.5 6.8m0.4 -1.8l-0.4 1.8l-1.2 -1.5M180.3 5.4l2 6.7m0.3 -1.9l-0.3 1.9l-1.3 -1.4M183 125.6l8.3 -6.8m-2.6 0.7l2.6 -0.7l-1.2 2.4M183 119.3l8.2 -6.8m-2.6 0.7l2.6 -0.7l-1.2 2.4M183 113l8.2 -6.8m-2.6 0.7l2.6 -0.7l-1.2 2.4M183 106.7l8.2 -6.7m-2.6 0.7l2.6 -0.7l-1.2 2.4M183 100.3l8.1 -6.7m-2.6 0.7l2.6 -0.7l-1.2 2.4M183.1 94l8 -6.6m-2.6 0.7l2.6 -0.7l-1.2 2.4M183.2 87.7l7.9 -6.5m-2.6 0.7l2.6 -0.7l-1.2 2.4M183.3 81.2l7.6 -6.3m-2.6 0.7l2.6 -0.7l-1.1 2.4M183.5 74.8l7.2 -5.9m-2.4 0.6l2.4 -0.6l-1.1 2.3M183.8 68.2l6.6 -5.3m-2.2 0.5l2.2 -0.5l-1 2.1M184.1 61.4l6 -4.5m-2 0.4l2 -0.4l-1 1.8M184.1 54.7l6 -3.6m-1.9 0.2l1.9 -0.2l-1.1 1.6M183.7 47.2l6.9 -1.2m-1.8 -0.5l1.8 0.5l-1.5 1.1M184.4 38.1l5.5 4.3m-0.8 -1.7l0.8 1.7l-1.8 -0.4M185.6 30.8l3 6.3m0 -1.9l0 1.9l-1.5 -1.2M185.9 24.4l2.4 6.6m0.2 -1.9l-0.2 1.9l-1.3 -1.3M185.9 18.1l2.5 6.6m0.1 -1.9l-0.1 1.9l-1.3 -1.3M185.8 11.8l2.6 6.7m0.1 -1.9l-0.1 1.9l-1.4 -1.3M185.7 5.4l2.7 6.8m0.1 -2l-0.1 2l-1.4 -1.4M188.6 126l8.6 -7.5m-2.6 0.8l2.6 -0.8l-1.1 2.5M188.6 119.7l8.6 -7.5m-2.6 0.8l2.6 -0.8l-1.1 2.5M188.6 113.4l8.6 -7.5m-2.6 0.8l2.6 -0.8l-1.1 2.5M188.6 107l8.5 -7.5m-2.6 0.8l2.6 -0.8l-1.1 2.5M188.6 100.7l8.5 -7.5m-2.6 0.8l2.6 -0.8l-1.1 2.5M188.7 94.4l8.4 -7.4m-2.6 0.8l2.6 -0.8l-1.1 2.5M188.8 88l8.3 -7.3m-2.6 0.8l2.6 -0.8l-1.1 2.5M188.9 81.6l8.1 -7.1m-2.6 0.8l2.6 -0.8l-1.1 2.5M189 75.2l7.7 -6.7m-2.6 0.8l2.6 -0.8l-1.1 2.5M189.3 68.6l7.2 -6.1m-2.5 0.7l2.5 -0.7l-1.1 2.3M189.6 61.8l6.6 -5.2m-2.2 0.5l2.2 -0.5l-1 2M189.8 54.6l6.2 -3.5m-1.9 0.2l1.9 -0.2l-1.1 1.6M189.4 46.7l7 -0.3m-1.7 -0.7l1.7 0.7l-1.7 0.9M190.2 38.1l5.5 4.4m-0.8 -1.7l0.8 1.7l-1.8 -0.4M191 31.1l3.8 5.9m-0.3 -1.9l0.3 1.9l-1.6 -1M191.3 24.5l3.3 6.3m-0.1 -1.9l0.1 1.9l-1.5 -1.2M191.3 18.1l3.2 6.7m0 -2l0 2l-1.5 -1.3M191.4 11.7l3.1 6.8m0 -2l0 2l-1.5 -1.3M191.5 5.5l2.8 6.7m0.1 -1.9l-0.1 1.9l-1.4 -1.3M194.2 126.4l9 -8.5m-2.6 0.8l2.6 -0.8l-1 2.5M194.2 120.1l9 -8.5m-2.6 0.8l2.6 -0.8l-1 2.5M194.2 113.8l9 -8.5m-2.6 0.8l2.6 -0.8l-1 2.5M194.2 107.5l9 -8.5m-2.6 0.8l2.6 -0.8l-1 2.5M194.2 101.2l8.9 -8.4m-2.6 0.8l2.6 -0.8l-1 2.5M194.3 94.9l8.9 -8.4m-2.6 0.8l2.6 -0.8l-1 2.5M194.3 88.5l8.8 -8.3m-2.6 0.8l2.6 -0.8l-1 2.5M194.4 82.1l8.6 -8.1m-2.6 0.8l2.6 -0.8l-1 2.5M194.5 75.7l8.3 -7.7m-2.6 0.8l2.6 -0.8l-1 2.5M194.7 69l7.9 -6.9m-2.6 0.7l2.6 -0.7l-1.1 2.5M194.9 61.8l7.5 -5.2m-2.4 0.4l2.4 -0.4l-1.3 2.1M195 53.9l7.3 -2m-2 -0.3l2 0.3l-1.6 1.3M195.4 45.5l6.6 2.3m-1.4 -1.3l1.4 1.3l-1.9 0.2M196.1 37.9l5.1 4.9m-0.7 -1.8l0.7 1.8l-1.8 -0.6M196.5 31l4.3 5.9m-0.4 -1.9l0.4 1.9l-1.7 -1M196.8 24.5l3.9 6.4m-0.2 -2l0.2 2l-1.7 -1.1M196.9 18.2l3.6 6.5m-0.1 -2l0.1 2l-1.6 -1.2M197.1 11.9l3.1 6.3m0 -1.9l0 1.9l-1.5 -1.2M197.4 5.6l2.7 6.5m0.1 -1.9l-0.1 1.9l-1.4 -1.3M199.8 126.9l9.4 -9.4m-2.5 0.9l2.5 -0.9l-0.9 2.5M199.8 120.6l9.4 -9.4m-2.5 0.9l2.5 -0.9l-0.9 2.5M199.8 114.3l9.4 -9.4m-2.5 0.9l2.5 -0.9l-0.9 2.5M199.8 108l9.4 -9.4m-2.5 0.9l2.5 -0.9l-0.9 2.5M199.8 101.7l9.4 -9.4m-2.5 0.9l2.5 -0.9l-0.9 2.5M199.8 95.4l9.3 -9.4m-2.5 0.9l2.5 -0.9l-0.9 2.5M199.9 89l9.3 -9.3m-2.5 0.9l2.5 -0.9l-0.9 2.5M199.9 82.6l9.1 -9m-2.5 0.9l2.5 -0.9l-0.9 2.5M200 75.9l8.9 -8.2m-2.6 0.8l2.6 -0.8l-1 2.5M200.2 68.7l8.6 -6.4m-2.6 0.5l2.6 -0.5l-1.3 2.4M200.3 60.8l8.4 -3.2m-2.4 -0.2l2.4 0.2l-1.7 1.7M200.6 52.6l7.8 0.6m-1.8 -1l1.8 1l-2 0.7M201.1 44.9l6.7 3.4m-1.3 -1.6l1.3 1.6l-2 -0.1M201.6 37.9l5.8 4.7m-0.9 -1.8l0.9 1.8l-2 -0.5M201.9 31.3l5.2 5.3m-0.7 -1.9l0.7 1.9l-1.9 -0.7M202.2 24.9l4.7 5.5m-0.5 -1.9l0.5 1.9l-1.8 -0.8M202.4 18.6l4.2 5.6m-0.4 -1.8l0.4 1.8l-1.7 -0.9M202.6 12.2l3.9 5.8m-0.3 -1.9l0.3 1.9l-1.6 -1M202.8 5.7l3.4 6.1m-0.1 -1.9l0.1 1.9l-1.5 -1.1M205.4 127.3l9.8 -10.2m-2.5 1l2.5 -1l-0.9 2.6M205.4 121l9.8 -10.2m-2.5 1l2.5 -1l-0.9 2.6M205.4 114.7l9.8 -10.2m-2.5 1l2.5 -1l-0.9 2.6M205.4 108.4l9.8 -10.2m-2.5 1l2.5 -1l-0.9 2.6M205.4 102.1l9.8 -10.2m-2.5 1l2.5 -1l-0.9 2.6M205.4 95.8l9.7 -10.1m-2.5 1l2.5 -1l-0.9 2.6M205.5 89.4l9.7 -9.9m-2.5 1l2.5 -1l-0.9 2.5M205.5 82.7l9.5 -9.2m-2.6 0.9l2.6 -0.9l-1 2.5M205.7 75.5l9.3 -7.4m-2.6 0.6l2.6 -0.6l-1.2 2.4M205.8 67.7l9 -4.5m-2.7 0.1l2.7 -0.1l-1.7 2.1M205.9 59.9l8.7 -1.4m-2.3 -0.6l2.3 0.6l-2 1.3M206.2 52.5l8.2 0.7m-1.9 -1.1l1.9 1.1l-2.1 0.8M206.4 45.7l7.7 1.8m-1.7 -1.3l1.7 1.3l-2.1 0.4M206.6 39.2l7.4 2.1m-1.6 -1.4l1.6 1.4l-2.1 0.3M206.8 32.9l7.1 2.2m-1.5 -1.4l1.5 1.4l-2 0.3M207 26.4l6.6 2.5m-1.3 -1.4l1.3 1.4l-1.9 0.1M207.2 19.7l6.1 3.4m-1.1 -1.5l1.1 1.5l-1.9 -0.1M207.6 12.9l5.4 4.4m-0.8 -1.7l0.8 1.7l-1.8 -0.5M208 6.2l4.7 5.2m-0.6 -1.8l0.6 1.8l-1.7 -0.7M211.1 127.6l10 -10.7m-2.5 1l2.5 -1l-0.8 2.6M211.1 121.3l10 -10.7m-2.5 1l2.5 -1l-0.8 2.6M211.1 115l10 -10.7m-2.5 1l2.5 -1l-0.8 2.6M211.1 108.6l10 -10.7m-2.5 1l2.5 -1l-0.8 2.6M211.1 102.3l10 -10.7m-2.5 1l2.5 -1l-0.8 2.6M211.1 96l10 -10.5m-2.5 1l2.5 -1l-0.9 2.6M211.2 89.4l9.9 -9.9m-2.5 0.9l2.5 -0.9l-0.9 2.5M211.3 82.3l9.7 -8.4m-2.6 0.7l2.6 -0.7l-1.1 2.5M211.4 74.8l9.5 -6.1m-2.7 0.4l2.7 -0.4l-1.4 2.3M211.5 67.4l9.3 -3.8m-2.7 -0.1l2.7 0.1l-1.8 2M211.6 60.5l9.1 -2.6m-2.5 -0.4l2.5 0.4l-1.9 1.7M211.6 54.2l9 -2.6m-2.5 -0.4l2.5 0.4l-1.9 1.7M211.7 48.2l8.8 -3.2m-2.5 -0.2l2.5 0.2l-1.8 1.8M211.8 42.1l8.6 -3.6m-2.5 -0.1l2.5 0.1l-1.7 1.9M212 35.4l8.3 -2.9m-2.4 -0.2l2.4 0.2l-1.7 1.6M212.1 28.1l7.9 -0.9m-2 -0.7l2 0.7l-1.8 1.1M212.5 20.6l7.2 1.6m-1.6 -1.2l1.6 1.2l-1.9 0.4M213 13.3l6.2 3.5m-1.1 -1.6l1.1 1.6l-1.9 -0.2M213.4 6.5l5.4 4.6m-0.8 -1.7l0.8 1.7l-1.8 -0.5M216.8 127.7l10.2 -11m-2.5 1l2.5 -1l-0.8 2.6M216.8 121.4l10.2 -11m-2.5 1l2.5 -1l-0.8 2.6M216.8 115.1l10.2 -11m-2.5 1l2.5 -1l-0.8 2.6M216.8 108.8l10.2 -11m-2.5 1l2.5 -1l-0.8 2.6M216.8 102.4l10.2 -10.9m-2.5 1l2.5 -1l-0.8 2.6M216.8 95.9l10.1 -10.5m-2.5 1l2.5 -1l-0.9 2.6M216.9 89.1l10 -9.5m-2.6 0.9l2.6 -0.9l-1 2.5M217 82l9.8 -7.8m-2.6 0.6l2.6 -0.6l-1.2 2.4M217.1 75l9.6 -6.3m-2.7 0.4l2.7 -0.4l-1.4 2.3M217.1 68.4l9.5 -5.8m-2.7 0.3l2.7 -0.3l-1.5 2.3M217.1 62.4l9.5 -6.3m-2.7 0.4l2.7 -0.4l-1.4 2.3M217.2 56.5l9.5 -7.2m-2.6 0.6l2.6 -0.6l-1.3 2.4M217.2 50.4l9.3 -7.6m-2.6 0.7l2.6 -0.7l-1.2 2.4M217.3 43.7l9.1 -6.8m-2.6 0.6l2.6 -0.6l-1.3 2.4M217.5 36.4l8.9 -4.8m-2.7 0.2l2.7 -0.2l-1.6 2.2M217.6 28.7l8.6 -1.9m-2.3 -0.5l2.3 0.5l-1.9 1.5M217.9 20.8l8 1.2m-1.8 -1.2l1.8 1.2l-2.1 0.6M218.4 13.4l7 3.5m-1.3 -1.6l1.3 1.6l-2.1 -0.1M218.8 6.4l6.1 4.7m-1 -1.9l1 1.9l-2 -0.5M222.6 127.8l10.3 -11.2m-2.5 1l2.5 -1l-0.8 2.6M222.6 121.5l10.3 -11.2m-2.5 1l2.5 -1l-0.8 2.6M222.6 115.2l10.3 -11.2m-2.5 1l2.5 -1l-0.8 2.6M222.6 108.8l10.3 -11.1m-2.5 1l2.5 -1l-0.8 2.6M222.6 102.4l10.2 -10.9m-2.5 1l2.5 -1l-0.8 2.6M222.6 95.8l10.1 -10.3m-2.5 0.9l2.5 -0.9l-0.9 2.5M222.7 89.1l10 -9.4m-2.6 0.8l2.6 -0.8l-1 2.5M222.8 82.4l9.9 -8.6m-2.6 0.7l2.6 -0.7l-1.1 2.5M222.8 76l9.9 -8.4m-2.6 0.7l2.6 -0.7l-1.1 2.5M222.8 69.9l9.9 -8.9m-2.6 0.8l2.6 -0.8l-1.1 2.5M222.7 63.9l9.9 -9.5m-2.6 0.9l2.6 -0.9l-1 2.5M222.8 57.7l9.9 -9.7m-2.5 0.9l2.5 -0.9l-0.9 2.5M222.8 51.2l9.7 -9.1m-2.6 0.8l2.6 -0.8l-1 2.5M223 44.1l9.5 -7.7m-2.6 0.7l2.6 -0.7l-1.2 2.4M223 36.7l9.3 -5.3m-2.7 0.2l2.7 -0.2l-1.6 2.2M223.2 28.8l9.1 -2.1m-2.5 -0.5l2.5 0.5l-2 1.6M223.5 20.8l8.4 1.2m-1.9 -1.3l1.9 1.3l-2.2 0.7M224 13.3l7.4 3.6m-1.4 -1.7l1.4 1.7l-2.2 0M224.4 6.3l6.6 5m-1 -2l1 2l-2.2 -0.5M228.3 127.8l10.3 -11.3m-2.5 1l2.5 -1l-0.8 2.6M228.3 121.5l10.3 -11.3m-2.5 1l2.5 -1l-0.8 2.6M228.3 115.2l10.3 -11.2m-2.5 1l2.5 -1l-0.8 2.6M228.4 108.8l10.3 -11.1m-2.5 1l2.5 -1l-0.8 2.6M228.4 102.4l10.2 -10.8m-2.5 1l2.5 -1l-0.9 2.6M228.4 95.9l10.2 -10.4m-2.5 1l2.5 -1l-0.9 2.5M228.4 89.5l10.1 -10.1m-2.5 0.9l2.5 -0.9l-0.9 2.5M228.4 83.1l10.1 -10.1m-2.5 0.9l2.5 -0.9l-0.9 2.5M228.4 77l10.1 -10.3m-2.5 0.9l2.5 -0.9l-0.9 2.5M228.4 70.8l10.2 -10.6m-2.5 1l2.5 -1l-0.9 2.6M228.4 64.5l10.1 -10.7m-2.5 1l2.5 -1l-0.9 2.6M228.5 58.1l10 -10.3m-2.5 1l2.5 -1l-0.9 2.5M228.6 51.3l9.9 -9.5m-2.6 0.9l2.6 -0.9l-1 2.5M228.6 44.3l9.7 -7.9m-2.6 0.7l2.6 -0.7l-1.2 2.4M228.7 36.7l9.6 -5.5m-2.7 0.2l2.7 -0.2l-1.6 2.2M228.8 28.8l9.4 -2.1m-2.5 -0.5l2.5 0.5l-2 1.6M229.1 20.7l8.7 1.3m-2 -1.3l2 1.3l-2.3 0.7M229.7 13.2l7.7 3.8m-1.4 -1.8l1.4 1.8l-2.3 -0.1M230.1 6.2l6.8 5.2m-1.1 -2.1l1.1 2.1l-2.3 -0.5M234.1 127.9l10.3 -11.3m-2.5 1l2.5 -1l-0.8 2.6M234.1 121.6l10.3 -11.3m-2.5 1l2.5 -1l-0.8 2.6M234.1 115.2l10.3 -11.3m-2.5 1l2.5 -1l-0.8 2.6M234.2 108.9l10.3 -11.1m-2.5 1l2.5 -1l-0.8 2.6M234.2 102.5l10.3 -11m-2.5 1l2.5 -1l-0.8 2.6M234.2 96.2l10.3 -10.9m-2.5 1l2.5 -1l-0.8 2.6M234.2 89.9l10.3 -10.9m-2.5 1l2.5 -1l-0.8 2.6M234.2 83.6l10.3 -11m-2.5 1l2.5 -1l-0.8 2.6M234.2 77.4l10.3 -11.1m-2.5 1l2.5 -1l-0.8 2.6M234.2 71l10.3 -11.1m-2.5 1l2.5 -1l-0.8 2.6M234.2 64.7l10.2 -10.9m-2.5 1l2.5 -1l-0.8 2.6M234.2 58.1l10.1 -10.5m-2.5 1l2.5 -1l-0.9 2.6M234.3 51.4l10 -9.6m-2.6 0.9l2.6 -0.9l-1 2.5M234.4 44.3l9.8 -8m-2.6 0.7l2.6 -0.7l-1.2 2.4M234.4 36.7l9.7 -5.5m-2.7 0.2l2.7 -0.2l-1.6 2.2M234.5 28.7l9.5 -2m-2.6 -0.6l2.6 0.6l-2.1 1.6M234.9 20.6l8.9 1.5m-2 -1.4l2 1.4l-2.3 0.6M235.4 13.1l7.8 4m-1.5 -1.9l1.5 1.9l-2.4 -0.1M235.8 6.1l7 5.4m-1.1 -2.1l1.1 2.1l-2.3 -0.5M239.9 127.9l10.3 -11.4m-2.5 1l2.5 -1l-0.8 2.6M239.9 121.6l10.3 -11.3m-2.5 1l2.5 -1l-0.8 2.6M239.9 115.3l10.3 -11.3m-2.5 1l2.5 -1l-0.8 2.6M239.9 108.9l10.3 -11.3m-2.5 1l2.5 -1l-0.8 2.6M239.9 102.6l10.3 -11.3m-2.5 1l2.5 -1l-0.8 2.6M239.9 96.3l10.3 -11.3m-2.5 1l2.5 -1l-0.8 2.6M239.9 90l10.3 -11.3m-2.5 1l2.5 -1l-0.8 2.6M239.9 83.8l10.3 -11.3m-2.5 1l2.5 -1l-0.8 2.6M240 77.4l10.3 -11.3m-2.5 1l2.5 -1l-0.8 2.6M240 71.1l10.3 -11.2m-2.5 1l2.5 -1l-0.8 2.6M240 64.7l10.2 -11m-2.5 1l2.5 -1l-0.8 2.6M240 58.2l10.2 -10.5m-2.5 1l2.5 -1l-0.9 2.6M240.1 51.4l10 -9.7m-2.6 0.9l2.6 -0.9l-1 2.5M240.1 44.3l9.9 -8m-2.6 0.7l2.6 -0.7l-1.2 2.4M240.2 36.7l9.8 -5.4m-2.7 0.2l2.7 -0.2l-1.6 2.2M240.3 28.7l9.6 -1.9m-2.6 -0.6l2.6 0.6l-2.1 1.6M240.6 20.6l8.9 1.7m-2 -1.4l2 1.4l-2.4 0.6M241.2 13l7.9 4.2m-1.5 -1.9l1.5 1.9l-2.4 -0.1M241.6 6l7 5.6m-1.1 -2.2l1.1 2.2l-2.4 -0.6M245.7 127.9l10.3 -11.4m-2.5 1l2.5 -1l-0.8 2.6M245.7 121.6l10.3 -11.4m-2.5 1l2.5 -1l-0.8 2.6M245.7 115.3l10.3 -11.4m-2.5 1l2.5 -1l-0.8 2.6M245.7 109l10.3 -11.4m-2.5 1l2.5 -1l-0.8 2.6M245.7 102.7l10.3 -11.4m-2.5 1l2.5 -1l-0.8 2.6M245.7 96.4l10.3 -11.4m-2.5 1l2.5 -1l-0.8 2.6M245.7 90.1l10.3 -11.4m-2.5 1l2.5 -1l-0.8 2.6M245.7 83.8l10.3 -11.4m-2.5 1l2.5 -1l-0.8 2.6M245.7 77.5l10.3 -11.3m-2.5 1l2.5 -1l-0.8 2.6M245.8 71.1l10.3 -11.2m-2.5 1l2.5 -1l-0.8 2.6M245.8 64.7l10.2 -11m-2.5 1l2.5 -1l-0.8 2.6M245.8 58.2l10.2 -10.6m-2.5 1l2.5 -1l-0.9 2.6M245.9 51.4l10.1 -9.7m-2.6 0.9l2.6 -0.9l-1 2.5M245.9 44.3l10 -8m-2.6 0.7l2.6 -0.7l-1.2 2.4M246 36.7l9.9 -5.4m-2.7 0.2l2.7 -0.2l-1.6 2.2M246.1 28.6l9.7 -1.8m-2.6 -0.7l2.6 0.7l-2.2 1.6M246.4 20.5l9 1.8m-2 -1.5l2 1.5l-2.4 0.6M246.9 13l7.9 4.3m-1.5 -1.9l1.5 1.9l-2.4 -0.1M247.4 6l7.1 5.6m-1.1 -2.2l1.1 2.2l-2.4 -0.6M251.5 127.9l10.3 -11.4m-2.5 1l2.5 -1l-0.8 2.6M251.5 121.6l10.3 -11.4m-2.5 1l2.5 -1l-0.8 2.6M251.5 115.3l10.3 -11.4m-2.5 1l2.5 -1l-0.8 2.6M251.5 109l10.3 -11.4m-2.5 1l2.5 -1l-0.8 2.6M251.5 102.7l10.3 -11.4m-2.5 1l2.5 -1l-0.8 2.6M251.5 96.4l10.3 -11.4m-2.5 1l2.5 -1l-0.8 2.6M251.5 90.1l10.3 -11.4m-2.5 1l2.5 -1l-0.8 2.6M251.5 83.8l10.3 -11.4m-2.5 1l2.5 -1l-0.8 2.6M251.5 77.5l10.3 -11.3m-2.5 1l2.5 -1l-0.8 2.6M251.6 71.1l10.3 -11.2m-2.5 1l2.5 -1l-0.8 2.6M251.6 64.7l10.2 -11m-2.5 1l2.5 -1l-0.8 2.6M251.6 58.2l10.2 -10.6m-2.5 1l2.5 -1l-0.9 2.6M251.7 51.4l10.1 -9.7m-2.6 0.9l2.6 -0.9l-1 2.5M251.7 44.3l10 -8.1m-2.6 0.6l2.6 -0.6l-1.2 2.4M251.7 36.7l9.9 -5.4m-2.7 0.2l2.7 -0.2l-1.6 2.2M251.8 28.6l9.7 -1.8m-2.6 -0.7l2.6 0.7l-2.2 1.5M252.2 20.5l9 1.8m-2 -1.5l2 1.5l-2.4 0.6M252.7 12.9l8 4.3m-1.5 -2l1.5 2l-2.4 -0.1M253.1 5.9l7.1 5.7m-1.1 -2.2l1.1 2.2l-2.4 -0.6M257.3 127.9l10.3 -11.4m-2.5 1l2.5 -1l-0.8 2.6M257.3 121.6l10.3 -11.4m-2.5 1l2.5 -1l-0.8 2.6M257.3 115.3l10.3 -11.4m-2.5 1l2.5 -1l-0.8 2.6M257.3 109l10.3 -11.4m-2.5 1l2.5 -1l-0.8 2.6M257.3 102.7l10.3 -11.4m-2.5 1l2.5 -1l-0.8 2.6M257.3 96.4l10.3 -11.4m-2.5 1l2.5 -1l-0.8 2.6M257.3 90.1l10.3 -11.4m-2.5 1l2.5 -1l-0.8 2.6M257.3 83.8l10.3 -11.4m-2.5 1l2.5 -1l-0.8 2.6M257.3 77.5l10.3 -11.3m-2.5 1l2.5 -1l-0.8 2.6M257.4 71.1l10.3 -11.2m-2.5 1l2.5 -1l-0.8 2.6M257.4 64.7l10.3 -11m-2.5 1l2.5 -1l-0.8 2.6M257.4 58.2l10.2 -10.6m-2.5 1l2.5 -1l-0.9 2.6M257.4 51.5l10.1 -9.7m-2.6 0.9l2.6 -0.9l-1 2.5M257.5 44.3l10 -8m-2.6 0.6l2.6 -0.6l-1.2 2.4M257.5 36.7l9.9 -5.4m-2.7 0.2l2.7 -0.2l-1.6 2.2M257.6 28.6l9.8 -1.7m-2.6 -0.7l2.6 0.7l-2.2 1.5M258 20.5l9 1.9m-2 -1.5l2 1.5l-2.4 0.6M258.5 12.9l8 4.4m-1.5 -2l1.5 2l-2.5 -0.2M258.9 5.9l7.2 5.7m-1.1 -2.2l1.1 2.2l-2.4 -0.6M263.1 127.9l10.3 -11.4m-2.5 1l2.5 -1l-0.8 2.6M263.1 121.6l10.3 -11.4m-2.5 1l2.5 -1l-0.8 2.6M263.1 115.3l10.3 -11.4m-2.5 1l2.5 -1l-0.8 2.6M263.1 109l10.3 -11.4m-2.5 1l2.5 -1l-0.8 2.6M263.1 102.7l10.3 -11.4m-2.5 1l2.5 -1l-0.8 2.6M263.1 96.4l10.3 -11.4m-2.5 1l2.5 -1l-0.8 2.6M263.1 90.1l10.3 -11.4m-2.5 1l2.5 -1l-0.8 2.6M263.1 83.8l10.3 -11.4m-2.5 1l2.5 -1l-0.8 2.6M263.1 77.5l10.3 -11.3m-2.5 1l2.5 -1l-0.8 2.6M263.2 71.1l10.3 -11.2m-2.5 1l2.5 -1l-0.8 2.6M263.2 64.7l10.3 -11m-2.5 1l2.5 -1l-0.8 2.6M263.2 58.2l10.2 -10.6m-2.5 1l2.5 -1l-0.9 2.6M263.2 51.5l10.1 -9.7m-2.6 0.9l2.6 -0.9l-1 2.5M263.3 44.3l10 -8m-2.6 0.6l2.6 -0.6l-1.2 2.4M263.3 36.7l10 -5.3m-2.7 0.1l2.7 -0.1l-1.6 2.2M263.4 28.5l9.8 -1.7m-2.6 -0.7l2.6 0.7l-2.2 1.5M263.8 20.4l9 1.9m-2 -1.5l2 1.5l-2.4 0.6M264.3 12.9l8 4.4m-1.5 -2l1.5 2l-2.5 -0.2M264.7 5.9l7.2 5.8m-1.1 -2.2l1.1 2.2l-2.4 -0.6M268.9 127.9l10.3 -11.4m-2.5 1l2.5 -1l-0.8 2.6M268.9 121.6l10.3 -11.4m-2.5 1l2.5 -1l-0.8 2.6M268.9 115.3l10.3 -11.4m-2.5 1l2.5 -1l-0.8 2.6M268.9 109l10.3 -11.4m-2.5 1l2.5 -1l-0.8 2.6M268.9 102.7l10.3 -11.4m-2.5 1l2.5 -1l-0.8 2.6M268.9 96.4l10.3 -11.4m-2.5 1l2.5 -1l-0.8 2.6M268.9 90.1l10.3 -11.4m-2.5 1l2.5 -1l-0.8 2.6M268.9 83.8l10.3 -11.4m-2.5 1l2.5 -1l-0.8 2.6M268.9 77.5l10.3 -11.3m-2.5 1l2.5 -1l-0.8 2.6M268.9 71.1l10.3 -11.2m-2.5 1l2.5 -1l-0.8 2.6M269 64.7l10.3 -11m-2.5 1l2.5 -1l-0.8 2.6M269 58.2l10.2 -10.6m-2.5 1l2.5 -1l-0.9 2.6M269 51.4l10.1 -9.7m-2.6 0.9l2.6 -0.9l-1 2.5M269.1 44.3l10.1 -8m-2.6 0.6l2.6 -0.6l-1.2 2.4M269.1 36.7l10 -5.3m-2.7 0.1l2.7 -0.1l-1.6 2.2M269.2 28.5l9.8 -1.7m-2.6 -0.7l2.6 0.7l-2.2 1.5M269.6 20.4l9.1 1.9m-2 -1.5l2 1.5l-2.4 0.6M270.1 12.9l8 4.4m-1.5 -2l1.5 2l-2.5 -0.2M270.5 5.9l7.2 5.8m-1.1 -2.2l1.1 2.2l-2.4 -0.6M274.7 127.9l10.4 -11.4m-2.5 1l2.5 -1l-0.8 2.6M274.7 121.6l10.4 -11.4m-2.5 1l2.5 -1l-0.8 2.6M274.7 115.3l10.4 -11.4m-2.5 1l2.5 -1l-0.8 2.6M274.7 109l10.4 -11.4m-2.5 1l2.5 -1l-0.8 2.6M274.7 102.7l10.4 -11.4m-2.5 1l2.5 -1l-0.8 2.6M274.7 96.4l10.4 -11.4m-2.5 1l2.5 -1l-0.8 2.6M274.7 90.1l10.4 -11.4m-2.5 1l2.5 -1l-0.8 2.6M274.7 83.8l10.4 -11.4m-2.5 1l2.5 -1l-0.8 2.6M274.7 77.5l10.3 -11.3m-2.5 1l2.5 -1l-0.8 2.6M274.7 71.1l10.3 -11.2m-2.5 1l2.5 -1l-0.8 2.6M274.8 64.7l10.3 -11m-2.5 1l2.5 -1l-0.8 2.6M274.8 58.2l10.2 -10.6m-2.5 1l2.5 -1l-0.9 2.6M274.8 51.4l10.2 -9.7m-2.6 0.9l2.6 -0.9l-1 2.5M274.9 44.3l10.1 -8m-2.6 0.6l2.6 -0.6l-1.2 2.4M274.9 36.6l10 -5.3m-2.7 0.1l2.7 -0.1l-1.6 2.1M275 28.5l9.8 -1.6m-2.6 -0.7l2.6 0.7l-2.2 1.5M275.4 20.4l9.1 2m-2 -1.5l2 1.5l-2.4 0.6M275.9 12.9l8 4.4m-1.5 -2l1.5 2l-2.5 -0.2M276.3 5.9l7.2 5.8m-1.1 -2.2l1.1 2.2l-2.4 -0.6"/><path fill="none" stroke="#5070ff" stroke-opacity="0.35" stroke-width="0.8" d="M0 118.8H279.2M0 105H279.2M0 91.3H279.2M0 77.5H279.2M0 63.7H279.2M0 49.9H279.2M0 36.1H279.2M0 22.3H279.2M0 8.6H279.2"/>
<path fill="none" stroke="#b8b8b8" stroke-opacity="0.75" stroke-width="0.6" stroke-dasharray="1 2" d="M34.9 0V125.3M69.8 0V125.3M104.7 0V125.3M139.6 0V125.3M174.5 0V125.3M209.4 0V125.3M244.3 0V125.3M0 112.8H279.2M0 100.2H279.2M0 87.7H279.2M0 75.2H279.2M0 62.6H279.2M0 50.1H279.2M0 37.6H279.2M0 25.1H279.2M0 12.5H279.2"/>
<path fill="none" stroke="#111" stroke-width="0.8" stroke-linejoin="round" d="M35.9 0L34.2 3.3L29.7 7.1L24.4 9.2L19.5 15.9L14.7 25.1L10.5 36.8L12.6 44.7L12.6 56.4L9.1 63.9L11.5 71L11.5 73.9L16.8 79.4L21.6 85.2L24.1 90.6L29.7 96.5L37.7 103.6L43.3 106.9L52.3 104L59.3 104L62.8 105.3L69.8 101.5L75 99.4L82 98.6L85.9 99.8L88.6 103.6L90.7 107.3L94.9 106.9L99.5 106.1L103 109L104 112.8L104 116.9L103 121.1L102.3 125.3M10.8 6.7L13.3 7.5M14.7 7.9L16.4 8.8M20.2 5.8L22.3 3.8M183.2 0L183.9 3.3L187.1 8.8L189.5 14.6L193 23.8L194.7 29.2L198.9 36.8L200 44.7L204.2 50.1L207.3 60.1L212.9 64.3L218.1 70.2L220.6 73.1L220.6 76.9L225.1 81.4L232.1 80.2L240.1 78.1L248.5 75.6L248.1 81.4L246.4 87.7L242.6 96.1L239.1 104.4L233.8 111.9L228.9 116.1L222.3 122.4L218.8 125.3M183.6 0L185.7 5.8L189.2 9.6L191.6 2.5M191.9 2.5L191.9 7.9L197.5 17.1L200.3 24.2L205.9 32.6L207.3 39.3L212.9 47.6L218.1 56.4L219.9 66L221.6 72.3L226.8 71.8L237.3 66.8L244.3 62.6L252 56.8L258.3 54.3L263.5 50.1L270.5 45.9L274 39.7L278.5 31.3L274.3 26.7L268.7 25.1L266.3 20.9L266.6 15.5L262.4 19.2L258.3 24.2L251.3 25.1L249.5 20.9L249.5 16.7L247.4 20.9L245 16.7L244.3 12.5L240.1 8.4L237.3 2.1L239.1 0M243.6 0L247.1 4.6L253 10.4L260 13.8L266.3 12.1L270.5 18L279.2 19.6"/>
<rect x="0" y="0" width="279.2" height="125.3" fill="none" stroke="#000" stroke-width="1"/>
</g>
<g filter="url(#gs)"><path d="M27.5 427.9h-3" stroke="#000" stroke-width="1"/>
<text transform="translate(12.75 431.20) scale(0.727 1)" font-size="9" font-weight="bold" fill="#000">EQ</text>
<path d="M27.5 415.37h-3" stroke="#000" stroke-width="1"/>
<text transform="translate(13.84 418.67) scale(0.727 1)" font-size="9" font-weight="bold" fill="#000">3N</text>
<path d="M27.5 402.84h-3" stroke="#000" stroke-width="1"/>
<text transform="translate(13.84 406.14) scale(0.727 1)" font-size="9" font-weight="bold" fill="#000">6N</text>
<path d="M27.5 390.31h-3" stroke="#000" stroke-width="1"/>
<text transform="translate(13.84 393.61) scale(0.727 1)" font-size="9" font-weight="bold" fill="#000">9N</text>
<path d="M27.5 377.78h-3" stroke="#000" stroke-width="1"/>
<text transform="translate(10.20 381.08) scale(0.727 1)" font-size="9" font-weight="bold" fill="#000">12N</text>
<path d="M27.5 365.25h-3" stroke="#000" stroke-width="1"/>
<text transform="translate(10.20 368.55) scale(0.727 1)" font-size="9" font-weight="bold" fill="#000">15N</text>
<path d="M27.5 352.72h-3" stroke="#000" stroke-width="1"/>
<text transform="translate(10.20 356.02) scale(0.727 1)" font-size="9" font-weight="bold" fill="#000">18N</text>
<path d="M27.5 340.19h-3" stroke="#000" stroke-width="1"/>
<text transform="translate(10.20 343.49) scale(0.727 1)" font-size="9" font-weight="bold" fill="#000">21N</text>
<path d="M27.5 327.66h-3" stroke="#000" stroke-width="1"/>
<text transform="translate(10.20 330.96) scale(0.727 1)" font-size="9" font-weight="bold" fill="#000">24N</text>
<path d="M27.5 315.13h-3" stroke="#000" stroke-width="1"/>
<text transform="translate(10.20 318.43) scale(0.727 1)" font-size="9" font-weight="bold" fill="#000">27N</text>
<path d="M27.5 302.6h-3" stroke="#000" stroke-width="1"/>
<text transform="translate(10.20 305.90) scale(0.727 1)" font-size="9" font-weight="bold" fill="#000">30N</text>
<path d="M27.5 427.9v2.8" stroke="#000" stroke-width="1"/>
<text transform="translate(20.70 438.00) scale(0.735 1)" font-size="9" font-weight="bold" fill="#000">20W</text>
<path d="M62.4 427.9v2.8" stroke="#000" stroke-width="1"/>
<text transform="translate(55.60 438.00) scale(0.735 1)" font-size="9" font-weight="bold" fill="#000">10W</text>
<path d="M97.3 427.9v2.8" stroke="#000" stroke-width="1"/>
<text transform="translate(95.46 438.00) scale(0.735 1)" font-size="9" font-weight="bold" fill="#000">0</text>
<path d="M132.2 427.9v2.8" stroke="#000" stroke-width="1"/>
<text transform="translate(126.32 438.00) scale(0.735 1)" font-size="9" font-weight="bold" fill="#000">10E</text>
<path d="M167.1 427.9v2.8" stroke="#000" stroke-width="1"/>
<text transform="translate(161.22 438.00) scale(0.735 1)" font-size="9" font-weight="bold" fill="#000">20E</text>
<path d="M202 427.9v2.8" stroke="#000" stroke-width="1"/>
<text transform="translate(196.12 438.00) scale(0.735 1)" font-size="9" font-weight="bold" fill="#000">30E</text>
<path d="M236.9 427.9v2.8" stroke="#000" stroke-width="1"/>
<text transform="translate(231.02 438.00) scale(0.735 1)" font-size="9" font-weight="bold" fill="#000">40E</text>
<path d="M271.8 427.9v2.8" stroke="#000" stroke-width="1"/>
<text transform="translate(265.92 438.00) scale(0.735 1)" font-size="9" font-weight="bold" fill="#000">50E</text>
<path d="M306.7 427.9v2.8" stroke="#000" stroke-width="1"/>
<text transform="translate(300.82 438.00) scale(0.735 1)" font-size="9" font-weight="bold" fill="#000">60E</text>
<text transform="translate(69.60 296.80) scale(1.074 1)" font-size="11" font-weight="normal" fill="#333">201303</text>
<text transform="translate(138.70 296.80) scale(1.052 1)" font-size="11" font-weight="normal" fill="#333">10m</text>
<text transform="translate(167.80 296.80) scale(0.894 1)" font-size="11" font-weight="normal" fill="#333">Wind</text>
<text transform="translate(196.50 296.80) scale(0.984 1)" font-size="11" font-weight="normal" fill="#333">Speed</text>
<text transform="translate(244.30 296.80) scale(1.080 1)" font-size="11" font-weight="normal" fill="#333">JJA</text></g>
<path d="M66.4 466.7L41.8 469.7L66.4 472.6Z" fill="#a000c8" stroke="#111" stroke-width="0.8" stroke-linejoin="miter"/>
<path d="M266.5 466.7L291.9 469.7L266.5 472.6Z" fill="#f00082" stroke="#111" stroke-width="0.8" stroke-linejoin="miter"/>
<rect x="66.4" y="466.7" width="25.0" height="5.9" fill="#8200dc" stroke="#111" stroke-width="0.8"/>
<rect x="91.4" y="466.7" width="25.0" height="5.9" fill="#1e3cff" stroke="#111" stroke-width="0.8"/>
<rect x="116.4" y="466.7" width="25.0" height="5.9" fill="#00c8c8" stroke="#111" stroke-width="0.8"/>
<rect x="141.4" y="466.7" width="25.0" height="5.9" fill="#00d28c" stroke="#111" stroke-width="0.8"/>
<rect x="166.4" y="466.7" width="25.0" height="5.9" fill="#a0e632" stroke="#111" stroke-width="0.8"/>
<rect x="191.5" y="466.7" width="25.0" height="5.9" fill="#e6dc32" stroke="#111" stroke-width="0.8"/>
<rect x="216.5" y="466.7" width="25.0" height="5.9" fill="#f08228" stroke="#111" stroke-width="0.8"/>
<rect x="241.5" y="466.7" width="25.0" height="5.9" fill="#fa3c3c" stroke="#111" stroke-width="0.8"/>
<g filter="url(#gs)">
<text transform="translate(62.89 478.90) scale(1.000 1)" font-size="6.5" font-weight="bold" fill="#1a1a1a">−2</text>
<text transform="translate(87.91 478.90) scale(1.000 1)" font-size="6.5" font-weight="bold" fill="#1a1a1a">−1</text>
<text transform="translate(114.82 478.90) scale(1.000 1)" font-size="6.5" font-weight="bold" fill="#1a1a1a">0</text>
<text transform="translate(139.83 478.90) scale(1.000 1)" font-size="6.5" font-weight="bold" fill="#1a1a1a">1</text>
<text transform="translate(164.84 478.90) scale(1.000 1)" font-size="6.5" font-weight="bold" fill="#1a1a1a">2</text>
<text transform="translate(189.86 478.90) scale(1.000 1)" font-size="6.5" font-weight="bold" fill="#1a1a1a">3</text>
<text transform="translate(214.87 478.90) scale(1.000 1)" font-size="6.5" font-weight="bold" fill="#1a1a1a">4</text>
<text transform="translate(239.88 478.90) scale(1.000 1)" font-size="6.5" font-weight="bold" fill="#1a1a1a">5</text>
<text transform="translate(264.89 478.90) scale(1.000 1)" font-size="6.5" font-weight="bold" fill="#1a1a1a">6</text>
</g>
<g transform="translate(372,302.6)">
<rect x="0" y="0" width="279.2" height="125.3" fill="#a000c8"/>
<path fill="#8200dc" fill-rule="evenodd" d="M0 125.3L279.2 125.3L279.2 0L0 0L0 125.3ZM219.9 17.5L218.7 16.7L217.4 14.6L217 12.5L217.2 10.4L218.1 8L219.9 6L221.6 5L223.4 4.5L225.1 4.5L226.8 5.2L228.6 6.5L229.6 8.4L230 10.4L229.9 12.5L229.2 14.6L227.5 16.7L225.1 18.1L223.4 18.4L221.6 18.2L219.9 17.5Z"/>
<path fill="#1e3cff" fill-rule="evenodd" d="M0 125.3L279.2 125.3L279.2 0L225.4 0L228.6 1L230.6 2.1L232.8 4.2L233.9 6.3L234.5 8.4L234.7 10.4L234.5 12.5L233.8 15.1L233.1 16.7L231.6 18.8L228.6 21.2L225.1 22.5L221.6 23L218.1 22.6L214.6 21.5L212.9 20.4L211.1 18.3L210.4 16.7L210 14.6L210.2 10.4L211.5 6.3L212.9 4.1L215 2.1L218.1 0.5L219.9 0L180.6 0L178 1.2L176.2 1.5L174.5 1.4L172.8 0.8L171 0L0 0L0 38.7L1.7 52.2L1.5 56.4L0.6 60.6L0 62.6L0 125.3ZM139.6 52.2L122.1 48.9L108.2 48L100.6 45.9L92.5 42.8L83.8 41.7L41.9 43.8L38.4 43.4L36.6 43L34.3 41.8L32.6 39.7L32.5 37.6L34 35.5L41.9 30.7L43.6 30L54.1 29L59.3 29.8L75 34L139.6 33.4L143.1 34.3L150.1 37.7L171 42.2L172.8 42.9L174 43.9L174.1 45.9L172.7 48L169.3 50.1L158.8 52.3L143.1 52.6L139.6 52.2ZM205.9 57.1L201.9 52.2L200.7 50L200.1 48L200.2 45.9L200.7 45.3L202.4 44.6L204.2 44.7L205.9 45.2L207.7 46.1L209.8 48L211.1 50.4L211.6 52.2L211.7 54.3L211.1 56.7L209.4 58.3L207.7 58.2L205.9 57.1Z"/>
<path fill="#00c8c8" fill-rule="evenodd" d="M97 125.3L145.8 125.3L146.1 123.2L145.4 121.1L144 119L141.3 116.6L128.9 108.6L124.3 104.4L122.4 102.3L122.2 100.2L134.4 96.6L143.1 95.6L151.8 96.3L155.3 97.3L158.8 99L162.8 102.3L167.5 106.9L171 109.3L172.8 109.9L174.5 109.8L176.6 108.6L180.2 104.4L183.2 100.2L185 98.1L188.5 95.4L192.5 94L197.2 93.7L202.4 94.5L207.7 96.3L210.7 98.2L212.5 100.2L212.9 102.3L212.2 104.4L210.6 106.5L201.7 114.9L200.2 116.9L199.4 119L199.5 121.1L200.8 123.2L204.2 125.3L279.2 125.3L279.2 0L233.3 0L235.7 2.1L237.3 4.6L238.5 8.4L238.7 12.5L237.9 16.7L236.9 18.8L235.5 20.9L233.4 23L228.6 25.5L204.2 28.3L203.2 27.1L203 12.5L201.8 6.3L200.7 3.7L198.9 2L197.2 1.4L195.4 1.2L193.7 1.4L190.2 2.7L186.7 5.2L184.1 8.4L182.2 12.5L181.5 16.7L181.7 20.9L182.3 23L183.5 25.1L185.7 27.1L188.5 28.6L191.9 29.5L197.2 29.6L201.3 29.2L202.4 29.4L204.3 35.5L205.9 38.1L211.3 43.9L212.9 46.1L214.6 50.1L215.9 56.4L215.9 58.5L215.7 60.6L214.6 62.9L212.9 64.3L211.1 65L209.4 65.1L207.4 64.7L205.9 63.9L204.2 61.5L200.7 55.7L195.4 51L191.9 48.7L190.2 48.2L186.7 48.1L183.2 49L174.5 52.8L146.6 56.3L136.1 55.7L120.4 53.2L103 52.9L97.7 52L87.2 48.8L36.6 47.6L33.2 46.8L31.4 45.8L29.2 43.9L27.5 41.8L26.4 39.7L26.3 37.6L27.2 35.5L29.7 33.3L38.4 28.9L41.9 26.5L43.6 24.8L45 23L46 20.9L48.1 8.4L49.5 4.2L50.6 1.9L51.8 0L0 0L0 30.3L0.7 31.3L2.1 35.5L5.4 54.3L4.9 60.6L2.8 68.9L1.7 71.9L0 75.2L0 79.4L5.2 82.5L12.2 85.8L19.2 90.1L24.4 92.1L31.4 93.2L34.9 93.2L36.6 92.8L38.5 91.9L42.5 87.7L45.4 85.6L48.9 84.2L52.3 83.7L55.8 84.1L60 85.6L62.6 87.7L63.8 89.8L64.1 91.9L62.8 94.1L61.1 95.1L48.9 97.2L46.3 98.2L45 100.2L45.5 102.3L47.4 104.4L50.6 105.8L54.1 106.3L57.6 105.8L61.9 104.4L68.1 100.8L71.5 99.8L75 99.8L82 101.4L84.3 102.3L87.2 102.6L88.6 102.3L87.2 100.2L83.8 98.7L82 97.7L80.3 96L79.2 94L79.2 91.9L79.9 89.8L81.5 87.7L85.5 85.3L92.5 83.4L101.2 83.3L106.4 84.3L109.9 85.8L112.5 87.7L115.7 91.9L118.7 97.4L119.3 98.2L120.4 100.1L122.1 100.2L120.4 100.4L116.3 102.3L97.3 106.5L96.6 108.6L97.6 119L97.5 123.2L97 125.3ZM193.7 77.3L191.9 76.7L191.2 75.2L191.9 74.8L193.7 74.4L195.4 74.8L195.9 75.2L195.4 76.1L193.7 77.3ZM249.5 48.1L247.8 47.8L245.9 45.9L245 43.9L244.5 41.8L244.4 39.7L244.6 37.6L245.2 35.5L246 33.4L247.8 30.7L249.5 28.8L251.6 27.1L254.8 25.7L256.5 25.4L258.3 25.6L260 26.4L260.9 27.1L261.4 29.2L260.9 31.3L252.7 45.9L251.3 47.4L249.5 48.1ZM165.1 125.3L182.6 125.3L181.5 124.3L178 122.3L176.2 121.7L174.5 121.5L172.8 121.6L167.5 123.8L165.1 125.3ZM107.2 29.2L120.4 29.4L125.6 28.6L130.9 26.6L139.6 20.4L144.8 18.2L153.6 15.6L157 13.9L158.8 12.5L160.5 10.4L161.5 8.4L161.7 6.3L161.2 4.2L159.8 2.1L157 0L130.2 0L125.6 4.2L123.9 5L122.1 5.5L120.4 5.6L118.7 5.4L115.9 4.2L114.8 2.1L115.6 0L59.3 0L59.3 2.1L58.9 4.2L55.2 12.5L52.1 18.8L52.3 21L57.6 21.9L70.2 27.1L107.2 29.2Z"/>
<path fill="#00d28c" fill-rule="evenodd" d="M232.9 125.3L279.2 125.3L279.2 0L238.1 0L239.9 2.1L241 4.2L242.7 10.4L243.5 23L244.3 24.1L246 24L254.8 21.7L258.3 21.4L261.8 21.8L265.7 23L270.8 25.1L273.7 27.1L273.8 29.2L271.4 31.3L267 34L265.2 35.6L263.5 37.7L261.6 41.8L261 45.9L260.6 52.2L260 54.3L258.3 56.8L254.8 58.7L251.3 59.2L247.8 58.8L246 58.1L244.3 56.4L242.6 52L240.5 41.8L240 31.3L239.1 29.2L237.3 29L219.8 31.3L216.4 32.5L214.6 33.4L212.9 35.5L212.7 37.6L221.4 62.6L221.5 64.7L220.8 66.8L218.1 69.4L212.9 71.4L203 73.1L202.4 73.5L200.7 77.9L199.7 79.4L198.9 81.6L199.7 83.5L202.4 85.8L218.5 91.9L221.9 94L224.1 96.1L225.7 98.2L227.7 102.3L230.3 109.4L232.1 112.1L233.8 113.8L237.3 115.9L245.4 119L247.8 121.1L235.6 124L232.9 125.3ZM132.5 87.7L139.6 87.7L150.6 85.6L152.8 83.5L152.2 81.4L153.3 79.4L183.2 74.7L190.2 71.9L193.7 71.3L198.9 70.9L200.1 68.9L201 64.7L201.1 62.6L200.7 60.3L199.8 58.5L197.2 56L191.9 54.1L188.5 53.5L185 53.7L171 57.1L141.3 60.1L136.1 59.8L123.9 56.3L113.4 55.4L73.3 58.6L54.1 62.1L29.7 69.7L27.6 71L26.9 73.1L27.9 75.5L29.7 77.3L31.4 78.1L33.2 78.5L54.1 77.1L73.3 78.6L103 77.8L115.2 79.6L120.4 81.5L127.4 86L130.9 87.4L132.5 87.7ZM18.3 58.5L19.2 59.3L20.9 59.9L22.7 60.1L24.4 59.8L27.9 57.8L29.1 56.4L29.5 54.3L29.4 52.2L28.8 50.1L26.2 45.6L20.2 39.7L19.6 37.6L19.8 35.5L20.9 32.7L22.7 30.9L24.4 29.9L33.2 28L36.6 26.3L38.5 25.1L40.5 23L42.4 18.8L45.7 2.1L46.5 0L0 0L0 19.7L1.7 17.7L3.5 17L5.2 17L7 17.5L9.2 18.8L10.7 20.9L11.1 23L10.5 25.2L7 29.3L6.2 31.3L5.7 35.5L6.3 39.7L7 42.1L8.7 45L11 48L14.2 54.3L17.4 58.1L18.3 58.5ZM190.6 25.1L191.9 25.5L193.7 25.5L195.4 24.9L197.7 23L198.9 20.5L199.5 18.8L199.7 16.7L199.7 14.6L198.6 10.4L197.2 8.2L195.4 6.8L193.7 6.3L191.9 6.3L190.2 7L188.5 8.4L186.7 11L186 12.5L185.6 14.6L185.5 16.7L185.7 18.8L186.7 21.6L188.5 23.8L190.6 25.1ZM81.8 20.9L89 20.8L97 18.8L98.7 16.7L97.7 14.6L95.6 12.5L92.4 10.4L89 9.4L85.5 9.5L82 10.6L78.5 12.7L76.6 14.6L75.9 16.7L76.8 18.9L80.3 20.5L81.8 20.9ZM111.8 20.9L115.2 21.9L116.9 22.1L118.7 22L121.2 20.9L120.8 18.8L118.7 18.2L115.2 18.1L111.8 18.8L111.8 20.9Z"/>
<path fill="#a0e632" fill-rule="evenodd" d="M252.1 102.3L260 103.8L267 103.6L272.2 102.3L275.9 100.2L279.2 97.7L279.2 65.5L274 65L240.8 68.5L237.3 69.6L235.4 71L233.5 73.1L232.1 75.2L231.4 77.3L231.5 79.4L232.3 81.4L242.8 96.1L246 99.2L249.5 101.3L252.1 102.3ZM158.3 68.9L171 69.2L183.2 67.4L185 66.8L189.2 64.7L190.2 64L191.9 63.7L193.7 63.9L195.4 63.8L197.2 62.6L197.4 60.6L195.4 59.3L193.7 59.4L190.2 60.4L185 59.5L157 62.6L152.3 64.7L152.6 66.8L158.3 68.9ZM233.2 64.7L233.8 64.9L235.6 64.3L237.3 62.1L238.6 58.5L239.1 54.3L239 50.1L237.3 43.1L235.6 39.2L233.8 37.2L232.1 36L230.3 35.3L226.8 34.9L223.1 35.5L221.6 36.1L219.6 37.6L218.8 39.7L218.7 41.8L220.4 50.1L222 54.3L223.4 56.7L225.1 59L230.3 63.8L232.1 64.6L233.2 64.7ZM108.4 62.6L111.7 63.5L116.9 63.6L122.2 62.2L124.2 60.6L122.1 58.4L115.2 57.4L108.2 57.8L105.1 58.5L103.7 60.6L104.7 61.3L106.4 62.1L108.4 62.6ZM18.3 52.2L19.2 52.9L20.9 53.3L22.7 52.9L23.6 52.2L24.7 50.1L24.4 48L22.7 45.8L20.9 45L19.2 44.8L17.2 45.9L16.4 48L16.8 50.1L18.3 52.2ZM30.4 23L31.4 23.5L33.2 23.8L35.3 23L37.4 20.9L38.6 18.8L40.4 12.5L40.6 8.4L40.1 6.9L38.4 7.5L30.3 16.7L29.3 18.8L29.2 20.9L30.4 23ZM189.6 20.9L190.2 21.5L191.9 22.3L193.7 22.2L195.6 20.9L196.8 18.8L197.3 16.7L197.2 14.1L196.8 12.5L195.4 10.4L193.7 9.4L191.9 9.4L190.1 10.4L188.5 12.9L188 14.6L187.9 16.7L188.5 19L189.6 20.9ZM265.7 18.8L279.2 19.4L279.2 0L242.6 0L244.8 4.2L247.8 12.5L249.5 15.3L251.4 16.7L254.8 17.6L265.7 18.8Z"/>
<path fill="#e6dc32" fill-rule="evenodd" d="M229.7 58.5L232.1 59.7L233.8 59.5L235.6 57.9L236.3 56.4L236.8 54.3L237 52.2L236.8 50.1L235.5 45.9L233.8 43.5L231.6 41.8L230.3 41.1L228.6 40.7L226.9 40.6L225.1 41.3L224.6 41.8L223.4 44L223.2 45.9L223.4 48.2L223.8 50.1L226 54.3L229.7 58.5ZM191.9 18.8L193.7 18.5L194.7 16.7L194.7 14.6L193.7 13L192 12.8L190.6 14.6L190.5 16.7L191.9 18.8ZM258.8 14.6L267 15.9L272.2 15.8L275.7 15.1L277.5 14.4L279.2 13.3L279.2 0L247.4 0L249.5 6.6L251.7 10.4L254.8 13.1L258.8 14.6Z"/>
<path fill="#f08228" fill-rule="evenodd" d="M229.8 54.3L230.3 55L232.1 56.3L233.8 55.6L234.5 54.3L234.9 52.2L234.6 50.1L233.5 48L232.1 46.9L230.3 46.8L228.8 48L228.4 50.1L228.8 52.2L229.8 54.3ZM261.9 12.5L267 13.3L270.5 13.2L274 12.3L275.7 11.4L277.5 9.8L278.4 8.4L279.1 6.3L279.2 4.2L278.8 2.1L277.2 0L252.2 0L251.9 2.1L252.3 4.2L253.1 6.3L254.8 8.7L256.9 10.4L260 12L261.9 12.5Z"/>
<path fill="#fa3c3c" fill-rule="evenodd" d="M263.2 10.4L267 11L271.2 10.4L274 8.9L274.6 8.4L275.7 6.3L275.7 4.2L274.5 2.1L271.1 0L257.3 0L255.7 2.1L255.7 4.2L256.6 6.3L258.7 8.4L261.8 10L263.2 10.4Z"/>
<path fill="#f00082" fill-rule="evenodd" d="M264.6 8.4L267 8.6L268.9 8.4L270.5 7.5L271.8 6.3L271.8 4.2L269.8 2.1L267 1.1L263.5 0.9L261.8 1.3L260 2.2L259.4 4.2L260.5 6.3L263.5 8L264.6 8.4Z"/>
<path fill="none" stroke="#111" stroke-width="0.9" d="M145.8 125.3L146.1 123.2L145.4 121.1L144 119L141.3 116.6L128.9 108.6L124.3 104.4L122.4 102.3L122.2 100.2L134.4 96.6L143.1 95.6L151.8 96.3L155.3 97.3L158.8 99L162.8 102.3L167.5 106.9L171 109.3L172.8 109.9L174.5 109.8L176.6 108.6L180.2 104.4L183.2 100.2L185 98.1L188.5 95.4L192.5 94L197.2 93.7L202.4 94.5L207.7 96.3L210.7 98.2L212.5 100.2L212.9 102.3L212.2 104.4L210.6 106.5L201.7 114.9L200.2 116.9L199.4 119L199.5 121.1L200.8 123.2L204.2 125.3M182.6 125.3L181.5 124.3L178 122.3L176.2 121.7L174.5 121.5L172.8 121.6L167.5 123.8L165.1 125.3M0 79.3L5.2 82.5L12.2 85.8L19.2 90.1L24.4 92.1L31.4 93.2L34.9 93.2L36.6 92.8L38.5 91.9L42.5 87.7L45.4 85.6L48.9 84.2L52.3 83.7L55.8 84.1L60 85.6L62.6 87.7L63.8 89.8L64.1 91.9L62.8 94.1L61.1 95.1L48.9 97.2L46.3 98.2L45 100.2L45.5 102.3L47.4 104.4L50.6 105.8L54.1 106.3L57.6 105.8L61.9 104.4L68.1 100.8L71.5 99.8L75 99.8L82 101.4L84.3 102.3L87.2 102.6L88.6 102.3L87.2 100.2L83.8 98.7L82 97.7L80.3 96L79.2 94L79.2 91.9L79.9 89.8L81.5 87.7L85.5 85.3L92.5 83.4L101.2 83.3L106.4 84.3L109.9 85.8L112.5 87.7L115.7 91.9L118.7 97.4L119.3 98.2L120.4 100.1L122.1 100.2L120.4 100.4L116.3 102.3L97.3 106.5L96.6 108.6L97.6 119L97.5 123.2L97 125.3M193.7 77.3L191.9 76.7L191.2 75.2L191.9 74.8L193.7 74.4L195.4 74.8L195.9 75.2L195.4 76.1L193.7 77.3M249.5 48.1L247.8 47.8L245.9 45.9L245 43.9L244.5 41.8L244.4 39.7L244.6 37.6L245.2 35.5L246 33.4L247.8 30.7L249.5 28.8L251.6 27.1L254.8 25.7L256.5 25.4L258.3 25.6L260 26.4L260.9 27.1L261.4 29.2L260.9 31.3L252.7 45.9L251.3 47.4L249.5 48.1M0 30.3L0.7 31.3L2.1 35.5L5.4 54.3L4.9 60.6L2.8 68.9L1.7 71.9L0 75M59.3 0L59.3 2.1L58.9 4.2L55.2 12.5L52.1 18.8L52.3 21L57.6 21.9L70.2 27.1L118.7 29.5L125.6 28.6L130.9 26.6L139.6 20.4L144.8 18.2L153.6 15.6L157 13.9L158.8 12.5L160.5 10.4L161.5 8.4L161.7 6.3L161.2 4.2L159.8 2.1L157.1 0M130.2 0L125.6 4.2L123.9 5L122.1 5.5L120.4 5.6L118.7 5.4L115.9 4.2L114.8 2.1L115.6 0M233.3 0L235.7 2.1L237.3 4.6L238.5 8.4L238.7 12.5L237.9 16.7L236.9 18.8L235.5 20.9L233.4 23L228.6 25.5L204.2 28.3L203.2 27.1L203 12.5L201.8 6.3L200.7 3.7L198.9 2L197.2 1.4L195.4 1.2L193.7 1.4L190.2 2.7L186.7 5.2L184.1 8.4L182.2 12.5L181.5 16.7L181.7 20.9L182.3 23L183.5 25.1L185.7 27.1L188.5 28.6L191.9 29.5L197.2 29.6L201.3 29.2L202.4 29.4L204.3 35.5L205.9 38.1L211.3 43.9L212.9 46.1L214.6 50.1L215.9 56.4L215.9 58.5L215.7 60.6L214.6 62.9L212.9 64.3L211.1 65L209.4 65.1L207.4 64.7L205.9 63.9L204.2 61.5L200.7 55.7L195.4 51L191.9 48.7L190.2 48.2L186.7 48.1L183.2 49L174.5 52.8L146.6 56.3L136.1 55.7L120.4 53.2L103 52.9L97.7 52L87.2 48.8L36.6 47.6L33.2 46.8L31.4 45.8L29.2 43.9L27.5 41.8L26.4 39.7L26.3 37.6L27.2 35.5L29.7 33.3L38.4 28.9L41.9 26.5L43.6 24.8L45 23L46 20.9L48.1 8.4L49.5 4.2L50.6 1.9L51.8 0M158.3 68.9L171 69.2L183.2 67.4L185 66.8L189.2 64.7L190.2 64L191.9 63.7L193.7 63.9L195.4 63.8L197.2 62.6L197.4 60.6L195.4 59.3L193.7 59.4L190.2 60.4L185 59.5L157 62.6L152.3 64.7L152.6 66.8L158.3 68.9M233.2 64.7L233.8 64.9L235.6 64.3L237.3 62.1L238.6 58.5L239.1 54.3L239 50.1L237.3 43.1L235.6 39.2L233.8 37.2L232.1 36L230.3 35.3L226.8 34.9L223.1 35.5L221.6 36.1L219.6 37.6L218.8 39.7L218.7 41.8L220.4 50.1L222 54.3L223.4 56.7L225.1 59L230.3 63.8L232.1 64.6L233.2 64.7M279.2 65.5L274 65L240.8 68.5L237.3 69.6L235.4 71L233.5 73.1L232.1 75.2L231.4 77.3L231.5 79.4L232.3 81.4L242.8 96.1L246 99.2L249.5 101.3L254.8 103L261.8 103.9L267 103.6L272.2 102.3L275.9 100.2L279.2 97.7M108.4 62.6L111.7 63.5L116.9 63.6L122.2 62.2L124.2 60.6L122.1 58.4L115.2 57.4L108.2 57.8L105.1 58.5L103.7 60.6L104.7 61.3L106.4 62.1L108.4 62.6M18.3 52.2L19.2 52.9L20.9 53.3L22.7 52.9L23.6 52.2L24.7 50.1L24.4 48L22.7 45.8L20.9 45L19.2 44.8L17.2 45.9L16.4 48L16.8 50.1L18.3 52.2M30.4 23L31.4 23.5L33.2 23.8L35.3 23L37.4 20.9L38.6 18.8L40.4 12.5L40.6 8.4L40.1 6.9L38.4 7.5L30.3 16.7L29.3 18.8L29.2 20.9L30.4 23M189.6 20.9L190.2 21.5L191.9 22.3L193.7 22.2L195.6 20.9L196.8 18.8L197.3 16.7L197.2 14.1L196.8 12.5L195.4 10.4L193.7 9.4L191.9 9.4L190.1 10.4L188.5 12.9L188 14.6L187.9 16.7L188.5 19L189.6 20.9M242.6 0L244.8 4.2L247.8 12.5L249.5 15.3L251.4 16.7L254.8 17.6L274 19.4L279.2 19.4"/>
<path fill="none" stroke="#00dc00" stroke-width="0.8" stroke-opacity="0.92" clip-path="url(#clip)" d="M4 126.3l-5 -8.2m0.3 2.6l-0.3 -2.6l2.1 1.4M3.9 120l-4.9 -8.2m0.3 2.6l-0.3 -2.6l2.1 1.4M3.9 113.7l-4.7 -8.2m0.2 2.5l-0.2 -2.5l2.1 1.5M3.7 107.4l-4.4 -8.2m0.1 2.5l-0.1 -2.5l2 1.5M3.4 101.1l-3.8 -8.3m0 2.5l0 -2.5l1.9 1.6M2.8 94.9l-2.5 -8.3m-0.3 2.3l0.3 -2.3l1.6 1.7M1.8 88.5l-0.7 -8.2m-0.8 2.1l0.8 -2.1l1.1 1.9M0.7 81.9l1.5 -7.6m-1.2 1.7l1.2 -1.7l0.5 2M-0.1 75.1l3.2 -6.6m-1.5 1.2l1.5 -1.2l0 2M-0.5 68.3l4.1 -5.7m-1.6 0.9l1.6 -0.9l-0.3 1.9M-1 61.7l4.9 -5m-1.8 0.7l1.8 -0.7l-0.6 1.8M-1.7 54.3l6.4 -2.8m-1.9 -0.1l1.9 0.1l-1.3 1.4M0.2 43.4l2.6 6.5m0.1 -1.9l-0.1 1.9l-1.4 -1.3M2 36.8l-1 6.9m1 -1.6l-1 1.6l-0.5 -1.8M2.4 30.6l-1.9 6.7m1.2 -1.4l-1.2 1.4l-0.3 -1.9M2.7 24.4l-2.3 6.6m1.3 -1.3l-1.3 1.3l-0.2 -1.9M2.9 18.2l-2.7 6.4m1.4 -1.3l-1.4 1.3l-0.1 -1.9M3.1 12l-3.2 6.2m1.5 -1.2l-1.5 1.2l0.1 -1.9M3.4 5.8l-3.7 5.9m1.6 -1l-1.6 1l0.2 -1.9M9.4 126.5l-4.2 -8.6m0.1 2.6l-0.1 -2.6l2 1.6M9.4 120.2l-4.2 -8.6m0 2.6l0 -2.6l2 1.6M9.3 113.9l-4 -8.6m0 2.6l0 -2.6l2 1.7M9.2 107.6l-3.7 -8.6m-0.1 2.5l0.1 -2.5l1.9 1.7M8.9 101.3l-3.2 -8.6m-0.2 2.5l0.2 -2.5l1.8 1.8M8.3 95l-2.1 -8.6m-0.5 2.3l0.5 -2.3l1.5 1.9M7.5 88.6l-0.3 -8.3m-0.9 2.1l0.9 -2.1l1 2M6.4 81.9l1.7 -7.7m-1.3 1.7l1.3 -1.7l0.5 2.1M5.6 75.1l3.4 -6.5m-1.6 1.2l1.6 -1.2l-0.1 2M5.1 68.2l4.4 -5.5m-1.7 0.8l1.7 -0.8l-0.4 1.8M4.6 61.4l5.4 -4.5m-1.8 0.5l1.8 -0.5l-0.8 1.7M3.9 53.7l6.8 -1.5m-1.8 -0.4l1.8 0.4l-1.5 1.1M5.7 43.5l3.3 6.2m-0.1 -1.9l0.1 1.9l-1.5 -1.1M7.5 36.8l-0.4 7m0.9 -1.7l-0.9 1.7l-0.7 -1.8M8.1 30.6l-1.6 6.8m1.2 -1.5l-1.2 1.5l-0.4 -1.9M8.4 24.4l-2.2 6.6m1.3 -1.4l-1.3 1.4l-0.2 -1.9M8.7 18.2l-2.8 6.4m1.4 -1.3l-1.4 1.3l-0.1 -1.9M9 12l-3.3 6.2m1.5 -1.1l-1.5 1.1l0.1 -1.9M9.3 5.9l-3.9 5.8m1.6 -1l-1.6 1l0.3 -1.9M14.8 126.7l-3.5 -9m-0.2 2.6l0.2 -2.6l1.9 1.8M14.8 120.4l-3.4 -9m-0.2 2.6l0.2 -2.6l1.9 1.8M14.8 114.1l-3.3 -9m-0.2 2.6l0.2 -2.6l1.8 1.8M14.6 107.8l-3 -9m-0.3 2.5l0.3 -2.5l1.8 1.9M14.4 101.5l-2.5 -9m-0.4 2.5l0.4 -2.5l1.6 1.9M13.9 95.1l-1.6 -8.8m-0.6 2.3l0.6 -2.3l1.4 2M13.1 88.6l0 -8.5m-1 2.1l1 -2.1l1 2.1M12.1 82l1.9 -7.7m-1.4 1.7l1.4 -1.7l0.4 2.1M11.3 75l3.5 -6.5m-1.6 1.2l1.6 -1.2l-0.1 2M10.8 68.1l4.6 -5.3m-1.7 0.8l1.7 -0.8l-0.5 1.8M10.2 61.2l5.7 -4m-1.9 0.3l1.9 -0.3l-0.9 1.6M9.6 53.2l7 -0.7m-1.8 -0.6l1.8 0.6l-1.6 1M11.3 43.6l3.6 6m-0.2 -1.9l0.2 1.9l-1.6 -1.1M13.1 36.8l-0.1 7m0.8 -1.7l-0.8 1.7l-0.8 -1.7M13.8 30.6l-1.5 6.8m1.1 -1.5l-1.1 1.5l-0.4 -1.8M14.2 24.4l-2.3 6.6m1.3 -1.4l-1.3 1.4l-0.2 -1.9M14.6 18.2l-2.9 6.4m1.4 -1.2l-1.4 1.2l0 -1.9M14.9 12.1l-3.6 6m1.6 -1.1l-1.6 1.1l0.2 -1.9M15.2 6l-4.2 5.6m1.7 -0.9l-1.7 0.9l0.4 -1.8M20.2 126.9l-2.7 -9.4m-0.4 2.6l0.4 -2.6l1.7 2M20.2 120.6l-2.6 -9.4m-0.4 2.6l0.4 -2.6l1.7 2M20.2 114.3l-2.5 -9.3m-0.4 2.6l0.4 -2.6l1.7 2M20.1 108l-2.3 -9.3m-0.5 2.5l0.5 -2.5l1.6 2M19.8 101.6l-1.9 -9.2m-0.6 2.5l0.6 -2.5l1.5 2M19.4 95.2l-1 -9.1m-0.8 2.3l0.8 -2.3l1.3 2.1M18.7 88.7l0.4 -8.6m-1.1 2.1l1.1 -2.1l0.9 2.2M17.8 82l2.1 -7.8m-1.4 1.7l1.4 -1.7l0.4 2.2M17.1 75l3.7 -6.5m-1.6 1.2l1.6 -1.2l-0.2 2M16.5 68.1l4.8 -5.1m-1.8 0.7l1.8 -0.7l-0.6 1.8M15.9 61.1l5.9 -3.7m-1.9 0.2l1.9 -0.2l-1 1.6M15.4 53l7 -0.2m-1.7 -0.8l1.7 0.8l-1.7 0.8M17 43.6l3.7 5.9m-0.2 -1.9l0.2 1.9l-1.6 -1M18.9 36.8l0 7m0.8 -1.7l-0.8 1.7l-0.8 -1.7M19.7 30.6l-1.5 6.8m1.2 -1.5l-1.2 1.5l-0.4 -1.8M20.1 24.4l-2.5 6.6m1.3 -1.3l-1.3 1.3l-0.1 -1.9M20.5 18.3l-3.2 6.2m1.5 -1.2l-1.5 1.2l0.1 -1.9M20.8 12.2l-3.9 5.8m1.6 -1l-1.6 1l0.3 -1.9M21.2 6.1l-4.6 5.3m1.7 -0.8l-1.7 0.8l0.5 -1.8M25.6 127l-1.9 -9.6m-0.6 2.6l0.6 -2.6l1.6 2.1M25.6 120.7l-1.9 -9.6m-0.6 2.6l0.6 -2.6l1.6 2.1M25.6 114.4l-1.8 -9.6m-0.7 2.5l0.7 -2.5l1.5 2.1M25.5 108.1l-1.6 -9.6m-0.7 2.5l0.7 -2.5l1.5 2.2M25.3 101.7l-1.2 -9.5m-0.8 2.4l0.8 -2.4l1.4 2.2M24.9 95.3l-0.4 -9.2m-0.9 2.3l0.9 -2.3l1.2 2.2M24.3 88.8l0.8 -8.8m-1.2 2.1l1.2 -2.1l0.8 2.2M23.5 82l2.4 -7.9m-1.5 1.7l1.5 -1.7l0.3 2.2M22.8 75.1l3.8 -6.5m-1.7 1.2l1.7 -1.2l-0.2 2M22.3 68l4.9 -5m-1.8 0.7l1.8 -0.7l-0.6 1.8M21.7 61l6 -3.5m-1.9 0.2l1.9 -0.2l-1.1 1.6M21.2 52.9l7 0.1m-1.7 -0.8l1.7 0.8l-1.7 0.8M22.8 43.7l3.8 5.9m-0.2 -1.9l0.2 1.9l-1.6 -1M24.7 36.8l0 7m0.8 -1.7l-0.8 1.7l-0.8 -1.7M25.6 30.6l-1.7 6.8m1.2 -1.5l-1.2 1.5l-0.3 -1.9M26.1 24.5l-2.8 6.4m1.4 -1.3l-1.4 1.3l-0.1 -1.9M26.5 18.4l-3.6 6m1.6 -1.1l-1.6 1.1l0.2 -1.9M26.8 12.3l-4.3 5.5m1.7 -0.9l-1.7 0.9l0.4 -1.8M27.2 6.3l-4.9 5m1.8 -0.7l-1.8 0.7l0.6 -1.8M31 127.1l-1.1 -9.8m-0.9 2.5l0.9 -2.5l1.4 2.3M31 120.8l-1 -9.8m-0.9 2.5l0.9 -2.5l1.4 2.3M31 114.5l-1 -9.8m-0.9 2.5l0.9 -2.5l1.4 2.3M30.9 108.2l-0.8 -9.7m-0.9 2.5l0.9 -2.5l1.3 2.3M30.7 101.8l-0.5 -9.6m-1 2.4l1 -2.4l1.2 2.3M30.4 95.4l0.1 -9.4m-1.1 2.3l1.1 -2.3l1 2.3M29.9 88.9l1.2 -8.9m-1.3 2l1.3 -2l0.7 2.3M29.2 82.1l2.6 -8m-1.5 1.7l1.5 -1.7l0.3 2.3M28.5 75.1l3.9 -6.6m-1.7 1.2l1.7 -1.2l-0.2 2.1M28.1 68l4.9 -5m-1.8 0.7l1.8 -0.7l-0.6 1.8M27.5 61l6.1 -3.5m-1.9 0.2l1.9 -0.2l-1.1 1.6M27 52.9l7 0m-1.7 -0.8l1.7 0.8l-1.7 0.8M28.6 43.6l3.8 5.9m-0.2 -1.9l0.2 1.9l-1.6 -1M30.6 36.8l-0.3 7m0.9 -1.7l-0.9 1.7l-0.7 -1.7M31.6 30.7l-2.1 6.7m1.3 -1.4l-1.3 1.4l-0.2 -1.9M32.1 24.6l-3.2 6.2m1.5 -1.2l-1.5 1.2l0.1 -1.9M32.5 18.5l-4 5.7m1.6 -0.9l-1.6 0.9l0.3 -1.9M32.9 12.5l-4.7 5.2m1.7 -0.7l-1.7 0.7l0.6 -1.8M33.2 6.5l-5.3 4.6m1.8 -0.5l-1.8 0.5l0.8 -1.7M36.4 127.2l-0.3 -10m-1.1 2.5l1.1 -2.5l1.2 2.4M36.4 120.9l-0.2 -10m-1.1 2.5l1.1 -2.5l1.2 2.4M36.4 114.6l-0.2 -9.9m-1.1 2.5l1.1 -2.5l1.2 2.4M36.3 108.2l0 -9.9m-1.1 2.4l1.1 -2.4l1.1 2.4M36.2 101.9l0.2 -9.8m-1.2 2.4l1.2 -2.4l1.1 2.4M35.9 95.5l0.8 -9.5m-1.3 2.2l1.3 -2.2l0.9 2.4M35.5 88.9l1.6 -9m-1.4 2l1.4 -2l0.6 2.4M34.9 82.2l2.8 -8.1m-1.6 1.7l1.6 -1.7l0.2 2.3M34.3 75.2l4 -6.7m-1.8 1.2l1.8 -1.2l-0.2 2.1M33.9 68l4.8 -5.1m-1.8 0.7l1.8 -0.7l-0.6 1.8M33.3 61l6 -3.6m-1.9 0.2l1.9 -0.2l-1.1 1.6M32.8 53l7 -0.2m-1.7 -0.7l1.7 0.7l-1.7 0.9M34.5 43.6l3.7 6m-0.2 -1.9l0.2 1.9l-1.6 -1M36.7 36.8l-0.7 7m1 -1.6l-1 1.6l-0.6 -1.8M37.6 30.8l-2.6 6.5m1.4 -1.3l-1.4 1.3l-0.1 -1.9M38.2 24.7l-3.7 5.9m1.6 -1l-1.6 1l0.2 -1.9M38.6 18.7l-4.5 5.3m1.7 -0.8l-1.7 0.8l0.5 -1.8M38.9 12.7l-5.2 4.7m1.8 -0.6l-1.8 0.6l0.7 -1.7M39.1 6.8l-5.7 4.1m1.9 -0.4l-1.9 0.4l0.9 -1.7M41.8 127.2l0.5 -10m-1.3 2.4l1.3 -2.4l1 2.5M41.8 120.9l0.6 -10m-1.3 2.4l1.3 -2.4l1 2.5M41.8 114.6l0.6 -10m-1.3 2.4l1.3 -2.4l1 2.5M41.7 108.3l0.7 -9.9m-1.3 2.4l1.3 -2.4l1 2.5M41.6 101.9l0.9 -9.8m-1.4 2.3l1.4 -2.3l0.9 2.5M41.4 95.5l1.4 -9.6m-1.4 2.2l1.4 -2.2l0.8 2.5M41.1 88.9l2.1 -9.1m-1.5 2l1.5 -2l0.5 2.5M40.5 82.2l3.1 -8.2m-1.7 1.7l1.7 -1.7l0.2 2.4M40 75.2l4.1 -6.8m-1.8 1.2l1.8 -1.2l-0.2 2.1M39.7 68.1l4.7 -5.1m-1.7 0.7l1.7 -0.7l-0.6 1.8M39.2 61.1l5.9 -3.8m-1.9 0.3l1.9 -0.3l-1 1.6M38.6 53.3l7 -0.7m-1.8 -0.6l1.8 0.6l-1.6 1M40.3 43.6l3.5 6.1m-0.2 -1.9l0.2 1.9l-1.5 -1.1M42.8 36.9l-1.4 6.8m1.1 -1.5l-1.1 1.5l-0.4 -1.8M43.8 30.9l-3.3 6.2m1.5 -1.1l-1.5 1.1l0.1 -1.9M44.3 25l-4.3 5.5m1.7 -0.8l-1.7 0.8l0.4 -1.8M44.6 19l-5.1 4.8m1.8 -0.6l-1.8 0.6l0.7 -1.8M44.9 13l-5.6 4.2m1.9 -0.4l-1.9 0.4l0.9 -1.7M45.1 7l-6 3.6m1.9 -0.2l-1.9 0.2l1.1 -1.6M47.2 127.2l1.3 -10.1m-1.5 2.3l1.5 -2.3l0.8 2.6M47.2 120.9l1.4 -10m-1.5 2.3l1.5 -2.3l0.8 2.6M47.2 114.6l1.4 -10m-1.5 2.3l1.5 -2.3l0.8 2.6M47.2 108.3l1.5 -10m-1.5 2.3l1.5 -2.3l0.8 2.6M47.1 101.9l1.7 -9.8m-1.5 2.2l1.5 -2.2l0.7 2.6M46.9 95.5l2 -9.6m-1.6 2.1l1.6 -2.1l0.6 2.6M46.6 89l2.6 -9.1m-1.7 1.9l1.7 -1.9l0.4 2.5M46.2 82.2l3.4 -8.3m-1.8 1.6l1.8 -1.6l0.1 2.4M45.8 75.3l4.2 -7m-1.8 1.2l1.8 -1.2l-0.2 2.2M45.6 68.2l4.7 -5.3m-1.7 0.8l1.7 -0.8l-0.5 1.8M45.1 61.3l5.6 -4.1m-1.9 0.4l1.9 -0.4l-0.9 1.7M44.5 53.7l6.8 -1.5m-1.8 -0.4l1.8 0.4l-1.5 1.1M46.3 43.5l3.2 6.2m-0.1 -1.9l0.1 1.9l-1.5 -1.2M49.1 37l-2.4 6.6m1.3 -1.3l-1.3 1.3l-0.2 -1.9M50 31.2l-4.1 5.7m1.7 -0.9l-1.7 0.9l0.4 -1.9M50.4 25.2l-5 4.9m1.8 -0.6l-1.8 0.6l0.7 -1.8M50.7 19.3l-5.6 4.2m1.8 -0.4l-1.8 0.4l0.9 -1.7M50.9 13.3l-6 3.6m1.9 -0.2l-1.9 0.2l1.1 -1.6M51 7.3l-6.3 3.1m1.9 0l-1.9 0l1.2 -1.5M52.6 127.2l2.1 -10m-1.6 2.2l1.6 -2.2l0.6 2.6M52.6 120.9l2.1 -10m-1.6 2.2l1.6 -2.2l0.6 2.6M52.6 114.6l2.2 -10m-1.6 2.1l1.6 -2.1l0.6 2.6M52.6 108.3l2.2 -9.9m-1.6 2.1l1.6 -2.1l0.6 2.6M52.5 101.9l2.4 -9.8m-1.7 2.1l1.7 -2.1l0.5 2.6M52.4 95.5l2.6 -9.6m-1.7 2l1.7 -2l0.5 2.6M52.2 89l3 -9.1m-1.8 1.9l1.8 -1.9l0.3 2.6M51.9 82.3l3.7 -8.4m-1.9 1.6l1.9 -1.6l0.1 2.5M51.6 75.4l4.3 -7.1m-1.9 1.2l1.9 -1.2l-0.2 2.2M51.4 68.3l4.6 -5.5m-1.8 0.8l1.8 -0.8l-0.5 1.9M51 61.5l5.4 -4.5m-1.8 0.5l1.8 -0.5l-0.8 1.7M50.4 54.2l6.5 -2.6m-1.9 -0.1l1.9 0.1l-1.3 1.4M52.5 43.3l2.5 6.6m0.1 -1.9l-0.1 1.9l-1.3 -1.3M55.5 37.3l-3.7 6m1.6 -1l-1.6 1l0.2 -1.9M56.2 31.5l-4.9 5m1.8 -0.6l-1.8 0.6l0.6 -1.8M56.5 25.6l-5.6 4.2m1.8 -0.4l-1.8 0.4l0.9 -1.7M56.7 19.6l-6 3.6m1.9 -0.2l-1.9 0.2l1.1 -1.6M56.9 13.6l-6.3 3m1.9 0l-1.9 0l1.2 -1.5M57 7.5l-6.5 2.6m1.9 0.1l-1.9 -0.1l1.3 -1.4M58.1 127.1l2.9 -9.9m-1.8 2l1.8 -2l0.4 2.7M58.1 120.8l2.9 -9.9m-1.8 2l1.8 -2l0.4 2.7M58 114.5l2.9 -9.9m-1.8 2l1.8 -2l0.4 2.7M58 108.2l3 -9.8m-1.8 2l1.8 -2l0.4 2.7M58 101.9l3 -9.7m-1.8 2l1.8 -2l0.4 2.7M57.9 95.5l3.2 -9.5m-1.9 2l1.9 -2l0.3 2.7M57.7 89l3.5 -9.1m-1.9 1.8l1.9 -1.8l0.2 2.6M57.5 82.3l4 -8.4m-1.9 1.6l1.9 -1.6l0 2.5M57.3 75.4l4.4 -7.2m-1.9 1.3l1.9 -1.3l-0.2 2.3M57.2 68.4l4.5 -5.7m-1.8 0.9l1.8 -0.9l-0.4 1.9M57 61.6l5 -4.9m-1.8 0.6l1.8 -0.6l-0.7 1.8M56.6 54.8l5.9 -3.8m-1.9 0.3l1.9 -0.3l-1 1.6M59.5 43.1l0.1 7m0.8 -1.7l-0.8 1.7l-0.8 -1.7M62 37.9l-5 4.9m1.8 -0.6l-1.8 0.6l0.7 -1.8M62.4 32l-5.7 4.1m1.9 -0.3l-1.9 0.3l0.9 -1.6M62.6 26l-6.1 3.4m1.9 -0.1l-1.9 0.1l1.1 -1.5M62.7 20l-6.4 2.9m1.9 0l-1.9 0l1.2 -1.4M62.8 13.9l-6.6 2.4m1.9 0.2l-1.9 -0.2l1.3 -1.3M62.8 7.7l-6.7 2.1m1.9 0.2l-1.9 -0.2l1.4 -1.3M63.5 127.1l3.6 -9.7m-1.9 1.9l1.9 -1.9l0.2 2.7M63.5 120.8l3.6 -9.7m-1.9 1.9l1.9 -1.9l0.2 2.7M63.5 114.4l3.6 -9.7m-1.9 1.9l1.9 -1.9l0.2 2.7M63.5 108.1l3.7 -9.6m-1.9 1.9l1.9 -1.9l0.2 2.7M63.4 101.8l3.7 -9.6m-2 1.9l2 -1.9l0.2 2.7M63.4 95.4l3.8 -9.4m-2 1.8l2 -1.8l0.1 2.7M63.3 88.9l4 -9m-2 1.7l2 -1.7l0 2.7M63.1 82.3l4.3 -8.4m-2 1.6l2 -1.6l-0.1 2.5M63 75.5l4.5 -7.3m-1.9 1.3l1.9 -1.3l-0.3 2.3M63.1 68.5l4.4 -5.9m-1.8 0.9l1.8 -0.9l-0.4 2M63 61.8l4.6 -5.2m-1.7 0.8l1.7 -0.8l-0.5 1.8M62.9 55.4l4.9 -5m-1.8 0.7l1.8 -0.7l-0.6 1.8M68.7 45.7l-6.7 1.9m1.9 0.3l-1.9 -0.3l1.4 -1.2M68.4 38.6l-6.1 3.4m1.9 -0.1l-1.9 0.1l1.1 -1.5M68.4 32.5l-6.3 3.1m1.9 0l-1.9 0l1.2 -1.5M68.5 26.4l-6.5 2.6m1.9 0.1l-1.9 -0.1l1.3 -1.4M68.6 20.3l-6.6 2.2m1.9 0.2l-1.9 -0.2l1.4 -1.3M68.7 14.1l-6.7 1.9m1.9 0.3l-1.9 -0.3l1.4 -1.2M68.7 7.9l-6.8 1.7m1.9 0.3l-1.9 -0.3l1.5 -1.2M68.9 126.9l4.3 -9.5m-2.1 1.8l2.1 -1.8l0 2.7M68.9 120.6l4.3 -9.5m-2.1 1.8l2.1 -1.8l0 2.7M68.9 114.3l4.3 -9.5m-2.1 1.8l2.1 -1.8l0 2.7M68.9 108l4.3 -9.4m-2.1 1.7l2.1 -1.7l0 2.7M68.9 101.7l4.4 -9.3m-2.1 1.7l2.1 -1.7l0 2.7M68.9 95.3l4.4 -9.2m-2.1 1.7l2.1 -1.7l0 2.7M68.8 88.8l4.5 -8.9m-2.1 1.7l2.1 -1.7l-0.1 2.7M68.8 82.3l4.7 -8.3m-2.1 1.5l2.1 -1.5l-0.2 2.6M68.8 75.5l4.7 -7.4m-2 1.3l2 -1.3l-0.3 2.3M68.9 68.6l4.4 -6.1m-1.8 1l1.8 -1l-0.4 2M69 62l4.3 -5.6m-1.7 0.9l1.7 -0.9l-0.4 1.8M69.2 55.9l3.7 -5.9m-1.6 1l1.6 -1l-0.2 1.9M74.3 48.1l-6.4 -2.9m1.2 1.4l-1.2 -1.4l1.9 0M74.5 39.4l-6.7 1.9m1.9 0.3l-1.9 -0.3l1.4 -1.2M74.4 33l-6.7 2.1m1.9 0.3l-1.9 -0.3l1.4 -1.3M74.5 26.8l-6.7 1.9m1.9 0.3l-1.9 -0.3l1.4 -1.2M74.5 20.6l-6.8 1.7m1.9 0.4l-1.9 -0.4l1.5 -1.2M74.5 14.3l-6.8 1.5m1.8 0.4l-1.8 -0.4l1.5 -1.1M74.5 8.1l-6.8 1.5m1.8 0.4l-1.8 -0.4l1.5 -1.1M74.4 126.8l5 -9.2m-2.2 1.6l2.2 -1.6l-0.2 2.7M74.4 120.5l5 -9.2m-2.2 1.6l2.2 -1.6l-0.2 2.7M74.4 114.2l5 -9.2m-2.2 1.6l2.2 -1.6l-0.2 2.7M74.4 107.9l5 -9.1m-2.2 1.6l2.2 -1.6l-0.2 2.7M74.4 101.5l5 -9.1m-2.2 1.6l2.2 -1.6l-0.2 2.7M74.4 95.2l5 -8.9m-2.2 1.6l2.2 -1.6l-0.2 2.7M74.4 88.7l5 -8.7m-2.2 1.5l2.2 -1.5l-0.2 2.7M74.4 82.2l5 -8.2m-2.2 1.4l2.2 -1.4l-0.3 2.6M74.5 75.5l4.8 -7.4m-2 1.2l2 -1.2l-0.3 2.4M74.7 68.6l4.3 -6.2m-1.8 1l1.8 -1l-0.3 2M74.9 62.1l3.9 -5.8m-1.6 1l1.6 -1l-0.3 1.9M75.6 56.2l2.6 -6.5m-1.4 1.3l1.4 -1.3l0.1 1.9M79.8 48.6l-5.7 -4m0.9 1.6l-0.9 -1.6l1.9 0.3M80.4 40l-7 0.6m1.8 0.7l-1.8 -0.7l1.6 -0.9M80.3 33.4l-6.9 1.2m1.8 0.5l-1.8 -0.5l1.5 -1.1M80.3 27.1l-6.9 1.3m1.8 0.5l-1.8 -0.5l1.5 -1.1M80.3 20.8l-6.9 1.2m1.8 0.5l-1.8 -0.5l1.5 -1.1M80.3 14.5l-6.9 1.2m1.8 0.5l-1.8 -0.5l1.5 -1.1M80.3 8.1l-6.9 1.3m1.8 0.5l-1.8 -0.5l1.5 -1.1M79.9 126.6l5.6 -8.8m-2.3 1.5l2.3 -1.5l-0.3 2.7M79.9 120.3l5.6 -8.8m-2.3 1.5l2.3 -1.5l-0.3 2.7M79.9 114l5.6 -8.8m-2.3 1.5l2.3 -1.5l-0.4 2.7M79.9 107.7l5.6 -8.8m-2.3 1.5l2.3 -1.5l-0.4 2.7M79.9 101.4l5.6 -8.7m-2.3 1.4l2.3 -1.4l-0.4 2.7M79.9 95l5.6 -8.6m-2.3 1.4l2.3 -1.4l-0.4 2.7M79.9 88.6l5.5 -8.4m-2.3 1.4l2.3 -1.4l-0.4 2.7M80 82.1l5.4 -8m-2.2 1.3l2.2 -1.3l-0.4 2.6M80.2 75.4l5 -7.3m-2.1 1.2l2.1 -1.2l-0.4 2.4M80.5 68.7l4.3 -6.3m-1.8 1.1l1.8 -1.1l-0.3 2M80.9 62.2l3.6 -6m-1.6 1.1l1.6 -1.1l-0.2 1.9M81.9 56.3l1.6 -6.8m-1.2 1.5l1.2 -1.5l0.4 1.9M85.4 48.8l-5.4 -4.4m0.8 1.7l-0.8 -1.7l1.8 0.5M86.2 40.5l-7 -0.4m1.7 0.9l-1.7 -0.9l1.8 -0.7M86.2 33.7l-7 0.5m1.8 0.7l-1.8 -0.7l1.6 -0.9M86.2 27.3l-7 0.8m1.8 0.6l-1.8 -0.6l1.6 -1M86.2 20.9l-6.9 0.9m1.8 0.6l-1.8 -0.6l1.6 -1M86.2 14.6l-6.9 1m1.8 0.5l-1.8 -0.5l1.6 -1M86.1 8.2l-6.9 1.3m1.8 0.5l-1.8 -0.5l1.5 -1.1M85.4 126.4l6.2 -8.4m-2.4 1.3l2.4 -1.3l-0.5 2.6M85.4 120.1l6.2 -8.4m-2.4 1.3l2.4 -1.3l-0.5 2.6M85.4 113.8l6.2 -8.4m-2.4 1.3l2.4 -1.3l-0.5 2.6M85.4 107.5l6.2 -8.4m-2.4 1.3l2.4 -1.3l-0.5 2.6M85.4 101.2l6.1 -8.4m-2.4 1.3l2.4 -1.3l-0.5 2.6M85.5 94.8l6.1 -8.3m-2.4 1.3l2.4 -1.3l-0.5 2.6M85.5 88.5l6 -8.1m-2.4 1.3l2.4 -1.3l-0.5 2.6M85.6 82l5.7 -7.8m-2.3 1.3l2.3 -1.3l-0.5 2.6M85.9 75.4l5.2 -7.2m-2.1 1.2l2.1 -1.2l-0.5 2.4M86.3 68.7l4.3 -6.3m-1.8 1.1l1.8 -1.1l-0.3 2M86.8 62.3l3.3 -6.1m-1.5 1.1l1.5 -1.1l-0.1 1.9M88 56.4l0.9 -6.9m-1 1.6l1 -1.6l0.6 1.8M91.1 48.9l-5.3 -4.6m0.8 1.7l-0.8 -1.7l1.8 0.5M92 40.8l-6.9 -1.1m1.6 1.1l-1.6 -1.1l1.8 -0.5M92 34l-7 0.1m1.7 0.8l-1.7 -0.8l1.7 -0.8M92 27.5l-7 0.5m1.8 0.7l-1.8 -0.7l1.7 -0.9M92 21l-7 0.7m1.8 0.6l-1.8 -0.6l1.6 -1M92 14.6l-6.9 1m1.8 0.5l-1.8 -0.5l1.6 -1M91.9 8.1l-6.9 1.4m1.8 0.5l-1.8 -0.5l1.5 -1.1M91.2 126.4l6.1 -8.4m-2.4 1.3l2.4 -1.3l-0.5 2.7M91.2 120.1l6.1 -8.4m-2.4 1.3l2.4 -1.3l-0.5 2.7M91.2 113.8l6.1 -8.4m-2.4 1.3l2.4 -1.3l-0.5 2.7M91.3 107.5l6.1 -8.4m-2.4 1.3l2.4 -1.3l-0.5 2.7M91.3 101.2l6.1 -8.4m-2.4 1.3l2.4 -1.3l-0.5 2.7M91.3 94.8l6 -8.3m-2.4 1.3l2.4 -1.3l-0.5 2.7M91.4 88.5l5.9 -8.1m-2.4 1.3l2.4 -1.3l-0.5 2.7M91.5 82l5.6 -7.8m-2.3 1.3l2.3 -1.3l-0.5 2.6M91.8 75.4l5.1 -7.3m-2.1 1.2l2.1 -1.2l-0.4 2.4M92.2 68.7l4.1 -6.5m-1.7 1.1l1.7 -1.1l-0.3 2.1M92.8 62.4l3 -6.3m-1.5 1.2l1.5 -1.2l0 1.9M94.2 56.4l0.3 -7m-0.9 1.7l0.9 -1.7l0.7 1.7M96.9 49l-5.2 -4.7m0.7 1.7l-0.7 -1.7l1.8 0.6M97.7 41.1l-6.8 -1.5m1.5 1.2l-1.5 -1.2l1.8 -0.4M97.8 34.1l-7 -0.3m1.7 0.9l-1.7 -0.9l1.7 -0.7M97.8 27.6l-7 0.3m1.7 0.7l-1.7 -0.7l1.7 -0.9M97.8 21.1l-7 0.7m1.8 0.6l-1.8 -0.6l1.6 -1M97.8 14.6l-6.9 1.1m1.8 0.5l-1.8 -0.5l1.6 -1.1M97.7 8l-6.8 1.5m1.8 0.4l-1.8 -0.4l1.5 -1.2M97.1 126.4l6.1 -8.4m-2.4 1.3l2.4 -1.3l-0.5 2.7M97.1 120.1l6 -8.4m-2.4 1.3l2.4 -1.3l-0.5 2.7M97.1 113.8l6 -8.4m-2.4 1.3l2.4 -1.3l-0.5 2.7M97.1 107.5l6 -8.4m-2.4 1.3l2.4 -1.3l-0.5 2.7M97.1 101.2l6 -8.4m-2.4 1.3l2.4 -1.3l-0.5 2.7M97.1 94.8l5.9 -8.3m-2.4 1.3l2.4 -1.3l-0.5 2.7M97.2 88.5l5.8 -8.1m-2.3 1.3l2.3 -1.3l-0.5 2.7M97.4 82l5.5 -7.8m-2.2 1.3l2.2 -1.3l-0.4 2.5M97.6 75.5l4.9 -7.3m-2 1.2l2 -1.2l-0.4 2.4M98.1 68.8l3.9 -6.6m-1.7 1.2l1.7 -1.2l-0.2 2.1M98.8 62.4l2.7 -6.5m-1.4 1.3l1.4 -1.3l0.1 1.9M100.2 56.4l-0.2 -7m-0.7 1.7l0.7 -1.7l0.9 1.7M102.7 49l-5.1 -4.8m0.7 1.8l-0.7 -1.8l1.8 0.6M103.5 41.2l-6.8 -1.8m1.5 1.2l-1.5 -1.2l1.9 -0.3M103.6 34.2l-7 -0.4m1.7 0.9l-1.7 -0.9l1.8 -0.7M103.6 27.6l-7 0.3m1.7 0.7l-1.7 -0.7l1.7 -0.9M103.6 21l-7 0.8m1.8 0.6l-1.8 -0.6l1.6 -1M103.5 14.5l-6.9 1.3m1.8 0.5l-1.8 -0.5l1.5 -1.1M103.5 7.9l-6.8 1.8m1.9 0.3l-1.9 -0.3l1.4 -1.2M102.9 126.4l6 -8.4m-2.3 1.3l2.3 -1.3l-0.5 2.7M102.9 120.1l6 -8.4m-2.3 1.3l2.3 -1.3l-0.5 2.7M102.9 113.8l6 -8.4m-2.3 1.3l2.3 -1.3l-0.5 2.7M102.9 107.5l6 -8.4m-2.3 1.3l2.3 -1.3l-0.5 2.7M102.9 101.2l5.9 -8.3m-2.3 1.3l2.3 -1.3l-0.5 2.7M103 94.8l5.9 -8.3m-2.3 1.3l2.3 -1.3l-0.5 2.7M103 88.5l5.7 -8.1m-2.3 1.3l2.3 -1.3l-0.5 2.6M103.2 82l5.4 -7.8m-2.2 1.3l2.2 -1.3l-0.4 2.5M103.5 75.5l4.8 -7.3m-2 1.2l2 -1.2l-0.3 2.3M104 68.8l3.8 -6.6m-1.7 1.2l1.7 -1.2l-0.2 2.1M104.7 62.5l2.4 -6.6m-1.3 1.3l1.3 -1.3l0.2 1.9M106.2 56.4l-0.6 -7m-0.7 1.8l0.7 -1.8l0.9 1.6M108.4 49l-5.1 -4.8m0.7 1.8l-0.7 -1.8l1.8 0.6M109.3 41.3l-6.7 -1.9m1.4 1.2l-1.4 -1.2l1.9 -0.3M109.4 34.2l-7 -0.5m1.7 0.9l-1.7 -0.9l1.8 -0.7M109.4 27.5l-7 0.3m1.7 0.7l-1.7 -0.7l1.7 -0.9M109.4 20.9l-6.9 1m1.8 0.6l-1.8 -0.6l1.6 -1M109.3 14.3l-6.8 1.6m1.8 0.4l-1.8 -0.4l1.5 -1.2M109.2 7.7l-6.6 2.2m1.9 0.2l-1.9 -0.2l1.4 -1.3M108.7 126.4l6 -8.4m-2.3 1.3l2.3 -1.3l-0.5 2.7M108.7 120.1l5.9 -8.4m-2.3 1.3l2.3 -1.3l-0.5 2.7M108.7 113.8l5.9 -8.4m-2.3 1.3l2.3 -1.3l-0.5 2.7M108.7 107.5l5.9 -8.3m-2.3 1.3l2.3 -1.3l-0.5 2.7M108.8 101.1l5.9 -8.3m-2.3 1.3l2.3 -1.3l-0.5 2.7M108.8 94.8l5.8 -8.2m-2.3 1.3l2.3 -1.3l-0.5 2.7M108.9 88.4l5.6 -8.1m-2.3 1.3l2.3 -1.3l-0.5 2.6M109 82l5.3 -7.8m-2.2 1.3l2.2 -1.3l-0.4 2.5M109.4 75.4l4.7 -7.3m-2 1.2l2 -1.2l-0.3 2.3M109.9 68.8l3.6 -6.6m-1.6 1.2l1.6 -1.2l-0.1 2M110.6 62.5l2.2 -6.6m-1.3 1.4l1.3 -1.4l0.2 1.9M112.1 56.4l-0.8 -7m-0.6 1.8l0.6 -1.8l1 1.6M114.2 49l-5.1 -4.8m0.7 1.8l-0.7 -1.8l1.8 0.6M115.1 41.3l-6.7 -1.9m1.4 1.2l-1.4 -1.2l1.9 -0.3M115.2 34.2l-7 -0.4m1.7 0.9l-1.7 -0.9l1.8 -0.7M115.2 27.4l-7 0.6m1.8 0.7l-1.8 -0.7l1.6 -0.9M115.1 20.8l-6.9 1.3m1.8 0.5l-1.8 -0.5l1.5 -1.1M115.1 14.1l-6.7 2m1.9 0.3l-1.9 -0.3l1.4 -1.2M114.9 7.5l-6.5 2.7m1.9 0.1l-1.9 -0.1l1.3 -1.4M114.5 126.4l5.9 -8.3m-2.4 1.3l2.4 -1.3l-0.5 2.7M114.5 120l5.9 -8.3m-2.4 1.3l2.4 -1.3l-0.5 2.7M114.5 113.7l5.9 -8.3m-2.4 1.3l2.4 -1.3l-0.5 2.7M114.6 107.4l5.9 -8.3m-2.3 1.3l2.3 -1.3l-0.5 2.7M114.6 101.1l5.8 -8.2m-2.3 1.3l2.3 -1.3l-0.5 2.7M114.6 94.8l5.8 -8.1m-2.3 1.3l2.3 -1.3l-0.5 2.6M114.7 88.4l5.6 -8m-2.3 1.3l2.3 -1.3l-0.5 2.6M114.9 81.9l5.2 -7.7m-2.2 1.3l2.2 -1.3l-0.4 2.5M115.2 75.4l4.6 -7.2m-1.9 1.2l1.9 -1.2l-0.3 2.3M115.7 68.8l3.5 -6.6m-1.6 1.2l1.6 -1.2l-0.1 2M116.4 62.5l2.2 -6.7m-1.3 1.4l1.3 -1.4l0.2 1.9M117.9 56.4l-0.8 -6.9m-0.6 1.8l0.6 -1.8l1 1.6M120.1 49l-5.1 -4.8m0.7 1.8l-0.7 -1.8l1.8 0.6M120.9 41.2l-6.8 -1.8m1.4 1.2l-1.4 -1.2l1.9 -0.3M121 34.1l-7 -0.1m1.7 0.8l-1.7 -0.8l1.7 -0.8M121 27.3l-6.9 0.9m1.8 0.6l-1.8 -0.6l1.6 -1M120.9 20.5l-6.8 1.7m1.9 0.4l-1.9 -0.4l1.5 -1.2M120.8 13.9l-6.5 2.5m1.9 0.1l-1.9 -0.1l1.3 -1.4M120.6 7.2l-6.2 3.2m1.9 -0.1l-1.9 0.1l1.2 -1.5M120.3 126.3l5.9 -8.2m-2.4 1.3l2.4 -1.3l-0.5 2.7M120.3 120l5.9 -8.2m-2.4 1.3l2.4 -1.3l-0.5 2.7M120.3 113.7l5.9 -8.2m-2.4 1.3l2.4 -1.3l-0.5 2.7M120.4 107.4l5.9 -8.1m-2.4 1.3l2.4 -1.3l-0.5 2.7M120.4 101l5.8 -8.1m-2.4 1.3l2.4 -1.3l-0.5 2.6M120.4 94.7l5.8 -8m-2.3 1.3l2.3 -1.3l-0.5 2.6M120.5 88.3l5.6 -7.8m-2.3 1.3l2.3 -1.3l-0.5 2.6M120.7 81.9l5.2 -7.5m-2.1 1.2l2.1 -1.2l-0.4 2.4M121 75.3l4.6 -7.1m-1.9 1.2l1.9 -1.2l-0.3 2.3M121.5 68.7l3.5 -6.5m-1.6 1.2l1.6 -1.2l-0.1 2M122.2 62.5l2.2 -6.7m-1.3 1.4l1.3 -1.4l0.2 1.9M123.7 56.4l-0.8 -7m-0.6 1.8l0.6 -1.8l1 1.6M125.9 49l-5.2 -4.7m0.7 1.7l-0.7 -1.7l1.8 0.6M126.7 41.1l-6.8 -1.6m1.5 1.2l-1.5 -1.2l1.8 -0.4M126.8 33.9l-7 0.2m1.7 0.7l-1.7 -0.7l1.7 -0.9M126.7 27l-6.9 1.4m1.8 0.4l-1.8 -0.4l1.5 -1.1M126.6 20.3l-6.6 2.3m1.9 0.2l-1.9 -0.2l1.4 -1.3M126.4 13.6l-6.3 3.1m1.9 0l-1.9 0l1.2 -1.5M126.2 6.9l-5.9 3.8m1.9 -0.3l-1.9 0.3l1 -1.6M126.1 126.2l6 -8m-2.4 1.3l2.4 -1.3l-0.6 2.6M126.1 119.9l6 -8m-2.4 1.3l2.4 -1.3l-0.6 2.6M126.1 113.6l6 -8m-2.4 1.3l2.4 -1.3l-0.5 2.6M126.1 107.3l5.9 -7.9m-2.4 1.3l2.4 -1.3l-0.5 2.6M126.2 100.9l5.9 -7.9m-2.3 1.3l2.3 -1.3l-0.5 2.6M126.2 94.6l5.8 -7.8m-2.3 1.2l2.3 -1.2l-0.5 2.6M126.3 88.2l5.6 -7.6m-2.2 1.2l2.2 -1.2l-0.5 2.5M126.5 81.8l5.2 -7.3m-2.1 1.2l2.1 -1.2l-0.4 2.4M126.8 75.2l4.6 -6.9m-1.9 1.2l1.9 -1.2l-0.3 2.2M127.3 68.7l3.6 -6.3m-1.6 1.1l1.6 -1.1l-0.2 2M127.9 62.5l2.3 -6.6m-1.3 1.4l1.3 -1.4l0.2 1.9M129.4 56.4l-0.6 -7m-0.6 1.8l0.6 -1.8l1 1.6M131.7 48.9l-5.2 -4.6m0.8 1.7l-0.8 -1.7l1.8 0.5M132.5 40.9l-6.9 -1.2m1.6 1.1l-1.6 -1.1l1.8 -0.5M132.6 33.6l-7 0.8m1.8 0.6l-1.8 -0.6l1.6 -1M132.5 26.7l-6.7 2m1.9 0.3l-1.9 -0.3l1.4 -1.3M132.3 19.9l-6.4 2.9m1.9 0l-1.9 0l1.2 -1.4M132.1 13.2l-5.9 3.7m1.9 -0.2l-1.9 0.2l1 -1.6M131.8 6.6l-5.4 4.4m1.8 -0.5l-1.8 0.5l0.8 -1.7M131.9 126.1l6.1 -7.8m-2.4 1.2l2.4 -1.2l-0.6 2.6M131.9 119.8l6.1 -7.8m-2.4 1.2l2.4 -1.2l-0.6 2.6M131.9 113.5l6.1 -7.7m-2.4 1.2l2.4 -1.2l-0.6 2.6M131.9 107.2l6 -7.7m-2.4 1.2l2.4 -1.2l-0.6 2.6M131.9 100.8l6 -7.7m-2.3 1.2l2.3 -1.2l-0.6 2.6M132 94.5l5.9 -7.6m-2.3 1.2l2.3 -1.2l-0.6 2.5M132.1 88.1l5.7 -7.4m-2.2 1.2l2.2 -1.2l-0.6 2.5M132.2 81.7l5.3 -7.1m-2.1 1.1l2.1 -1.1l-0.5 2.3M132.6 75.1l4.7 -6.7m-1.9 1.1l1.9 -1.1l-0.4 2.2M133.1 68.6l3.7 -6.1m-1.6 1.1l1.6 -1.1l-0.2 1.9M133.6 62.5l2.6 -6.5m-1.4 1.3l1.4 -1.3l0.1 1.9M135.1 56.4l-0.3 -7m-0.7 1.7l0.7 -1.7l0.9 1.7M137.6 48.9l-5.3 -4.5m0.8 1.7l-0.8 -1.7l1.8 0.5M138.4 40.6l-7 -0.6m1.6 0.9l-1.6 -0.9l1.8 -0.6M138.3 33.3l-6.8 1.5m1.8 0.4l-1.8 -0.4l1.5 -1.1M138.1 26.3l-6.4 2.7m1.9 0.1l-1.9 -0.1l1.3 -1.4M137.9 19.6l-6 3.6m1.9 -0.2l-1.9 0.2l1 -1.6M137.6 12.9l-5.5 4.4m1.8 -0.5l-1.8 0.5l0.8 -1.7M137.4 6.3l-4.9 5m1.8 -0.7l-1.8 0.7l0.6 -1.8M137.6 125.9l6.3 -7.5m-2.4 1.1l2.4 -1.1l-0.7 2.5M137.6 119.6l6.3 -7.5m-2.4 1.1l2.4 -1.1l-0.7 2.5M137.6 113.3l6.3 -7.5m-2.4 1.1l2.4 -1.1l-0.7 2.5M137.6 107l6.2 -7.4m-2.4 1.1l2.4 -1.1l-0.7 2.5M137.6 100.7l6.2 -7.4m-2.3 1.1l2.3 -1.1l-0.7 2.5M137.7 94.3l6.1 -7.3m-2.3 1.1l2.3 -1.1l-0.7 2.5M137.8 88l5.9 -7.1m-2.2 1.1l2.2 -1.1l-0.6 2.4M138 81.5l5.5 -6.8m-2.1 1l2.1 -1l-0.6 2.3M138.3 75l4.9 -6.4m-1.9 1l1.9 -1l-0.5 2.1M138.8 68.4l3.9 -5.9m-1.6 1l1.6 -1l-0.3 1.9M139.2 62.4l2.9 -6.4m-1.4 1.2l1.4 -1.2l0 1.9M140.6 56.4l0.2 -7m-0.8 1.7l0.8 -1.7l0.8 1.7M143.4 48.8l-5.5 -4.4m0.8 1.7l-0.8 -1.7l1.8 0.4M144.2 40.2l-7 0.2m1.7 0.7l-1.7 -0.7l1.7 -0.9M144 32.8l-6.6 2.4m1.9 0.2l-1.9 -0.2l1.3 -1.3M143.7 25.9l-6 3.6m1.9 -0.2l-1.9 0.2l1.1 -1.6M143.4 19.2l-5.5 4.4m1.8 -0.5l-1.8 0.5l0.8 -1.7M143.1 12.6l-4.9 5m1.8 -0.7l-1.8 0.7l0.6 -1.8M142.9 6l-4.3 5.5m1.7 -0.9l-1.7 0.9l0.4 -1.8M143.2 125.8l6.5 -7.2m-2.4 1l2.4 -1l-0.8 2.5M143.3 119.5l6.5 -7.2m-2.4 1l2.4 -1l-0.8 2.5M143.3 113.2l6.5 -7.1m-2.4 1l2.4 -1l-0.8 2.5M143.3 106.9l6.4 -7.1m-2.4 1l2.4 -1l-0.8 2.5M143.3 100.5l6.4 -7.1m-2.4 1l2.4 -1l-0.8 2.5M143.4 94.2l6.3 -7m-2.3 1l2.3 -1l-0.7 2.4M143.5 87.8l6.1 -6.8m-2.3 1l2.3 -1l-0.7 2.4M143.7 81.4l5.7 -6.5m-2.1 0.9l2.1 -0.9l-0.6 2.2M144 74.9l5.1 -6.1m-1.9 0.9l1.9 -0.9l-0.5 2.1M144.4 68.3l4.1 -5.6m-1.7 0.9l1.7 -0.9l-0.4 1.9M144.8 62.3l3.4 -6.1m-1.5 1.1l1.5 -1.1l-0.1 1.9M146 56.4l1 -6.9m-1 1.6l1 -1.6l0.6 1.8M149.4 48.6l-5.7 -4m0.9 1.6l-0.9 -1.6l1.9 0.3M149.9 39.6l-6.9 1.4m1.8 0.4l-1.8 -0.4l1.5 -1.1M149.6 32.3l-6.1 3.4m1.9 -0.1l-1.9 0.1l1.1 -1.5M149.2 25.5l-5.4 4.4m1.8 -0.5l-1.8 0.5l0.8 -1.7M148.9 18.9l-4.8 5.1m1.8 -0.7l-1.8 0.7l0.6 -1.8M148.6 12.3l-4.2 5.6m1.7 -0.9l-1.7 0.9l0.4 -1.8M148.4 5.8l-3.7 5.9m1.6 -1l-1.6 1l0.2 -1.9M148.9 125.6l6.8 -6.8m-2.4 0.9l2.4 -0.9l-0.9 2.4M148.9 119.3l6.7 -6.8m-2.4 0.9l2.4 -0.9l-0.9 2.4M148.9 113l6.7 -6.8m-2.4 0.9l2.4 -0.9l-0.9 2.4M149 106.7l6.7 -6.8m-2.4 0.9l2.4 -0.9l-0.9 2.4M149 100.4l6.6 -6.7m-2.4 0.9l2.4 -0.9l-0.9 2.4M149 94l6.5 -6.6m-2.3 0.9l2.3 -0.9l-0.8 2.4M149.2 87.6l6.3 -6.5m-2.3 0.9l2.3 -0.9l-0.8 2.3M149.3 81.2l5.9 -6.2m-2.2 0.8l2.2 -0.8l-0.7 2.2M149.6 74.7l5.3 -5.8m-2 0.8l2 -0.8l-0.6 2M150.1 68.2l4.5 -5.4m-1.7 0.8l1.7 -0.8l-0.5 1.8M150.4 62.1l3.9 -5.8m-1.6 1l1.6 -1l-0.3 1.9M151.3 56.2l2 -6.7m-1.3 1.4l1.3 -1.4l0.3 1.9M155.3 48.3l-6.1 -3.5m1.1 1.5l-1.1 -1.5l1.9 0.2M155.5 38.9l-6.4 2.9m1.9 0l-1.9 0l1.2 -1.4M155 31.8l-5.4 4.4m1.8 -0.5l-1.8 0.5l0.8 -1.7M154.7 25.1l-4.7 5.2m1.7 -0.7l-1.7 0.7l0.6 -1.8M154.3 18.6l-4.1 5.7m1.7 -0.9l-1.7 0.9l0.4 -1.9M154.1 12.1l-3.6 6m1.6 -1.1l-1.6 1.1l0.2 -1.9M153.9 5.7l-3.1 6.3m1.5 -1.2l-1.5 1.2l0.1 -1.9M154.6 125.5l7 -6.5m-2.5 0.8l2.5 -0.8l-1 2.4M154.6 119.2l7 -6.5m-2.5 0.8l2.5 -0.8l-1 2.4M154.6 112.8l7 -6.5m-2.4 0.8l2.4 -0.8l-1 2.4M154.6 106.5l6.9 -6.5m-2.4 0.8l2.4 -0.8l-1 2.4M154.7 100.2l6.9 -6.4m-2.4 0.8l2.4 -0.8l-0.9 2.4M154.7 93.9l6.7 -6.3m-2.4 0.8l2.4 -0.8l-0.9 2.3M154.8 87.5l6.5 -6.2m-2.3 0.8l2.3 -0.8l-0.9 2.3M155 81.1l6.1 -5.9m-2.2 0.8l2.2 -0.8l-0.8 2.2M155.3 74.6l5.6 -5.6m-2 0.7l2 -0.7l-0.7 2M155.7 68.1l4.8 -5.1m-1.8 0.7l1.8 -0.7l-0.6 1.8M155.9 61.9l4.4 -5.4m-1.7 0.8l1.7 -0.8l-0.5 1.8M156.4 56l3.4 -6.1m-1.5 1.1l1.5 -1.1l-0.1 1.9M161.4 47.6l-6.7 -2m1.4 1.3l-1.4 -1.3l1.9 -0.3M160.8 38.1l-5.4 4.5m1.8 -0.5l-1.8 0.5l0.8 -1.7M160.4 31.3l-4.5 5.3m1.7 -0.8l-1.7 0.8l0.5 -1.8M160.1 24.8l-3.9 5.8m1.6 -1l-1.6 1l0.3 -1.9M159.8 18.3l-3.4 6.1m1.5 -1.1l-1.5 1.1l0.1 -1.9M159.6 11.9l-2.9 6.4m1.4 -1.2l-1.4 1.2l0 -1.9M159.4 5.6l-2.6 6.5m1.4 -1.3l-1.4 1.3l-0.1 -1.9M160.3 125.3l7.3 -6.3m-2.5 0.7l2.5 -0.7l-1.1 2.4M160.3 119l7.2 -6.2m-2.5 0.7l2.5 -0.7l-1.1 2.4M160.3 112.7l7.2 -6.2m-2.5 0.7l2.5 -0.7l-1.1 2.3M160.3 106.4l7.2 -6.2m-2.5 0.7l2.5 -0.7l-1 2.3M160.3 100.1l7.1 -6.2m-2.4 0.7l2.4 -0.7l-1 2.3M160.4 93.7l7 -6.1m-2.4 0.7l2.4 -0.7l-1 2.3M160.5 87.4l6.8 -5.9m-2.3 0.7l2.3 -0.7l-1 2.2M160.7 80.9l6.4 -5.7m-2.2 0.7l2.2 -0.7l-0.9 2.1M161 74.5l5.8 -5.3m-2 0.6l2 -0.6l-0.8 2M161.4 67.9l5.1 -4.8m-1.8 0.6l1.8 -0.6l-0.7 1.8M161.4 61.7l4.9 -5m-1.8 0.7l1.8 -0.7l-0.6 1.8M161.6 55.5l4.7 -5.2m-1.7 0.7l1.7 -0.7l-0.6 1.8M165.9 43.7l-3.9 5.8m1.6 -1l-1.6 1l0.3 -1.9M165.9 37.4l-3.9 5.8m1.6 -1l-1.6 1l0.3 -1.9M165.7 31l-3.5 6.1m1.5 -1.1l-1.5 1.1l0.2 -1.9M165.4 24.6l-3.1 6.3m1.5 -1.2l-1.5 1.2l0 -1.9M165.2 18.2l-2.7 6.5m1.4 -1.3l-1.4 1.3l-0.1 -1.9M165.1 11.8l-2.4 6.6m1.3 -1.3l-1.3 1.3l-0.2 -1.9M165 5.5l-2.2 6.7m1.3 -1.4l-1.3 1.4l-0.2 -1.9M166 125.2l7.5 -6.1m-2.5 0.6l2.5 -0.6l-1.1 2.3M166 118.9l7.5 -6.1m-2.5 0.6l2.5 -0.6l-1.1 2.3M166 112.6l7.4 -6.1m-2.5 0.6l2.5 -0.6l-1.1 2.3M166 106.3l7.4 -6m-2.5 0.6l2.5 -0.6l-1.1 2.3M166 100l7.3 -6m-2.5 0.6l2.5 -0.6l-1.1 2.3M166.1 93.7l7.2 -5.9m-2.4 0.6l2.4 -0.6l-1.1 2.3M166.2 87.3l7 -5.8m-2.4 0.6l2.4 -0.6l-1 2.2M166.4 80.9l6.6 -5.5m-2.2 0.6l2.2 -0.6l-1 2.1M166.7 74.4l6.1 -5.1m-2.1 0.6l2.1 -0.6l-0.9 2M167 67.8l5.3 -4.6m-1.8 0.5l1.8 -0.5l-0.8 1.7M167 61.5l5.3 -4.6m-1.8 0.5l1.8 -0.5l-0.8 1.7M166.9 55l5.6 -4.1m-1.9 0.4l1.9 -0.4l-0.9 1.7M167.2 44.2l5 4.9m-0.7 -1.8l0.7 1.8l-1.8 -0.6M170.8 37l-2.1 6.7m1.3 -1.4l-1.3 1.4l-0.2 -1.9M170.9 30.7l-2.4 6.6m1.3 -1.3l-1.3 1.3l-0.2 -1.9M170.8 24.4l-2.2 6.6m1.3 -1.4l-1.3 1.4l-0.2 -1.9M170.7 18l-2 6.7m1.3 -1.4l-1.3 1.4l-0.3 -1.9M170.6 11.7l-1.8 6.8m1.2 -1.5l-1.2 1.5l-0.3 -1.9M170.4 5.4l-1.5 6.8m1.1 -1.5l-1.1 1.5l-0.4 -1.8M171.7 125.2l7.7 -6.1m-2.6 0.6l2.6 -0.6l-1.2 2.4M171.7 118.9l7.7 -6.1m-2.6 0.6l2.6 -0.6l-1.2 2.4M171.7 112.6l7.6 -6m-2.6 0.6l2.6 -0.6l-1.2 2.3M171.7 106.3l7.6 -6m-2.5 0.6l2.5 -0.6l-1.2 2.3M171.7 100l7.5 -6m-2.5 0.6l2.5 -0.6l-1.2 2.3M171.8 93.6l7.4 -5.9m-2.5 0.6l2.5 -0.6l-1.1 2.3M171.9 87.3l7.2 -5.8m-2.4 0.6l2.4 -0.6l-1.1 2.2M172.1 80.9l6.8 -5.5m-2.3 0.6l2.3 -0.6l-1 2.1M172.3 74.4l6.3 -5.1m-2.1 0.5l2.1 -0.5l-1 2M172.7 67.8l5.6 -4.5m-1.9 0.5l1.9 -0.5l-0.9 1.8M172.7 61.3l5.6 -4.2m-1.8 0.4l1.8 -0.4l-0.9 1.7M172.4 54.6l6.1 -3.4m-1.9 0.1l1.9 -0.1l-1.1 1.5M172.3 45.2l6.4 2.8m-1.2 -1.4l1.2 1.4l-1.9 0M175.5 36.8l-0.1 7m0.8 -1.7l-0.8 1.7l-0.8 -1.7M176.1 30.6l-1.2 6.9m1.1 -1.5l-1.1 1.5l-0.5 -1.8M176.2 24.3l-1.3 6.9m1.1 -1.5l-1.1 1.5l-0.5 -1.8M176.1 17.9l-1.1 6.9m1.1 -1.6l-1.1 1.6l-0.5 -1.8M175.8 11.6l-0.6 7m0.9 -1.6l-0.9 1.6l-0.7 -1.8M175.4 5.3l0.3 7m0.7 -1.7l-0.7 1.7l-0.9 -1.7M177.4 125.3l7.9 -6.2m-2.6 0.6l2.6 -0.6l-1.2 2.4M177.4 119l7.9 -6.2m-2.6 0.6l2.6 -0.6l-1.2 2.4M177.4 112.7l7.9 -6.2m-2.6 0.6l2.6 -0.6l-1.2 2.4M177.4 106.4l7.8 -6.2m-2.6 0.6l2.6 -0.6l-1.2 2.4M177.4 100.1l7.8 -6.2m-2.6 0.6l2.6 -0.6l-1.2 2.4M177.5 93.7l7.6 -6.1m-2.6 0.6l2.6 -0.6l-1.2 2.4M177.6 87.4l7.4 -5.9m-2.5 0.6l2.5 -0.6l-1.1 2.3M177.7 81l7.1 -5.7m-2.4 0.6l2.4 -0.6l-1.1 2.2M178 74.5l6.6 -5.3m-2.2 0.5l2.2 -0.5l-1 2.1M178.3 67.8l6 -4.7m-2 0.5l2 -0.5l-0.9 1.8M178.5 61.2l5.7 -4.1m-1.9 0.4l1.9 -0.4l-0.9 1.6M178.2 54.5l6.2 -3.2m-1.9 0.1l1.9 -0.1l-1.2 1.5M177.8 46.1l6.9 0.9m-1.6 -1l1.6 1l-1.8 0.6M180.1 37l2.5 6.5m0.1 -1.9l-0.1 1.9l-1.4 -1.3M181.1 30.5l0.4 7m0.7 -1.8l-0.7 1.8l-0.9 -1.7M181.2 24.2l0.2 7m0.7 -1.7l-0.7 1.7l-0.9 -1.7M180.9 17.9l0.8 7m0.6 -1.8l-0.6 1.8l-1 -1.6M180.6 11.7l1.5 6.8m0.4 -1.8l-0.4 1.8l-1.1 -1.5M180.3 5.4l2 6.7m0.3 -1.9l-0.3 1.9l-1.3 -1.4M183 125.5l8.2 -6.7m-2.6 0.7l2.6 -0.7l-1.2 2.4M183 119.2l8.1 -6.7m-2.6 0.7l2.6 -0.7l-1.2 2.4M183 112.9l8.1 -6.7m-2.6 0.7l2.6 -0.7l-1.2 2.4M183.1 106.6l8.1 -6.6m-2.6 0.7l2.6 -0.7l-1.2 2.4M183.1 100.3l8 -6.6m-2.6 0.7l2.6 -0.7l-1.2 2.4M183.1 94l7.9 -6.5m-2.6 0.7l2.6 -0.7l-1.2 2.4M183.2 87.6l7.7 -6.4m-2.6 0.7l2.6 -0.7l-1.2 2.4M183.4 81.2l7.5 -6.2m-2.5 0.7l2.5 -0.7l-1.1 2.4M183.6 74.7l7 -5.8m-2.4 0.6l2.4 -0.6l-1.1 2.2M183.9 68.1l6.4 -5.1m-2.2 0.5l2.2 -0.5l-1 2M184.2 61.3l5.8 -4.2m-1.9 0.4l1.9 -0.4l-0.9 1.7M184 54.6l6.1 -3.4m-1.9 0.1l1.9 -0.1l-1.1 1.5M183.6 46.9l7 -0.6m-1.8 -0.7l1.8 0.7l-1.6 0.9M184.7 37.8l4.9 5m-0.6 -1.8l0.6 1.8l-1.8 -0.7M185.8 30.8l2.7 6.5m0.1 -1.9l-0.1 1.9l-1.4 -1.3M186 24.4l2.3 6.6m0.2 -1.9l-0.2 1.9l-1.3 -1.4M185.9 18.1l2.4 6.6m0.2 -1.9l-0.2 1.9l-1.3 -1.3M185.8 11.8l2.6 6.7m0.1 -1.9l-0.1 1.9l-1.4 -1.3M185.8 5.4l2.7 6.8m0.1 -2l-0.1 2l-1.4 -1.4M188.7 125.9l8.5 -7.4m-2.6 0.8l2.6 -0.8l-1.1 2.5M188.7 119.6l8.5 -7.4m-2.6 0.8l2.6 -0.8l-1.1 2.5M188.7 113.3l8.5 -7.4m-2.6 0.8l2.6 -0.8l-1.1 2.5M188.7 107l8.4 -7.4m-2.6 0.8l2.6 -0.8l-1.1 2.5M188.7 100.7l8.4 -7.3m-2.6 0.8l2.6 -0.8l-1.1 2.5M188.8 94.3l8.3 -7.3m-2.6 0.8l2.6 -0.8l-1.1 2.5M188.8 88l8.1 -7.2m-2.6 0.8l2.6 -0.8l-1.1 2.5M189 81.6l7.9 -6.9m-2.6 0.8l2.6 -0.8l-1.1 2.5M189.1 75.1l7.5 -6.6m-2.6 0.7l2.6 -0.7l-1.1 2.5M189.4 68.5l7 -5.9m-2.4 0.7l2.4 -0.7l-1 2.2M189.7 61.7l6.4 -4.9m-2.1 0.5l2.1 -0.5l-1 1.9M189.8 54.6l6.2 -3.3m-1.9 0.1l1.9 -0.1l-1.1 1.5M189.4 46.5l7 0.2m-1.7 -0.8l1.7 0.8l-1.7 0.8M190.3 38l5.2 4.7m-0.7 -1.7l0.7 1.7l-1.8 -0.5M191 31l3.7 5.9m-0.2 -1.9l0.2 1.9l-1.6 -1M191.3 24.5l3.2 6.3m-0.1 -1.9l0.1 1.9l-1.5 -1.2M191.3 18.1l3.2 6.7m0 -2l0 2l-1.5 -1.3M191.4 11.7l3 6.8m0 -2l0 2l-1.5 -1.3M191.5 5.5l2.8 6.7m0.1 -1.9l-0.1 1.9l-1.4 -1.3M194.3 126.4l8.9 -8.3m-2.6 0.8l2.6 -0.8l-1 2.5M194.3 120.1l8.9 -8.3m-2.6 0.8l2.6 -0.8l-1 2.5M194.3 113.8l8.9 -8.3m-2.6 0.8l2.6 -0.8l-1 2.5M194.3 107.5l8.8 -8.3m-2.6 0.8l2.6 -0.8l-1 2.5M194.3 101.1l8.8 -8.3m-2.6 0.8l2.6 -0.8l-1 2.5M194.3 94.8l8.7 -8.2m-2.6 0.8l2.6 -0.8l-1 2.5M194.4 88.5l8.6 -8.1m-2.6 0.8l2.6 -0.8l-1 2.5M194.5 82.1l8.4 -7.9m-2.6 0.8l2.6 -0.8l-1 2.5M194.6 75.6l8.1 -7.5m-2.6 0.8l2.6 -0.8l-1 2.5M194.8 68.8l7.7 -6.7m-2.6 0.7l2.6 -0.7l-1.1 2.5M195 61.7l7.3 -5m-2.4 0.4l2.4 -0.4l-1.2 2.1M195.1 53.8l7.2 -1.8m-2 -0.4l2 0.4l-1.6 1.3M195.4 45.3l6.5 2.5m-1.3 -1.4l1.3 1.4l-1.9 0.1M196.2 37.8l5 4.9m-0.7 -1.8l0.7 1.8l-1.8 -0.6M196.6 31l4.3 6m-0.4 -1.9l0.4 1.9l-1.7 -1M196.8 24.5l3.8 6.4m-0.2 -2l0.2 2l-1.7 -1.1M196.9 18.2l3.5 6.5m-0.1 -2l0.1 2l-1.6 -1.2M197.2 11.9l3.1 6.4m0 -1.9l0 1.9l-1.5 -1.2M197.4 5.6l2.6 6.5m0.1 -1.9l-0.1 1.9l-1.4 -1.3M199.9 126.8l9.3 -9.3m-2.5 0.9l2.5 -0.9l-0.9 2.5M199.9 120.5l9.3 -9.3m-2.5 0.9l2.5 -0.9l-0.9 2.5M199.9 114.2l9.3 -9.3m-2.5 0.9l2.5 -0.9l-0.9 2.5M199.9 107.9l9.2 -9.2m-2.5 0.9l2.5 -0.9l-0.9 2.5M199.9 101.6l9.2 -9.2m-2.5 0.9l2.5 -0.9l-0.9 2.5M199.9 95.3l9.2 -9.2m-2.5 0.9l2.5 -0.9l-0.9 2.5M200 88.9l9.1 -9.1m-2.5 0.9l2.5 -0.9l-0.9 2.5M200 82.5l9 -8.8m-2.5 0.9l2.5 -0.9l-0.9 2.5M200.1 75.8l8.7 -8m-2.6 0.8l2.6 -0.8l-1 2.5M200.3 68.6l8.4 -6.2m-2.6 0.5l2.6 -0.5l-1.3 2.4M200.4 60.7l8.2 -3m-2.4 -0.2l2.4 0.2l-1.7 1.7M200.7 52.5l7.7 0.8m-1.8 -1.1l1.8 1.1l-2 0.7M201.2 44.9l6.6 3.5m-1.2 -1.6l1.2 1.6l-2 -0.1M201.7 37.9l5.7 4.8m-0.8 -1.8l0.8 1.8l-1.9 -0.5M202 31.3l5.1 5.4m-0.6 -1.9l0.6 1.9l-1.9 -0.7M202.2 24.9l4.6 5.6m-0.5 -1.9l0.5 1.9l-1.8 -0.8M202.4 18.6l4.2 5.6m-0.4 -1.9l0.4 1.9l-1.7 -0.9M202.6 12.2l3.8 5.9m-0.3 -1.9l0.3 1.9l-1.6 -1M202.8 5.7l3.3 6.2m-0.1 -1.9l0.1 1.9l-1.5 -1.1M205.5 127.2l9.6 -10m-2.5 1l2.5 -1l-0.9 2.6M205.5 120.9l9.6 -10m-2.5 1l2.5 -1l-0.9 2.6M205.5 114.6l9.6 -10m-2.5 1l2.5 -1l-0.9 2.6M205.5 108.3l9.6 -10m-2.5 1l2.5 -1l-0.9 2.6M205.5 102l9.6 -10m-2.5 1l2.5 -1l-0.9 2.6M205.5 95.7l9.5 -9.9m-2.5 1l2.5 -1l-0.9 2.6M205.6 89.3l9.5 -9.7m-2.5 1l2.5 -1l-0.9 2.5M205.6 82.6l9.3 -9m-2.6 0.9l2.6 -0.9l-1 2.5M205.7 75.4l9.1 -7.2m-2.6 0.6l2.6 -0.6l-1.2 2.4M205.8 67.6l8.9 -4.3m-2.7 0l2.7 0l-1.7 2.1M206 59.8l8.6 -1.3m-2.2 -0.7l2.2 0.7l-2 1.3M206.3 52.5l8.1 0.9m-1.9 -1.1l1.9 1.1l-2.1 0.7M206.5 45.6l7.6 1.9m-1.6 -1.3l1.6 1.3l-2.1 0.4M206.7 39.2l7.3 2.3m-1.5 -1.4l1.5 1.4l-2 0.3M206.8 32.8l6.9 2.4m-1.4 -1.4l1.4 1.4l-2 0.2M207.1 26.4l6.5 2.7m-1.3 -1.4l1.3 1.4l-1.9 0.1M207.3 19.6l6.1 3.5m-1.1 -1.6l1.1 1.6l-1.9 -0.2M207.6 12.8l5.3 4.5m-0.8 -1.7l0.8 1.7l-1.8 -0.5M208 6.2l4.6 5.3m-0.5 -1.8l0.5 1.8l-1.7 -0.8M211.2 127.4l9.8 -10.5m-2.5 1l2.5 -1l-0.8 2.6M211.2 121.1l9.8 -10.5m-2.5 1l2.5 -1l-0.8 2.6M211.2 114.8l9.8 -10.5m-2.5 1l2.5 -1l-0.8 2.6M211.2 108.5l9.8 -10.5m-2.5 1l2.5 -1l-0.8 2.6M211.2 102.2l9.8 -10.4m-2.5 1l2.5 -1l-0.8 2.6M211.2 95.8l9.8 -10.3m-2.5 1l2.5 -1l-0.9 2.6M211.3 89.3l9.7 -9.7m-2.5 0.9l2.5 -0.9l-0.9 2.5M211.3 82.2l9.5 -8.2m-2.6 0.7l2.6 -0.7l-1.1 2.5M211.4 74.7l9.3 -5.9m-2.7 0.3l2.7 -0.3l-1.5 2.3M211.5 67.3l9.1 -3.7m-2.7 -0.1l2.7 0.1l-1.8 1.9M211.6 60.4l9 -2.5m-2.5 -0.4l2.5 0.4l-1.9 1.6M211.7 54.1l8.8 -2.4m-2.4 -0.4l2.4 0.4l-1.9 1.6M211.7 48.1l8.7 -3m-2.5 -0.3l2.5 0.3l-1.8 1.7M211.9 42l8.5 -3.4m-2.5 -0.1l2.5 0.1l-1.7 1.8M212 35.3l8.2 -2.7m-2.3 -0.3l2.3 0.3l-1.7 1.6M212.2 28.1l7.8 -0.7m-2 -0.7l2 0.7l-1.8 1.1M212.6 20.5l7.1 1.7m-1.5 -1.2l1.5 1.2l-1.9 0.4M213 13.3l6.1 3.6m-1.1 -1.6l1.1 1.6l-1.9 -0.2M213.5 6.5l5.3 4.6m-0.8 -1.7l0.8 1.7l-1.8 -0.5M216.9 127.6l10 -10.8m-2.5 1l2.5 -1l-0.8 2.6M216.9 121.3l10 -10.8m-2.5 1l2.5 -1l-0.8 2.6M216.9 115l10 -10.8m-2.5 1l2.5 -1l-0.8 2.6M216.9 108.7l10 -10.8m-2.5 1l2.5 -1l-0.8 2.6M216.9 102.3l10 -10.7m-2.5 1l2.5 -1l-0.8 2.6M217 95.8l9.9 -10.3m-2.5 1l2.5 -1l-0.9 2.6M217 89l9.8 -9.2m-2.6 0.9l2.6 -0.9l-1 2.5M217.1 81.9l9.6 -7.6m-2.6 0.6l2.6 -0.6l-1.2 2.4M217.2 74.9l9.5 -6.2m-2.7 0.4l2.7 -0.4l-1.4 2.3M217.2 68.3l9.4 -5.7m-2.7 0.3l2.7 -0.3l-1.5 2.2M217.2 62.3l9.3 -6.1m-2.7 0.4l2.7 -0.4l-1.4 2.3M217.3 56.4l9.3 -7m-2.6 0.6l2.6 -0.6l-1.3 2.4M217.3 50.3l9.1 -7.3m-2.6 0.6l2.6 -0.6l-1.2 2.4M217.4 43.6l8.9 -6.6m-2.6 0.5l2.6 -0.5l-1.3 2.4M217.5 36.3l8.7 -4.7m-2.7 0.1l2.7 -0.1l-1.6 2.1M217.6 28.6l8.5 -1.8m-2.3 -0.5l2.3 0.5l-1.9 1.4M218 20.7l7.9 1.3m-1.8 -1.2l1.8 1.2l-2.1 0.6M218.5 13.3l6.9 3.5m-1.3 -1.6l1.3 1.6l-2.1 -0.1M218.9 6.4l6 4.8m-0.9 -1.9l0.9 1.9l-2 -0.5M222.7 127.7l10.1 -11m-2.5 1l2.5 -1l-0.8 2.6M222.7 121.4l10.1 -11m-2.5 1l2.5 -1l-0.8 2.6M222.7 115.1l10.1 -10.9m-2.5 1l2.5 -1l-0.8 2.6M222.7 108.7l10 -10.9m-2.5 1l2.5 -1l-0.8 2.6M222.7 102.3l10 -10.6m-2.5 1l2.5 -1l-0.8 2.6M222.7 95.7l9.9 -10.1m-2.5 0.9l2.5 -0.9l-0.9 2.5M222.8 89l9.8 -9.2m-2.6 0.8l2.6 -0.8l-1 2.5M222.8 82.3l9.7 -8.4m-2.6 0.7l2.6 -0.7l-1.1 2.5M222.9 75.9l9.7 -8.2m-2.6 0.7l2.6 -0.7l-1.1 2.4M222.9 69.8l9.7 -8.6m-2.6 0.8l2.6 -0.8l-1.1 2.5M222.8 63.8l9.7 -9.3m-2.6 0.9l2.6 -0.9l-1 2.5M222.9 57.6l9.7 -9.4m-2.5 0.9l2.5 -0.9l-1 2.5M222.9 51l9.5 -8.9m-2.6 0.8l2.6 -0.8l-1 2.5M223 44l9.3 -7.5m-2.6 0.6l2.6 -0.6l-1.2 2.4M223.1 36.6l9.2 -5.2m-2.7 0.2l2.7 -0.2l-1.6 2.2M223.2 28.7l9 -2m-2.4 -0.5l2.4 0.5l-2 1.5M223.5 20.8l8.3 1.3m-1.9 -1.3l1.9 1.3l-2.2 0.6M224 13.3l7.3 3.7m-1.4 -1.7l1.4 1.7l-2.2 -0.1M224.4 6.3l6.5 5m-1 -2l1 2l-2.2 -0.5M228.4 127.7l10.1 -11.1m-2.5 1l2.5 -1l-0.8 2.6M228.5 121.4l10.1 -11m-2.5 1l2.5 -1l-0.8 2.6M228.5 115.1l10.1 -11m-2.5 1l2.5 -1l-0.8 2.6M228.5 108.7l10.1 -10.9m-2.5 1l2.5 -1l-0.8 2.6M228.5 102.3l10 -10.6m-2.5 1l2.5 -1l-0.9 2.6M228.5 95.8l10 -10.2m-2.5 1l2.5 -1l-0.9 2.5M228.5 89.3l9.9 -9.9m-2.5 0.9l2.5 -0.9l-0.9 2.5M228.5 83l9.9 -9.8m-2.5 0.9l2.5 -0.9l-0.9 2.5M228.5 76.8l9.9 -10.1m-2.5 0.9l2.5 -0.9l-0.9 2.5M228.5 70.7l10 -10.4m-2.5 1l2.5 -1l-0.9 2.6M228.5 64.4l9.9 -10.4m-2.5 1l2.5 -1l-0.9 2.6M228.6 57.9l9.8 -10.1m-2.5 1l2.5 -1l-0.9 2.5M228.7 51.2l9.7 -9.3m-2.6 0.9l2.6 -0.9l-1 2.5M228.7 44.2l9.5 -7.7m-2.6 0.7l2.6 -0.7l-1.2 2.4M228.8 36.6l9.4 -5.3m-2.7 0.2l2.7 -0.2l-1.6 2.2M228.9 28.7l9.3 -2m-2.5 -0.6l2.5 0.6l-2 1.5M229.2 20.7l8.6 1.4m-1.9 -1.3l1.9 1.3l-2.3 0.6M229.7 13.2l7.6 3.9m-1.4 -1.8l1.4 1.8l-2.3 -0.1M230.1 6.2l6.8 5.3m-1.1 -2.1l1.1 2.1l-2.3 -0.5M234.2 127.8l10.1 -11.1m-2.5 1l2.5 -1l-0.8 2.6M234.2 121.4l10.1 -11.1m-2.5 1l2.5 -1l-0.8 2.6M234.3 115.1l10.1 -11m-2.5 1l2.5 -1l-0.8 2.6M234.3 108.8l10.1 -10.9m-2.5 1l2.5 -1l-0.8 2.6M234.3 102.4l10.1 -10.8m-2.5 1l2.5 -1l-0.8 2.6M234.3 96l10 -10.7m-2.5 1l2.5 -1l-0.8 2.6M234.3 89.7l10 -10.7m-2.5 1l2.5 -1l-0.8 2.6M234.3 83.5l10.1 -10.8m-2.5 1l2.5 -1l-0.8 2.6M234.3 77.2l10.1 -10.9m-2.5 1l2.5 -1l-0.8 2.6M234.3 70.9l10 -10.9m-2.5 1l2.5 -1l-0.8 2.6M234.3 64.5l10 -10.7m-2.5 1l2.5 -1l-0.8 2.6M234.3 58l9.9 -10.2m-2.5 1l2.5 -1l-0.9 2.6M234.4 51.3l9.8 -9.4m-2.6 0.9l2.6 -0.9l-1 2.5M234.5 44.2l9.7 -7.8m-2.6 0.7l2.6 -0.7l-1.2 2.4M234.5 36.6l9.6 -5.3m-2.7 0.2l2.7 -0.2l-1.6 2.2M234.6 28.6l9.4 -1.9m-2.5 -0.6l2.5 0.6l-2.1 1.5M234.9 20.6l8.8 1.6m-2 -1.4l2 1.4l-2.3 0.6M235.4 13.1l7.7 4.1m-1.4 -1.9l1.4 1.9l-2.4 -0.1M235.8 6.1l6.9 5.5m-1.1 -2.1l1.1 2.1l-2.3 -0.5M240 127.8l10.1 -11.1m-2.5 1l2.5 -1l-0.8 2.6M240 121.5l10.1 -11.1m-2.5 1l2.5 -1l-0.8 2.6M240 115.1l10.1 -11.1m-2.5 1l2.5 -1l-0.8 2.6M240.1 108.8l10.1 -11m-2.5 1l2.5 -1l-0.8 2.6M240.1 102.5l10.1 -11m-2.5 1l2.5 -1l-0.8 2.6M240.1 96.2l10.1 -11m-2.5 1l2.5 -1l-0.8 2.6M240.1 89.9l10.1 -11.1m-2.5 1l2.5 -1l-0.8 2.6M240.1 83.6l10.1 -11.1m-2.5 1l2.5 -1l-0.8 2.6M240.1 77.3l10.1 -11m-2.5 1l2.5 -1l-0.8 2.6M240.1 71l10.1 -10.9m-2.5 1l2.5 -1l-0.8 2.6M240.1 64.6l10 -10.7m-2.5 1l2.5 -1l-0.8 2.6M240.1 58l9.9 -10.3m-2.5 1l2.5 -1l-0.9 2.6M240.2 51.3l9.8 -9.4m-2.6 0.9l2.6 -0.9l-1 2.5M240.2 44.2l9.7 -7.8m-2.6 0.6l2.6 -0.6l-1.2 2.4M240.3 36.6l9.7 -5.3m-2.7 0.2l2.7 -0.2l-1.6 2.2M240.3 28.6l9.5 -1.8m-2.5 -0.7l2.5 0.7l-2.1 1.5M240.7 20.5l8.8 1.8m-2 -1.4l2 1.4l-2.4 0.6M241.2 13l7.8 4.2m-1.4 -1.9l1.4 1.9l-2.4 -0.1M241.6 6l7 5.6m-1.1 -2.2l1.1 2.2l-2.3 -0.6M245.8 127.8l10.1 -11.1m-2.5 1l2.5 -1l-0.8 2.6M245.8 121.5l10.1 -11.1m-2.5 1l2.5 -1l-0.8 2.6M245.8 115.2l10.1 -11.1m-2.5 1l2.5 -1l-0.8 2.6M245.8 108.9l10.1 -11.1m-2.5 1l2.5 -1l-0.8 2.6M245.8 102.6l10.1 -11.1m-2.5 1l2.5 -1l-0.8 2.6M245.8 96.3l10.1 -11.1m-2.5 1l2.5 -1l-0.8 2.6M245.8 90l10.1 -11.1m-2.5 1l2.5 -1l-0.8 2.6M245.9 83.7l10.1 -11.1m-2.5 1l2.5 -1l-0.8 2.6M245.9 77.3l10.1 -11.1m-2.5 1l2.5 -1l-0.8 2.6M245.9 71l10.1 -11m-2.5 1l2.5 -1l-0.8 2.6M245.9 64.6l10 -10.8m-2.5 1l2.5 -1l-0.8 2.6M245.9 58.1l10 -10.3m-2.5 1l2.5 -1l-0.9 2.6M246 51.3l9.9 -9.5m-2.6 0.9l2.6 -0.9l-1 2.5M246 44.2l9.8 -7.9m-2.6 0.6l2.6 -0.6l-1.2 2.4M246 36.6l9.7 -5.2m-2.7 0.2l2.7 -0.2l-1.6 2.2M246.1 28.5l9.6 -1.7m-2.5 -0.7l2.5 0.7l-2.2 1.5M246.5 20.5l8.9 1.9m-2 -1.5l2 1.5l-2.4 0.6M247 12.9l7.9 4.3m-1.4 -2l1.4 2l-2.4 -0.2M247.4 6l7 5.7m-1.1 -2.2l1.1 2.2l-2.4 -0.6M251.6 127.8l10.1 -11.2m-2.5 1l2.5 -1l-0.8 2.6M251.6 121.5l10.1 -11.2m-2.5 1l2.5 -1l-0.8 2.6M251.6 115.2l10.1 -11.2m-2.5 1l2.5 -1l-0.8 2.6M251.6 108.9l10.1 -11.2m-2.5 1l2.5 -1l-0.8 2.6M251.6 102.6l10.1 -11.2m-2.5 1l2.5 -1l-0.8 2.6M251.6 96.3l10.1 -11.2m-2.5 1l2.5 -1l-0.8 2.6M251.6 90l10.1 -11.2m-2.5 1l2.5 -1l-0.8 2.6M251.7 83.7l10.1 -11.1m-2.5 1l2.5 -1l-0.8 2.6M251.7 77.3l10.1 -11.1m-2.5 1l2.5 -1l-0.8 2.6M251.7 71l10.1 -11m-2.5 1l2.5 -1l-0.8 2.6M251.7 64.6l10 -10.8m-2.5 1l2.5 -1l-0.8 2.6M251.7 58.1l10 -10.4m-2.5 1l2.5 -1l-0.9 2.6M251.8 51.3l9.9 -9.5m-2.6 0.9l2.6 -0.9l-1 2.5M251.8 44.2l9.8 -7.9m-2.6 0.6l2.6 -0.6l-1.2 2.4M251.8 36.6l9.8 -5.2m-2.7 0.1l2.7 -0.1l-1.6 2.2M251.9 28.5l9.6 -1.6m-2.5 -0.7l2.5 0.7l-2.2 1.5M252.2 20.4l8.9 1.9m-2 -1.5l2 1.5l-2.4 0.5M252.8 12.9l7.9 4.4m-1.4 -2l1.4 2l-2.4 -0.2M253.2 5.9l7.1 5.7m-1.1 -2.2l1.1 2.2l-2.4 -0.6M257.4 127.8l10.1 -11.2m-2.5 1.1l2.5 -1.1l-0.8 2.6M257.4 121.5l10.1 -11.2m-2.5 1.1l2.5 -1.1l-0.8 2.6M257.4 115.2l10.1 -11.2m-2.5 1.1l2.5 -1.1l-0.8 2.6M257.4 108.9l10.1 -11.2m-2.5 1.1l2.5 -1.1l-0.8 2.6M257.4 102.6l10.1 -11.2m-2.5 1l2.5 -1l-0.8 2.6M257.4 96.3l10.1 -11.2m-2.5 1l2.5 -1l-0.8 2.6M257.4 90l10.1 -11.2m-2.5 1l2.5 -1l-0.8 2.6M257.5 83.7l10.1 -11.1m-2.5 1l2.5 -1l-0.8 2.6M257.5 77.3l10.1 -11.1m-2.5 1l2.5 -1l-0.8 2.6M257.5 71l10.1 -11m-2.5 1l2.5 -1l-0.8 2.6M257.5 64.6l10 -10.8m-2.5 1l2.5 -1l-0.8 2.6M257.5 58.1l10 -10.4m-2.5 1l2.5 -1l-0.9 2.6M257.5 51.3l9.9 -9.5m-2.6 0.9l2.6 -0.9l-1 2.5M257.6 44.2l9.8 -7.9m-2.6 0.6l2.6 -0.6l-1.2 2.4M257.6 36.6l9.8 -5.2m-2.7 0.1l2.7 -0.1l-1.6 2.2M257.7 28.5l9.6 -1.6m-2.5 -0.7l2.5 0.7l-2.2 1.5M258 20.4l8.9 2m-2 -1.5l2 1.5l-2.4 0.5M258.5 12.9l7.9 4.4m-1.4 -2l1.4 2l-2.4 -0.2M258.9 5.9l7.1 5.8m-1.1 -2.2l1.1 2.2l-2.4 -0.6M263.2 127.8l10.1 -11.2m-2.5 1l2.5 -1l-0.8 2.6M263.2 121.5l10.1 -11.2m-2.5 1l2.5 -1l-0.8 2.6M263.2 115.2l10.1 -11.2m-2.5 1l2.5 -1l-0.8 2.6M263.2 108.9l10.1 -11.2m-2.5 1l2.5 -1l-0.8 2.6M263.2 102.6l10.1 -11.2m-2.5 1l2.5 -1l-0.8 2.6M263.2 96.3l10.1 -11.2m-2.5 1l2.5 -1l-0.8 2.6M263.2 90l10.1 -11.2m-2.5 1l2.5 -1l-0.8 2.6M263.2 83.7l10.1 -11.1m-2.5 1l2.5 -1l-0.8 2.6M263.3 77.3l10.1 -11.1m-2.5 1l2.5 -1l-0.8 2.6M263.3 71l10.1 -11m-2.5 1l2.5 -1l-0.8 2.6M263.3 64.6l10 -10.8m-2.5 1l2.5 -1l-0.8 2.6M263.3 58.1l10 -10.4m-2.5 1l2.5 -1l-0.9 2.6M263.3 51.3l9.9 -9.5m-2.6 0.9l2.6 -0.9l-1 2.5M263.4 44.2l9.9 -7.8m-2.6 0.6l2.6 -0.6l-1.2 2.4M263.4 36.6l9.8 -5.2m-2.7 0.1l2.7 -0.1l-1.6 2.1M263.5 28.5l9.7 -1.6m-2.5 -0.7l2.5 0.7l-2.2 1.5M263.8 20.4l8.9 2m-2 -1.5l2 1.5l-2.4 0.5M264.3 12.9l7.9 4.4m-1.4 -2l1.4 2l-2.4 -0.2M264.7 5.9l7.1 5.8m-1.1 -2.2l1.1 2.2l-2.4 -0.6M269 127.8l10.1 -11.2m-2.5 1l2.5 -1l-0.8 2.6M269 121.5l10.1 -11.2m-2.5 1l2.5 -1l-0.8 2.6M269 115.2l10.1 -11.2m-2.5 1l2.5 -1l-0.8 2.6M269 108.9l10.1 -11.2m-2.5 1l2.5 -1l-0.8 2.6M269 102.6l10.1 -11.2m-2.5 1l2.5 -1l-0.8 2.6M269 96.3l10.1 -11.2m-2.5 1l2.5 -1l-0.8 2.6M269 90l10.1 -11.2m-2.5 1l2.5 -1l-0.8 2.6M269 83.7l10.1 -11.1m-2.5 1l2.5 -1l-0.8 2.6M269 77.3l10.1 -11.1m-2.5 1l2.5 -1l-0.8 2.6M269.1 71l10.1 -11m-2.5 1l2.5 -1l-0.8 2.6M269.1 64.6l10.1 -10.8m-2.5 1l2.5 -1l-0.8 2.6M269.1 58.1l10 -10.4m-2.5 1l2.5 -1l-0.9 2.6M269.1 51.3l9.9 -9.5m-2.6 0.9l2.6 -0.9l-1 2.5M269.2 44.2l9.9 -7.8m-2.6 0.6l2.6 -0.6l-1.2 2.4M269.2 36.6l9.9 -5.1m-2.7 0.1l2.7 -0.1l-1.6 2.1M269.3 28.5l9.7 -1.5m-2.5 -0.7l2.5 0.7l-2.2 1.5M269.6 20.4l9 2m-2 -1.5l2 1.5l-2.4 0.5M270.1 12.9l7.9 4.5m-1.4 -2l1.4 2l-2.5 -0.2M270.5 5.9l7.2 5.8m-1.1 -2.2l1.1 2.2l-2.4 -0.6M274.8 127.8l10.1 -11.2m-2.5 1l2.5 -1l-0.8 2.6M274.8 121.5l10.1 -11.2m-2.5 1l2.5 -1l-0.8 2.6M274.8 115.2l10.1 -11.2m-2.5 1l2.5 -1l-0.8 2.6M274.8 108.9l10.1 -11.2m-2.5 1l2.5 -1l-0.8 2.6M274.8 102.6l10.1 -11.2m-2.5 1l2.5 -1l-0.8 2.6M274.8 96.3l10.1 -11.2m-2.5 1l2.5 -1l-0.8 2.6M274.8 90l10.1 -11.1m-2.5 1l2.5 -1l-0.8 2.6M274.8 83.7l10.1 -11.1m-2.5 1l2.5 -1l-0.8 2.6M274.8 77.3l10.1 -11.1m-2.5 1l2.5 -1l-0.8 2.6M274.8 71l10.1 -11m-2.5 1l2.5 -1l-0.8 2.6M274.9 64.6l10.1 -10.8m-2.5 1l2.5 -1l-0.8 2.6M274.9 58.1l10 -10.3m-2.5 1l2.5 -1l-0.9 2.6M274.9 51.3l10 -9.5m-2.6 0.9l2.6 -0.9l-1 2.5M274.9 44.2l9.9 -7.8m-2.6 0.6l2.6 -0.6l-1.2 2.4M275 36.6l9.9 -5.1m-2.7 0.1l2.7 -0.1l-1.7 2.1M275 28.4l9.7 -1.5m-2.5 -0.7l2.5 0.7l-2.2 1.5M275.4 20.4l9 2.1m-2 -1.5l2 1.5l-2.4 0.5M275.9 12.9l8 4.5m-1.4 -2l1.4 2l-2.5 -0.2M276.3 5.9l7.2 5.8m-1.1 -2.2l1.1 2.2l-2.4 -0.6"/><path fill="none" stroke="#5070ff" stroke-opacity="0.35" stroke-width="0.8" d="M0 118.8H279.2M0 105H279.2M0 91.3H279.2M0 77.5H279.2M0 63.7H279.2M0 49.9H279.2M0 36.1H279.2M0 22.3H279.2M0 8.6H279.2"/>
<path fill="none" stroke="#b8b8b8" stroke-opacity="0.75" stroke-width="0.6" stroke-dasharray="1 2" d="M34.9 0V125.3M69.8 0V125.3M104.7 0V125.3M139.6 0V125.3M174.5 0V125.3M209.4 0V125.3M244.3 0V125.3M0 112.8H279.2M0 100.2H279.2M0 87.7H279.2M0 75.2H279.2M0 62.6H279.2M0 50.1H279.2M0 37.6H279.2M0 25.1H279.2M0 12.5H279.2"/>
<path fill="none" stroke="#111" stroke-width="0.8" stroke-linejoin="round" d="M35.9 0L34.2 3.3L29.7 7.1L24.4 9.2L19.5 15.9L14.7 25.1L10.5 36.8L12.6 44.7L12.6 56.4L9.1 63.9L11.5 71L11.5 73.9L16.8 79.4L21.6 85.2L24.1 90.6L29.7 96.5L37.7 103.6L43.3 106.9L52.3 104L59.3 104L62.8 105.3L69.8 101.5L75 99.4L82 98.6L85.9 99.8L88.6 103.6L90.7 107.3L94.9 106.9L99.5 106.1L103 109L104 112.8L104 116.9L103 121.1L102.3 125.3M10.8 6.7L13.3 7.5M14.7 7.9L16.4 8.8M20.2 5.8L22.3 3.8M183.2 0L183.9 3.3L187.1 8.8L189.5 14.6L193 23.8L194.7 29.2L198.9 36.8L200 44.7L204.2 50.1L207.3 60.1L212.9 64.3L218.1 70.2L220.6 73.1L220.6 76.9L225.1 81.4L232.1 80.2L240.1 78.1L248.5 75.6L248.1 81.4L246.4 87.7L242.6 96.1L239.1 104.4L233.8 111.9L228.9 116.1L222.3 122.4L218.8 125.3M183.6 0L185.7 5.8L189.2 9.6L191.6 2.5M191.9 2.5L191.9 7.9L197.5 17.1L200.3 24.2L205.9 32.6L207.3 39.3L212.9 47.6L218.1 56.4L219.9 66L221.6 72.3L226.8 71.8L237.3 66.8L244.3 62.6L252 56.8L258.3 54.3L263.5 50.1L270.5 45.9L274 39.7L278.5 31.3L274.3 26.7L268.7 25.1L266.3 20.9L266.6 15.5L262.4 19.2L258.3 24.2L251.3 25.1L249.5 20.9L249.5 16.7L247.4 20.9L245 16.7L244.3 12.5L240.1 8.4L237.3 2.1L239.1 0M243.6 0L247.1 4.6L253 10.4L260 13.8L266.3 12.1L270.5 18L279.2 19.6"/>
<rect x="0" y="0" width="279.2" height="125.3" fill="none" stroke="#000" stroke-width="1"/>
</g>
<g filter="url(#gs)"><path d="M372 427.9h-3" stroke="#000" stroke-width="1"/>
<text transform="translate(357.25 431.20) scale(0.727 1)" font-size="9" font-weight="bold" fill="#000">EQ</text>
<path d="M372 415.37h-3" stroke="#000" stroke-width="1"/>
<text transform="translate(358.34 418.67) scale(0.727 1)" font-size="9" font-weight="bold" fill="#000">3N</text>
<path d="M372 402.84h-3" stroke="#000" stroke-width="1"/>
<text transform="translate(358.34 406.14) scale(0.727 1)" font-size="9" font-weight="bold" fill="#000">6N</text>
<path d="M372 390.31h-3" stroke="#000" stroke-width="1"/>
<text transform="translate(358.34 393.61) scale(0.727 1)" font-size="9" font-weight="bold" fill="#000">9N</text>
<path d="M372 377.78h-3" stroke="#000" stroke-width="1"/>
<text transform="translate(354.70 381.08) scale(0.727 1)" font-size="9" font-weight="bold" fill="#000">12N</text>
<path d="M372 365.25h-3" stroke="#000" stroke-width="1"/>
<text transform="translate(354.70 368.55) scale(0.727 1)" font-size="9" font-weight="bold" fill="#000">15N</text>
<path d="M372 352.72h-3" stroke="#000" stroke-width="1"/>
<text transform="translate(354.70 356.02) scale(0.727 1)" font-size="9" font-weight="bold" fill="#000">18N</text>
<path d="M372 340.19h-3" stroke="#000" stroke-width="1"/>
<text transform="translate(354.70 343.49) scale(0.727 1)" font-size="9" font-weight="bold" fill="#000">21N</text>
<path d="M372 327.66h-3" stroke="#000" stroke-width="1"/>
<text transform="translate(354.70 330.96) scale(0.727 1)" font-size="9" font-weight="bold" fill="#000">24N</text>
<path d="M372 315.13h-3" stroke="#000" stroke-width="1"/>
<text transform="translate(354.70 318.43) scale(0.727 1)" font-size="9" font-weight="bold" fill="#000">27N</text>
<path d="M372 302.6h-3" stroke="#000" stroke-width="1"/>
<text transform="translate(354.70 305.90) scale(0.727 1)" font-size="9" font-weight="bold" fill="#000">30N</text>
<path d="M372 427.9v2.8" stroke="#000" stroke-width="1"/>
<text transform="translate(365.20 438.00) scale(0.735 1)" font-size="9" font-weight="bold" fill="#000">20W</text>
<path d="M406.9 427.9v2.8" stroke="#000" stroke-width="1"/>
<text transform="translate(400.10 438.00) scale(0.735 1)" font-size="9" font-weight="bold" fill="#000">10W</text>
<path d="M441.8 427.9v2.8" stroke="#000" stroke-width="1"/>
<text transform="translate(439.96 438.00) scale(0.735 1)" font-size="9" font-weight="bold" fill="#000">0</text>
<path d="M476.7 427.9v2.8" stroke="#000" stroke-width="1"/>
<text transform="translate(470.82 438.00) scale(0.735 1)" font-size="9" font-weight="bold" fill="#000">10E</text>
<path d="M511.6 427.9v2.8" stroke="#000" stroke-width="1"/>
<text transform="translate(505.72 438.00) scale(0.735 1)" font-size="9" font-weight="bold" fill="#000">20E</text>
<path d="M546.5 427.9v2.8" stroke="#000" stroke-width="1"/>
<text transform="translate(540.62 438.00) scale(0.735 1)" font-size="9" font-weight="bold" fill="#000">30E</text>
<path d="M581.4 427.9v2.8" stroke="#000" stroke-width="1"/>
<text transform="translate(575.52 438.00) scale(0.735 1)" font-size="9" font-weight="bold" fill="#000">40E</text>
<path d="M616.3 427.9v2.8" stroke="#000" stroke-width="1"/>
<text transform="translate(610.42 438.00) scale(0.735 1)" font-size="9" font-weight="bold" fill="#000">50E</text>
<path d="M651.2 427.9v2.8" stroke="#000" stroke-width="1"/>
<text transform="translate(645.32 438.00) scale(0.735 1)" font-size="9" font-weight="bold" fill="#000">60E</text>
<text transform="translate(414.10 296.80) scale(1.074 1)" font-size="11" font-weight="normal" fill="#333">201303</text>
<text transform="translate(483.20 296.80) scale(1.052 1)" font-size="11" font-weight="normal" fill="#333">10m</text>
<text transform="translate(512.30 296.80) scale(0.894 1)" font-size="11" font-weight="normal" fill="#333">Wind</text>
<text transform="translate(541.00 296.80) scale(0.984 1)" font-size="11" font-weight="normal" fill="#333">Speed</text>
<text transform="translate(588.80 296.80) scale(0.981 1)" font-size="11" font-weight="normal" fill="#333">JAS</text></g>
<path d="M411.2 466.7L386.6 469.7L411.2 472.6Z" fill="#a000c8" stroke="#111" stroke-width="0.8" stroke-linejoin="miter"/>
<path d="M611.4 466.7L636.6 469.7L611.4 472.6Z" fill="#f00082" stroke="#111" stroke-width="0.8" stroke-linejoin="miter"/>
<rect x="411.2" y="466.7" width="25.0" height="5.9" fill="#8200dc" stroke="#111" stroke-width="0.8"/>
<rect x="436.2" y="466.7" width="25.0" height="5.9" fill="#1e3cff" stroke="#111" stroke-width="0.8"/>
<rect x="461.2" y="466.7" width="25.0" height="5.9" fill="#00c8c8" stroke="#111" stroke-width="0.8"/>
<rect x="486.3" y="466.7" width="25.0" height="5.9" fill="#00d28c" stroke="#111" stroke-width="0.8"/>
<rect x="511.3" y="466.7" width="25.0" height="5.9" fill="#a0e632" stroke="#111" stroke-width="0.8"/>
<rect x="536.3" y="466.7" width="25.0" height="5.9" fill="#e6dc32" stroke="#111" stroke-width="0.8"/>
<rect x="561.3" y="466.7" width="25.0" height="5.9" fill="#f08228" stroke="#111" stroke-width="0.8"/>
<rect x="586.4" y="466.7" width="25.0" height="5.9" fill="#fa3c3c" stroke="#111" stroke-width="0.8"/>
<g filter="url(#gs)">
<text transform="translate(407.69 478.90) scale(1.000 1)" font-size="6.5" font-weight="bold" fill="#1a1a1a">−2</text>
<text transform="translate(432.72 478.90) scale(1.000 1)" font-size="6.5" font-weight="bold" fill="#1a1a1a">−1</text>
<text transform="translate(459.64 478.90) scale(1.000 1)" font-size="6.5" font-weight="bold" fill="#1a1a1a">0</text>
<text transform="translate(484.67 478.90) scale(1.000 1)" font-size="6.5" font-weight="bold" fill="#1a1a1a">1</text>
<text transform="translate(509.69 478.90) scale(1.000 1)" font-size="6.5" font-weight="bold" fill="#1a1a1a">2</text>
<text transform="translate(534.72 478.90) scale(1.000 1)" font-size="6.5" font-weight="bold" fill="#1a1a1a">3</text>
<text transform="translate(559.74 478.90) scale(1.000 1)" font-size="6.5" font-weight="bold" fill="#1a1a1a">4</text>
<text transform="translate(584.77 478.90) scale(1.000 1)" font-size="6.5" font-weight="bold" fill="#1a1a1a">5</text>
<text transform="translate(609.79 478.90) scale(1.000 1)" font-size="6.5" font-weight="bold" fill="#1a1a1a">6</text>
</g>
</svg>
</body></html>
